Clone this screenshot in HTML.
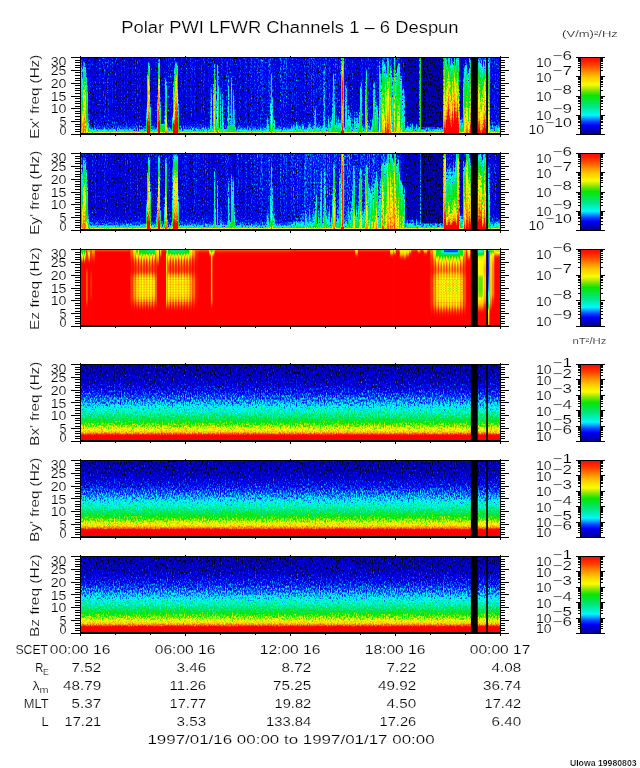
<!DOCTYPE html>
<html><head><meta charset="utf-8"><title>Polar PWI LFWR Channels 1 - 6 Despun</title>
<style>html,body{margin:0;padding:0;background:#fff;overflow:hidden}svg{display:block}
.l{mix-blend-mode:lighten}.d{mix-blend-mode:darken}
text{font-family:"Liberation Sans",sans-serif;fill:#000;stroke:#fff;stroke-width:0.18px}</style>
</head><body>
<svg width="640" height="768" viewBox="0 0 640 768">
<defs>

<filter id="f0" filterUnits="userSpaceOnUse" x="80" y="57" width="421" height="78" color-interpolation-filters="sRGB">
<feTurbulence type="fractalNoise" baseFrequency="0.91 0.5" numOctaves="2" seed="3" result="t"/>
<feColorMatrix in="t" type="matrix" values="1 0 0 0 0  1 0 0 0 0  1 0 0 0 0  0 0 0 0 1" result="n0"/>
<feComponentTransfer in="n0" result="n"><feFuncR type="table" tableValues="0.340 0.340 0.340 0.340 0.360 0.390 0.440 0.460 0.474 0.487 0.500 0.511 0.522 0.533 0.545 0.558 0.572 0.585 0.595 0.600 0.600"/><feFuncG type="table" tableValues="0.340 0.340 0.340 0.340 0.360 0.390 0.440 0.460 0.474 0.487 0.500 0.511 0.522 0.533 0.545 0.558 0.572 0.585 0.595 0.600 0.600"/><feFuncB type="table" tableValues="0.340 0.340 0.340 0.340 0.360 0.390 0.440 0.460 0.474 0.487 0.500 0.511 0.522 0.533 0.545 0.558 0.572 0.585 0.595 0.600 0.600"/></feComponentTransfer>
<feComposite in="SourceGraphic" in2="n" operator="arithmetic" k1="0" k2="1" k3="1" k4="-0.5" result="s"/>
<feComponentTransfer in="s"><feFuncR type="table" tableValues="0 0 0 0 0 0 0 0 0 0 0 0 0 0 0 0 0 0 0 0 0 0 0 0 0 0 0 0 0 0 0 0 0 0 0 0 0 0 0 0 0 0 0 0 0 0 0 0 0 0 0 0 0 0 0 0 0 0 0 0 0 0 0 0 0 0 0 0 0 0 0 0 0 0 0 0 0 0 0 0 0 0 0 0 0 0 0 0 0 0 0 0 0 0.002 0.052 0.101 0.151 0.201 0.25 0.3 0.35 0.399 0.449 0.499 0.548 0.596 0.636 0.677 0.717 0.757 0.797 0.838 0.878 0.918 0.958 0.998 1 1 1 1 1 1 1 1 1 1 1 1 1 1 1 1 1 1 1 1 1 1 1 1 1 1 1 1 1 1 1 1 1 1 1 1 1 1 1 1 1 1 1 1 1 1 1 1 1 1 1 1 1 1 1 1 1 1 1 1 1 1 1 1 1 1 1 1 1 1 1 1 1 1 1 1 1 1 1 1 1 1 1 1 1"/><feFuncG type="table" tableValues="0 0 0 0 0 0 0 0 0 0 0 0 0 0 0 0 0 0 0 0 0 0 0 0 0 0 0 0 0 0 0 0 0.013 0.053 0.093 0.133 0.174 0.214 0.254 0.294 0.334 0.374 0.423 0.478 0.533 0.588 0.643 0.698 0.753 0.808 0.863 0.919 0.974 0.997 0.992 0.987 0.982 0.976 0.971 0.966 0.961 0.955 0.95 0.945 0.94 0.934 0.929 0.924 0.919 0.913 0.908 0.903 0.902 0.902 0.902 0.902 0.902 0.902 0.902 0.902 0.902 0.902 0.902 0.902 0.902 0.902 0.902 0.902 0.902 0.902 0.902 0.902 0.902 0.902 0.902 0.902 0.902 0.902 0.902 0.902 0.902 0.902 0.902 0.902 0.902 0.904 0.913 0.923 0.933 0.942 0.952 0.961 0.971 0.98 0.99 1 0.987 0.972 0.958 0.944 0.93 0.916 0.902 0.888 0.874 0.86 0.846 0.832 0.818 0.804 0.79 0.772 0.751 0.73 0.709 0.688 0.667 0.646 0.625 0.604 0.583 0.562 0.541 0.52 0.499 0.479 0.458 0.438 0.417 0.396 0.376 0.355 0.334 0.314 0.293 0.272 0.252 0.232 0.217 0.201 0.186 0.17 0.155 0.139 0.124 0.108 0.093 0.077 0.062 0.046 0.031 0.015 0 0 0 0 0 0 0 0 0 0 0 0 0 0 0 0 0 0 0 0 0 0 0 0 0 0 0 0 0"/><feFuncB type="table" tableValues="0 0 0 0 0 0 0 0 0 0 0.085 0.297 0.51 0.535 0.56 0.585 0.609 0.634 0.659 0.684 0.709 0.734 0.759 0.784 0.809 0.834 0.859 0.883 0.908 0.933 0.958 0.983 1 1 1 1 1 1 1 1 1 1 1 1 1 1 1 1 1 1 1 1 1 0.986 0.96 0.934 0.908 0.882 0.855 0.829 0.803 0.777 0.751 0.725 0.698 0.672 0.646 0.62 0.594 0.567 0.541 0.515 0.491 0.468 0.444 0.421 0.397 0.374 0.35 0.327 0.304 0.28 0.257 0.233 0.21 0.186 0.163 0.14 0.116 0.093 0.069 0.046 0.022 0 0 0 0 0 0 0 0 0 0 0 0 0 0 0 0 0 0 0 0 0 0 0 0 0 0 0 0 0 0 0 0 0 0 0 0 0 0 0 0 0 0 0 0 0 0 0 0 0 0 0 0 0 0 0 0 0 0 0 0 0 0 0 0 0 0 0 0 0 0 0 0 0 0 0 0 0 0 0 0 0 0 0 0 0 0 0 0 0 0 0 0 0 0 0 0 0 0 0 0 0 0 0 0 0 0 0 0"/></feComponentTransfer>
</filter>

<filter id="f1" filterUnits="userSpaceOnUse" x="80" y="153" width="421" height="78" color-interpolation-filters="sRGB">
<feTurbulence type="fractalNoise" baseFrequency="0.91 0.5" numOctaves="2" seed="10" result="t"/>
<feColorMatrix in="t" type="matrix" values="1 0 0 0 0  1 0 0 0 0  1 0 0 0 0  0 0 0 0 1" result="n0"/>
<feComponentTransfer in="n0" result="n"><feFuncR type="table" tableValues="0.340 0.340 0.340 0.340 0.360 0.390 0.440 0.460 0.474 0.487 0.500 0.511 0.522 0.533 0.545 0.558 0.572 0.585 0.595 0.600 0.600"/><feFuncG type="table" tableValues="0.340 0.340 0.340 0.340 0.360 0.390 0.440 0.460 0.474 0.487 0.500 0.511 0.522 0.533 0.545 0.558 0.572 0.585 0.595 0.600 0.600"/><feFuncB type="table" tableValues="0.340 0.340 0.340 0.340 0.360 0.390 0.440 0.460 0.474 0.487 0.500 0.511 0.522 0.533 0.545 0.558 0.572 0.585 0.595 0.600 0.600"/></feComponentTransfer>
<feComposite in="SourceGraphic" in2="n" operator="arithmetic" k1="0" k2="1" k3="1" k4="-0.5" result="s"/>
<feComponentTransfer in="s"><feFuncR type="table" tableValues="0 0 0 0 0 0 0 0 0 0 0 0 0 0 0 0 0 0 0 0 0 0 0 0 0 0 0 0 0 0 0 0 0 0 0 0 0 0 0 0 0 0 0 0 0 0 0 0 0 0 0 0 0 0 0 0 0 0 0 0 0 0 0 0 0 0 0 0 0 0 0 0 0 0 0 0 0 0 0 0 0 0 0 0 0 0 0 0 0 0 0 0 0 0.002 0.052 0.101 0.151 0.201 0.25 0.3 0.35 0.399 0.449 0.499 0.548 0.596 0.636 0.677 0.717 0.757 0.797 0.838 0.878 0.918 0.958 0.998 1 1 1 1 1 1 1 1 1 1 1 1 1 1 1 1 1 1 1 1 1 1 1 1 1 1 1 1 1 1 1 1 1 1 1 1 1 1 1 1 1 1 1 1 1 1 1 1 1 1 1 1 1 1 1 1 1 1 1 1 1 1 1 1 1 1 1 1 1 1 1 1 1 1 1 1 1 1 1 1 1 1 1 1 1"/><feFuncG type="table" tableValues="0 0 0 0 0 0 0 0 0 0 0 0 0 0 0 0 0 0 0 0 0 0 0 0 0 0 0 0 0 0 0 0 0.013 0.053 0.093 0.133 0.174 0.214 0.254 0.294 0.334 0.374 0.423 0.478 0.533 0.588 0.643 0.698 0.753 0.808 0.863 0.919 0.974 0.997 0.992 0.987 0.982 0.976 0.971 0.966 0.961 0.955 0.95 0.945 0.94 0.934 0.929 0.924 0.919 0.913 0.908 0.903 0.902 0.902 0.902 0.902 0.902 0.902 0.902 0.902 0.902 0.902 0.902 0.902 0.902 0.902 0.902 0.902 0.902 0.902 0.902 0.902 0.902 0.902 0.902 0.902 0.902 0.902 0.902 0.902 0.902 0.902 0.902 0.902 0.902 0.904 0.913 0.923 0.933 0.942 0.952 0.961 0.971 0.98 0.99 1 0.987 0.972 0.958 0.944 0.93 0.916 0.902 0.888 0.874 0.86 0.846 0.832 0.818 0.804 0.79 0.772 0.751 0.73 0.709 0.688 0.667 0.646 0.625 0.604 0.583 0.562 0.541 0.52 0.499 0.479 0.458 0.438 0.417 0.396 0.376 0.355 0.334 0.314 0.293 0.272 0.252 0.232 0.217 0.201 0.186 0.17 0.155 0.139 0.124 0.108 0.093 0.077 0.062 0.046 0.031 0.015 0 0 0 0 0 0 0 0 0 0 0 0 0 0 0 0 0 0 0 0 0 0 0 0 0 0 0 0 0"/><feFuncB type="table" tableValues="0 0 0 0 0 0 0 0 0 0 0.085 0.297 0.51 0.535 0.56 0.585 0.609 0.634 0.659 0.684 0.709 0.734 0.759 0.784 0.809 0.834 0.859 0.883 0.908 0.933 0.958 0.983 1 1 1 1 1 1 1 1 1 1 1 1 1 1 1 1 1 1 1 1 1 0.986 0.96 0.934 0.908 0.882 0.855 0.829 0.803 0.777 0.751 0.725 0.698 0.672 0.646 0.62 0.594 0.567 0.541 0.515 0.491 0.468 0.444 0.421 0.397 0.374 0.35 0.327 0.304 0.28 0.257 0.233 0.21 0.186 0.163 0.14 0.116 0.093 0.069 0.046 0.022 0 0 0 0 0 0 0 0 0 0 0 0 0 0 0 0 0 0 0 0 0 0 0 0 0 0 0 0 0 0 0 0 0 0 0 0 0 0 0 0 0 0 0 0 0 0 0 0 0 0 0 0 0 0 0 0 0 0 0 0 0 0 0 0 0 0 0 0 0 0 0 0 0 0 0 0 0 0 0 0 0 0 0 0 0 0 0 0 0 0 0 0 0 0 0 0 0 0 0 0 0 0 0 0 0 0 0 0"/></feComponentTransfer>
</filter>
<filter id="f2" filterUnits="userSpaceOnUse" x="80" y="249" width="421" height="78" color-interpolation-filters="sRGB"><feComponentTransfer><feFuncR type="table" tableValues="0 0 0 0 0 0 0 0 0 0 0 0 0 0 0 0 0 0 0 0 0 0 0 0 0 0 0 0 0 0 0 0 0 0 0 0 0 0 0 0 0 0 0 0 0 0 0 0 0 0 0 0 0 0 0 0 0 0 0 0 0 0 0 0 0 0 0 0 0 0 0 0 0 0 0 0 0 0 0 0 0 0 0 0 0 0 0 0 0 0 0 0 0 0.002 0.052 0.101 0.151 0.201 0.25 0.3 0.35 0.399 0.449 0.499 0.548 0.596 0.636 0.677 0.717 0.757 0.797 0.838 0.878 0.918 0.958 0.998 1 1 1 1 1 1 1 1 1 1 1 1 1 1 1 1 1 1 1 1 1 1 1 1 1 1 1 1 1 1 1 1 1 1 1 1 1 1 1 1 1 1 1 1 1 1 1 1 1 1 1 1 1 1 1 1 1 1 1 1 1 1 1 1 1 1 1 1 1 1 1 1 1 1 1 1 1 1 1 1 1 1 1 1 1"/><feFuncG type="table" tableValues="0 0 0 0 0 0 0 0 0 0 0 0 0 0 0 0 0 0 0 0 0 0 0 0 0 0 0 0 0 0 0 0 0.013 0.053 0.093 0.133 0.174 0.214 0.254 0.294 0.334 0.374 0.423 0.478 0.533 0.588 0.643 0.698 0.753 0.808 0.863 0.919 0.974 0.997 0.992 0.987 0.982 0.976 0.971 0.966 0.961 0.955 0.95 0.945 0.94 0.934 0.929 0.924 0.919 0.913 0.908 0.903 0.902 0.902 0.902 0.902 0.902 0.902 0.902 0.902 0.902 0.902 0.902 0.902 0.902 0.902 0.902 0.902 0.902 0.902 0.902 0.902 0.902 0.902 0.902 0.902 0.902 0.902 0.902 0.902 0.902 0.902 0.902 0.902 0.902 0.904 0.913 0.923 0.933 0.942 0.952 0.961 0.971 0.98 0.99 1 0.987 0.972 0.958 0.944 0.93 0.916 0.902 0.888 0.874 0.86 0.846 0.832 0.818 0.804 0.79 0.772 0.751 0.73 0.709 0.688 0.667 0.646 0.625 0.604 0.583 0.562 0.541 0.52 0.499 0.479 0.458 0.438 0.417 0.396 0.376 0.355 0.334 0.314 0.293 0.272 0.252 0.232 0.217 0.201 0.186 0.17 0.155 0.139 0.124 0.108 0.093 0.077 0.062 0.046 0.031 0.015 0 0 0 0 0 0 0 0 0 0 0 0 0 0 0 0 0 0 0 0 0 0 0 0 0 0 0 0 0"/><feFuncB type="table" tableValues="0 0 0 0 0 0 0 0 0 0 0.085 0.297 0.51 0.535 0.56 0.585 0.609 0.634 0.659 0.684 0.709 0.734 0.759 0.784 0.809 0.834 0.859 0.883 0.908 0.933 0.958 0.983 1 1 1 1 1 1 1 1 1 1 1 1 1 1 1 1 1 1 1 1 1 0.986 0.96 0.934 0.908 0.882 0.855 0.829 0.803 0.777 0.751 0.725 0.698 0.672 0.646 0.62 0.594 0.567 0.541 0.515 0.491 0.468 0.444 0.421 0.397 0.374 0.35 0.327 0.304 0.28 0.257 0.233 0.21 0.186 0.163 0.14 0.116 0.093 0.069 0.046 0.022 0 0 0 0 0 0 0 0 0 0 0 0 0 0 0 0 0 0 0 0 0 0 0 0 0 0 0 0 0 0 0 0 0 0 0 0 0 0 0 0 0 0 0 0 0 0 0 0 0 0 0 0 0 0 0 0 0 0 0 0 0 0 0 0 0 0 0 0 0 0 0 0 0 0 0 0 0 0 0 0 0 0 0 0 0 0 0 0 0 0 0 0 0 0 0 0 0 0 0 0 0 0 0 0 0 0 0 0"/></feComponentTransfer></filter>

<filter id="f3" filterUnits="userSpaceOnUse" x="80" y="364" width="421" height="78" color-interpolation-filters="sRGB">
<feTurbulence type="fractalNoise" baseFrequency="0.83 0.43" numOctaves="2" seed="24" result="t"/>
<feColorMatrix in="t" type="matrix" values="1 0 0 0 0  1 0 0 0 0  1 0 0 0 0  0 0 0 0 1" result="n0"/>
<feComponentTransfer in="n0" result="n"><feFuncR type="table" tableValues="0.360 0.374 0.388 0.402 0.416 0.430 0.444 0.458 0.472 0.486 0.500 0.514 0.528 0.542 0.556 0.570 0.584 0.598 0.612 0.626 0.640"/><feFuncG type="table" tableValues="0.360 0.374 0.388 0.402 0.416 0.430 0.444 0.458 0.472 0.486 0.500 0.514 0.528 0.542 0.556 0.570 0.584 0.598 0.612 0.626 0.640"/><feFuncB type="table" tableValues="0.360 0.374 0.388 0.402 0.416 0.430 0.444 0.458 0.472 0.486 0.500 0.514 0.528 0.542 0.556 0.570 0.584 0.598 0.612 0.626 0.640"/></feComponentTransfer>
<feComposite in="SourceGraphic" in2="n" operator="arithmetic" k1="0" k2="1" k3="1" k4="-0.5" result="s"/>
<feComponentTransfer in="s"><feFuncR type="table" tableValues="0 0 0 0 0 0 0 0 0 0 0 0 0 0 0 0 0 0 0 0 0 0 0 0 0 0 0 0 0 0 0 0 0 0 0 0 0 0 0 0 0 0 0 0 0 0 0 0 0 0 0 0 0 0 0 0 0 0 0 0 0 0 0 0 0 0 0 0 0 0 0 0 0 0 0 0 0 0 0 0 0 0 0 0 0 0 0 0 0 0 0 0 0 0.002 0.052 0.101 0.151 0.201 0.25 0.3 0.35 0.399 0.449 0.499 0.548 0.596 0.636 0.677 0.717 0.757 0.797 0.838 0.878 0.918 0.958 0.998 1 1 1 1 1 1 1 1 1 1 1 1 1 1 1 1 1 1 1 1 1 1 1 1 1 1 1 1 1 1 1 1 1 1 1 1 1 1 1 1 1 1 1 1 1 1 1 1 1 1 1 1 1 1 1 1 1 1 1 1 1 1 1 1 1 1 1 1 1 1 1 1 1 1 1 1 1 1 1 1 1 1 1 1 1"/><feFuncG type="table" tableValues="0 0 0 0 0 0 0 0 0 0 0 0 0 0 0 0 0 0 0 0 0 0 0 0 0 0 0 0 0 0 0 0 0.013 0.053 0.093 0.133 0.174 0.214 0.254 0.294 0.334 0.374 0.423 0.478 0.533 0.588 0.643 0.698 0.753 0.808 0.863 0.919 0.974 0.997 0.992 0.987 0.982 0.976 0.971 0.966 0.961 0.955 0.95 0.945 0.94 0.934 0.929 0.924 0.919 0.913 0.908 0.903 0.902 0.902 0.902 0.902 0.902 0.902 0.902 0.902 0.902 0.902 0.902 0.902 0.902 0.902 0.902 0.902 0.902 0.902 0.902 0.902 0.902 0.902 0.902 0.902 0.902 0.902 0.902 0.902 0.902 0.902 0.902 0.902 0.902 0.904 0.913 0.923 0.933 0.942 0.952 0.961 0.971 0.98 0.99 1 0.987 0.972 0.958 0.944 0.93 0.916 0.902 0.888 0.874 0.86 0.846 0.832 0.818 0.804 0.79 0.772 0.751 0.73 0.709 0.688 0.667 0.646 0.625 0.604 0.583 0.562 0.541 0.52 0.499 0.479 0.458 0.438 0.417 0.396 0.376 0.355 0.334 0.314 0.293 0.272 0.252 0.232 0.217 0.201 0.186 0.17 0.155 0.139 0.124 0.108 0.093 0.077 0.062 0.046 0.031 0.015 0 0 0 0 0 0 0 0 0 0 0 0 0 0 0 0 0 0 0 0 0 0 0 0 0 0 0 0 0"/><feFuncB type="table" tableValues="0 0 0 0 0 0 0 0 0 0 0.085 0.297 0.51 0.535 0.56 0.585 0.609 0.634 0.659 0.684 0.709 0.734 0.759 0.784 0.809 0.834 0.859 0.883 0.908 0.933 0.958 0.983 1 1 1 1 1 1 1 1 1 1 1 1 1 1 1 1 1 1 1 1 1 0.986 0.96 0.934 0.908 0.882 0.855 0.829 0.803 0.777 0.751 0.725 0.698 0.672 0.646 0.62 0.594 0.567 0.541 0.515 0.491 0.468 0.444 0.421 0.397 0.374 0.35 0.327 0.304 0.28 0.257 0.233 0.21 0.186 0.163 0.14 0.116 0.093 0.069 0.046 0.022 0 0 0 0 0 0 0 0 0 0 0 0 0 0 0 0 0 0 0 0 0 0 0 0 0 0 0 0 0 0 0 0 0 0 0 0 0 0 0 0 0 0 0 0 0 0 0 0 0 0 0 0 0 0 0 0 0 0 0 0 0 0 0 0 0 0 0 0 0 0 0 0 0 0 0 0 0 0 0 0 0 0 0 0 0 0 0 0 0 0 0 0 0 0 0 0 0 0 0 0 0 0 0 0 0 0 0 0"/></feComponentTransfer>
</filter>

<filter id="f4" filterUnits="userSpaceOnUse" x="80" y="460" width="421" height="78" color-interpolation-filters="sRGB">
<feTurbulence type="fractalNoise" baseFrequency="0.83 0.43" numOctaves="2" seed="31" result="t"/>
<feColorMatrix in="t" type="matrix" values="1 0 0 0 0  1 0 0 0 0  1 0 0 0 0  0 0 0 0 1" result="n0"/>
<feComponentTransfer in="n0" result="n"><feFuncR type="table" tableValues="0.360 0.374 0.388 0.402 0.416 0.430 0.444 0.458 0.472 0.486 0.500 0.514 0.528 0.542 0.556 0.570 0.584 0.598 0.612 0.626 0.640"/><feFuncG type="table" tableValues="0.360 0.374 0.388 0.402 0.416 0.430 0.444 0.458 0.472 0.486 0.500 0.514 0.528 0.542 0.556 0.570 0.584 0.598 0.612 0.626 0.640"/><feFuncB type="table" tableValues="0.360 0.374 0.388 0.402 0.416 0.430 0.444 0.458 0.472 0.486 0.500 0.514 0.528 0.542 0.556 0.570 0.584 0.598 0.612 0.626 0.640"/></feComponentTransfer>
<feComposite in="SourceGraphic" in2="n" operator="arithmetic" k1="0" k2="1" k3="1" k4="-0.5" result="s"/>
<feComponentTransfer in="s"><feFuncR type="table" tableValues="0 0 0 0 0 0 0 0 0 0 0 0 0 0 0 0 0 0 0 0 0 0 0 0 0 0 0 0 0 0 0 0 0 0 0 0 0 0 0 0 0 0 0 0 0 0 0 0 0 0 0 0 0 0 0 0 0 0 0 0 0 0 0 0 0 0 0 0 0 0 0 0 0 0 0 0 0 0 0 0 0 0 0 0 0 0 0 0 0 0 0 0 0 0.002 0.052 0.101 0.151 0.201 0.25 0.3 0.35 0.399 0.449 0.499 0.548 0.596 0.636 0.677 0.717 0.757 0.797 0.838 0.878 0.918 0.958 0.998 1 1 1 1 1 1 1 1 1 1 1 1 1 1 1 1 1 1 1 1 1 1 1 1 1 1 1 1 1 1 1 1 1 1 1 1 1 1 1 1 1 1 1 1 1 1 1 1 1 1 1 1 1 1 1 1 1 1 1 1 1 1 1 1 1 1 1 1 1 1 1 1 1 1 1 1 1 1 1 1 1 1 1 1 1"/><feFuncG type="table" tableValues="0 0 0 0 0 0 0 0 0 0 0 0 0 0 0 0 0 0 0 0 0 0 0 0 0 0 0 0 0 0 0 0 0.013 0.053 0.093 0.133 0.174 0.214 0.254 0.294 0.334 0.374 0.423 0.478 0.533 0.588 0.643 0.698 0.753 0.808 0.863 0.919 0.974 0.997 0.992 0.987 0.982 0.976 0.971 0.966 0.961 0.955 0.95 0.945 0.94 0.934 0.929 0.924 0.919 0.913 0.908 0.903 0.902 0.902 0.902 0.902 0.902 0.902 0.902 0.902 0.902 0.902 0.902 0.902 0.902 0.902 0.902 0.902 0.902 0.902 0.902 0.902 0.902 0.902 0.902 0.902 0.902 0.902 0.902 0.902 0.902 0.902 0.902 0.902 0.902 0.904 0.913 0.923 0.933 0.942 0.952 0.961 0.971 0.98 0.99 1 0.987 0.972 0.958 0.944 0.93 0.916 0.902 0.888 0.874 0.86 0.846 0.832 0.818 0.804 0.79 0.772 0.751 0.73 0.709 0.688 0.667 0.646 0.625 0.604 0.583 0.562 0.541 0.52 0.499 0.479 0.458 0.438 0.417 0.396 0.376 0.355 0.334 0.314 0.293 0.272 0.252 0.232 0.217 0.201 0.186 0.17 0.155 0.139 0.124 0.108 0.093 0.077 0.062 0.046 0.031 0.015 0 0 0 0 0 0 0 0 0 0 0 0 0 0 0 0 0 0 0 0 0 0 0 0 0 0 0 0 0"/><feFuncB type="table" tableValues="0 0 0 0 0 0 0 0 0 0 0.085 0.297 0.51 0.535 0.56 0.585 0.609 0.634 0.659 0.684 0.709 0.734 0.759 0.784 0.809 0.834 0.859 0.883 0.908 0.933 0.958 0.983 1 1 1 1 1 1 1 1 1 1 1 1 1 1 1 1 1 1 1 1 1 0.986 0.96 0.934 0.908 0.882 0.855 0.829 0.803 0.777 0.751 0.725 0.698 0.672 0.646 0.62 0.594 0.567 0.541 0.515 0.491 0.468 0.444 0.421 0.397 0.374 0.35 0.327 0.304 0.28 0.257 0.233 0.21 0.186 0.163 0.14 0.116 0.093 0.069 0.046 0.022 0 0 0 0 0 0 0 0 0 0 0 0 0 0 0 0 0 0 0 0 0 0 0 0 0 0 0 0 0 0 0 0 0 0 0 0 0 0 0 0 0 0 0 0 0 0 0 0 0 0 0 0 0 0 0 0 0 0 0 0 0 0 0 0 0 0 0 0 0 0 0 0 0 0 0 0 0 0 0 0 0 0 0 0 0 0 0 0 0 0 0 0 0 0 0 0 0 0 0 0 0 0 0 0 0 0 0 0"/></feComponentTransfer>
</filter>

<filter id="f5" filterUnits="userSpaceOnUse" x="80" y="556" width="421" height="78" color-interpolation-filters="sRGB">
<feTurbulence type="fractalNoise" baseFrequency="0.83 0.43" numOctaves="2" seed="38" result="t"/>
<feColorMatrix in="t" type="matrix" values="1 0 0 0 0  1 0 0 0 0  1 0 0 0 0  0 0 0 0 1" result="n0"/>
<feComponentTransfer in="n0" result="n"><feFuncR type="table" tableValues="0.360 0.374 0.388 0.402 0.416 0.430 0.444 0.458 0.472 0.486 0.500 0.514 0.528 0.542 0.556 0.570 0.584 0.598 0.612 0.626 0.640"/><feFuncG type="table" tableValues="0.360 0.374 0.388 0.402 0.416 0.430 0.444 0.458 0.472 0.486 0.500 0.514 0.528 0.542 0.556 0.570 0.584 0.598 0.612 0.626 0.640"/><feFuncB type="table" tableValues="0.360 0.374 0.388 0.402 0.416 0.430 0.444 0.458 0.472 0.486 0.500 0.514 0.528 0.542 0.556 0.570 0.584 0.598 0.612 0.626 0.640"/></feComponentTransfer>
<feComposite in="SourceGraphic" in2="n" operator="arithmetic" k1="0" k2="1" k3="1" k4="-0.5" result="s"/>
<feComponentTransfer in="s"><feFuncR type="table" tableValues="0 0 0 0 0 0 0 0 0 0 0 0 0 0 0 0 0 0 0 0 0 0 0 0 0 0 0 0 0 0 0 0 0 0 0 0 0 0 0 0 0 0 0 0 0 0 0 0 0 0 0 0 0 0 0 0 0 0 0 0 0 0 0 0 0 0 0 0 0 0 0 0 0 0 0 0 0 0 0 0 0 0 0 0 0 0 0 0 0 0 0 0 0 0.002 0.052 0.101 0.151 0.201 0.25 0.3 0.35 0.399 0.449 0.499 0.548 0.596 0.636 0.677 0.717 0.757 0.797 0.838 0.878 0.918 0.958 0.998 1 1 1 1 1 1 1 1 1 1 1 1 1 1 1 1 1 1 1 1 1 1 1 1 1 1 1 1 1 1 1 1 1 1 1 1 1 1 1 1 1 1 1 1 1 1 1 1 1 1 1 1 1 1 1 1 1 1 1 1 1 1 1 1 1 1 1 1 1 1 1 1 1 1 1 1 1 1 1 1 1 1 1 1 1"/><feFuncG type="table" tableValues="0 0 0 0 0 0 0 0 0 0 0 0 0 0 0 0 0 0 0 0 0 0 0 0 0 0 0 0 0 0 0 0 0.013 0.053 0.093 0.133 0.174 0.214 0.254 0.294 0.334 0.374 0.423 0.478 0.533 0.588 0.643 0.698 0.753 0.808 0.863 0.919 0.974 0.997 0.992 0.987 0.982 0.976 0.971 0.966 0.961 0.955 0.95 0.945 0.94 0.934 0.929 0.924 0.919 0.913 0.908 0.903 0.902 0.902 0.902 0.902 0.902 0.902 0.902 0.902 0.902 0.902 0.902 0.902 0.902 0.902 0.902 0.902 0.902 0.902 0.902 0.902 0.902 0.902 0.902 0.902 0.902 0.902 0.902 0.902 0.902 0.902 0.902 0.902 0.902 0.904 0.913 0.923 0.933 0.942 0.952 0.961 0.971 0.98 0.99 1 0.987 0.972 0.958 0.944 0.93 0.916 0.902 0.888 0.874 0.86 0.846 0.832 0.818 0.804 0.79 0.772 0.751 0.73 0.709 0.688 0.667 0.646 0.625 0.604 0.583 0.562 0.541 0.52 0.499 0.479 0.458 0.438 0.417 0.396 0.376 0.355 0.334 0.314 0.293 0.272 0.252 0.232 0.217 0.201 0.186 0.17 0.155 0.139 0.124 0.108 0.093 0.077 0.062 0.046 0.031 0.015 0 0 0 0 0 0 0 0 0 0 0 0 0 0 0 0 0 0 0 0 0 0 0 0 0 0 0 0 0"/><feFuncB type="table" tableValues="0 0 0 0 0 0 0 0 0 0 0.085 0.297 0.51 0.535 0.56 0.585 0.609 0.634 0.659 0.684 0.709 0.734 0.759 0.784 0.809 0.834 0.859 0.883 0.908 0.933 0.958 0.983 1 1 1 1 1 1 1 1 1 1 1 1 1 1 1 1 1 1 1 1 1 0.986 0.96 0.934 0.908 0.882 0.855 0.829 0.803 0.777 0.751 0.725 0.698 0.672 0.646 0.62 0.594 0.567 0.541 0.515 0.491 0.468 0.444 0.421 0.397 0.374 0.35 0.327 0.304 0.28 0.257 0.233 0.21 0.186 0.163 0.14 0.116 0.093 0.069 0.046 0.022 0 0 0 0 0 0 0 0 0 0 0 0 0 0 0 0 0 0 0 0 0 0 0 0 0 0 0 0 0 0 0 0 0 0 0 0 0 0 0 0 0 0 0 0 0 0 0 0 0 0 0 0 0 0 0 0 0 0 0 0 0 0 0 0 0 0 0 0 0 0 0 0 0 0 0 0 0 0 0 0 0 0 0 0 0 0 0 0 0 0 0 0 0 0 0 0 0 0 0 0 0 0 0 0 0 0 0 0"/></feComponentTransfer>
</filter>
<filter id="bl2" x="-20%" y="-20%" width="140%" height="140%" color-interpolation-filters="sRGB"><feGaussianBlur stdDeviation="1.6 2.5"/></filter>
<filter id="bl" x="-5%" y="-5%" width="110%" height="110%" color-interpolation-filters="sRGB"><feGaussianBlur stdDeviation="0.6 0.9"/></filter>
<linearGradient id="g0" x1="0" y1="0" x2="0" y2="1"><stop offset="0.000" stop-color="#202020"/><stop offset="0.325" stop-color="#1e1e1e"/><stop offset="0.714" stop-color="#1e1e1e"/><stop offset="0.805" stop-color="#222222"/><stop offset="0.870" stop-color="#282828"/><stop offset="0.916" stop-color="#343434"/><stop offset="0.948" stop-color="#464646"/><stop offset="0.966" stop-color="#616161"/><stop offset="0.977" stop-color="#9e9e9e"/><stop offset="1.000" stop-color="#9e9e9e"/></linearGradient>
<linearGradient id="g1" x1="0" y1="0" x2="0" y2="1"><stop offset="0.000" stop-color="#222222"/><stop offset="0.519" stop-color="#222222"/><stop offset="1.000" stop-color="#202020"/></linearGradient>
<linearGradient id="g2" x1="0" y1="0" x2="0" y2="1"><stop offset="0.000" stop-color="#2a2a2a"/><stop offset="0.519" stop-color="#282828"/><stop offset="1.000" stop-color="#262626"/></linearGradient>
<linearGradient id="g3" x1="0" y1="0" x2="0" y2="1"><stop offset="0.000" stop-color="#242424"/><stop offset="0.519" stop-color="#222222"/><stop offset="1.000" stop-color="#222222"/></linearGradient>
<linearGradient id="g4" x1="0" y1="0" x2="0" y2="1"><stop offset="0.000" stop-color="#1e1e1e"/><stop offset="0.519" stop-color="#1e1e1e"/><stop offset="1.000" stop-color="#1e1e1e"/></linearGradient>
<linearGradient id="g5" x1="0" y1="0" x2="0" y2="1"><stop offset="0.000" stop-color="#262626"/><stop offset="0.519" stop-color="#242424"/><stop offset="1.000" stop-color="#222222"/></linearGradient>
<linearGradient id="g6" x1="0" y1="0" x2="0" y2="1"><stop offset="0.000" stop-color="#1c1c1c"/><stop offset="0.519" stop-color="#1c1c1c"/><stop offset="1.000" stop-color="#1c1c1c"/></linearGradient>
<linearGradient id="g7" x1="0" y1="0" x2="0" y2="1"><stop offset="0.000" stop-color="#262626"/><stop offset="0.519" stop-color="#242424"/><stop offset="1.000" stop-color="#242424"/></linearGradient>
<linearGradient id="g8" x1="0" y1="0" x2="0" y2="1"><stop offset="0.000" stop-color="#2a2a2a"/><stop offset="0.519" stop-color="#282828"/><stop offset="1.000" stop-color="#282828"/></linearGradient>
<linearGradient id="g9" x1="0" y1="0" x2="0" y2="1"><stop offset="0.000" stop-color="#1e1e1e"/><stop offset="0.519" stop-color="#1e1e1e"/><stop offset="1.000" stop-color="#1c1c1c"/></linearGradient>
<linearGradient id="g10" x1="0" y1="0" x2="0" y2="1"><stop offset="0.000" stop-color="#2c2c2c"/><stop offset="0.519" stop-color="#2a2a2a"/><stop offset="1.000" stop-color="#282828"/></linearGradient>
<linearGradient id="g11" x1="0" y1="0" x2="0" y2="1"><stop offset="0.000" stop-color="#282828"/><stop offset="0.519" stop-color="#262626"/><stop offset="1.000" stop-color="#262626"/></linearGradient>
<linearGradient id="g12" x1="0" y1="0" x2="0" y2="1"><stop offset="0.000" stop-color="#202020"/><stop offset="0.519" stop-color="#202020"/><stop offset="1.000" stop-color="#1e1e1e"/></linearGradient>
<linearGradient id="g13" x1="0" y1="0" x2="0" y2="1"><stop offset="0.000" stop-color="#202020"/><stop offset="0.519" stop-color="#1e1e1e"/><stop offset="1.000" stop-color="#1e1e1e"/></linearGradient>
<linearGradient id="g14" x1="0" y1="0" x2="0" y2="1"><stop offset="0.000" stop-color="#282828"/><stop offset="0.519" stop-color="#262626"/><stop offset="1.000" stop-color="#242424"/></linearGradient>
<linearGradient id="g15" x1="0" y1="0" x2="0" y2="1"><stop offset="0.000" stop-color="#1a1a1a"/><stop offset="0.519" stop-color="#1a1a1a"/><stop offset="1.000" stop-color="#1a1a1a"/></linearGradient>
<linearGradient id="g16" x1="0" y1="0" x2="0" y2="1"><stop offset="0.000" stop-color="#1e1e1e"/><stop offset="0.519" stop-color="#1c1c1c"/><stop offset="1.000" stop-color="#1c1c1c"/></linearGradient>
<linearGradient id="g17" x1="0" y1="0" x2="0" y2="1"><stop offset="0.000" stop-color="#282828"/><stop offset="0.519" stop-color="#282828"/><stop offset="1.000" stop-color="#262626"/></linearGradient>
<linearGradient id="g18" x1="0" y1="0" x2="0" y2="1"><stop offset="0.000" stop-color="#202020"/><stop offset="0.519" stop-color="#202020"/><stop offset="1.000" stop-color="#202020"/></linearGradient>
<linearGradient id="g19" x1="0" y1="0" x2="0" y2="1"><stop offset="0.000" stop-color="#242424"/><stop offset="0.519" stop-color="#242424"/><stop offset="1.000" stop-color="#222222"/></linearGradient>
<linearGradient id="g20" x1="0" y1="0" x2="0" y2="1"><stop offset="0.000" stop-color="#262626"/><stop offset="0.519" stop-color="#262626"/><stop offset="1.000" stop-color="#242424"/></linearGradient>
<linearGradient id="g21" x1="0" y1="0" x2="0" y2="1"><stop offset="0.000" stop-color="#222222"/><stop offset="0.519" stop-color="#202020"/><stop offset="1.000" stop-color="#202020"/></linearGradient>
<linearGradient id="g22" x1="0" y1="0" x2="0" y2="1"><stop offset="0.000" stop-color="#1c1c1c"/><stop offset="0.519" stop-color="#1c1c1c"/><stop offset="1.000" stop-color="#1a1a1a"/></linearGradient>
<linearGradient id="g23" x1="0" y1="0" x2="0" y2="1"><stop offset="0.000" stop-color="#2a2a2a"/><stop offset="0.519" stop-color="#2a2a2a"/><stop offset="1.000" stop-color="#282828"/></linearGradient>
<linearGradient id="g24" x1="0" y1="0" x2="0" y2="1"><stop offset="0.000" stop-color="#1c1c1c"/><stop offset="0.519" stop-color="#1a1a1a"/><stop offset="1.000" stop-color="#1a1a1a"/></linearGradient>
<linearGradient id="g25" x1="0" y1="0" x2="0" y2="1"><stop offset="0.000" stop-color="#242424"/><stop offset="0.584" stop-color="#222222"/><stop offset="1.000" stop-color="#202020"/></linearGradient>
<linearGradient id="g26" x1="0" y1="0" x2="0" y2="1"><stop offset="0.000" stop-color="#2c2c2c"/><stop offset="0.584" stop-color="#282828"/><stop offset="1.000" stop-color="#242424"/></linearGradient>
<linearGradient id="g27" x1="0" y1="0" x2="0" y2="1"><stop offset="0.000" stop-color="#242424"/><stop offset="0.584" stop-color="#222222"/><stop offset="1.000" stop-color="#1e1e1e"/></linearGradient>
<linearGradient id="g28" x1="0" y1="0" x2="0" y2="1"><stop offset="0.000" stop-color="#222222"/><stop offset="0.584" stop-color="#202020"/><stop offset="1.000" stop-color="#1e1e1e"/></linearGradient>
<linearGradient id="g29" x1="0" y1="0" x2="0" y2="1"><stop offset="0.000" stop-color="#2e2e2e"/><stop offset="0.584" stop-color="#2a2a2a"/><stop offset="1.000" stop-color="#242424"/></linearGradient>
<linearGradient id="g30" x1="0" y1="0" x2="0" y2="1"><stop offset="0.000" stop-color="#2a2a2a"/><stop offset="0.584" stop-color="#262626"/><stop offset="1.000" stop-color="#222222"/></linearGradient>
<linearGradient id="g31" x1="0" y1="0" x2="0" y2="1"><stop offset="0.000" stop-color="#262626"/><stop offset="0.584" stop-color="#242424"/><stop offset="1.000" stop-color="#202020"/></linearGradient>
<linearGradient id="g32" x1="0" y1="0" x2="0" y2="1"><stop offset="0.000" stop-color="#303030"/><stop offset="0.584" stop-color="#2a2a2a"/><stop offset="1.000" stop-color="#262626"/></linearGradient>
<linearGradient id="g33" x1="0" y1="0" x2="0" y2="1"><stop offset="0.000" stop-color="#202020"/><stop offset="0.584" stop-color="#202020"/><stop offset="1.000" stop-color="#1e1e1e"/></linearGradient>
<linearGradient id="g34" x1="0" y1="0" x2="0" y2="1"><stop offset="0.000" stop-color="#2e2e2e"/><stop offset="0.584" stop-color="#2a2a2a"/><stop offset="1.000" stop-color="#262626"/></linearGradient>
<linearGradient id="g35" x1="0" y1="0" x2="0" y2="1"><stop offset="0.000" stop-color="#323232"/><stop offset="0.584" stop-color="#2c2c2c"/><stop offset="1.000" stop-color="#262626"/></linearGradient>
<linearGradient id="g36" x1="0" y1="0" x2="0" y2="1"><stop offset="0.000" stop-color="#282828"/><stop offset="0.584" stop-color="#262626"/><stop offset="1.000" stop-color="#222222"/></linearGradient>
<linearGradient id="g37" x1="0" y1="0" x2="0" y2="1"><stop offset="0.000" stop-color="#2a2a2a"/><stop offset="0.584" stop-color="#282828"/><stop offset="1.000" stop-color="#242424"/></linearGradient>
<linearGradient id="g38" x1="0" y1="0" x2="0" y2="1"><stop offset="0.000" stop-color="#2c2c2c"/><stop offset="0.584" stop-color="#2a2a2a"/><stop offset="1.000" stop-color="#242424"/></linearGradient>
<linearGradient id="g39" x1="0" y1="0" x2="0" y2="1"><stop offset="0.000" stop-color="#282828"/><stop offset="0.584" stop-color="#242424"/><stop offset="1.000" stop-color="#222222"/></linearGradient>
<linearGradient id="g40" x1="0" y1="0" x2="0" y2="1"><stop offset="0.000" stop-color="#303030"/><stop offset="0.584" stop-color="#2c2c2c"/><stop offset="1.000" stop-color="#262626"/></linearGradient>
<linearGradient id="g41" x1="0" y1="0" x2="0" y2="1"><stop offset="0.000" stop-color="#2a2a2a"/><stop offset="0.584" stop-color="#282828"/><stop offset="1.000" stop-color="#222222"/></linearGradient>
<linearGradient id="g42" x1="0" y1="0" x2="0" y2="1"><stop offset="0.000" stop-color="#222222"/><stop offset="0.584" stop-color="#222222"/><stop offset="1.000" stop-color="#1e1e1e"/></linearGradient>
<linearGradient id="g43" x1="0" y1="0" x2="0" y2="1"><stop offset="0.000" stop-color="#202020"/><stop offset="0.584" stop-color="#1e1e1e"/><stop offset="1.000" stop-color="#1e1e1e"/></linearGradient>
<linearGradient id="g44" x1="0" y1="0" x2="0" y2="1"><stop offset="0.026" stop-color="#242424"/><stop offset="0.156" stop-color="#424242"/><stop offset="0.519" stop-color="#616161"/><stop offset="0.909" stop-color="#757575"/><stop offset="0.987" stop-color="#8a8a8a"/></linearGradient>
<linearGradient id="g45" x1="0" y1="0" x2="0" y2="1"><stop offset="0.039" stop-color="#242424"/><stop offset="0.117" stop-color="#404040"/><stop offset="0.208" stop-color="#616161"/><stop offset="0.338" stop-color="#797979"/><stop offset="0.494" stop-color="#8e8e8e"/><stop offset="0.649" stop-color="#9e9e9e"/><stop offset="0.805" stop-color="#aeaeae"/><stop offset="0.987" stop-color="#bfbfbf"/></linearGradient>
<linearGradient id="g46" x1="0" y1="0" x2="0" y2="1"><stop offset="0.182" stop-color="#202020"/><stop offset="0.286" stop-color="#4c4c4c"/><stop offset="0.584" stop-color="#6b6b6b"/><stop offset="0.779" stop-color="#757575"/><stop offset="0.909" stop-color="#8a8a8a"/><stop offset="0.987" stop-color="#9e9e9e"/></linearGradient>
<linearGradient id="g47" x1="0" y1="0" x2="0" y2="1"><stop offset="0.649" stop-color="#1c1c1c"/><stop offset="0.883" stop-color="#383838"/><stop offset="0.987" stop-color="#616161"/></linearGradient>
<linearGradient id="g48" x1="0" y1="0" x2="0" y2="1"><stop offset="0.039" stop-color="#202020"/><stop offset="0.078" stop-color="#3c3c3c"/><stop offset="0.156" stop-color="#616161"/><stop offset="0.260" stop-color="#828282"/><stop offset="0.390" stop-color="#969696"/><stop offset="0.584" stop-color="#a6a6a6"/><stop offset="0.714" stop-color="#b3b3b3"/><stop offset="0.805" stop-color="#c1c1c1"/><stop offset="0.857" stop-color="#d1d1d1"/><stop offset="0.890" stop-color="#fefefe"/><stop offset="1.000" stop-color="#fefefe"/></linearGradient>
<linearGradient id="g49" x1="0" y1="0" x2="0" y2="1"><stop offset="0.078" stop-color="#202020"/><stop offset="0.260" stop-color="#4c4c4c"/><stop offset="0.649" stop-color="#717171"/><stop offset="0.987" stop-color="#808080"/></linearGradient>
<linearGradient id="g50" x1="0" y1="0" x2="0" y2="1"><stop offset="0.013" stop-color="#242424"/><stop offset="0.052" stop-color="#404040"/><stop offset="0.130" stop-color="#656565"/><stop offset="0.260" stop-color="#868686"/><stop offset="0.390" stop-color="#9e9e9e"/><stop offset="0.494" stop-color="#aeaeae"/><stop offset="0.649" stop-color="#bbbbbb"/><stop offset="0.753" stop-color="#c5c5c5"/><stop offset="0.844" stop-color="#d1d1d1"/><stop offset="0.883" stop-color="#fefefe"/><stop offset="1.000" stop-color="#fefefe"/></linearGradient>
<linearGradient id="g51" x1="0" y1="0" x2="0" y2="1"><stop offset="0.078" stop-color="#202020"/><stop offset="0.325" stop-color="#4c4c4c"/><stop offset="0.649" stop-color="#6b6b6b"/><stop offset="0.987" stop-color="#808080"/></linearGradient>
<linearGradient id="g52" x1="0" y1="0" x2="0" y2="1"><stop offset="0.234" stop-color="#202020"/><stop offset="0.312" stop-color="#424242"/><stop offset="0.442" stop-color="#656565"/><stop offset="0.714" stop-color="#808080"/><stop offset="0.857" stop-color="#929292"/><stop offset="0.935" stop-color="#aaaaaa"/><stop offset="0.987" stop-color="#bbbbbb"/></linearGradient>
<linearGradient id="g53" x1="0" y1="0" x2="0" y2="1"><stop offset="0.104" stop-color="#242424"/><stop offset="0.182" stop-color="#4c4c4c"/><stop offset="0.312" stop-color="#717171"/><stop offset="0.519" stop-color="#868686"/><stop offset="0.714" stop-color="#969696"/><stop offset="0.818" stop-color="#b3b3b3"/><stop offset="0.870" stop-color="#dbdbdb"/><stop offset="0.896" stop-color="#fefefe"/><stop offset="1.000" stop-color="#fefefe"/></linearGradient>
<linearGradient id="g54" x1="0" y1="0" x2="0" y2="1"><stop offset="0.052" stop-color="#242424"/><stop offset="0.104" stop-color="#4c4c4c"/><stop offset="0.182" stop-color="#717171"/><stop offset="0.286" stop-color="#8e8e8e"/><stop offset="0.390" stop-color="#9e9e9e"/><stop offset="0.545" stop-color="#aeaeae"/><stop offset="0.662" stop-color="#c3c3c3"/><stop offset="0.753" stop-color="#cdcdcd"/><stop offset="0.831" stop-color="#d7d7d7"/><stop offset="0.870" stop-color="#fefefe"/><stop offset="1.000" stop-color="#fefefe"/></linearGradient>
<linearGradient id="g55" x1="0" y1="0" x2="0" y2="1"><stop offset="0.104" stop-color="#242424"/><stop offset="0.260" stop-color="#595959"/><stop offset="0.649" stop-color="#757575"/><stop offset="0.987" stop-color="#808080"/></linearGradient>
<linearGradient id="g56" x1="0" y1="0" x2="0" y2="1"><stop offset="0.312" stop-color="#1e1e1e"/><stop offset="0.416" stop-color="#383838"/><stop offset="0.779" stop-color="#4c4c4c"/><stop offset="0.987" stop-color="#656565"/></linearGradient>
<linearGradient id="g57" x1="0" y1="0" x2="0" y2="1"><stop offset="0.065" stop-color="#202020"/><stop offset="0.117" stop-color="#424242"/><stop offset="0.208" stop-color="#656565"/><stop offset="0.338" stop-color="#7d7d7d"/><stop offset="0.584" stop-color="#8a8a8a"/><stop offset="0.987" stop-color="#929292"/></linearGradient>
<linearGradient id="g58" x1="0" y1="0" x2="0" y2="1"><stop offset="0.065" stop-color="#202020"/><stop offset="0.130" stop-color="#424242"/><stop offset="0.286" stop-color="#6d6d6d"/><stop offset="0.519" stop-color="#868686"/><stop offset="0.753" stop-color="#9a9a9a"/><stop offset="0.909" stop-color="#b3b3b3"/><stop offset="0.987" stop-color="#bfbfbf"/></linearGradient>
<linearGradient id="g59" x1="0" y1="0" x2="0" y2="1"><stop offset="0.364" stop-color="#1e1e1e"/><stop offset="0.468" stop-color="#383838"/><stop offset="0.987" stop-color="#575757"/></linearGradient>
<linearGradient id="g60" x1="0" y1="0" x2="0" y2="1"><stop offset="0.390" stop-color="#1e1e1e"/><stop offset="0.494" stop-color="#3c3c3c"/><stop offset="0.987" stop-color="#5d5d5d"/></linearGradient>
<linearGradient id="g61" x1="0" y1="0" x2="0" y2="1"><stop offset="0.234" stop-color="#1e1e1e"/><stop offset="0.312" stop-color="#404040"/><stop offset="0.779" stop-color="#555555"/><stop offset="0.987" stop-color="#717171"/></linearGradient>
<linearGradient id="g62" x1="0" y1="0" x2="0" y2="1"><stop offset="0.390" stop-color="#1e1e1e"/><stop offset="0.519" stop-color="#343434"/><stop offset="0.987" stop-color="#616161"/></linearGradient>
<linearGradient id="g63" x1="0" y1="0" x2="0" y2="1"><stop offset="0.208" stop-color="#1e1e1e"/><stop offset="0.286" stop-color="#444444"/><stop offset="0.714" stop-color="#5d5d5d"/><stop offset="0.987" stop-color="#757575"/></linearGradient>
<linearGradient id="g64" x1="0" y1="0" x2="0" y2="1"><stop offset="0.338" stop-color="#1e1e1e"/><stop offset="0.468" stop-color="#3c3c3c"/><stop offset="0.779" stop-color="#595959"/><stop offset="0.987" stop-color="#717171"/></linearGradient>
<linearGradient id="g65" x1="0" y1="0" x2="0" y2="1"><stop offset="0.675" stop-color="#1e1e1e"/><stop offset="0.805" stop-color="#3c3c3c"/><stop offset="0.987" stop-color="#595959"/></linearGradient>
<linearGradient id="g66" x1="0" y1="0" x2="0" y2="1"><stop offset="0.182" stop-color="#202020"/><stop offset="0.234" stop-color="#484848"/><stop offset="0.364" stop-color="#6d6d6d"/><stop offset="0.649" stop-color="#868686"/><stop offset="0.857" stop-color="#9e9e9e"/><stop offset="0.961" stop-color="#bdbdbd"/><stop offset="0.987" stop-color="#c7c7c7"/></linearGradient>
<linearGradient id="g67" x1="0" y1="0" x2="0" y2="1"><stop offset="0.714" stop-color="#1e1e1e"/><stop offset="0.831" stop-color="#3c3c3c"/><stop offset="0.987" stop-color="#595959"/></linearGradient>
<linearGradient id="g68" x1="0" y1="0" x2="0" y2="1"><stop offset="0.845" stop-color="#1c1c1c"/><stop offset="0.906" stop-color="#323232"/><stop offset="0.953" stop-color="#484848"/><stop offset="0.987" stop-color="#6b6b6b"/></linearGradient>
<linearGradient id="g69" x1="0" y1="0" x2="0" y2="1"><stop offset="0.830" stop-color="#1c1c1c"/><stop offset="0.895" stop-color="#3a3a3a"/><stop offset="0.948" stop-color="#595959"/><stop offset="0.987" stop-color="#888888"/></linearGradient>
<linearGradient id="g70" x1="0" y1="0" x2="0" y2="1"><stop offset="0.855" stop-color="#1c1c1c"/><stop offset="0.912" stop-color="#343434"/><stop offset="0.956" stop-color="#4a4a4a"/><stop offset="0.987" stop-color="#6f6f6f"/></linearGradient>
<linearGradient id="g71" x1="0" y1="0" x2="0" y2="1"><stop offset="0.832" stop-color="#1c1c1c"/><stop offset="0.896" stop-color="#3e3e3e"/><stop offset="0.948" stop-color="#5f5f5f"/><stop offset="0.987" stop-color="#929292"/></linearGradient>
<linearGradient id="g72" x1="0" y1="0" x2="0" y2="1"><stop offset="0.810" stop-color="#1c1c1c"/><stop offset="0.882" stop-color="#383838"/><stop offset="0.942" stop-color="#555555"/><stop offset="0.987" stop-color="#808080"/></linearGradient>
<linearGradient id="g73" x1="0" y1="0" x2="0" y2="1"><stop offset="0.821" stop-color="#1c1c1c"/><stop offset="0.890" stop-color="#303030"/><stop offset="0.944" stop-color="#444444"/><stop offset="0.987" stop-color="#616161"/></linearGradient>
<linearGradient id="g74" x1="0" y1="0" x2="0" y2="1"><stop offset="0.797" stop-color="#1c1c1c"/><stop offset="0.874" stop-color="#3a3a3a"/><stop offset="0.936" stop-color="#575757"/><stop offset="0.987" stop-color="#868686"/></linearGradient>
<linearGradient id="g75" x1="0" y1="0" x2="0" y2="1"><stop offset="0.810" stop-color="#1c1c1c"/><stop offset="0.882" stop-color="#3c3c3c"/><stop offset="0.942" stop-color="#5f5f5f"/><stop offset="0.987" stop-color="#929292"/></linearGradient>
<linearGradient id="g76" x1="0" y1="0" x2="0" y2="1"><stop offset="0.796" stop-color="#1c1c1c"/><stop offset="0.873" stop-color="#343434"/><stop offset="0.936" stop-color="#4c4c4c"/><stop offset="0.987" stop-color="#6f6f6f"/></linearGradient>
<linearGradient id="g77" x1="0" y1="0" x2="0" y2="1"><stop offset="0.849" stop-color="#1c1c1c"/><stop offset="0.909" stop-color="#404040"/><stop offset="0.955" stop-color="#656565"/><stop offset="0.987" stop-color="#9e9e9e"/></linearGradient>
<linearGradient id="g78" x1="0" y1="0" x2="0" y2="1"><stop offset="0.840" stop-color="#1c1c1c"/><stop offset="0.903" stop-color="#3e3e3e"/><stop offset="0.951" stop-color="#616161"/><stop offset="0.987" stop-color="#969696"/></linearGradient>
<linearGradient id="g79" x1="0" y1="0" x2="0" y2="1"><stop offset="0.818" stop-color="#1c1c1c"/><stop offset="0.887" stop-color="#303030"/><stop offset="0.944" stop-color="#444444"/><stop offset="0.987" stop-color="#636363"/></linearGradient>
<linearGradient id="g80" x1="0" y1="0" x2="0" y2="1"><stop offset="0.801" stop-color="#1c1c1c"/><stop offset="0.877" stop-color="#383838"/><stop offset="0.938" stop-color="#555555"/><stop offset="0.987" stop-color="#808080"/></linearGradient>
<linearGradient id="g81" x1="0" y1="0" x2="0" y2="1"><stop offset="0.821" stop-color="#1c1c1c"/><stop offset="0.890" stop-color="#404040"/><stop offset="0.944" stop-color="#656565"/><stop offset="0.987" stop-color="#9a9a9a"/></linearGradient>
<linearGradient id="g82" x1="0" y1="0" x2="0" y2="1"><stop offset="0.856" stop-color="#1c1c1c"/><stop offset="0.913" stop-color="#323232"/><stop offset="0.956" stop-color="#484848"/><stop offset="0.987" stop-color="#6b6b6b"/></linearGradient>
<linearGradient id="g83" x1="0" y1="0" x2="0" y2="1"><stop offset="0.865" stop-color="#1c1c1c"/><stop offset="0.918" stop-color="#323232"/><stop offset="0.960" stop-color="#484848"/><stop offset="0.987" stop-color="#696969"/></linearGradient>
<linearGradient id="g84" x1="0" y1="0" x2="0" y2="1"><stop offset="0.835" stop-color="#1c1c1c"/><stop offset="0.899" stop-color="#383838"/><stop offset="0.949" stop-color="#535353"/><stop offset="0.987" stop-color="#7d7d7d"/></linearGradient>
<linearGradient id="g85" x1="0" y1="0" x2="0" y2="1"><stop offset="0.830" stop-color="#1c1c1c"/><stop offset="0.895" stop-color="#363636"/><stop offset="0.948" stop-color="#4f4f4f"/><stop offset="0.987" stop-color="#757575"/></linearGradient>
<linearGradient id="g86" x1="0" y1="0" x2="0" y2="1"><stop offset="0.795" stop-color="#1c1c1c"/><stop offset="0.871" stop-color="#323232"/><stop offset="0.936" stop-color="#4a4a4a"/><stop offset="0.987" stop-color="#6d6d6d"/></linearGradient>
<linearGradient id="g87" x1="0" y1="0" x2="0" y2="1"><stop offset="0.810" stop-color="#1c1c1c"/><stop offset="0.882" stop-color="#3e3e3e"/><stop offset="0.942" stop-color="#616161"/><stop offset="0.987" stop-color="#969696"/></linearGradient>
<linearGradient id="g88" x1="0" y1="0" x2="0" y2="1"><stop offset="0.809" stop-color="#1c1c1c"/><stop offset="0.881" stop-color="#3c3c3c"/><stop offset="0.940" stop-color="#5f5f5f"/><stop offset="0.987" stop-color="#909090"/></linearGradient>
<linearGradient id="g89" x1="0" y1="0" x2="0" y2="1"><stop offset="0.862" stop-color="#1c1c1c"/><stop offset="0.917" stop-color="#404040"/><stop offset="0.958" stop-color="#656565"/><stop offset="0.987" stop-color="#9c9c9c"/></linearGradient>
<linearGradient id="g90" x1="0" y1="0" x2="0" y2="1"><stop offset="0.852" stop-color="#1c1c1c"/><stop offset="0.910" stop-color="#3c3c3c"/><stop offset="0.955" stop-color="#5d5d5d"/><stop offset="0.987" stop-color="#8e8e8e"/></linearGradient>
<linearGradient id="g91" x1="0" y1="0" x2="0" y2="1"><stop offset="0.849" stop-color="#1c1c1c"/><stop offset="0.908" stop-color="#3a3a3a"/><stop offset="0.955" stop-color="#575757"/><stop offset="0.987" stop-color="#848484"/></linearGradient>
<linearGradient id="g92" x1="0" y1="0" x2="0" y2="1"><stop offset="0.830" stop-color="#1c1c1c"/><stop offset="0.895" stop-color="#323232"/><stop offset="0.948" stop-color="#484848"/><stop offset="0.987" stop-color="#696969"/></linearGradient>
<linearGradient id="g93" x1="0" y1="0" x2="0" y2="1"><stop offset="0.808" stop-color="#1c1c1c"/><stop offset="0.881" stop-color="#3e3e3e"/><stop offset="0.940" stop-color="#5f5f5f"/><stop offset="0.987" stop-color="#949494"/></linearGradient>
<linearGradient id="g94" x1="0" y1="0" x2="0" y2="1"><stop offset="0.861" stop-color="#1c1c1c"/><stop offset="0.917" stop-color="#404040"/><stop offset="0.958" stop-color="#636363"/><stop offset="0.987" stop-color="#989898"/></linearGradient>
<linearGradient id="g95" x1="0" y1="0" x2="0" y2="1"><stop offset="0.821" stop-color="#1c1c1c"/><stop offset="0.890" stop-color="#363636"/><stop offset="0.944" stop-color="#515151"/><stop offset="0.987" stop-color="#797979"/></linearGradient>
<linearGradient id="g96" x1="0" y1="0" x2="0" y2="1"><stop offset="0.822" stop-color="#1c1c1c"/><stop offset="0.890" stop-color="#383838"/><stop offset="0.945" stop-color="#535353"/><stop offset="0.987" stop-color="#7d7d7d"/></linearGradient>
<linearGradient id="g97" x1="0" y1="0" x2="0" y2="1"><stop offset="0.822" stop-color="#1c1c1c"/><stop offset="0.890" stop-color="#404040"/><stop offset="0.945" stop-color="#656565"/><stop offset="0.987" stop-color="#9e9e9e"/></linearGradient>
<linearGradient id="g98" x1="0" y1="0" x2="0" y2="1"><stop offset="0.800" stop-color="#1c1c1c"/><stop offset="0.875" stop-color="#303030"/><stop offset="0.938" stop-color="#444444"/><stop offset="0.987" stop-color="#636363"/></linearGradient>
<linearGradient id="g99" x1="0" y1="0" x2="0" y2="1"><stop offset="0.870" stop-color="#1c1c1c"/><stop offset="0.922" stop-color="#3c3c3c"/><stop offset="0.961" stop-color="#5d5d5d"/><stop offset="0.987" stop-color="#8c8c8c"/></linearGradient>
<linearGradient id="g100" x1="0" y1="0" x2="0" y2="1"><stop offset="0.830" stop-color="#1c1c1c"/><stop offset="0.896" stop-color="#383838"/><stop offset="0.948" stop-color="#555555"/><stop offset="0.987" stop-color="#808080"/></linearGradient>
<linearGradient id="g101" x1="0" y1="0" x2="0" y2="1"><stop offset="0.851" stop-color="#1c1c1c"/><stop offset="0.909" stop-color="#383838"/><stop offset="0.955" stop-color="#575757"/><stop offset="0.987" stop-color="#828282"/></linearGradient>
<linearGradient id="g102" x1="0" y1="0" x2="0" y2="1"><stop offset="0.840" stop-color="#1c1c1c"/><stop offset="0.901" stop-color="#343434"/><stop offset="0.951" stop-color="#4a4a4a"/><stop offset="0.987" stop-color="#6f6f6f"/></linearGradient>
<linearGradient id="g103" x1="0" y1="0" x2="0" y2="1"><stop offset="0.840" stop-color="#1c1c1c"/><stop offset="0.903" stop-color="#383838"/><stop offset="0.951" stop-color="#575757"/><stop offset="0.987" stop-color="#848484"/></linearGradient>
<linearGradient id="g104" x1="0" y1="0" x2="0" y2="1"><stop offset="0.805" stop-color="#1c1c1c"/><stop offset="0.879" stop-color="#323232"/><stop offset="0.939" stop-color="#4a4a4a"/><stop offset="0.987" stop-color="#6d6d6d"/></linearGradient>
<linearGradient id="g105" x1="0" y1="0" x2="0" y2="1"><stop offset="0.865" stop-color="#1c1c1c"/><stop offset="0.918" stop-color="#363636"/><stop offset="0.960" stop-color="#4f4f4f"/><stop offset="0.987" stop-color="#777777"/></linearGradient>
<linearGradient id="g106" x1="0" y1="0" x2="0" y2="1"><stop offset="0.839" stop-color="#1c1c1c"/><stop offset="0.901" stop-color="#363636"/><stop offset="0.951" stop-color="#4f4f4f"/><stop offset="0.987" stop-color="#757575"/></linearGradient>
<linearGradient id="g107" x1="0" y1="0" x2="0" y2="1"><stop offset="0.800" stop-color="#1c1c1c"/><stop offset="0.875" stop-color="#343434"/><stop offset="0.938" stop-color="#4f4f4f"/><stop offset="0.987" stop-color="#737373"/></linearGradient>
<linearGradient id="g108" x1="0" y1="0" x2="0" y2="1"><stop offset="0.856" stop-color="#1c1c1c"/><stop offset="0.913" stop-color="#303030"/><stop offset="0.956" stop-color="#464646"/><stop offset="0.987" stop-color="#656565"/></linearGradient>
<linearGradient id="g109" x1="0" y1="0" x2="0" y2="1"><stop offset="0.821" stop-color="#1c1c1c"/><stop offset="0.890" stop-color="#3c3c3c"/><stop offset="0.944" stop-color="#5f5f5f"/><stop offset="0.987" stop-color="#909090"/></linearGradient>
<linearGradient id="g110" x1="0" y1="0" x2="0" y2="1"><stop offset="0.845" stop-color="#1c1c1c"/><stop offset="0.905" stop-color="#3c3c3c"/><stop offset="0.953" stop-color="#5b5b5b"/><stop offset="0.987" stop-color="#8a8a8a"/></linearGradient>
<linearGradient id="g111" x1="0" y1="0" x2="0" y2="1"><stop offset="0.866" stop-color="#1c1c1c"/><stop offset="0.919" stop-color="#3e3e3e"/><stop offset="0.960" stop-color="#636363"/><stop offset="0.987" stop-color="#989898"/></linearGradient>
<linearGradient id="g112" x1="0" y1="0" x2="0" y2="1"><stop offset="0.869" stop-color="#1c1c1c"/><stop offset="0.922" stop-color="#363636"/><stop offset="0.961" stop-color="#515151"/><stop offset="0.987" stop-color="#797979"/></linearGradient>
<linearGradient id="g113" x1="0" y1="0" x2="0" y2="1"><stop offset="0.838" stop-color="#1c1c1c"/><stop offset="0.901" stop-color="#404040"/><stop offset="0.951" stop-color="#656565"/><stop offset="0.987" stop-color="#9c9c9c"/></linearGradient>
<linearGradient id="g114" x1="0" y1="0" x2="0" y2="1"><stop offset="0.830" stop-color="#1c1c1c"/><stop offset="0.896" stop-color="#3e3e3e"/><stop offset="0.948" stop-color="#616161"/><stop offset="0.987" stop-color="#969696"/></linearGradient>
<linearGradient id="g115" x1="0" y1="0" x2="0" y2="1"><stop offset="0.812" stop-color="#1c1c1c"/><stop offset="0.883" stop-color="#363636"/><stop offset="0.942" stop-color="#515151"/><stop offset="0.987" stop-color="#777777"/></linearGradient>
<linearGradient id="g116" x1="0" y1="0" x2="0" y2="1"><stop offset="0.805" stop-color="#1c1c1c"/><stop offset="0.878" stop-color="#3e3e3e"/><stop offset="0.939" stop-color="#616161"/><stop offset="0.987" stop-color="#969696"/></linearGradient>
<linearGradient id="g117" x1="0" y1="0" x2="0" y2="1"><stop offset="0.855" stop-color="#1c1c1c"/><stop offset="0.912" stop-color="#303030"/><stop offset="0.956" stop-color="#464646"/><stop offset="0.987" stop-color="#656565"/></linearGradient>
<linearGradient id="g118" x1="0" y1="0" x2="0" y2="1"><stop offset="0.830" stop-color="#1c1c1c"/><stop offset="0.895" stop-color="#3c3c3c"/><stop offset="0.948" stop-color="#5f5f5f"/><stop offset="0.987" stop-color="#909090"/></linearGradient>
<linearGradient id="g119" x1="0" y1="0" x2="0" y2="1"><stop offset="0.796" stop-color="#1c1c1c"/><stop offset="0.873" stop-color="#3e3e3e"/><stop offset="0.936" stop-color="#616161"/><stop offset="0.987" stop-color="#949494"/></linearGradient>
<linearGradient id="g120" x1="0" y1="0" x2="0" y2="1"><stop offset="0.814" stop-color="#1c1c1c"/><stop offset="0.886" stop-color="#343434"/><stop offset="0.943" stop-color="#4c4c4c"/><stop offset="0.987" stop-color="#717171"/></linearGradient>
<linearGradient id="g121" x1="0" y1="0" x2="0" y2="1"><stop offset="0.805" stop-color="#1c1c1c"/><stop offset="0.879" stop-color="#363636"/><stop offset="0.939" stop-color="#535353"/><stop offset="0.987" stop-color="#7b7b7b"/></linearGradient>
<linearGradient id="g122" x1="0" y1="0" x2="0" y2="1"><stop offset="0.818" stop-color="#1c1c1c"/><stop offset="0.888" stop-color="#303030"/><stop offset="0.944" stop-color="#464646"/><stop offset="0.987" stop-color="#656565"/></linearGradient>
<linearGradient id="g123" x1="0" y1="0" x2="0" y2="1"><stop offset="0.597" stop-color="#1e1e1e"/><stop offset="0.675" stop-color="#424242"/><stop offset="0.987" stop-color="#6b6b6b"/></linearGradient>
<linearGradient id="g124" x1="0" y1="0" x2="0" y2="1"><stop offset="0.078" stop-color="#1e1e1e"/><stop offset="0.156" stop-color="#383838"/><stop offset="0.987" stop-color="#555555"/></linearGradient>
<linearGradient id="g125" x1="0" y1="0" x2="0" y2="1"><stop offset="0.182" stop-color="#202020"/><stop offset="0.260" stop-color="#4c4c4c"/><stop offset="0.649" stop-color="#656565"/><stop offset="0.987" stop-color="#797979"/></linearGradient>
<linearGradient id="g126" x1="0" y1="0" x2="0" y2="1"><stop offset="0.697" stop-color="#1c1c1c"/><stop offset="0.829" stop-color="#484848"/><stop offset="0.987" stop-color="#808080"/></linearGradient>
<linearGradient id="g127" x1="0" y1="0" x2="0" y2="1"><stop offset="0.831" stop-color="#1c1c1c"/><stop offset="0.896" stop-color="#303030"/><stop offset="0.987" stop-color="#484848"/></linearGradient>
<linearGradient id="g128" x1="0" y1="0" x2="0" y2="1"><stop offset="0.694" stop-color="#1c1c1c"/><stop offset="0.827" stop-color="#343434"/><stop offset="0.987" stop-color="#535353"/></linearGradient>
<linearGradient id="g129" x1="0" y1="0" x2="0" y2="1"><stop offset="0.729" stop-color="#1c1c1c"/><stop offset="0.845" stop-color="#404040"/><stop offset="0.987" stop-color="#6d6d6d"/></linearGradient>
<linearGradient id="g130" x1="0" y1="0" x2="0" y2="1"><stop offset="0.712" stop-color="#1c1c1c"/><stop offset="0.836" stop-color="#464646"/><stop offset="0.987" stop-color="#7b7b7b"/></linearGradient>
<linearGradient id="g131" x1="0" y1="0" x2="0" y2="1"><stop offset="0.725" stop-color="#1c1c1c"/><stop offset="0.843" stop-color="#484848"/><stop offset="0.987" stop-color="#808080"/></linearGradient>
<linearGradient id="g132" x1="0" y1="0" x2="0" y2="1"><stop offset="0.821" stop-color="#1c1c1c"/><stop offset="0.891" stop-color="#3e3e3e"/><stop offset="0.987" stop-color="#6b6b6b"/></linearGradient>
<linearGradient id="g133" x1="0" y1="0" x2="0" y2="1"><stop offset="0.819" stop-color="#1c1c1c"/><stop offset="0.890" stop-color="#404040"/><stop offset="0.987" stop-color="#6f6f6f"/></linearGradient>
<linearGradient id="g134" x1="0" y1="0" x2="0" y2="1"><stop offset="0.683" stop-color="#1c1c1c"/><stop offset="0.822" stop-color="#424242"/><stop offset="0.987" stop-color="#717171"/></linearGradient>
<linearGradient id="g135" x1="0" y1="0" x2="0" y2="1"><stop offset="0.768" stop-color="#1c1c1c"/><stop offset="0.864" stop-color="#464646"/><stop offset="0.987" stop-color="#7b7b7b"/></linearGradient>
<linearGradient id="g136" x1="0" y1="0" x2="0" y2="1"><stop offset="0.705" stop-color="#1c1c1c"/><stop offset="0.832" stop-color="#383838"/><stop offset="0.987" stop-color="#5b5b5b"/></linearGradient>
<linearGradient id="g137" x1="0" y1="0" x2="0" y2="1"><stop offset="0.766" stop-color="#1c1c1c"/><stop offset="0.864" stop-color="#444444"/><stop offset="0.987" stop-color="#797979"/></linearGradient>
<linearGradient id="g138" x1="0" y1="0" x2="0" y2="1"><stop offset="0.796" stop-color="#1c1c1c"/><stop offset="0.878" stop-color="#484848"/><stop offset="0.987" stop-color="#808080"/></linearGradient>
<linearGradient id="g139" x1="0" y1="0" x2="0" y2="1"><stop offset="0.026" stop-color="#282828"/><stop offset="0.519" stop-color="#424242"/><stop offset="0.987" stop-color="#6b6b6b"/></linearGradient>
<linearGradient id="g140" x1="0" y1="0" x2="0" y2="1"><stop offset="0.000" stop-color="#6b6b6b"/><stop offset="0.104" stop-color="#868686"/><stop offset="0.208" stop-color="#a2a2a2"/><stop offset="0.312" stop-color="#c7c7c7"/><stop offset="0.390" stop-color="#d7d7d7"/><stop offset="0.519" stop-color="#d7d7d7"/><stop offset="0.623" stop-color="#b3b3b3"/><stop offset="0.779" stop-color="#a2a2a2"/><stop offset="0.883" stop-color="#c7c7c7"/><stop offset="0.935" stop-color="#fefefe"/><stop offset="1.000" stop-color="#fefefe"/></linearGradient>
<linearGradient id="g141" x1="0" y1="0" x2="0" y2="1"><stop offset="0.026" stop-color="#242424"/><stop offset="0.519" stop-color="#3c3c3c"/><stop offset="0.987" stop-color="#616161"/></linearGradient>
<linearGradient id="g142" x1="0" y1="0" x2="0" y2="1"><stop offset="0.896" stop-color="#757575"/><stop offset="0.935" stop-color="#c7c7c7"/><stop offset="0.955" stop-color="#fefefe"/><stop offset="1.000" stop-color="#fefefe"/></linearGradient>
<linearGradient id="g143" x1="0" y1="0" x2="0" y2="1"><stop offset="0.260" stop-color="#1e1e1e"/><stop offset="0.390" stop-color="#383838"/><stop offset="0.987" stop-color="#555555"/></linearGradient>
<linearGradient id="g144" x1="0" y1="0" x2="0" y2="1"><stop offset="0.743" stop-color="#1c1c1c"/><stop offset="0.852" stop-color="#464646"/><stop offset="0.987" stop-color="#777777"/></linearGradient>
<linearGradient id="g145" x1="0" y1="0" x2="0" y2="1"><stop offset="0.562" stop-color="#1c1c1c"/><stop offset="0.762" stop-color="#464646"/><stop offset="0.987" stop-color="#757575"/></linearGradient>
<linearGradient id="g146" x1="0" y1="0" x2="0" y2="1"><stop offset="0.634" stop-color="#1c1c1c"/><stop offset="0.797" stop-color="#3c3c3c"/><stop offset="0.987" stop-color="#5f5f5f"/></linearGradient>
<linearGradient id="g147" x1="0" y1="0" x2="0" y2="1"><stop offset="0.573" stop-color="#1c1c1c"/><stop offset="0.766" stop-color="#3a3a3a"/><stop offset="0.987" stop-color="#5b5b5b"/></linearGradient>
<linearGradient id="g148" x1="0" y1="0" x2="0" y2="1"><stop offset="0.638" stop-color="#1c1c1c"/><stop offset="0.800" stop-color="#2e2e2e"/><stop offset="0.987" stop-color="#424242"/></linearGradient>
<linearGradient id="g149" x1="0" y1="0" x2="0" y2="1"><stop offset="0.640" stop-color="#1c1c1c"/><stop offset="0.800" stop-color="#2e2e2e"/><stop offset="0.987" stop-color="#444444"/></linearGradient>
<linearGradient id="g150" x1="0" y1="0" x2="0" y2="1"><stop offset="0.564" stop-color="#1c1c1c"/><stop offset="0.762" stop-color="#282828"/><stop offset="0.987" stop-color="#363636"/></linearGradient>
<linearGradient id="g151" x1="0" y1="0" x2="0" y2="1"><stop offset="0.632" stop-color="#1c1c1c"/><stop offset="0.797" stop-color="#404040"/><stop offset="0.987" stop-color="#696969"/></linearGradient>
<linearGradient id="g152" x1="0" y1="0" x2="0" y2="1"><stop offset="0.697" stop-color="#1c1c1c"/><stop offset="0.830" stop-color="#383838"/><stop offset="0.987" stop-color="#595959"/></linearGradient>
<linearGradient id="g153" x1="0" y1="0" x2="0" y2="1"><stop offset="0.557" stop-color="#1c1c1c"/><stop offset="0.760" stop-color="#343434"/><stop offset="0.987" stop-color="#4f4f4f"/></linearGradient>
<linearGradient id="g154" x1="0" y1="0" x2="0" y2="1"><stop offset="0.668" stop-color="#1c1c1c"/><stop offset="0.814" stop-color="#424242"/><stop offset="0.987" stop-color="#6d6d6d"/></linearGradient>
<linearGradient id="g155" x1="0" y1="0" x2="0" y2="1"><stop offset="0.674" stop-color="#1c1c1c"/><stop offset="0.818" stop-color="#3e3e3e"/><stop offset="0.987" stop-color="#656565"/></linearGradient>
<linearGradient id="g156" x1="0" y1="0" x2="0" y2="1"><stop offset="0.621" stop-color="#1c1c1c"/><stop offset="0.791" stop-color="#484848"/><stop offset="0.987" stop-color="#7b7b7b"/></linearGradient>
<linearGradient id="g157" x1="0" y1="0" x2="0" y2="1"><stop offset="0.286" stop-color="#202020"/><stop offset="0.364" stop-color="#464646"/><stop offset="0.714" stop-color="#616161"/><stop offset="0.987" stop-color="#757575"/></linearGradient>
<linearGradient id="g158" x1="0" y1="0" x2="0" y2="1"><stop offset="0.130" stop-color="#202020"/><stop offset="0.208" stop-color="#4c4c4c"/><stop offset="0.519" stop-color="#757575"/><stop offset="0.844" stop-color="#868686"/><stop offset="0.987" stop-color="#8e8e8e"/></linearGradient>
<linearGradient id="g159" x1="0" y1="0" x2="0" y2="1"><stop offset="0.719" stop-color="#1c1c1c"/><stop offset="0.840" stop-color="#404040"/><stop offset="0.987" stop-color="#696969"/></linearGradient>
<linearGradient id="g160" x1="0" y1="0" x2="0" y2="1"><stop offset="0.753" stop-color="#1c1c1c"/><stop offset="0.857" stop-color="#2e2e2e"/><stop offset="0.987" stop-color="#424242"/></linearGradient>
<linearGradient id="g161" x1="0" y1="0" x2="0" y2="1"><stop offset="0.684" stop-color="#1c1c1c"/><stop offset="0.823" stop-color="#2e2e2e"/><stop offset="0.987" stop-color="#424242"/></linearGradient>
<linearGradient id="g162" x1="0" y1="0" x2="0" y2="1"><stop offset="0.703" stop-color="#1c1c1c"/><stop offset="0.832" stop-color="#2a2a2a"/><stop offset="0.987" stop-color="#3a3a3a"/></linearGradient>
<linearGradient id="g163" x1="0" y1="0" x2="0" y2="1"><stop offset="0.692" stop-color="#1c1c1c"/><stop offset="0.827" stop-color="#2c2c2c"/><stop offset="0.987" stop-color="#3e3e3e"/></linearGradient>
<linearGradient id="g164" x1="0" y1="0" x2="0" y2="1"><stop offset="0.705" stop-color="#1c1c1c"/><stop offset="0.832" stop-color="#404040"/><stop offset="0.987" stop-color="#696969"/></linearGradient>
<linearGradient id="g165" x1="0" y1="0" x2="0" y2="1"><stop offset="0.286" stop-color="#202020"/><stop offset="0.364" stop-color="#484848"/><stop offset="0.714" stop-color="#616161"/><stop offset="0.987" stop-color="#757575"/></linearGradient>
<linearGradient id="g166" x1="0" y1="0" x2="0" y2="1"><stop offset="0.608" stop-color="#1c1c1c"/><stop offset="0.745" stop-color="#383838"/><stop offset="0.987" stop-color="#595959"/></linearGradient>
<linearGradient id="g167" x1="0" y1="0" x2="0" y2="1"><stop offset="0.460" stop-color="#1c1c1c"/><stop offset="0.671" stop-color="#464646"/><stop offset="0.987" stop-color="#797979"/></linearGradient>
<linearGradient id="g168" x1="0" y1="0" x2="0" y2="1"><stop offset="0.548" stop-color="#1c1c1c"/><stop offset="0.716" stop-color="#484848"/><stop offset="0.987" stop-color="#7b7b7b"/></linearGradient>
<linearGradient id="g169" x1="0" y1="0" x2="0" y2="1"><stop offset="0.613" stop-color="#1c1c1c"/><stop offset="0.748" stop-color="#2e2e2e"/><stop offset="0.987" stop-color="#404040"/></linearGradient>
<linearGradient id="g170" x1="0" y1="0" x2="0" y2="1"><stop offset="0.034" stop-color="#242424"/><stop offset="0.152" stop-color="#515151"/><stop offset="0.374" stop-color="#696969"/><stop offset="0.648" stop-color="#7b7b7b"/><stop offset="0.843" stop-color="#8c8c8c"/><stop offset="0.987" stop-color="#a2a2a2"/></linearGradient>
<linearGradient id="g171" x1="0" y1="0" x2="0" y2="1"><stop offset="0.127" stop-color="#222222"/><stop offset="0.227" stop-color="#3c3c3c"/><stop offset="0.430" stop-color="#4c4c4c"/><stop offset="0.684" stop-color="#575757"/><stop offset="0.862" stop-color="#636363"/><stop offset="0.987" stop-color="#6f6f6f"/></linearGradient>
<linearGradient id="g172" x1="0" y1="0" x2="0" y2="1"><stop offset="0.169" stop-color="#202020"/><stop offset="0.260" stop-color="#383838"/><stop offset="0.455" stop-color="#444444"/><stop offset="0.701" stop-color="#4f4f4f"/><stop offset="0.870" stop-color="#575757"/><stop offset="0.987" stop-color="#636363"/></linearGradient>
<linearGradient id="g173" x1="0" y1="0" x2="0" y2="1"><stop offset="0.000" stop-color="#262626"/><stop offset="0.122" stop-color="#575757"/><stop offset="0.352" stop-color="#737373"/><stop offset="0.632" stop-color="#888888"/><stop offset="0.836" stop-color="#9c9c9c"/><stop offset="0.987" stop-color="#b5b5b5"/></linearGradient>
<linearGradient id="g174" x1="0" y1="0" x2="0" y2="1"><stop offset="0.104" stop-color="#262626"/><stop offset="0.208" stop-color="#555555"/><stop offset="0.416" stop-color="#717171"/><stop offset="0.675" stop-color="#848484"/><stop offset="0.857" stop-color="#989898"/><stop offset="0.987" stop-color="#aeaeae"/></linearGradient>
<linearGradient id="g175" x1="0" y1="0" x2="0" y2="1"><stop offset="0.210" stop-color="#262626"/><stop offset="0.292" stop-color="#555555"/><stop offset="0.479" stop-color="#6f6f6f"/><stop offset="0.718" stop-color="#848484"/><stop offset="0.878" stop-color="#969696"/><stop offset="0.987" stop-color="#acacac"/></linearGradient>
<linearGradient id="g176" x1="0" y1="0" x2="0" y2="1"><stop offset="0.083" stop-color="#282828"/><stop offset="0.191" stop-color="#656565"/><stop offset="0.403" stop-color="#8a8a8a"/><stop offset="0.666" stop-color="#a2a2a2"/><stop offset="0.853" stop-color="#bbbbbb"/><stop offset="0.987" stop-color="#d9d9d9"/></linearGradient>
<linearGradient id="g177" x1="0" y1="0" x2="0" y2="1"><stop offset="0.171" stop-color="#262626"/><stop offset="0.261" stop-color="#5f5f5f"/><stop offset="0.456" stop-color="#808080"/><stop offset="0.703" stop-color="#969696"/><stop offset="0.870" stop-color="#acacac"/><stop offset="0.987" stop-color="#c9c9c9"/></linearGradient>
<linearGradient id="g178" x1="0" y1="0" x2="0" y2="1"><stop offset="0.000" stop-color="#282828"/><stop offset="0.119" stop-color="#656565"/><stop offset="0.349" stop-color="#8a8a8a"/><stop offset="0.631" stop-color="#a2a2a2"/><stop offset="0.835" stop-color="#bbbbbb"/><stop offset="0.987" stop-color="#d9d9d9"/></linearGradient>
<linearGradient id="g179" x1="0" y1="0" x2="0" y2="1"><stop offset="0.039" stop-color="#282828"/><stop offset="0.156" stop-color="#636363"/><stop offset="0.377" stop-color="#868686"/><stop offset="0.649" stop-color="#9e9e9e"/><stop offset="0.844" stop-color="#b7b7b7"/><stop offset="0.987" stop-color="#d3d3d3"/></linearGradient>
<linearGradient id="g180" x1="0" y1="0" x2="0" y2="1"><stop offset="0.127" stop-color="#222222"/><stop offset="0.226" stop-color="#3c3c3c"/><stop offset="0.430" stop-color="#4f4f4f"/><stop offset="0.684" stop-color="#595959"/><stop offset="0.862" stop-color="#656565"/><stop offset="0.987" stop-color="#717171"/></linearGradient>
<linearGradient id="g181" x1="0" y1="0" x2="0" y2="1"><stop offset="0.210" stop-color="#262626"/><stop offset="0.294" stop-color="#5d5d5d"/><stop offset="0.479" stop-color="#7b7b7b"/><stop offset="0.718" stop-color="#929292"/><stop offset="0.878" stop-color="#a6a6a6"/><stop offset="0.987" stop-color="#c1c1c1"/></linearGradient>
<linearGradient id="g182" x1="0" y1="0" x2="0" y2="1"><stop offset="0.181" stop-color="#222222"/><stop offset="0.269" stop-color="#464646"/><stop offset="0.461" stop-color="#5b5b5b"/><stop offset="0.706" stop-color="#696969"/><stop offset="0.873" stop-color="#777777"/><stop offset="0.987" stop-color="#888888"/></linearGradient>
<linearGradient id="g183" x1="0" y1="0" x2="0" y2="1"><stop offset="0.213" stop-color="#202020"/><stop offset="0.295" stop-color="#363636"/><stop offset="0.482" stop-color="#444444"/><stop offset="0.719" stop-color="#4c4c4c"/><stop offset="0.879" stop-color="#555555"/><stop offset="0.987" stop-color="#616161"/></linearGradient>
<linearGradient id="g184" x1="0" y1="0" x2="0" y2="1"><stop offset="0.114" stop-color="#222222"/><stop offset="0.216" stop-color="#404040"/><stop offset="0.422" stop-color="#535353"/><stop offset="0.679" stop-color="#5f5f5f"/><stop offset="0.860" stop-color="#6b6b6b"/><stop offset="0.987" stop-color="#797979"/></linearGradient>
<linearGradient id="g185" x1="0" y1="0" x2="0" y2="1"><stop offset="0.000" stop-color="#202020"/><stop offset="0.122" stop-color="#383838"/><stop offset="0.352" stop-color="#464646"/><stop offset="0.632" stop-color="#4f4f4f"/><stop offset="0.836" stop-color="#595959"/><stop offset="0.987" stop-color="#656565"/></linearGradient>
<linearGradient id="g186" x1="0" y1="0" x2="0" y2="1"><stop offset="0.127" stop-color="#202020"/><stop offset="0.226" stop-color="#323232"/><stop offset="0.430" stop-color="#3e3e3e"/><stop offset="0.684" stop-color="#464646"/><stop offset="0.862" stop-color="#4f4f4f"/><stop offset="0.987" stop-color="#575757"/></linearGradient>
<linearGradient id="g187" x1="0" y1="0" x2="0" y2="1"><stop offset="0.178" stop-color="#242424"/><stop offset="0.266" stop-color="#484848"/><stop offset="0.460" stop-color="#5d5d5d"/><stop offset="0.705" stop-color="#6b6b6b"/><stop offset="0.871" stop-color="#7b7b7b"/><stop offset="0.987" stop-color="#8e8e8e"/></linearGradient>
<linearGradient id="g188" x1="0" y1="0" x2="0" y2="1"><stop offset="0.086" stop-color="#242424"/><stop offset="0.194" stop-color="#535353"/><stop offset="0.405" stop-color="#6d6d6d"/><stop offset="0.668" stop-color="#808080"/><stop offset="0.853" stop-color="#929292"/><stop offset="0.987" stop-color="#a8a8a8"/></linearGradient>
<linearGradient id="g189" x1="0" y1="0" x2="0" y2="1"><stop offset="0.034" stop-color="#242424"/><stop offset="0.152" stop-color="#535353"/><stop offset="0.374" stop-color="#6d6d6d"/><stop offset="0.647" stop-color="#808080"/><stop offset="0.843" stop-color="#929292"/><stop offset="0.987" stop-color="#a8a8a8"/></linearGradient>
<linearGradient id="g190" x1="0" y1="0" x2="0" y2="1"><stop offset="0.045" stop-color="#262626"/><stop offset="0.161" stop-color="#535353"/><stop offset="0.381" stop-color="#6f6f6f"/><stop offset="0.652" stop-color="#828282"/><stop offset="0.845" stop-color="#949494"/><stop offset="0.987" stop-color="#acacac"/></linearGradient>
<linearGradient id="g191" x1="0" y1="0" x2="0" y2="1"><stop offset="0.052" stop-color="#383838"/><stop offset="0.182" stop-color="#656565"/><stop offset="0.519" stop-color="#7d7d7d"/><stop offset="0.779" stop-color="#8e8e8e"/><stop offset="0.987" stop-color="#a2a2a2"/></linearGradient>
<linearGradient id="g192" x1="0" y1="0" x2="0" y2="1"><stop offset="0.000" stop-color="#575757"/><stop offset="0.156" stop-color="#757575"/><stop offset="0.519" stop-color="#868686"/><stop offset="0.779" stop-color="#969696"/><stop offset="0.987" stop-color="#aaaaaa"/></linearGradient>
<linearGradient id="g193" x1="0" y1="0" x2="0" y2="1"><stop offset="0.078" stop-color="#383838"/><stop offset="0.208" stop-color="#6b6b6b"/><stop offset="0.519" stop-color="#828282"/><stop offset="0.779" stop-color="#969696"/><stop offset="0.987" stop-color="#aeaeae"/></linearGradient>
<linearGradient id="g194" x1="0" y1="0" x2="0" y2="1"><stop offset="0.026" stop-color="#4c4c4c"/><stop offset="0.182" stop-color="#757575"/><stop offset="0.519" stop-color="#868686"/><stop offset="0.779" stop-color="#929292"/><stop offset="0.987" stop-color="#aeaeae"/></linearGradient>
<linearGradient id="g195" x1="0" y1="0" x2="0" y2="1"><stop offset="0.197" stop-color="#202020"/><stop offset="0.310" stop-color="#484848"/><stop offset="0.618" stop-color="#5f5f5f"/><stop offset="0.848" stop-color="#717171"/><stop offset="0.987" stop-color="#888888"/></linearGradient>
<linearGradient id="g196" x1="0" y1="0" x2="0" y2="1"><stop offset="0.191" stop-color="#222222"/><stop offset="0.305" stop-color="#4f4f4f"/><stop offset="0.614" stop-color="#696969"/><stop offset="0.847" stop-color="#828282"/><stop offset="0.987" stop-color="#9a9a9a"/></linearGradient>
<linearGradient id="g197" x1="0" y1="0" x2="0" y2="1"><stop offset="0.361" stop-color="#1e1e1e"/><stop offset="0.432" stop-color="#3a3a3a"/><stop offset="0.700" stop-color="#484848"/><stop offset="0.888" stop-color="#575757"/><stop offset="0.987" stop-color="#656565"/></linearGradient>
<linearGradient id="g198" x1="0" y1="0" x2="0" y2="1"><stop offset="0.362" stop-color="#202020"/><stop offset="0.434" stop-color="#404040"/><stop offset="0.701" stop-color="#535353"/><stop offset="0.890" stop-color="#636363"/><stop offset="0.987" stop-color="#757575"/></linearGradient>
<linearGradient id="g199" x1="0" y1="0" x2="0" y2="1"><stop offset="0.387" stop-color="#202020"/><stop offset="0.453" stop-color="#4c4c4c"/><stop offset="0.713" stop-color="#656565"/><stop offset="0.896" stop-color="#797979"/><stop offset="0.987" stop-color="#929292"/></linearGradient>
<linearGradient id="g200" x1="0" y1="0" x2="0" y2="1"><stop offset="0.810" stop-color="#1a1a1a"/><stop offset="0.882" stop-color="#363636"/><stop offset="0.942" stop-color="#484848"/><stop offset="0.987" stop-color="#6f6f6f"/></linearGradient>
<linearGradient id="g201" x1="0" y1="0" x2="0" y2="1"><stop offset="0.864" stop-color="#1a1a1a"/><stop offset="0.918" stop-color="#323232"/><stop offset="0.958" stop-color="#424242"/><stop offset="0.987" stop-color="#636363"/></linearGradient>
<linearGradient id="g202" x1="0" y1="0" x2="0" y2="1"><stop offset="0.845" stop-color="#1a1a1a"/><stop offset="0.906" stop-color="#3a3a3a"/><stop offset="0.953" stop-color="#4f4f4f"/><stop offset="0.987" stop-color="#797979"/></linearGradient>
<linearGradient id="g203" x1="0" y1="0" x2="0" y2="1"><stop offset="0.822" stop-color="#1a1a1a"/><stop offset="0.890" stop-color="#383838"/><stop offset="0.945" stop-color="#4f4f4f"/><stop offset="0.987" stop-color="#777777"/></linearGradient>
<linearGradient id="g204" x1="0" y1="0" x2="0" y2="1"><stop offset="0.838" stop-color="#1a1a1a"/><stop offset="0.900" stop-color="#3c3c3c"/><stop offset="0.951" stop-color="#535353"/><stop offset="0.987" stop-color="#828282"/></linearGradient>
<linearGradient id="g205" x1="0" y1="0" x2="0" y2="1"><stop offset="0.844" stop-color="#1a1a1a"/><stop offset="0.904" stop-color="#3c3c3c"/><stop offset="0.952" stop-color="#555555"/><stop offset="0.987" stop-color="#848484"/></linearGradient>
<linearGradient id="g206" x1="0" y1="0" x2="0" y2="1"><stop offset="0.826" stop-color="#1a1a1a"/><stop offset="0.894" stop-color="#3e3e3e"/><stop offset="0.947" stop-color="#575757"/><stop offset="0.987" stop-color="#888888"/></linearGradient>
<linearGradient id="g207" x1="0" y1="0" x2="0" y2="1"><stop offset="0.804" stop-color="#1a1a1a"/><stop offset="0.878" stop-color="#323232"/><stop offset="0.939" stop-color="#424242"/><stop offset="0.987" stop-color="#636363"/></linearGradient>
<linearGradient id="g208" x1="0" y1="0" x2="0" y2="1"><stop offset="0.805" stop-color="#1a1a1a"/><stop offset="0.879" stop-color="#3c3c3c"/><stop offset="0.939" stop-color="#535353"/><stop offset="0.987" stop-color="#828282"/></linearGradient>
<linearGradient id="g209" x1="0" y1="0" x2="0" y2="1"><stop offset="0.840" stop-color="#1a1a1a"/><stop offset="0.903" stop-color="#3a3a3a"/><stop offset="0.951" stop-color="#515151"/><stop offset="0.987" stop-color="#7d7d7d"/></linearGradient>
<linearGradient id="g210" x1="0" y1="0" x2="0" y2="1"><stop offset="0.853" stop-color="#1a1a1a"/><stop offset="0.910" stop-color="#303030"/><stop offset="0.956" stop-color="#404040"/><stop offset="0.987" stop-color="#5d5d5d"/></linearGradient>
<linearGradient id="g211" x1="0" y1="0" x2="0" y2="1"><stop offset="0.860" stop-color="#1a1a1a"/><stop offset="0.916" stop-color="#303030"/><stop offset="0.957" stop-color="#3e3e3e"/><stop offset="0.987" stop-color="#5d5d5d"/></linearGradient>
<linearGradient id="g212" x1="0" y1="0" x2="0" y2="1"><stop offset="0.809" stop-color="#1a1a1a"/><stop offset="0.882" stop-color="#3e3e3e"/><stop offset="0.940" stop-color="#575757"/><stop offset="0.987" stop-color="#888888"/></linearGradient>
<linearGradient id="g213" x1="0" y1="0" x2="0" y2="1"><stop offset="0.849" stop-color="#1a1a1a"/><stop offset="0.908" stop-color="#3c3c3c"/><stop offset="0.955" stop-color="#535353"/><stop offset="0.987" stop-color="#828282"/></linearGradient>
<linearGradient id="g214" x1="0" y1="0" x2="0" y2="1"><stop offset="0.844" stop-color="#1a1a1a"/><stop offset="0.905" stop-color="#323232"/><stop offset="0.952" stop-color="#424242"/><stop offset="0.987" stop-color="#616161"/></linearGradient>
<linearGradient id="g215" x1="0" y1="0" x2="0" y2="1"><stop offset="0.000" stop-color="#6b6b6b"/><stop offset="0.987" stop-color="#757575"/></linearGradient>
<linearGradient id="g216" x1="0" y1="0" x2="0" y2="1"><stop offset="0.000" stop-color="#616161"/><stop offset="0.130" stop-color="#808080"/><stop offset="0.519" stop-color="#8e8e8e"/><stop offset="0.779" stop-color="#a2a2a2"/><stop offset="0.909" stop-color="#d1d1d1"/><stop offset="1.000" stop-color="#fefefe"/></linearGradient>
<linearGradient id="g217" x1="0" y1="0" x2="0" y2="1"><stop offset="0.000" stop-color="#282828"/><stop offset="0.005" stop-color="#4a4a4a"/><stop offset="0.122" stop-color="#6d6d6d"/><stop offset="0.290" stop-color="#8c8c8c"/><stop offset="0.484" stop-color="#a0a0a0"/><stop offset="0.626" stop-color="#b7b7b7"/><stop offset="0.743" stop-color="#d5d5d5"/><stop offset="0.819" stop-color="#f2f2f2"/><stop offset="0.884" stop-color="#fafafa"/><stop offset="1.000" stop-color="#fafafa"/></linearGradient>
<linearGradient id="g218" x1="0" y1="0" x2="0" y2="1"><stop offset="0.000" stop-color="#262626"/><stop offset="0.047" stop-color="#444444"/><stop offset="0.157" stop-color="#636363"/><stop offset="0.321" stop-color="#7b7b7b"/><stop offset="0.509" stop-color="#8e8e8e"/><stop offset="0.647" stop-color="#a2a2a2"/><stop offset="0.757" stop-color="#bbbbbb"/><stop offset="0.830" stop-color="#d3d3d3"/><stop offset="0.888" stop-color="#eaeaea"/><stop offset="1.000" stop-color="#eaeaea"/></linearGradient>
<linearGradient id="g219" x1="0" y1="0" x2="0" y2="1"><stop offset="0.068" stop-color="#2a2a2a"/><stop offset="0.140" stop-color="#4c4c4c"/><stop offset="0.240" stop-color="#717171"/><stop offset="0.391" stop-color="#909090"/><stop offset="0.569" stop-color="#a6a6a6"/><stop offset="0.694" stop-color="#bdbdbd"/><stop offset="0.794" stop-color="#dbdbdb"/><stop offset="0.853" stop-color="#f8f8f8"/><stop offset="0.901" stop-color="#fafafa"/><stop offset="1.000" stop-color="#fafafa"/></linearGradient>
<linearGradient id="g220" x1="0" y1="0" x2="0" y2="1"><stop offset="0.000" stop-color="#2a2a2a"/><stop offset="0.018" stop-color="#4f4f4f"/><stop offset="0.132" stop-color="#757575"/><stop offset="0.299" stop-color="#969696"/><stop offset="0.492" stop-color="#aeaeae"/><stop offset="0.632" stop-color="#c5c5c5"/><stop offset="0.747" stop-color="#e6e6e6"/><stop offset="0.822" stop-color="#fafafa"/><stop offset="0.886" stop-color="#fafafa"/><stop offset="1.000" stop-color="#fafafa"/></linearGradient>
<linearGradient id="g221" x1="0" y1="0" x2="0" y2="1"><stop offset="0.000" stop-color="#282828"/><stop offset="0.006" stop-color="#464646"/><stop offset="0.122" stop-color="#676767"/><stop offset="0.291" stop-color="#828282"/><stop offset="0.484" stop-color="#969696"/><stop offset="0.626" stop-color="#aaaaaa"/><stop offset="0.743" stop-color="#c5c5c5"/><stop offset="0.819" stop-color="#dfdfdf"/><stop offset="0.884" stop-color="#f8f8f8"/><stop offset="1.000" stop-color="#f8f8f8"/></linearGradient>
<linearGradient id="g222" x1="0" y1="0" x2="0" y2="1"><stop offset="0.027" stop-color="#262626"/><stop offset="0.105" stop-color="#444444"/><stop offset="0.209" stop-color="#616161"/><stop offset="0.365" stop-color="#797979"/><stop offset="0.547" stop-color="#8c8c8c"/><stop offset="0.675" stop-color="#9e9e9e"/><stop offset="0.779" stop-color="#b7b7b7"/><stop offset="0.844" stop-color="#cfcfcf"/><stop offset="0.896" stop-color="#e6e6e6"/><stop offset="1.000" stop-color="#e6e6e6"/></linearGradient>
<linearGradient id="g223" x1="0" y1="0" x2="0" y2="1"><stop offset="0.000" stop-color="#262626"/><stop offset="0.042" stop-color="#404040"/><stop offset="0.153" stop-color="#5b5b5b"/><stop offset="0.317" stop-color="#717171"/><stop offset="0.506" stop-color="#828282"/><stop offset="0.644" stop-color="#929292"/><stop offset="0.756" stop-color="#aaaaaa"/><stop offset="0.829" stop-color="#bfbfbf"/><stop offset="0.888" stop-color="#d3d3d3"/><stop offset="1.000" stop-color="#d3d3d3"/></linearGradient>
<linearGradient id="g224" x1="0" y1="0" x2="0" y2="1"><stop offset="0.036" stop-color="#282828"/><stop offset="0.113" stop-color="#4a4a4a"/><stop offset="0.216" stop-color="#6d6d6d"/><stop offset="0.370" stop-color="#8c8c8c"/><stop offset="0.551" stop-color="#a2a2a2"/><stop offset="0.681" stop-color="#b7b7b7"/><stop offset="0.783" stop-color="#d5d5d5"/><stop offset="0.847" stop-color="#f2f2f2"/><stop offset="0.897" stop-color="#fafafa"/><stop offset="1.000" stop-color="#fafafa"/></linearGradient>
<linearGradient id="g225" x1="0" y1="0" x2="0" y2="1"><stop offset="0.047" stop-color="#262626"/><stop offset="0.122" stop-color="#444444"/><stop offset="0.223" stop-color="#616161"/><stop offset="0.378" stop-color="#797979"/><stop offset="0.557" stop-color="#8c8c8c"/><stop offset="0.684" stop-color="#9e9e9e"/><stop offset="0.786" stop-color="#b7b7b7"/><stop offset="0.849" stop-color="#cfcfcf"/><stop offset="0.899" stop-color="#e6e6e6"/><stop offset="1.000" stop-color="#e6e6e6"/></linearGradient>
<linearGradient id="g226" x1="0" y1="0" x2="0" y2="1"><stop offset="0.000" stop-color="#2a2a2a"/><stop offset="0.001" stop-color="#4f4f4f"/><stop offset="0.118" stop-color="#737373"/><stop offset="0.287" stop-color="#929292"/><stop offset="0.482" stop-color="#aaaaaa"/><stop offset="0.625" stop-color="#c1c1c1"/><stop offset="0.740" stop-color="#e1e1e1"/><stop offset="0.818" stop-color="#fafafa"/><stop offset="0.883" stop-color="#fafafa"/><stop offset="1.000" stop-color="#fafafa"/></linearGradient>
<linearGradient id="g227" x1="0" y1="0" x2="0" y2="1"><stop offset="0.073" stop-color="#2a2a2a"/><stop offset="0.145" stop-color="#4f4f4f"/><stop offset="0.244" stop-color="#737373"/><stop offset="0.395" stop-color="#929292"/><stop offset="0.571" stop-color="#aaaaaa"/><stop offset="0.696" stop-color="#c1c1c1"/><stop offset="0.795" stop-color="#e1e1e1"/><stop offset="0.855" stop-color="#fafafa"/><stop offset="0.901" stop-color="#fafafa"/><stop offset="1.000" stop-color="#fafafa"/></linearGradient>
<linearGradient id="g228" x1="0" y1="0" x2="0" y2="1"><stop offset="0.000" stop-color="#282828"/><stop offset="0.032" stop-color="#464646"/><stop offset="0.145" stop-color="#656565"/><stop offset="0.310" stop-color="#808080"/><stop offset="0.501" stop-color="#929292"/><stop offset="0.639" stop-color="#a4a4a4"/><stop offset="0.752" stop-color="#c1c1c1"/><stop offset="0.826" stop-color="#d9d9d9"/><stop offset="0.887" stop-color="#f0f0f0"/><stop offset="1.000" stop-color="#f0f0f0"/></linearGradient>
<linearGradient id="g229" x1="0" y1="0" x2="0" y2="1"><stop offset="0.000" stop-color="#2a2a2a"/><stop offset="0.070" stop-color="#515151"/><stop offset="0.178" stop-color="#777777"/><stop offset="0.338" stop-color="#9a9a9a"/><stop offset="0.525" stop-color="#b0b0b0"/><stop offset="0.658" stop-color="#c9c9c9"/><stop offset="0.766" stop-color="#ececec"/><stop offset="0.835" stop-color="#fafafa"/><stop offset="0.892" stop-color="#fafafa"/><stop offset="1.000" stop-color="#fafafa"/></linearGradient>
<linearGradient id="g230" x1="0" y1="0" x2="0" y2="1"><stop offset="0.000" stop-color="#262626"/><stop offset="0.019" stop-color="#404040"/><stop offset="0.135" stop-color="#5d5d5d"/><stop offset="0.301" stop-color="#757575"/><stop offset="0.494" stop-color="#868686"/><stop offset="0.634" stop-color="#969696"/><stop offset="0.748" stop-color="#aeaeae"/><stop offset="0.823" stop-color="#c5c5c5"/><stop offset="0.886" stop-color="#d9d9d9"/><stop offset="1.000" stop-color="#d9d9d9"/></linearGradient>
<linearGradient id="g231" x1="0" y1="0" x2="0" y2="1"><stop offset="0.051" stop-color="#2a2a2a"/><stop offset="0.126" stop-color="#4f4f4f"/><stop offset="0.227" stop-color="#737373"/><stop offset="0.379" stop-color="#949494"/><stop offset="0.558" stop-color="#acacac"/><stop offset="0.686" stop-color="#c3c3c3"/><stop offset="0.787" stop-color="#e3e3e3"/><stop offset="0.849" stop-color="#fafafa"/><stop offset="0.899" stop-color="#fafafa"/><stop offset="1.000" stop-color="#fafafa"/></linearGradient>
<linearGradient id="g232" x1="0" y1="0" x2="0" y2="1"><stop offset="0.000" stop-color="#4c4c4c"/><stop offset="0.156" stop-color="#6b6b6b"/><stop offset="0.494" stop-color="#8a8a8a"/><stop offset="0.675" stop-color="#b3b3b3"/><stop offset="0.779" stop-color="#e6e6e6"/><stop offset="1.000" stop-color="#fefefe"/></linearGradient>
<linearGradient id="g233" x1="0" y1="0" x2="0" y2="1"><stop offset="0.783" stop-color="#1c1c1c"/><stop offset="0.884" stop-color="#4a4a4a"/><stop offset="0.987" stop-color="#7b7b7b"/></linearGradient>
<linearGradient id="g234" x1="0" y1="0" x2="0" y2="1"><stop offset="0.755" stop-color="#1c1c1c"/><stop offset="0.870" stop-color="#535353"/><stop offset="0.987" stop-color="#8e8e8e"/></linearGradient>
<linearGradient id="g235" x1="0" y1="0" x2="0" y2="1"><stop offset="0.743" stop-color="#1c1c1c"/><stop offset="0.865" stop-color="#464646"/><stop offset="0.987" stop-color="#757575"/></linearGradient>
<linearGradient id="g236" x1="0" y1="0" x2="0" y2="1"><stop offset="0.742" stop-color="#1c1c1c"/><stop offset="0.864" stop-color="#444444"/><stop offset="0.987" stop-color="#6f6f6f"/></linearGradient>
<linearGradient id="g237" x1="0" y1="0" x2="0" y2="1"><stop offset="0.781" stop-color="#1c1c1c"/><stop offset="0.883" stop-color="#464646"/><stop offset="0.987" stop-color="#717171"/></linearGradient>
<linearGradient id="g238" x1="0" y1="0" x2="0" y2="1"><stop offset="0.101" stop-color="#202020"/><stop offset="0.205" stop-color="#484848"/><stop offset="0.388" stop-color="#6d6d6d"/><stop offset="0.622" stop-color="#828282"/><stop offset="0.804" stop-color="#9a9a9a"/><stop offset="0.935" stop-color="#b3b3b3"/><stop offset="0.987" stop-color="#c1c1c1"/></linearGradient>
<linearGradient id="g239" x1="0" y1="0" x2="0" y2="1"><stop offset="0.070" stop-color="#1e1e1e"/><stop offset="0.179" stop-color="#424242"/><stop offset="0.368" stop-color="#616161"/><stop offset="0.606" stop-color="#737373"/><stop offset="0.794" stop-color="#8a8a8a"/><stop offset="0.930" stop-color="#9e9e9e"/><stop offset="0.987" stop-color="#aaaaaa"/></linearGradient>
<linearGradient id="g240" x1="0" y1="0" x2="0" y2="1"><stop offset="0.003" stop-color="#1e1e1e"/><stop offset="0.123" stop-color="#424242"/><stop offset="0.322" stop-color="#616161"/><stop offset="0.573" stop-color="#737373"/><stop offset="0.771" stop-color="#8a8a8a"/><stop offset="0.918" stop-color="#9e9e9e"/><stop offset="0.987" stop-color="#aaaaaa"/></linearGradient>
<linearGradient id="g241" x1="0" y1="0" x2="0" y2="1"><stop offset="0.025" stop-color="#202020"/><stop offset="0.142" stop-color="#4a4a4a"/><stop offset="0.336" stop-color="#6d6d6d"/><stop offset="0.583" stop-color="#828282"/><stop offset="0.779" stop-color="#9c9c9c"/><stop offset="0.922" stop-color="#b5b5b5"/><stop offset="0.987" stop-color="#c3c3c3"/></linearGradient>
<linearGradient id="g242" x1="0" y1="0" x2="0" y2="1"><stop offset="0.155" stop-color="#202020"/><stop offset="0.249" stop-color="#4a4a4a"/><stop offset="0.423" stop-color="#6f6f6f"/><stop offset="0.648" stop-color="#848484"/><stop offset="0.822" stop-color="#9e9e9e"/><stop offset="0.943" stop-color="#b7b7b7"/><stop offset="0.987" stop-color="#c5c5c5"/></linearGradient>
<linearGradient id="g243" x1="0" y1="0" x2="0" y2="1"><stop offset="0.130" stop-color="#1e1e1e"/><stop offset="0.230" stop-color="#424242"/><stop offset="0.406" stop-color="#5f5f5f"/><stop offset="0.636" stop-color="#717171"/><stop offset="0.814" stop-color="#868686"/><stop offset="0.939" stop-color="#9a9a9a"/><stop offset="0.987" stop-color="#a6a6a6"/></linearGradient>
<linearGradient id="g244" x1="0" y1="0" x2="0" y2="1"><stop offset="0.165" stop-color="#202020"/><stop offset="0.258" stop-color="#444444"/><stop offset="0.430" stop-color="#656565"/><stop offset="0.655" stop-color="#777777"/><stop offset="0.826" stop-color="#8e8e8e"/><stop offset="0.945" stop-color="#a4a4a4"/><stop offset="0.987" stop-color="#b0b0b0"/></linearGradient>
<linearGradient id="g245" x1="0" y1="0" x2="0" y2="1"><stop offset="0.044" stop-color="#202020"/><stop offset="0.157" stop-color="#595959"/><stop offset="0.349" stop-color="#888888"/><stop offset="0.594" stop-color="#a2a2a2"/><stop offset="0.786" stop-color="#c3c3c3"/><stop offset="0.925" stop-color="#e3e3e3"/><stop offset="0.987" stop-color="#f6f6f6"/></linearGradient>
<linearGradient id="g246" x1="0" y1="0" x2="0" y2="1"><stop offset="0.052" stop-color="#4c4c4c"/><stop offset="0.260" stop-color="#757575"/><stop offset="0.649" stop-color="#969696"/><stop offset="0.883" stop-color="#b3b3b3"/><stop offset="0.987" stop-color="#c7c7c7"/></linearGradient>
<linearGradient id="g247" x1="0" y1="0" x2="0" y2="1"><stop offset="0.016" stop-color="#2c2c2c"/><stop offset="0.121" stop-color="#4c4c4c"/><stop offset="0.252" stop-color="#6f6f6f"/><stop offset="0.435" stop-color="#848484"/><stop offset="0.618" stop-color="#929292"/><stop offset="0.775" stop-color="#a6a6a6"/><stop offset="0.881" stop-color="#bdbdbd"/><stop offset="0.947" stop-color="#d9d9d9"/><stop offset="1.000" stop-color="#f0f0f0"/></linearGradient>
<linearGradient id="g248" x1="0" y1="0" x2="0" y2="1"><stop offset="0.001" stop-color="#2e2e2e"/><stop offset="0.109" stop-color="#515151"/><stop offset="0.242" stop-color="#737373"/><stop offset="0.426" stop-color="#888888"/><stop offset="0.612" stop-color="#989898"/><stop offset="0.770" stop-color="#acacac"/><stop offset="0.877" stop-color="#c3c3c3"/><stop offset="0.945" stop-color="#e1e1e1"/><stop offset="1.000" stop-color="#fafafa"/></linearGradient>
<linearGradient id="g249" x1="0" y1="0" x2="0" y2="1"><stop offset="0.009" stop-color="#2e2e2e"/><stop offset="0.116" stop-color="#515151"/><stop offset="0.247" stop-color="#757575"/><stop offset="0.431" stop-color="#8a8a8a"/><stop offset="0.616" stop-color="#9a9a9a"/><stop offset="0.773" stop-color="#aeaeae"/><stop offset="0.879" stop-color="#c7c7c7"/><stop offset="0.945" stop-color="#e6e6e6"/><stop offset="1.000" stop-color="#fafafa"/></linearGradient>
<linearGradient id="g250" x1="0" y1="0" x2="0" y2="1"><stop offset="0.013" stop-color="#2a2a2a"/><stop offset="0.118" stop-color="#464646"/><stop offset="0.251" stop-color="#656565"/><stop offset="0.434" stop-color="#757575"/><stop offset="0.617" stop-color="#848484"/><stop offset="0.774" stop-color="#949494"/><stop offset="0.881" stop-color="#a8a8a8"/><stop offset="0.947" stop-color="#c1c1c1"/><stop offset="1.000" stop-color="#d5d5d5"/></linearGradient>
<linearGradient id="g251" x1="0" y1="0" x2="0" y2="1"><stop offset="0.000" stop-color="#2a2a2a"/><stop offset="0.075" stop-color="#464646"/><stop offset="0.213" stop-color="#656565"/><stop offset="0.403" stop-color="#757575"/><stop offset="0.592" stop-color="#828282"/><stop offset="0.756" stop-color="#929292"/><stop offset="0.868" stop-color="#a6a6a6"/><stop offset="0.940" stop-color="#bfbfbf"/><stop offset="1.000" stop-color="#d3d3d3"/></linearGradient>
<linearGradient id="g252" x1="0" y1="0" x2="0" y2="1"><stop offset="0.099" stop-color="#2c2c2c"/><stop offset="0.194" stop-color="#4c4c4c"/><stop offset="0.314" stop-color="#6d6d6d"/><stop offset="0.487" stop-color="#808080"/><stop offset="0.660" stop-color="#8e8e8e"/><stop offset="0.806" stop-color="#a0a0a0"/><stop offset="0.901" stop-color="#b7b7b7"/><stop offset="0.957" stop-color="#d3d3d3"/><stop offset="1.000" stop-color="#eaeaea"/></linearGradient>
<linearGradient id="g253" x1="0" y1="0" x2="0" y2="1"><stop offset="0.034" stop-color="#2e2e2e"/><stop offset="0.136" stop-color="#515151"/><stop offset="0.265" stop-color="#757575"/><stop offset="0.447" stop-color="#8a8a8a"/><stop offset="0.627" stop-color="#9a9a9a"/><stop offset="0.782" stop-color="#acacac"/><stop offset="0.884" stop-color="#c5c5c5"/><stop offset="0.949" stop-color="#e3e3e3"/><stop offset="1.000" stop-color="#fafafa"/></linearGradient>
<linearGradient id="g254" x1="0" y1="0" x2="0" y2="1"><stop offset="0.088" stop-color="#323232"/><stop offset="0.184" stop-color="#595959"/><stop offset="0.306" stop-color="#848484"/><stop offset="0.481" stop-color="#9c9c9c"/><stop offset="0.655" stop-color="#aeaeae"/><stop offset="0.803" stop-color="#c7c7c7"/><stop offset="0.899" stop-color="#e3e3e3"/><stop offset="0.956" stop-color="#fafafa"/><stop offset="1.000" stop-color="#fafafa"/></linearGradient>
<linearGradient id="g255" x1="0" y1="0" x2="0" y2="1"><stop offset="0.000" stop-color="#2e2e2e"/><stop offset="0.094" stop-color="#535353"/><stop offset="0.229" stop-color="#777777"/><stop offset="0.416" stop-color="#8c8c8c"/><stop offset="0.603" stop-color="#9e9e9e"/><stop offset="0.764" stop-color="#b3b3b3"/><stop offset="0.873" stop-color="#cbcbcb"/><stop offset="0.943" stop-color="#ececec"/><stop offset="1.000" stop-color="#fafafa"/></linearGradient>
<linearGradient id="g256" x1="0" y1="0" x2="0" y2="1"><stop offset="0.004" stop-color="#2e2e2e"/><stop offset="0.110" stop-color="#515151"/><stop offset="0.243" stop-color="#757575"/><stop offset="0.427" stop-color="#8c8c8c"/><stop offset="0.613" stop-color="#9c9c9c"/><stop offset="0.771" stop-color="#b0b0b0"/><stop offset="0.878" stop-color="#c9c9c9"/><stop offset="0.945" stop-color="#e8e8e8"/><stop offset="1.000" stop-color="#fafafa"/></linearGradient>
<linearGradient id="g257" x1="0" y1="0" x2="0" y2="1"><stop offset="0.026" stop-color="#383838"/><stop offset="0.130" stop-color="#4c4c4c"/><stop offset="0.286" stop-color="#757575"/><stop offset="0.649" stop-color="#8a8a8a"/><stop offset="0.857" stop-color="#969696"/><stop offset="0.987" stop-color="#9e9e9e"/></linearGradient>
<linearGradient id="g258" x1="0" y1="0" x2="0" y2="1"><stop offset="0.796" stop-color="#1c1c1c"/><stop offset="0.892" stop-color="#303030"/><stop offset="0.987" stop-color="#535353"/></linearGradient>
<linearGradient id="g259" x1="0" y1="0" x2="0" y2="1"><stop offset="0.831" stop-color="#1c1c1c"/><stop offset="0.909" stop-color="#323232"/><stop offset="0.987" stop-color="#555555"/></linearGradient>
<linearGradient id="g260" x1="0" y1="0" x2="0" y2="1"><stop offset="0.758" stop-color="#1c1c1c"/><stop offset="0.873" stop-color="#383838"/><stop offset="0.987" stop-color="#656565"/></linearGradient>
<linearGradient id="g261" x1="0" y1="0" x2="0" y2="1"><stop offset="0.830" stop-color="#1c1c1c"/><stop offset="0.908" stop-color="#303030"/><stop offset="0.987" stop-color="#515151"/></linearGradient>
<linearGradient id="g262" x1="0" y1="0" x2="0" y2="1"><stop offset="0.830" stop-color="#1c1c1c"/><stop offset="0.908" stop-color="#323232"/><stop offset="0.987" stop-color="#575757"/></linearGradient>
<linearGradient id="g263" x1="0" y1="0" x2="0" y2="1"><stop offset="0.805" stop-color="#1c1c1c"/><stop offset="0.896" stop-color="#3a3a3a"/><stop offset="0.987" stop-color="#6b6b6b"/></linearGradient>
<linearGradient id="g264" x1="0" y1="0" x2="0" y2="1"><stop offset="0.816" stop-color="#1c1c1c"/><stop offset="0.901" stop-color="#3e3e3e"/><stop offset="0.987" stop-color="#757575"/></linearGradient>
<linearGradient id="g265" x1="0" y1="0" x2="0" y2="1"><stop offset="0.795" stop-color="#1c1c1c"/><stop offset="0.891" stop-color="#3a3a3a"/><stop offset="0.987" stop-color="#696969"/></linearGradient>
<linearGradient id="g266" x1="0" y1="0" x2="0" y2="1"><stop offset="0.768" stop-color="#1c1c1c"/><stop offset="0.878" stop-color="#343434"/><stop offset="0.987" stop-color="#5b5b5b"/></linearGradient>
<linearGradient id="g267" x1="0" y1="0" x2="0" y2="1"><stop offset="0.792" stop-color="#1c1c1c"/><stop offset="0.890" stop-color="#363636"/><stop offset="0.987" stop-color="#616161"/></linearGradient>
<linearGradient id="g268" x1="0" y1="0" x2="0" y2="1"><stop offset="0.000" stop-color="#242424"/><stop offset="0.584" stop-color="#242424"/><stop offset="1.000" stop-color="#222222"/></linearGradient>
<linearGradient id="g269" x1="0" y1="0" x2="0" y2="1"><stop offset="0.000" stop-color="#2e2e2e"/><stop offset="0.584" stop-color="#2c2c2c"/><stop offset="1.000" stop-color="#282828"/></linearGradient>
<linearGradient id="g270" x1="0" y1="0" x2="0" y2="1"><stop offset="0.000" stop-color="#282828"/><stop offset="0.584" stop-color="#262626"/><stop offset="1.000" stop-color="#242424"/></linearGradient>
<linearGradient id="g271" x1="0" y1="0" x2="0" y2="1"><stop offset="0.000" stop-color="#303030"/><stop offset="0.584" stop-color="#2e2e2e"/><stop offset="1.000" stop-color="#282828"/></linearGradient>
<linearGradient id="g272" x1="0" y1="0" x2="0" y2="1"><stop offset="0.000" stop-color="#262626"/><stop offset="0.584" stop-color="#242424"/><stop offset="1.000" stop-color="#222222"/></linearGradient>
<linearGradient id="g273" x1="0" y1="0" x2="0" y2="1"><stop offset="0.000" stop-color="#343434"/><stop offset="0.584" stop-color="#303030"/><stop offset="1.000" stop-color="#2a2a2a"/></linearGradient>
<linearGradient id="g274" x1="0" y1="0" x2="0" y2="1"><stop offset="0.000" stop-color="#2c2c2c"/><stop offset="0.584" stop-color="#2a2a2a"/><stop offset="1.000" stop-color="#262626"/></linearGradient>
<linearGradient id="g275" x1="0" y1="0" x2="0" y2="1"><stop offset="0.000" stop-color="#242424"/><stop offset="0.584" stop-color="#242424"/><stop offset="1.000" stop-color="#202020"/></linearGradient>
<linearGradient id="g276" x1="0" y1="0" x2="0" y2="1"><stop offset="0.000" stop-color="#343434"/><stop offset="0.584" stop-color="#323232"/><stop offset="1.000" stop-color="#2c2c2c"/></linearGradient>
<linearGradient id="g277" x1="0" y1="0" x2="0" y2="1"><stop offset="0.000" stop-color="#303030"/><stop offset="0.584" stop-color="#2c2c2c"/><stop offset="1.000" stop-color="#282828"/></linearGradient>
<linearGradient id="g278" x1="0" y1="0" x2="0" y2="1"><stop offset="0.000" stop-color="#323232"/><stop offset="0.584" stop-color="#303030"/><stop offset="1.000" stop-color="#2a2a2a"/></linearGradient>
<linearGradient id="g279" x1="0" y1="0" x2="0" y2="1"><stop offset="0.000" stop-color="#262626"/><stop offset="0.584" stop-color="#262626"/><stop offset="1.000" stop-color="#222222"/></linearGradient>
<linearGradient id="g280" x1="0" y1="0" x2="0" y2="1"><stop offset="0.000" stop-color="#343434"/><stop offset="0.584" stop-color="#303030"/><stop offset="1.000" stop-color="#2c2c2c"/></linearGradient>
<linearGradient id="g281" x1="0" y1="0" x2="0" y2="1"><stop offset="0.000" stop-color="#303030"/><stop offset="0.584" stop-color="#2e2e2e"/><stop offset="1.000" stop-color="#2a2a2a"/></linearGradient>
<linearGradient id="g282" x1="0" y1="0" x2="0" y2="1"><stop offset="0.000" stop-color="#2a2a2a"/><stop offset="0.584" stop-color="#282828"/><stop offset="1.000" stop-color="#262626"/></linearGradient>
<linearGradient id="g283" x1="0" y1="0" x2="0" y2="1"><stop offset="0.000" stop-color="#323232"/><stop offset="0.584" stop-color="#2e2e2e"/><stop offset="1.000" stop-color="#2a2a2a"/></linearGradient>
<linearGradient id="g284" x1="0" y1="0" x2="0" y2="1"><stop offset="0.000" stop-color="#2a2a2a"/><stop offset="0.584" stop-color="#2a2a2a"/><stop offset="1.000" stop-color="#262626"/></linearGradient>
<linearGradient id="g285" x1="0" y1="0" x2="0" y2="1"><stop offset="0.000" stop-color="#2e2e2e"/><stop offset="0.584" stop-color="#2c2c2c"/><stop offset="1.000" stop-color="#262626"/></linearGradient>
<linearGradient id="g286" x1="0" y1="0" x2="0" y2="1"><stop offset="0.026" stop-color="#242424"/><stop offset="0.065" stop-color="#404040"/><stop offset="0.156" stop-color="#616161"/><stop offset="0.286" stop-color="#7d7d7d"/><stop offset="0.442" stop-color="#8e8e8e"/><stop offset="0.597" stop-color="#9e9e9e"/><stop offset="0.753" stop-color="#b3b3b3"/><stop offset="0.857" stop-color="#cbcbcb"/><stop offset="0.896" stop-color="#e6e6e6"/><stop offset="0.922" stop-color="#fefefe"/><stop offset="1.000" stop-color="#fefefe"/></linearGradient>
<linearGradient id="g287" x1="0" y1="0" x2="0" y2="1"><stop offset="0.013" stop-color="#242424"/><stop offset="0.052" stop-color="#404040"/><stop offset="0.130" stop-color="#616161"/><stop offset="0.286" stop-color="#828282"/><stop offset="0.468" stop-color="#969696"/><stop offset="0.675" stop-color="#aaaaaa"/><stop offset="0.831" stop-color="#bfbfbf"/><stop offset="0.909" stop-color="#d7d7d7"/><stop offset="0.935" stop-color="#fefefe"/><stop offset="1.000" stop-color="#fefefe"/></linearGradient>
<linearGradient id="g288" x1="0" y1="0" x2="0" y2="1"><stop offset="0.519" stop-color="#1c1c1c"/><stop offset="0.779" stop-color="#4c4c4c"/><stop offset="0.909" stop-color="#757575"/><stop offset="0.987" stop-color="#9e9e9e"/></linearGradient>
<linearGradient id="g289" x1="0" y1="0" x2="0" y2="1"><stop offset="0.026" stop-color="#242424"/><stop offset="0.078" stop-color="#404040"/><stop offset="0.182" stop-color="#616161"/><stop offset="0.338" stop-color="#797979"/><stop offset="0.545" stop-color="#8a8a8a"/><stop offset="0.753" stop-color="#9a9a9a"/><stop offset="0.909" stop-color="#b3b3b3"/><stop offset="0.987" stop-color="#cbcbcb"/></linearGradient>
<linearGradient id="g290" x1="0" y1="0" x2="0" y2="1"><stop offset="0.013" stop-color="#282828"/><stop offset="0.052" stop-color="#484848"/><stop offset="0.130" stop-color="#656565"/><stop offset="0.234" stop-color="#7d7d7d"/><stop offset="0.364" stop-color="#8e8e8e"/><stop offset="0.571" stop-color="#9c9c9c"/><stop offset="0.753" stop-color="#acacac"/><stop offset="0.857" stop-color="#c3c3c3"/><stop offset="0.896" stop-color="#dbdbdb"/><stop offset="0.922" stop-color="#fefefe"/><stop offset="1.000" stop-color="#fefefe"/></linearGradient>
<linearGradient id="g291" x1="0" y1="0" x2="0" y2="1"><stop offset="0.156" stop-color="#1e1e1e"/><stop offset="0.221" stop-color="#3c3c3c"/><stop offset="0.584" stop-color="#535353"/><stop offset="0.987" stop-color="#6b6b6b"/></linearGradient>
<linearGradient id="g292" x1="0" y1="0" x2="0" y2="1"><stop offset="0.286" stop-color="#1e1e1e"/><stop offset="0.364" stop-color="#383838"/><stop offset="0.714" stop-color="#4c4c4c"/><stop offset="0.987" stop-color="#656565"/></linearGradient>
<linearGradient id="g293" x1="0" y1="0" x2="0" y2="1"><stop offset="0.584" stop-color="#1e1e1e"/><stop offset="0.714" stop-color="#343434"/><stop offset="0.987" stop-color="#4c4c4c"/></linearGradient>
<linearGradient id="g294" x1="0" y1="0" x2="0" y2="1"><stop offset="0.286" stop-color="#1e1e1e"/><stop offset="0.364" stop-color="#383838"/><stop offset="0.987" stop-color="#595959"/></linearGradient>
<linearGradient id="g295" x1="0" y1="0" x2="0" y2="1"><stop offset="0.234" stop-color="#1e1e1e"/><stop offset="0.312" stop-color="#3c3c3c"/><stop offset="0.649" stop-color="#515151"/><stop offset="0.987" stop-color="#717171"/></linearGradient>
<linearGradient id="g296" x1="0" y1="0" x2="0" y2="1"><stop offset="0.260" stop-color="#1e1e1e"/><stop offset="0.364" stop-color="#404040"/><stop offset="0.649" stop-color="#595959"/><stop offset="0.831" stop-color="#6d6d6d"/><stop offset="0.987" stop-color="#808080"/></linearGradient>
<linearGradient id="g297" x1="0" y1="0" x2="0" y2="1"><stop offset="0.143" stop-color="#202020"/><stop offset="0.195" stop-color="#444444"/><stop offset="0.364" stop-color="#656565"/><stop offset="0.623" stop-color="#808080"/><stop offset="0.805" stop-color="#9a9a9a"/><stop offset="0.935" stop-color="#c3c3c3"/><stop offset="0.987" stop-color="#d1d1d1"/></linearGradient>
<linearGradient id="g298" x1="0" y1="0" x2="0" y2="1"><stop offset="0.483" stop-color="#1c1c1c"/><stop offset="0.755" stop-color="#2a2a2a"/><stop offset="0.987" stop-color="#3a3a3a"/></linearGradient>
<linearGradient id="g299" x1="0" y1="0" x2="0" y2="1"><stop offset="0.632" stop-color="#1c1c1c"/><stop offset="0.829" stop-color="#343434"/><stop offset="0.987" stop-color="#535353"/></linearGradient>
<linearGradient id="g300" x1="0" y1="0" x2="0" y2="1"><stop offset="0.483" stop-color="#1c1c1c"/><stop offset="0.755" stop-color="#2e2e2e"/><stop offset="0.987" stop-color="#424242"/></linearGradient>
<linearGradient id="g301" x1="0" y1="0" x2="0" y2="1"><stop offset="0.652" stop-color="#1c1c1c"/><stop offset="0.839" stop-color="#303030"/><stop offset="0.987" stop-color="#484848"/></linearGradient>
<linearGradient id="g302" x1="0" y1="0" x2="0" y2="1"><stop offset="0.647" stop-color="#1c1c1c"/><stop offset="0.836" stop-color="#2e2e2e"/><stop offset="0.987" stop-color="#424242"/></linearGradient>
<linearGradient id="g303" x1="0" y1="0" x2="0" y2="1"><stop offset="0.490" stop-color="#1c1c1c"/><stop offset="0.758" stop-color="#3c3c3c"/><stop offset="0.987" stop-color="#636363"/></linearGradient>
<linearGradient id="g304" x1="0" y1="0" x2="0" y2="1"><stop offset="0.571" stop-color="#1c1c1c"/><stop offset="0.799" stop-color="#383838"/><stop offset="0.987" stop-color="#5b5b5b"/></linearGradient>
<linearGradient id="g305" x1="0" y1="0" x2="0" y2="1"><stop offset="0.713" stop-color="#1c1c1c"/><stop offset="0.870" stop-color="#363636"/><stop offset="0.987" stop-color="#535353"/></linearGradient>
<linearGradient id="g306" x1="0" y1="0" x2="0" y2="1"><stop offset="0.460" stop-color="#1c1c1c"/><stop offset="0.743" stop-color="#2c2c2c"/><stop offset="0.987" stop-color="#404040"/></linearGradient>
<linearGradient id="g307" x1="0" y1="0" x2="0" y2="1"><stop offset="0.560" stop-color="#1c1c1c"/><stop offset="0.792" stop-color="#444444"/><stop offset="0.987" stop-color="#737373"/></linearGradient>
<linearGradient id="g308" x1="0" y1="0" x2="0" y2="1"><stop offset="0.540" stop-color="#1c1c1c"/><stop offset="0.783" stop-color="#303030"/><stop offset="0.987" stop-color="#464646"/></linearGradient>
<linearGradient id="g309" x1="0" y1="0" x2="0" y2="1"><stop offset="0.703" stop-color="#1c1c1c"/><stop offset="0.865" stop-color="#343434"/><stop offset="0.987" stop-color="#515151"/></linearGradient>
<linearGradient id="g310" x1="0" y1="0" x2="0" y2="1"><stop offset="0.510" stop-color="#1c1c1c"/><stop offset="0.769" stop-color="#303030"/><stop offset="0.987" stop-color="#464646"/></linearGradient>
<linearGradient id="g311" x1="0" y1="0" x2="0" y2="1"><stop offset="0.596" stop-color="#1c1c1c"/><stop offset="0.812" stop-color="#3a3a3a"/><stop offset="0.987" stop-color="#5f5f5f"/></linearGradient>
<linearGradient id="g312" x1="0" y1="0" x2="0" y2="1"><stop offset="0.673" stop-color="#1c1c1c"/><stop offset="0.849" stop-color="#444444"/><stop offset="0.987" stop-color="#757575"/></linearGradient>
<linearGradient id="g313" x1="0" y1="0" x2="0" y2="1"><stop offset="0.508" stop-color="#1c1c1c"/><stop offset="0.766" stop-color="#343434"/><stop offset="0.987" stop-color="#515151"/></linearGradient>
<linearGradient id="g314" x1="0" y1="0" x2="0" y2="1"><stop offset="0.712" stop-color="#1c1c1c"/><stop offset="0.869" stop-color="#424242"/><stop offset="0.987" stop-color="#6d6d6d"/></linearGradient>
<linearGradient id="g315" x1="0" y1="0" x2="0" y2="1"><stop offset="0.645" stop-color="#1c1c1c"/><stop offset="0.836" stop-color="#2a2a2a"/><stop offset="0.987" stop-color="#3c3c3c"/></linearGradient>
<linearGradient id="g316" x1="0" y1="0" x2="0" y2="1"><stop offset="0.623" stop-color="#1c1c1c"/><stop offset="0.825" stop-color="#424242"/><stop offset="0.987" stop-color="#6f6f6f"/></linearGradient>
<linearGradient id="g317" x1="0" y1="0" x2="0" y2="1"><stop offset="0.661" stop-color="#1c1c1c"/><stop offset="0.844" stop-color="#303030"/><stop offset="0.987" stop-color="#484848"/></linearGradient>
<linearGradient id="g318" x1="0" y1="0" x2="0" y2="1"><stop offset="0.505" stop-color="#1c1c1c"/><stop offset="0.765" stop-color="#3e3e3e"/><stop offset="0.987" stop-color="#676767"/></linearGradient>
<linearGradient id="g319" x1="0" y1="0" x2="0" y2="1"><stop offset="0.512" stop-color="#1c1c1c"/><stop offset="0.769" stop-color="#3c3c3c"/><stop offset="0.987" stop-color="#616161"/></linearGradient>
<linearGradient id="g320" x1="0" y1="0" x2="0" y2="1"><stop offset="0.542" stop-color="#1c1c1c"/><stop offset="0.784" stop-color="#2c2c2c"/><stop offset="0.987" stop-color="#3c3c3c"/></linearGradient>
<linearGradient id="g321" x1="0" y1="0" x2="0" y2="1"><stop offset="0.557" stop-color="#1c1c1c"/><stop offset="0.792" stop-color="#343434"/><stop offset="0.987" stop-color="#4f4f4f"/></linearGradient>
<linearGradient id="g322" x1="0" y1="0" x2="0" y2="1"><stop offset="0.671" stop-color="#1c1c1c"/><stop offset="0.849" stop-color="#3c3c3c"/><stop offset="0.987" stop-color="#616161"/></linearGradient>
<linearGradient id="g323" x1="0" y1="0" x2="0" y2="1"><stop offset="0.708" stop-color="#1c1c1c"/><stop offset="0.868" stop-color="#444444"/><stop offset="0.987" stop-color="#757575"/></linearGradient>
<linearGradient id="g324" x1="0" y1="0" x2="0" y2="1"><stop offset="0.660" stop-color="#1c1c1c"/><stop offset="0.843" stop-color="#464646"/><stop offset="0.987" stop-color="#777777"/></linearGradient>
<linearGradient id="g325" x1="0" y1="0" x2="0" y2="1"><stop offset="0.500" stop-color="#1c1c1c"/><stop offset="0.764" stop-color="#323232"/><stop offset="0.987" stop-color="#4c4c4c"/></linearGradient>
<linearGradient id="g326" x1="0" y1="0" x2="0" y2="1"><stop offset="0.596" stop-color="#1c1c1c"/><stop offset="0.812" stop-color="#3c3c3c"/><stop offset="0.987" stop-color="#616161"/></linearGradient>
<linearGradient id="g327" x1="0" y1="0" x2="0" y2="1"><stop offset="0.479" stop-color="#1c1c1c"/><stop offset="0.752" stop-color="#3c3c3c"/><stop offset="0.987" stop-color="#636363"/></linearGradient>
<linearGradient id="g328" x1="0" y1="0" x2="0" y2="1"><stop offset="0.694" stop-color="#1c1c1c"/><stop offset="0.860" stop-color="#303030"/><stop offset="0.987" stop-color="#464646"/></linearGradient>
<linearGradient id="g329" x1="0" y1="0" x2="0" y2="1"><stop offset="0.635" stop-color="#1c1c1c"/><stop offset="0.831" stop-color="#3a3a3a"/><stop offset="0.987" stop-color="#5f5f5f"/></linearGradient>
<linearGradient id="g330" x1="0" y1="0" x2="0" y2="1"><stop offset="0.558" stop-color="#1c1c1c"/><stop offset="0.792" stop-color="#2c2c2c"/><stop offset="0.987" stop-color="#404040"/></linearGradient>
<linearGradient id="g331" x1="0" y1="0" x2="0" y2="1"><stop offset="0.623" stop-color="#1c1c1c"/><stop offset="0.825" stop-color="#444444"/><stop offset="0.987" stop-color="#717171"/></linearGradient>
<linearGradient id="g332" x1="0" y1="0" x2="0" y2="1"><stop offset="0.505" stop-color="#1c1c1c"/><stop offset="0.766" stop-color="#464646"/><stop offset="0.987" stop-color="#777777"/></linearGradient>
<linearGradient id="g333" x1="0" y1="0" x2="0" y2="1"><stop offset="0.662" stop-color="#1c1c1c"/><stop offset="0.844" stop-color="#363636"/><stop offset="0.987" stop-color="#575757"/></linearGradient>
<linearGradient id="g334" x1="0" y1="0" x2="0" y2="1"><stop offset="0.660" stop-color="#1c1c1c"/><stop offset="0.843" stop-color="#363636"/><stop offset="0.987" stop-color="#555555"/></linearGradient>
<linearGradient id="g335" x1="0" y1="0" x2="0" y2="1"><stop offset="0.486" stop-color="#1c1c1c"/><stop offset="0.756" stop-color="#3a3a3a"/><stop offset="0.987" stop-color="#5d5d5d"/></linearGradient>
<linearGradient id="g336" x1="0" y1="0" x2="0" y2="1"><stop offset="0.710" stop-color="#1c1c1c"/><stop offset="0.868" stop-color="#2c2c2c"/><stop offset="0.987" stop-color="#404040"/></linearGradient>
<linearGradient id="g337" x1="0" y1="0" x2="0" y2="1"><stop offset="0.505" stop-color="#1c1c1c"/><stop offset="0.765" stop-color="#2e2e2e"/><stop offset="0.987" stop-color="#424242"/></linearGradient>
<linearGradient id="g338" x1="0" y1="0" x2="0" y2="1"><stop offset="0.640" stop-color="#1c1c1c"/><stop offset="0.832" stop-color="#343434"/><stop offset="0.987" stop-color="#4f4f4f"/></linearGradient>
<linearGradient id="g339" x1="0" y1="0" x2="0" y2="1"><stop offset="0.468" stop-color="#1e1e1e"/><stop offset="0.545" stop-color="#464646"/><stop offset="0.779" stop-color="#656565"/><stop offset="0.987" stop-color="#808080"/></linearGradient>
<linearGradient id="g340" x1="0" y1="0" x2="0" y2="1"><stop offset="0.156" stop-color="#1e1e1e"/><stop offset="0.234" stop-color="#404040"/><stop offset="0.987" stop-color="#616161"/></linearGradient>
<linearGradient id="g341" x1="0" y1="0" x2="0" y2="1"><stop offset="0.156" stop-color="#1e1e1e"/><stop offset="0.234" stop-color="#464646"/><stop offset="0.649" stop-color="#5d5d5d"/><stop offset="0.987" stop-color="#757575"/></linearGradient>
<linearGradient id="g342" x1="0" y1="0" x2="0" y2="1"><stop offset="0.104" stop-color="#202020"/><stop offset="0.182" stop-color="#4c4c4c"/><stop offset="0.364" stop-color="#717171"/><stop offset="0.649" stop-color="#8a8a8a"/><stop offset="0.857" stop-color="#a2a2a2"/><stop offset="0.987" stop-color="#bdbdbd"/></linearGradient>
<linearGradient id="g343" x1="0" y1="0" x2="0" y2="1"><stop offset="0.234" stop-color="#202020"/><stop offset="0.325" stop-color="#484848"/><stop offset="0.649" stop-color="#616161"/><stop offset="0.987" stop-color="#757575"/></linearGradient>
<linearGradient id="g344" x1="0" y1="0" x2="0" y2="1"><stop offset="0.026" stop-color="#383838"/><stop offset="0.519" stop-color="#616161"/><stop offset="0.987" stop-color="#8a8a8a"/></linearGradient>
<linearGradient id="g345" x1="0" y1="0" x2="0" y2="1"><stop offset="0.000" stop-color="#8e8e8e"/><stop offset="0.104" stop-color="#b3b3b3"/><stop offset="0.260" stop-color="#d1d1d1"/><stop offset="0.649" stop-color="#d1d1d1"/><stop offset="0.805" stop-color="#c3c3c3"/><stop offset="0.909" stop-color="#d7d7d7"/><stop offset="1.000" stop-color="#fefefe"/></linearGradient>
<linearGradient id="g346" x1="0" y1="0" x2="0" y2="1"><stop offset="0.026" stop-color="#2e2e2e"/><stop offset="0.519" stop-color="#575757"/><stop offset="0.987" stop-color="#808080"/></linearGradient>
<linearGradient id="g347" x1="0" y1="0" x2="0" y2="1"><stop offset="0.903" stop-color="#757575"/><stop offset="0.942" stop-color="#c7c7c7"/><stop offset="0.961" stop-color="#fefefe"/><stop offset="1.000" stop-color="#fefefe"/></linearGradient>
<linearGradient id="g348" x1="0" y1="0" x2="0" y2="1"><stop offset="0.510" stop-color="#1c1c1c"/><stop offset="0.742" stop-color="#2a2a2a"/><stop offset="0.987" stop-color="#3e3e3e"/></linearGradient>
<linearGradient id="g349" x1="0" y1="0" x2="0" y2="1"><stop offset="0.688" stop-color="#1c1c1c"/><stop offset="0.831" stop-color="#323232"/><stop offset="0.987" stop-color="#515151"/></linearGradient>
<linearGradient id="g350" x1="0" y1="0" x2="0" y2="1"><stop offset="0.642" stop-color="#1c1c1c"/><stop offset="0.808" stop-color="#383838"/><stop offset="0.987" stop-color="#616161"/></linearGradient>
<linearGradient id="g351" x1="0" y1="0" x2="0" y2="1"><stop offset="0.587" stop-color="#1c1c1c"/><stop offset="0.781" stop-color="#2a2a2a"/><stop offset="0.987" stop-color="#404040"/></linearGradient>
<linearGradient id="g352" x1="0" y1="0" x2="0" y2="1"><stop offset="0.591" stop-color="#1c1c1c"/><stop offset="0.782" stop-color="#444444"/><stop offset="0.987" stop-color="#7d7d7d"/></linearGradient>
<linearGradient id="g353" x1="0" y1="0" x2="0" y2="1"><stop offset="0.683" stop-color="#1c1c1c"/><stop offset="0.829" stop-color="#464646"/><stop offset="0.987" stop-color="#868686"/></linearGradient>
<linearGradient id="g354" x1="0" y1="0" x2="0" y2="1"><stop offset="0.455" stop-color="#1c1c1c"/><stop offset="0.714" stop-color="#343434"/><stop offset="0.987" stop-color="#575757"/></linearGradient>
<linearGradient id="g355" x1="0" y1="0" x2="0" y2="1"><stop offset="0.487" stop-color="#1c1c1c"/><stop offset="0.731" stop-color="#404040"/><stop offset="0.987" stop-color="#757575"/></linearGradient>
<linearGradient id="g356" x1="0" y1="0" x2="0" y2="1"><stop offset="0.130" stop-color="#202020"/><stop offset="0.208" stop-color="#4c4c4c"/><stop offset="0.455" stop-color="#6b6b6b"/><stop offset="0.779" stop-color="#868686"/><stop offset="0.987" stop-color="#9e9e9e"/></linearGradient>
<linearGradient id="g357" x1="0" y1="0" x2="0" y2="1"><stop offset="0.618" stop-color="#1c1c1c"/><stop offset="0.796" stop-color="#3a3a3a"/><stop offset="0.987" stop-color="#676767"/></linearGradient>
<linearGradient id="g358" x1="0" y1="0" x2="0" y2="1"><stop offset="0.526" stop-color="#1c1c1c"/><stop offset="0.751" stop-color="#424242"/><stop offset="0.987" stop-color="#7b7b7b"/></linearGradient>
<linearGradient id="g359" x1="0" y1="0" x2="0" y2="1"><stop offset="0.686" stop-color="#1c1c1c"/><stop offset="0.830" stop-color="#3e3e3e"/><stop offset="0.987" stop-color="#6d6d6d"/></linearGradient>
<linearGradient id="g360" x1="0" y1="0" x2="0" y2="1"><stop offset="0.503" stop-color="#1c1c1c"/><stop offset="0.739" stop-color="#464646"/><stop offset="0.987" stop-color="#848484"/></linearGradient>
<linearGradient id="g361" x1="0" y1="0" x2="0" y2="1"><stop offset="0.156" stop-color="#202020"/><stop offset="0.234" stop-color="#4c4c4c"/><stop offset="0.455" stop-color="#717171"/><stop offset="0.779" stop-color="#8a8a8a"/><stop offset="0.987" stop-color="#9e9e9e"/></linearGradient>
<linearGradient id="g362" x1="0" y1="0" x2="0" y2="1"><stop offset="0.606" stop-color="#1c1c1c"/><stop offset="0.791" stop-color="#383838"/><stop offset="0.987" stop-color="#636363"/></linearGradient>
<linearGradient id="g363" x1="0" y1="0" x2="0" y2="1"><stop offset="0.688" stop-color="#1c1c1c"/><stop offset="0.831" stop-color="#444444"/><stop offset="0.987" stop-color="#7d7d7d"/></linearGradient>
<linearGradient id="g364" x1="0" y1="0" x2="0" y2="1"><stop offset="0.549" stop-color="#1c1c1c"/><stop offset="0.761" stop-color="#444444"/><stop offset="0.987" stop-color="#828282"/></linearGradient>
<linearGradient id="g365" x1="0" y1="0" x2="0" y2="1"><stop offset="0.104" stop-color="#202020"/><stop offset="0.182" stop-color="#515151"/><stop offset="0.390" stop-color="#757575"/><stop offset="0.714" stop-color="#8e8e8e"/><stop offset="0.909" stop-color="#aaaaaa"/><stop offset="0.987" stop-color="#bdbdbd"/></linearGradient>
<linearGradient id="g366" x1="0" y1="0" x2="0" y2="1"><stop offset="0.318" stop-color="#1e1e1e"/><stop offset="0.460" stop-color="#424242"/><stop offset="0.679" stop-color="#5b5b5b"/><stop offset="0.871" stop-color="#757575"/><stop offset="0.987" stop-color="#949494"/></linearGradient>
<linearGradient id="g367" x1="0" y1="0" x2="0" y2="1"><stop offset="0.345" stop-color="#1e1e1e"/><stop offset="0.479" stop-color="#484848"/><stop offset="0.692" stop-color="#676767"/><stop offset="0.878" stop-color="#868686"/><stop offset="0.987" stop-color="#aaaaaa"/></linearGradient>
<linearGradient id="g368" x1="0" y1="0" x2="0" y2="1"><stop offset="0.369" stop-color="#1e1e1e"/><stop offset="0.497" stop-color="#383838"/><stop offset="0.704" stop-color="#4c4c4c"/><stop offset="0.884" stop-color="#5f5f5f"/><stop offset="0.987" stop-color="#757575"/></linearGradient>
<linearGradient id="g369" x1="0" y1="0" x2="0" y2="1"><stop offset="0.318" stop-color="#1e1e1e"/><stop offset="0.458" stop-color="#424242"/><stop offset="0.678" stop-color="#5d5d5d"/><stop offset="0.871" stop-color="#777777"/><stop offset="0.987" stop-color="#969696"/></linearGradient>
<linearGradient id="g370" x1="0" y1="0" x2="0" y2="1"><stop offset="0.360" stop-color="#1e1e1e"/><stop offset="0.491" stop-color="#4a4a4a"/><stop offset="0.700" stop-color="#696969"/><stop offset="0.882" stop-color="#888888"/><stop offset="0.987" stop-color="#aaaaaa"/></linearGradient>
<linearGradient id="g371" x1="0" y1="0" x2="0" y2="1"><stop offset="0.229" stop-color="#1e1e1e"/><stop offset="0.392" stop-color="#383838"/><stop offset="0.634" stop-color="#4a4a4a"/><stop offset="0.849" stop-color="#5f5f5f"/><stop offset="0.987" stop-color="#737373"/></linearGradient>
<linearGradient id="g372" x1="0" y1="0" x2="0" y2="1"><stop offset="0.279" stop-color="#1e1e1e"/><stop offset="0.431" stop-color="#484848"/><stop offset="0.660" stop-color="#676767"/><stop offset="0.862" stop-color="#848484"/><stop offset="0.987" stop-color="#a6a6a6"/></linearGradient>
<linearGradient id="g373" x1="0" y1="0" x2="0" y2="1"><stop offset="0.229" stop-color="#1e1e1e"/><stop offset="0.392" stop-color="#4a4a4a"/><stop offset="0.634" stop-color="#696969"/><stop offset="0.849" stop-color="#888888"/><stop offset="0.987" stop-color="#aaaaaa"/></linearGradient>
<linearGradient id="g374" x1="0" y1="0" x2="0" y2="1"><stop offset="0.145" stop-color="#1e1e1e"/><stop offset="0.330" stop-color="#515151"/><stop offset="0.592" stop-color="#757575"/><stop offset="0.829" stop-color="#989898"/><stop offset="0.987" stop-color="#c1c1c1"/></linearGradient>
<linearGradient id="g375" x1="0" y1="0" x2="0" y2="1"><stop offset="0.230" stop-color="#1e1e1e"/><stop offset="0.394" stop-color="#484848"/><stop offset="0.635" stop-color="#676767"/><stop offset="0.849" stop-color="#848484"/><stop offset="0.987" stop-color="#a6a6a6"/></linearGradient>
<linearGradient id="g376" x1="0" y1="0" x2="0" y2="1"><stop offset="0.301" stop-color="#1e1e1e"/><stop offset="0.447" stop-color="#2e2e2e"/><stop offset="0.670" stop-color="#3c3c3c"/><stop offset="0.868" stop-color="#484848"/><stop offset="0.987" stop-color="#575757"/></linearGradient>
<linearGradient id="g377" x1="0" y1="0" x2="0" y2="1"><stop offset="0.197" stop-color="#1e1e1e"/><stop offset="0.369" stop-color="#303030"/><stop offset="0.618" stop-color="#3e3e3e"/><stop offset="0.842" stop-color="#4a4a4a"/><stop offset="0.987" stop-color="#5b5b5b"/></linearGradient>
<linearGradient id="g378" x1="0" y1="0" x2="0" y2="1"><stop offset="0.179" stop-color="#1e1e1e"/><stop offset="0.356" stop-color="#3a3a3a"/><stop offset="0.609" stop-color="#4f4f4f"/><stop offset="0.838" stop-color="#636363"/><stop offset="0.987" stop-color="#797979"/></linearGradient>
<linearGradient id="g379" x1="0" y1="0" x2="0" y2="1"><stop offset="0.114" stop-color="#242424"/><stop offset="0.182" stop-color="#484848"/><stop offset="0.353" stop-color="#656565"/><stop offset="0.577" stop-color="#777777"/><stop offset="0.774" stop-color="#868686"/><stop offset="0.919" stop-color="#949494"/><stop offset="0.987" stop-color="#a2a2a2"/></linearGradient>
<linearGradient id="g380" x1="0" y1="0" x2="0" y2="1"><stop offset="0.106" stop-color="#262626"/><stop offset="0.175" stop-color="#595959"/><stop offset="0.348" stop-color="#7d7d7d"/><stop offset="0.573" stop-color="#969696"/><stop offset="0.771" stop-color="#aaaaaa"/><stop offset="0.918" stop-color="#bdbdbd"/><stop offset="0.987" stop-color="#d1d1d1"/></linearGradient>
<linearGradient id="g381" x1="0" y1="0" x2="0" y2="1"><stop offset="0.101" stop-color="#262626"/><stop offset="0.170" stop-color="#535353"/><stop offset="0.344" stop-color="#777777"/><stop offset="0.570" stop-color="#8e8e8e"/><stop offset="0.770" stop-color="#a0a0a0"/><stop offset="0.917" stop-color="#b0b0b0"/><stop offset="0.987" stop-color="#c3c3c3"/></linearGradient>
<linearGradient id="g382" x1="0" y1="0" x2="0" y2="1"><stop offset="0.069" stop-color="#222222"/><stop offset="0.144" stop-color="#404040"/><stop offset="0.322" stop-color="#575757"/><stop offset="0.553" stop-color="#676767"/><stop offset="0.758" stop-color="#737373"/><stop offset="0.912" stop-color="#7d7d7d"/><stop offset="0.987" stop-color="#8a8a8a"/></linearGradient>
<linearGradient id="g383" x1="0" y1="0" x2="0" y2="1"><stop offset="0.082" stop-color="#222222"/><stop offset="0.155" stop-color="#464646"/><stop offset="0.331" stop-color="#616161"/><stop offset="0.561" stop-color="#737373"/><stop offset="0.764" stop-color="#828282"/><stop offset="0.914" stop-color="#8e8e8e"/><stop offset="0.987" stop-color="#9c9c9c"/></linearGradient>
<linearGradient id="g384" x1="0" y1="0" x2="0" y2="1"><stop offset="0.060" stop-color="#242424"/><stop offset="0.136" stop-color="#4a4a4a"/><stop offset="0.317" stop-color="#696969"/><stop offset="0.549" stop-color="#7b7b7b"/><stop offset="0.756" stop-color="#8c8c8c"/><stop offset="0.910" stop-color="#9a9a9a"/><stop offset="0.987" stop-color="#aaaaaa"/></linearGradient>
<linearGradient id="g385" x1="0" y1="0" x2="0" y2="1"><stop offset="0.062" stop-color="#242424"/><stop offset="0.138" stop-color="#4f4f4f"/><stop offset="0.318" stop-color="#6d6d6d"/><stop offset="0.551" stop-color="#828282"/><stop offset="0.757" stop-color="#929292"/><stop offset="0.910" stop-color="#a0a0a0"/><stop offset="0.987" stop-color="#b3b3b3"/></linearGradient>
<linearGradient id="g386" x1="0" y1="0" x2="0" y2="1"><stop offset="0.114" stop-color="#262626"/><stop offset="0.182" stop-color="#555555"/><stop offset="0.353" stop-color="#777777"/><stop offset="0.577" stop-color="#909090"/><stop offset="0.774" stop-color="#a2a2a2"/><stop offset="0.919" stop-color="#b3b3b3"/><stop offset="0.987" stop-color="#c7c7c7"/></linearGradient>
<linearGradient id="g387" x1="0" y1="0" x2="0" y2="1"><stop offset="0.092" stop-color="#242424"/><stop offset="0.164" stop-color="#484848"/><stop offset="0.338" stop-color="#656565"/><stop offset="0.565" stop-color="#777777"/><stop offset="0.766" stop-color="#888888"/><stop offset="0.916" stop-color="#949494"/><stop offset="0.987" stop-color="#a2a2a2"/></linearGradient>
<linearGradient id="g388" x1="0" y1="0" x2="0" y2="1"><stop offset="0.038" stop-color="#262626"/><stop offset="0.118" stop-color="#575757"/><stop offset="0.303" stop-color="#7b7b7b"/><stop offset="0.539" stop-color="#949494"/><stop offset="0.748" stop-color="#a6a6a6"/><stop offset="0.906" stop-color="#b7b7b7"/><stop offset="0.987" stop-color="#cbcbcb"/></linearGradient>
<linearGradient id="g389" x1="0" y1="0" x2="0" y2="1"><stop offset="0.052" stop-color="#222222"/><stop offset="0.130" stop-color="#424242"/><stop offset="0.312" stop-color="#5d5d5d"/><stop offset="0.545" stop-color="#6d6d6d"/><stop offset="0.753" stop-color="#797979"/><stop offset="0.909" stop-color="#868686"/><stop offset="0.987" stop-color="#929292"/></linearGradient>
<linearGradient id="g390" x1="0" y1="0" x2="0" y2="1"><stop offset="0.055" stop-color="#262626"/><stop offset="0.132" stop-color="#535353"/><stop offset="0.314" stop-color="#757575"/><stop offset="0.547" stop-color="#8c8c8c"/><stop offset="0.755" stop-color="#a0a0a0"/><stop offset="0.909" stop-color="#aeaeae"/><stop offset="0.987" stop-color="#c3c3c3"/></linearGradient>
<linearGradient id="g391" x1="0" y1="0" x2="0" y2="1"><stop offset="0.079" stop-color="#222222"/><stop offset="0.152" stop-color="#444444"/><stop offset="0.330" stop-color="#5f5f5f"/><stop offset="0.558" stop-color="#6f6f6f"/><stop offset="0.762" stop-color="#7d7d7d"/><stop offset="0.913" stop-color="#8a8a8a"/><stop offset="0.987" stop-color="#989898"/></linearGradient>
<linearGradient id="g392" x1="0" y1="0" x2="0" y2="1"><stop offset="0.103" stop-color="#242424"/><stop offset="0.171" stop-color="#484848"/><stop offset="0.345" stop-color="#656565"/><stop offset="0.570" stop-color="#777777"/><stop offset="0.770" stop-color="#868686"/><stop offset="0.917" stop-color="#929292"/><stop offset="0.987" stop-color="#a2a2a2"/></linearGradient>
<linearGradient id="g393" x1="0" y1="0" x2="0" y2="1"><stop offset="0.064" stop-color="#222222"/><stop offset="0.140" stop-color="#444444"/><stop offset="0.319" stop-color="#5f5f5f"/><stop offset="0.552" stop-color="#6f6f6f"/><stop offset="0.757" stop-color="#7d7d7d"/><stop offset="0.912" stop-color="#888888"/><stop offset="0.987" stop-color="#969696"/></linearGradient>
<linearGradient id="g394" x1="0" y1="0" x2="0" y2="1"><stop offset="0.114" stop-color="#242424"/><stop offset="0.182" stop-color="#4a4a4a"/><stop offset="0.353" stop-color="#676767"/><stop offset="0.577" stop-color="#797979"/><stop offset="0.774" stop-color="#8a8a8a"/><stop offset="0.919" stop-color="#969696"/><stop offset="0.987" stop-color="#a6a6a6"/></linearGradient>
<linearGradient id="g395" x1="0" y1="0" x2="0" y2="1"><stop offset="0.101" stop-color="#222222"/><stop offset="0.171" stop-color="#444444"/><stop offset="0.344" stop-color="#5d5d5d"/><stop offset="0.570" stop-color="#6d6d6d"/><stop offset="0.770" stop-color="#7b7b7b"/><stop offset="0.917" stop-color="#868686"/><stop offset="0.987" stop-color="#949494"/></linearGradient>
<linearGradient id="g396" x1="0" y1="0" x2="0" y2="1"><stop offset="0.035" stop-color="#242424"/><stop offset="0.116" stop-color="#4a4a4a"/><stop offset="0.300" stop-color="#676767"/><stop offset="0.538" stop-color="#7b7b7b"/><stop offset="0.748" stop-color="#8c8c8c"/><stop offset="0.906" stop-color="#989898"/><stop offset="0.987" stop-color="#a8a8a8"/></linearGradient>
<linearGradient id="g397" x1="0" y1="0" x2="0" y2="1"><stop offset="0.000" stop-color="#757575"/><stop offset="0.156" stop-color="#929292"/><stop offset="0.519" stop-color="#a2a2a2"/><stop offset="0.779" stop-color="#aaaaaa"/><stop offset="0.987" stop-color="#bfbfbf"/></linearGradient>
<linearGradient id="g398" x1="0" y1="0" x2="0" y2="1"><stop offset="0.000" stop-color="#6b6b6b"/><stop offset="0.156" stop-color="#8a8a8a"/><stop offset="0.519" stop-color="#9e9e9e"/><stop offset="0.779" stop-color="#aaaaaa"/><stop offset="0.987" stop-color="#bfbfbf"/></linearGradient>
<linearGradient id="g399" x1="0" y1="0" x2="0" y2="1"><stop offset="0.000" stop-color="#4c4c4c"/><stop offset="0.130" stop-color="#808080"/><stop offset="0.390" stop-color="#9e9e9e"/><stop offset="0.714" stop-color="#b3b3b3"/><stop offset="0.987" stop-color="#c7c7c7"/></linearGradient>
<linearGradient id="g400" x1="0" y1="0" x2="0" y2="1"><stop offset="0.003" stop-color="#202020"/><stop offset="0.145" stop-color="#4a4a4a"/><stop offset="0.443" stop-color="#636363"/><stop offset="0.742" stop-color="#7b7b7b"/><stop offset="0.987" stop-color="#8a8a8a"/></linearGradient>
<linearGradient id="g401" x1="0" y1="0" x2="0" y2="1"><stop offset="0.158" stop-color="#202020"/><stop offset="0.262" stop-color="#484848"/><stop offset="0.521" stop-color="#616161"/><stop offset="0.781" stop-color="#777777"/><stop offset="0.987" stop-color="#868686"/></linearGradient>
<linearGradient id="g402" x1="0" y1="0" x2="0" y2="1"><stop offset="0.156" stop-color="#202020"/><stop offset="0.260" stop-color="#4f4f4f"/><stop offset="0.519" stop-color="#696969"/><stop offset="0.779" stop-color="#828282"/><stop offset="0.987" stop-color="#949494"/></linearGradient>
<linearGradient id="g403" x1="0" y1="0" x2="0" y2="1"><stop offset="0.182" stop-color="#202020"/><stop offset="0.279" stop-color="#4a4a4a"/><stop offset="0.532" stop-color="#636363"/><stop offset="0.786" stop-color="#777777"/><stop offset="0.987" stop-color="#888888"/></linearGradient>
<linearGradient id="g404" x1="0" y1="0" x2="0" y2="1"><stop offset="0.190" stop-color="#202020"/><stop offset="0.286" stop-color="#464646"/><stop offset="0.536" stop-color="#5f5f5f"/><stop offset="0.788" stop-color="#737373"/><stop offset="0.987" stop-color="#828282"/></linearGradient>
<linearGradient id="g405" x1="0" y1="0" x2="0" y2="1"><stop offset="0.316" stop-color="#202020"/><stop offset="0.379" stop-color="#4a4a4a"/><stop offset="0.599" stop-color="#656565"/><stop offset="0.819" stop-color="#7b7b7b"/><stop offset="0.987" stop-color="#8a8a8a"/></linearGradient>
<linearGradient id="g406" x1="0" y1="0" x2="0" y2="1"><stop offset="0.329" stop-color="#202020"/><stop offset="0.390" stop-color="#404040"/><stop offset="0.606" stop-color="#555555"/><stop offset="0.822" stop-color="#676767"/><stop offset="0.987" stop-color="#737373"/></linearGradient>
<linearGradient id="g407" x1="0" y1="0" x2="0" y2="1"><stop offset="0.388" stop-color="#202020"/><stop offset="0.434" stop-color="#4c4c4c"/><stop offset="0.635" stop-color="#676767"/><stop offset="0.838" stop-color="#7d7d7d"/><stop offset="0.987" stop-color="#8e8e8e"/></linearGradient>
<linearGradient id="g408" x1="0" y1="0" x2="0" y2="1"><stop offset="0.518" stop-color="#222222"/><stop offset="0.531" stop-color="#535353"/><stop offset="0.701" stop-color="#6f6f6f"/><stop offset="0.870" stop-color="#8a8a8a"/><stop offset="0.987" stop-color="#9c9c9c"/></linearGradient>
<linearGradient id="g409" x1="0" y1="0" x2="0" y2="1"><stop offset="0.418" stop-color="#202020"/><stop offset="0.456" stop-color="#4f4f4f"/><stop offset="0.651" stop-color="#696969"/><stop offset="0.844" stop-color="#848484"/><stop offset="0.987" stop-color="#949494"/></linearGradient>
<linearGradient id="g410" x1="0" y1="0" x2="0" y2="1"><stop offset="0.000" stop-color="#383838"/><stop offset="0.987" stop-color="#444444"/></linearGradient>
<linearGradient id="g411" x1="0" y1="0" x2="0" y2="1"><stop offset="0.000" stop-color="#757575"/><stop offset="0.130" stop-color="#969696"/><stop offset="0.519" stop-color="#a6a6a6"/><stop offset="0.727" stop-color="#b7b7b7"/><stop offset="0.857" stop-color="#d7d7d7"/><stop offset="1.000" stop-color="#fefefe"/></linearGradient>
<linearGradient id="g412" x1="0" y1="0" x2="0" y2="1"><stop offset="0.139" stop-color="#222222"/><stop offset="0.291" stop-color="#3e3e3e"/><stop offset="0.469" stop-color="#575757"/><stop offset="0.645" stop-color="#6b6b6b"/><stop offset="0.797" stop-color="#808080"/><stop offset="0.870" stop-color="#969696"/><stop offset="0.918" stop-color="#b9b9b9"/><stop offset="0.952" stop-color="#d5d5d5"/><stop offset="1.000" stop-color="#d5d5d5"/></linearGradient>
<linearGradient id="g413" x1="0" y1="0" x2="0" y2="1"><stop offset="0.097" stop-color="#222222"/><stop offset="0.253" stop-color="#404040"/><stop offset="0.436" stop-color="#5b5b5b"/><stop offset="0.619" stop-color="#6f6f6f"/><stop offset="0.775" stop-color="#848484"/><stop offset="0.855" stop-color="#9c9c9c"/><stop offset="0.908" stop-color="#c1c1c1"/><stop offset="0.947" stop-color="#dddddd"/><stop offset="1.000" stop-color="#dddddd"/></linearGradient>
<linearGradient id="g414" x1="0" y1="0" x2="0" y2="1"><stop offset="0.157" stop-color="#242424"/><stop offset="0.306" stop-color="#484848"/><stop offset="0.482" stop-color="#696969"/><stop offset="0.657" stop-color="#848484"/><stop offset="0.806" stop-color="#9e9e9e"/><stop offset="0.877" stop-color="#bdbdbd"/><stop offset="0.922" stop-color="#e8e8e8"/><stop offset="0.955" stop-color="#fafafa"/><stop offset="1.000" stop-color="#fafafa"/></linearGradient>
<linearGradient id="g415" x1="0" y1="0" x2="0" y2="1"><stop offset="0.104" stop-color="#242424"/><stop offset="0.260" stop-color="#464646"/><stop offset="0.442" stop-color="#636363"/><stop offset="0.623" stop-color="#7b7b7b"/><stop offset="0.779" stop-color="#949494"/><stop offset="0.857" stop-color="#b0b0b0"/><stop offset="0.909" stop-color="#d7d7d7"/><stop offset="0.948" stop-color="#fafafa"/><stop offset="1.000" stop-color="#fafafa"/></linearGradient>
<linearGradient id="g416" x1="0" y1="0" x2="0" y2="1"><stop offset="0.092" stop-color="#222222"/><stop offset="0.249" stop-color="#3e3e3e"/><stop offset="0.432" stop-color="#575757"/><stop offset="0.616" stop-color="#6b6b6b"/><stop offset="0.773" stop-color="#7d7d7d"/><stop offset="0.852" stop-color="#969696"/><stop offset="0.906" stop-color="#b7b7b7"/><stop offset="0.947" stop-color="#d3d3d3"/><stop offset="1.000" stop-color="#d3d3d3"/></linearGradient>
<linearGradient id="g417" x1="0" y1="0" x2="0" y2="1"><stop offset="0.168" stop-color="#242424"/><stop offset="0.316" stop-color="#444444"/><stop offset="0.490" stop-color="#616161"/><stop offset="0.664" stop-color="#797979"/><stop offset="0.812" stop-color="#909090"/><stop offset="0.881" stop-color="#aaaaaa"/><stop offset="0.925" stop-color="#d1d1d1"/><stop offset="0.956" stop-color="#f2f2f2"/><stop offset="1.000" stop-color="#f2f2f2"/></linearGradient>
<linearGradient id="g418" x1="0" y1="0" x2="0" y2="1"><stop offset="0.151" stop-color="#242424"/><stop offset="0.300" stop-color="#464646"/><stop offset="0.477" stop-color="#676767"/><stop offset="0.652" stop-color="#808080"/><stop offset="0.803" stop-color="#989898"/><stop offset="0.874" stop-color="#b5b5b5"/><stop offset="0.921" stop-color="#dfdfdf"/><stop offset="0.953" stop-color="#fafafa"/><stop offset="1.000" stop-color="#fafafa"/></linearGradient>
<linearGradient id="g419" x1="0" y1="0" x2="0" y2="1"><stop offset="0.045" stop-color="#242424"/><stop offset="0.208" stop-color="#444444"/><stop offset="0.397" stop-color="#636363"/><stop offset="0.587" stop-color="#7b7b7b"/><stop offset="0.749" stop-color="#929292"/><stop offset="0.835" stop-color="#aeaeae"/><stop offset="0.895" stop-color="#d7d7d7"/><stop offset="0.940" stop-color="#f8f8f8"/><stop offset="1.000" stop-color="#f8f8f8"/></linearGradient>
<linearGradient id="g420" x1="0" y1="0" x2="0" y2="1"><stop offset="0.162" stop-color="#262626"/><stop offset="0.310" stop-color="#4c4c4c"/><stop offset="0.486" stop-color="#6f6f6f"/><stop offset="0.660" stop-color="#8c8c8c"/><stop offset="0.808" stop-color="#a6a6a6"/><stop offset="0.879" stop-color="#c7c7c7"/><stop offset="0.923" stop-color="#f6f6f6"/><stop offset="0.956" stop-color="#fafafa"/><stop offset="1.000" stop-color="#fafafa"/></linearGradient>
<linearGradient id="g421" x1="0" y1="0" x2="0" y2="1"><stop offset="0.030" stop-color="#242424"/><stop offset="0.195" stop-color="#444444"/><stop offset="0.387" stop-color="#616161"/><stop offset="0.578" stop-color="#797979"/><stop offset="0.743" stop-color="#909090"/><stop offset="0.830" stop-color="#aaaaaa"/><stop offset="0.891" stop-color="#d1d1d1"/><stop offset="0.939" stop-color="#f2f2f2"/><stop offset="1.000" stop-color="#f2f2f2"/></linearGradient>
<linearGradient id="g422" x1="0" y1="0" x2="0" y2="1"><stop offset="0.103" stop-color="#242424"/><stop offset="0.260" stop-color="#464646"/><stop offset="0.442" stop-color="#656565"/><stop offset="0.623" stop-color="#7d7d7d"/><stop offset="0.779" stop-color="#969696"/><stop offset="0.857" stop-color="#b3b3b3"/><stop offset="0.909" stop-color="#dbdbdb"/><stop offset="0.948" stop-color="#fafafa"/><stop offset="1.000" stop-color="#fafafa"/></linearGradient>
<linearGradient id="g423" x1="0" y1="0" x2="0" y2="1"><stop offset="0.000" stop-color="#616161"/><stop offset="0.078" stop-color="#868686"/><stop offset="0.260" stop-color="#9a9a9a"/><stop offset="0.584" stop-color="#aaaaaa"/><stop offset="0.779" stop-color="#bfbfbf"/><stop offset="0.870" stop-color="#dbdbdb"/><stop offset="0.922" stop-color="#fefefe"/><stop offset="1.000" stop-color="#fefefe"/></linearGradient>
<linearGradient id="g424" x1="0" y1="0" x2="0" y2="1"><stop offset="0.062" stop-color="#262626"/><stop offset="0.169" stop-color="#5b5b5b"/><stop offset="0.379" stop-color="#888888"/><stop offset="0.642" stop-color="#a4a4a4"/><stop offset="0.826" stop-color="#c1c1c1"/><stop offset="0.932" stop-color="#eeeeee"/><stop offset="1.000" stop-color="#fafafa"/></linearGradient>
<linearGradient id="g425" x1="0" y1="0" x2="0" y2="1"><stop offset="0.134" stop-color="#242424"/><stop offset="0.229" stop-color="#535353"/><stop offset="0.427" stop-color="#797979"/><stop offset="0.678" stop-color="#929292"/><stop offset="0.849" stop-color="#acacac"/><stop offset="0.944" stop-color="#d3d3d3"/><stop offset="1.000" stop-color="#fafafa"/></linearGradient>
<linearGradient id="g426" x1="0" y1="0" x2="0" y2="1"><stop offset="0.081" stop-color="#222222"/><stop offset="0.184" stop-color="#484848"/><stop offset="0.391" stop-color="#696969"/><stop offset="0.651" stop-color="#7d7d7d"/><stop offset="0.832" stop-color="#949494"/><stop offset="0.935" stop-color="#b3b3b3"/><stop offset="1.000" stop-color="#d3d3d3"/></linearGradient>
<linearGradient id="g427" x1="0" y1="0" x2="0" y2="1"><stop offset="0.148" stop-color="#242424"/><stop offset="0.240" stop-color="#535353"/><stop offset="0.436" stop-color="#797979"/><stop offset="0.684" stop-color="#929292"/><stop offset="0.855" stop-color="#acacac"/><stop offset="0.947" stop-color="#d3d3d3"/><stop offset="1.000" stop-color="#f8f8f8"/></linearGradient>
<linearGradient id="g428" x1="0" y1="0" x2="0" y2="1"><stop offset="0.010" stop-color="#222222"/><stop offset="0.126" stop-color="#444444"/><stop offset="0.345" stop-color="#616161"/><stop offset="0.616" stop-color="#737373"/><stop offset="0.809" stop-color="#868686"/><stop offset="0.923" stop-color="#a2a2a2"/><stop offset="1.000" stop-color="#bfbfbf"/></linearGradient>
<linearGradient id="g429" x1="0" y1="0" x2="0" y2="1"><stop offset="0.129" stop-color="#242424"/><stop offset="0.225" stop-color="#4c4c4c"/><stop offset="0.423" stop-color="#6d6d6d"/><stop offset="0.675" stop-color="#848484"/><stop offset="0.848" stop-color="#9a9a9a"/><stop offset="0.944" stop-color="#bbbbbb"/><stop offset="1.000" stop-color="#dddddd"/></linearGradient>
<linearGradient id="g430" x1="0" y1="0" x2="0" y2="1"><stop offset="0.021" stop-color="#262626"/><stop offset="0.135" stop-color="#595959"/><stop offset="0.352" stop-color="#868686"/><stop offset="0.621" stop-color="#a2a2a2"/><stop offset="0.812" stop-color="#bfbfbf"/><stop offset="0.926" stop-color="#eaeaea"/><stop offset="1.000" stop-color="#fafafa"/></linearGradient>
<linearGradient id="g431" x1="0" y1="0" x2="0" y2="1"><stop offset="0.082" stop-color="#262626"/><stop offset="0.186" stop-color="#5b5b5b"/><stop offset="0.392" stop-color="#888888"/><stop offset="0.652" stop-color="#a6a6a6"/><stop offset="0.832" stop-color="#c3c3c3"/><stop offset="0.936" stop-color="#f0f0f0"/><stop offset="1.000" stop-color="#fafafa"/></linearGradient>
<linearGradient id="g432" x1="0" y1="0" x2="0" y2="1"><stop offset="0.000" stop-color="#616161"/><stop offset="0.130" stop-color="#868686"/><stop offset="0.390" stop-color="#9a9a9a"/><stop offset="0.649" stop-color="#aaaaaa"/><stop offset="0.831" stop-color="#bfbfbf"/><stop offset="0.935" stop-color="#dbdbdb"/><stop offset="1.000" stop-color="#fefefe"/></linearGradient>
<linearGradient id="g433" x1="0" y1="0" x2="0" y2="1"><stop offset="0.000" stop-color="#343434"/><stop offset="0.114" stop-color="#5b5b5b"/><stop offset="0.275" stop-color="#7b7b7b"/><stop offset="0.490" stop-color="#909090"/><stop offset="0.678" stop-color="#a0a0a0"/><stop offset="0.813" stop-color="#b5b5b5"/><stop offset="0.897" stop-color="#d5d5d5"/><stop offset="0.955" stop-color="#fafafa"/><stop offset="1.000" stop-color="#fafafa"/></linearGradient>
<linearGradient id="g434" x1="0" y1="0" x2="0" y2="1"><stop offset="0.000" stop-color="#363636"/><stop offset="0.134" stop-color="#5f5f5f"/><stop offset="0.292" stop-color="#828282"/><stop offset="0.504" stop-color="#989898"/><stop offset="0.688" stop-color="#a8a8a8"/><stop offset="0.822" stop-color="#bfbfbf"/><stop offset="0.903" stop-color="#e1e1e1"/><stop offset="0.958" stop-color="#fafafa"/><stop offset="1.000" stop-color="#fafafa"/></linearGradient>
<linearGradient id="g435" x1="0" y1="0" x2="0" y2="1"><stop offset="0.000" stop-color="#383838"/><stop offset="0.121" stop-color="#636363"/><stop offset="0.282" stop-color="#8a8a8a"/><stop offset="0.495" stop-color="#a2a2a2"/><stop offset="0.682" stop-color="#b5b5b5"/><stop offset="0.816" stop-color="#cdcdcd"/><stop offset="0.899" stop-color="#f2f2f2"/><stop offset="0.956" stop-color="#fafafa"/><stop offset="1.000" stop-color="#fafafa"/></linearGradient>
<linearGradient id="g436" x1="0" y1="0" x2="0" y2="1"><stop offset="0.000" stop-color="#363636"/><stop offset="0.118" stop-color="#5f5f5f"/><stop offset="0.279" stop-color="#848484"/><stop offset="0.492" stop-color="#9a9a9a"/><stop offset="0.679" stop-color="#acacac"/><stop offset="0.814" stop-color="#c3c3c3"/><stop offset="0.899" stop-color="#e3e3e3"/><stop offset="0.956" stop-color="#fafafa"/><stop offset="1.000" stop-color="#fafafa"/></linearGradient>
<linearGradient id="g437" x1="0" y1="0" x2="0" y2="1"><stop offset="0.074" stop-color="#383838"/><stop offset="0.199" stop-color="#656565"/><stop offset="0.348" stop-color="#8c8c8c"/><stop offset="0.549" stop-color="#a2a2a2"/><stop offset="0.726" stop-color="#b7b7b7"/><stop offset="0.849" stop-color="#cfcfcf"/><stop offset="0.921" stop-color="#f4f4f4"/><stop offset="0.968" stop-color="#fafafa"/><stop offset="1.000" stop-color="#fafafa"/></linearGradient>
<linearGradient id="g438" x1="0" y1="0" x2="0" y2="1"><stop offset="0.045" stop-color="#303030"/><stop offset="0.173" stop-color="#4f4f4f"/><stop offset="0.326" stop-color="#6b6b6b"/><stop offset="0.531" stop-color="#7b7b7b"/><stop offset="0.710" stop-color="#8a8a8a"/><stop offset="0.839" stop-color="#9a9a9a"/><stop offset="0.914" stop-color="#b5b5b5"/><stop offset="0.964" stop-color="#dbdbdb"/><stop offset="1.000" stop-color="#dbdbdb"/></linearGradient>
<linearGradient id="g439" x1="0" y1="0" x2="0" y2="1"><stop offset="0.027" stop-color="#323232"/><stop offset="0.157" stop-color="#535353"/><stop offset="0.313" stop-color="#6f6f6f"/><stop offset="0.521" stop-color="#828282"/><stop offset="0.703" stop-color="#909090"/><stop offset="0.831" stop-color="#a2a2a2"/><stop offset="0.909" stop-color="#bdbdbd"/><stop offset="0.961" stop-color="#e3e3e3"/><stop offset="1.000" stop-color="#e3e3e3"/></linearGradient>
<linearGradient id="g440" x1="0" y1="0" x2="0" y2="1"><stop offset="0.000" stop-color="#383838"/><stop offset="0.117" stop-color="#616161"/><stop offset="0.278" stop-color="#868686"/><stop offset="0.491" stop-color="#9e9e9e"/><stop offset="0.679" stop-color="#b0b0b0"/><stop offset="0.814" stop-color="#c7c7c7"/><stop offset="0.897" stop-color="#eaeaea"/><stop offset="0.956" stop-color="#fafafa"/><stop offset="1.000" stop-color="#fafafa"/></linearGradient>
<linearGradient id="g441" x1="0" y1="0" x2="0" y2="1"><stop offset="0.000" stop-color="#323232"/><stop offset="0.108" stop-color="#535353"/><stop offset="0.270" stop-color="#6f6f6f"/><stop offset="0.484" stop-color="#828282"/><stop offset="0.674" stop-color="#909090"/><stop offset="0.810" stop-color="#a2a2a2"/><stop offset="0.895" stop-color="#bdbdbd"/><stop offset="0.955" stop-color="#e3e3e3"/><stop offset="1.000" stop-color="#e3e3e3"/></linearGradient>
<linearGradient id="g442" x1="0" y1="0" x2="0" y2="1"><stop offset="0.026" stop-color="#303030"/><stop offset="0.156" stop-color="#4f4f4f"/><stop offset="0.312" stop-color="#696969"/><stop offset="0.519" stop-color="#797979"/><stop offset="0.701" stop-color="#888888"/><stop offset="0.831" stop-color="#989898"/><stop offset="0.909" stop-color="#b0b0b0"/><stop offset="0.961" stop-color="#d7d7d7"/><stop offset="1.000" stop-color="#d7d7d7"/></linearGradient>
<linearGradient id="g443" x1="0" y1="0" x2="0" y2="1"><stop offset="0.052" stop-color="#242424"/><stop offset="0.260" stop-color="#3c3c3c"/><stop offset="0.519" stop-color="#4c4c4c"/><stop offset="0.779" stop-color="#656565"/><stop offset="0.987" stop-color="#808080"/></linearGradient>
<linearGradient id="g444" x1="0" y1="0" x2="0" y2="1"><stop offset="0.000" stop-color="#bbbbbb"/><stop offset="0.026" stop-color="#cdcdcd"/><stop offset="0.042" stop-color="#dbdbdb"/><stop offset="1.000" stop-color="#dbdbdb"/></linearGradient>
<linearGradient id="g445" x1="0" y1="0" x2="0" y2="1"><stop offset="0.000" stop-color="#bbbbbb"/><stop offset="0.039" stop-color="#bfbfbf"/><stop offset="0.078" stop-color="#c7c7c7"/><stop offset="0.117" stop-color="#d1d1d1"/><stop offset="0.156" stop-color="#dbdbdb"/><stop offset="0.299" stop-color="#dbdbdb"/><stop offset="0.351" stop-color="#d1d1d1"/><stop offset="0.390" stop-color="#cbcbcb"/><stop offset="0.584" stop-color="#cbcbcb"/><stop offset="0.649" stop-color="#d1d1d1"/><stop offset="0.714" stop-color="#dbdbdb"/></linearGradient>
<linearGradient id="g446" x1="0" y1="0" x2="0" y2="1"><stop offset="0.000" stop-color="#9a9a9a"/><stop offset="0.039" stop-color="#a0a0a0"/><stop offset="0.078" stop-color="#b3b3b3"/><stop offset="0.117" stop-color="#c7c7c7"/><stop offset="0.156" stop-color="#dbdbdb"/><stop offset="0.299" stop-color="#dbdbdb"/><stop offset="0.351" stop-color="#c7c7c7"/><stop offset="0.390" stop-color="#bbbbbb"/><stop offset="0.584" stop-color="#bbbbbb"/><stop offset="0.649" stop-color="#c7c7c7"/><stop offset="0.714" stop-color="#dbdbdb"/></linearGradient>
<linearGradient id="g447" x1="0" y1="0" x2="0" y2="1"><stop offset="0.000" stop-color="#777777"/><stop offset="0.039" stop-color="#848484"/><stop offset="0.078" stop-color="#9c9c9c"/><stop offset="0.117" stop-color="#bfbfbf"/><stop offset="0.156" stop-color="#dbdbdb"/><stop offset="0.299" stop-color="#dbdbdb"/><stop offset="0.351" stop-color="#bfbfbf"/><stop offset="0.390" stop-color="#acacac"/><stop offset="0.584" stop-color="#acacac"/><stop offset="0.649" stop-color="#bfbfbf"/><stop offset="0.714" stop-color="#dbdbdb"/></linearGradient>
<linearGradient id="g448" x1="0" y1="0" x2="0" y2="1"><stop offset="0.000" stop-color="#6d6d6d"/><stop offset="0.039" stop-color="#797979"/><stop offset="0.078" stop-color="#969696"/><stop offset="0.117" stop-color="#bbbbbb"/><stop offset="0.156" stop-color="#dbdbdb"/><stop offset="0.299" stop-color="#dbdbdb"/><stop offset="0.351" stop-color="#bbbbbb"/><stop offset="0.390" stop-color="#a6a6a6"/><stop offset="0.584" stop-color="#a6a6a6"/><stop offset="0.649" stop-color="#bbbbbb"/><stop offset="0.714" stop-color="#dbdbdb"/></linearGradient>
<linearGradient id="g449" x1="0" y1="0" x2="0" y2="1"><stop offset="0.000" stop-color="#737373"/><stop offset="0.039" stop-color="#7d7d7d"/><stop offset="0.078" stop-color="#9a9a9a"/><stop offset="0.117" stop-color="#bdbdbd"/><stop offset="0.156" stop-color="#dbdbdb"/><stop offset="0.299" stop-color="#dbdbdb"/><stop offset="0.351" stop-color="#bdbdbd"/><stop offset="0.390" stop-color="#a8a8a8"/><stop offset="0.584" stop-color="#a8a8a8"/><stop offset="0.649" stop-color="#bdbdbd"/><stop offset="0.714" stop-color="#dbdbdb"/></linearGradient>
<linearGradient id="g450" x1="0" y1="0" x2="0" y2="1"><stop offset="0.000" stop-color="#a4a4a4"/><stop offset="0.039" stop-color="#aaaaaa"/><stop offset="0.078" stop-color="#b9b9b9"/><stop offset="0.117" stop-color="#cbcbcb"/><stop offset="0.156" stop-color="#dbdbdb"/><stop offset="0.299" stop-color="#dbdbdb"/><stop offset="0.351" stop-color="#cbcbcb"/><stop offset="0.390" stop-color="#c1c1c1"/><stop offset="0.584" stop-color="#c1c1c1"/><stop offset="0.649" stop-color="#cbcbcb"/><stop offset="0.714" stop-color="#dbdbdb"/></linearGradient>
<linearGradient id="g451" x1="0" y1="0" x2="0" y2="1"><stop offset="0.000" stop-color="#b9b9b9"/><stop offset="0.039" stop-color="#bbbbbb"/><stop offset="0.078" stop-color="#c1c1c1"/><stop offset="0.117" stop-color="#c5c5c5"/><stop offset="0.169" stop-color="#cdcdcd"/><stop offset="0.234" stop-color="#d3d3d3"/><stop offset="0.286" stop-color="#d3d3d3"/><stop offset="0.338" stop-color="#c9c9c9"/><stop offset="0.377" stop-color="#c5c5c5"/><stop offset="0.597" stop-color="#c5c5c5"/><stop offset="0.649" stop-color="#c7c7c7"/><stop offset="0.701" stop-color="#cdcdcd"/><stop offset="0.753" stop-color="#d7d7d7"/><stop offset="0.792" stop-color="#dbdbdb"/></linearGradient>
<linearGradient id="g452" x1="0" y1="0" x2="0" y2="1"><stop offset="0.000" stop-color="#969696"/><stop offset="0.039" stop-color="#9c9c9c"/><stop offset="0.078" stop-color="#a6a6a6"/><stop offset="0.117" stop-color="#aeaeae"/><stop offset="0.169" stop-color="#bfbfbf"/><stop offset="0.234" stop-color="#cbcbcb"/><stop offset="0.286" stop-color="#cbcbcb"/><stop offset="0.338" stop-color="#b7b7b7"/><stop offset="0.377" stop-color="#aeaeae"/><stop offset="0.597" stop-color="#aeaeae"/><stop offset="0.649" stop-color="#b5b5b5"/><stop offset="0.701" stop-color="#c1c1c1"/><stop offset="0.753" stop-color="#d1d1d1"/><stop offset="0.792" stop-color="#dbdbdb"/></linearGradient>
<linearGradient id="g453" x1="0" y1="0" x2="0" y2="1"><stop offset="0.000" stop-color="#757575"/><stop offset="0.039" stop-color="#7b7b7b"/><stop offset="0.078" stop-color="#8a8a8a"/><stop offset="0.117" stop-color="#9a9a9a"/><stop offset="0.169" stop-color="#aeaeae"/><stop offset="0.234" stop-color="#c1c1c1"/><stop offset="0.286" stop-color="#c1c1c1"/><stop offset="0.338" stop-color="#a4a4a4"/><stop offset="0.377" stop-color="#989898"/><stop offset="0.597" stop-color="#989898"/><stop offset="0.649" stop-color="#a0a0a0"/><stop offset="0.701" stop-color="#b3b3b3"/><stop offset="0.753" stop-color="#cdcdcd"/><stop offset="0.792" stop-color="#dbdbdb"/></linearGradient>
<linearGradient id="g454" x1="0" y1="0" x2="0" y2="1"><stop offset="0.000" stop-color="#696969"/><stop offset="0.039" stop-color="#717171"/><stop offset="0.078" stop-color="#828282"/><stop offset="0.117" stop-color="#929292"/><stop offset="0.169" stop-color="#aaaaaa"/><stop offset="0.234" stop-color="#bfbfbf"/><stop offset="0.286" stop-color="#bfbfbf"/><stop offset="0.338" stop-color="#9e9e9e"/><stop offset="0.377" stop-color="#909090"/><stop offset="0.597" stop-color="#909090"/><stop offset="0.649" stop-color="#9a9a9a"/><stop offset="0.701" stop-color="#aeaeae"/><stop offset="0.753" stop-color="#cbcbcb"/><stop offset="0.792" stop-color="#dbdbdb"/></linearGradient>
<linearGradient id="g455" x1="0" y1="0" x2="0" y2="1"><stop offset="0.000" stop-color="#6f6f6f"/><stop offset="0.039" stop-color="#777777"/><stop offset="0.078" stop-color="#868686"/><stop offset="0.117" stop-color="#969696"/><stop offset="0.169" stop-color="#acacac"/><stop offset="0.234" stop-color="#c1c1c1"/><stop offset="0.286" stop-color="#c1c1c1"/><stop offset="0.338" stop-color="#a0a0a0"/><stop offset="0.377" stop-color="#949494"/><stop offset="0.597" stop-color="#949494"/><stop offset="0.649" stop-color="#9e9e9e"/><stop offset="0.701" stop-color="#b0b0b0"/><stop offset="0.753" stop-color="#cbcbcb"/><stop offset="0.792" stop-color="#dbdbdb"/></linearGradient>
<linearGradient id="g456" x1="0" y1="0" x2="0" y2="1"><stop offset="0.000" stop-color="#a2a2a2"/><stop offset="0.039" stop-color="#a6a6a6"/><stop offset="0.078" stop-color="#aeaeae"/><stop offset="0.117" stop-color="#b7b7b7"/><stop offset="0.169" stop-color="#c3c3c3"/><stop offset="0.234" stop-color="#cdcdcd"/><stop offset="0.286" stop-color="#cdcdcd"/><stop offset="0.338" stop-color="#bdbdbd"/><stop offset="0.377" stop-color="#b5b5b5"/><stop offset="0.597" stop-color="#b5b5b5"/><stop offset="0.649" stop-color="#bbbbbb"/><stop offset="0.701" stop-color="#c5c5c5"/><stop offset="0.753" stop-color="#d3d3d3"/><stop offset="0.792" stop-color="#dbdbdb"/></linearGradient>
<linearGradient id="g457" x1="0" y1="0" x2="0" y2="1"><stop offset="0.000" stop-color="#949494"/><stop offset="0.039" stop-color="#9c9c9c"/><stop offset="0.078" stop-color="#aeaeae"/><stop offset="0.117" stop-color="#c7c7c7"/><stop offset="0.156" stop-color="#dbdbdb"/><stop offset="0.299" stop-color="#dbdbdb"/><stop offset="0.351" stop-color="#c7c7c7"/><stop offset="0.390" stop-color="#b9b9b9"/><stop offset="0.584" stop-color="#b9b9b9"/><stop offset="0.649" stop-color="#c7c7c7"/><stop offset="0.714" stop-color="#dbdbdb"/></linearGradient>
<linearGradient id="g458" x1="0" y1="0" x2="0" y2="1"><stop offset="0.000" stop-color="#aaaaaa"/><stop offset="0.039" stop-color="#aeaeae"/><stop offset="0.078" stop-color="#bdbdbd"/><stop offset="0.117" stop-color="#cdcdcd"/><stop offset="0.156" stop-color="#dbdbdb"/><stop offset="0.299" stop-color="#dbdbdb"/><stop offset="0.351" stop-color="#cdcdcd"/><stop offset="0.390" stop-color="#c3c3c3"/><stop offset="0.584" stop-color="#c3c3c3"/><stop offset="0.649" stop-color="#cdcdcd"/><stop offset="0.714" stop-color="#dbdbdb"/></linearGradient>
<linearGradient id="g459" x1="0" y1="0" x2="0" y2="1"><stop offset="0.000" stop-color="#bfbfbf"/><stop offset="0.039" stop-color="#c3c3c3"/><stop offset="0.078" stop-color="#cbcbcb"/><stop offset="0.117" stop-color="#d3d3d3"/><stop offset="0.156" stop-color="#dbdbdb"/><stop offset="0.299" stop-color="#dbdbdb"/><stop offset="0.351" stop-color="#d3d3d3"/><stop offset="0.390" stop-color="#cfcfcf"/><stop offset="0.584" stop-color="#cfcfcf"/><stop offset="0.649" stop-color="#d3d3d3"/><stop offset="0.714" stop-color="#dbdbdb"/></linearGradient>
<linearGradient id="g460" x1="0" y1="0" x2="0" y2="1"><stop offset="0.000" stop-color="#929292"/><stop offset="0.039" stop-color="#969696"/><stop offset="0.078" stop-color="#a0a0a0"/><stop offset="0.117" stop-color="#acacac"/><stop offset="0.169" stop-color="#bbbbbb"/><stop offset="0.234" stop-color="#c9c9c9"/><stop offset="0.286" stop-color="#c9c9c9"/><stop offset="0.338" stop-color="#b3b3b3"/><stop offset="0.377" stop-color="#aaaaaa"/><stop offset="0.597" stop-color="#aaaaaa"/><stop offset="0.649" stop-color="#b0b0b0"/><stop offset="0.701" stop-color="#bfbfbf"/><stop offset="0.753" stop-color="#d1d1d1"/><stop offset="0.792" stop-color="#dbdbdb"/></linearGradient>
<linearGradient id="g461" x1="0" y1="0" x2="0" y2="1"><stop offset="0.000" stop-color="#a8a8a8"/><stop offset="0.039" stop-color="#acacac"/><stop offset="0.078" stop-color="#b3b3b3"/><stop offset="0.117" stop-color="#bbbbbb"/><stop offset="0.169" stop-color="#c5c5c5"/><stop offset="0.234" stop-color="#cfcfcf"/><stop offset="0.286" stop-color="#cfcfcf"/><stop offset="0.338" stop-color="#bfbfbf"/><stop offset="0.377" stop-color="#b9b9b9"/><stop offset="0.597" stop-color="#b9b9b9"/><stop offset="0.649" stop-color="#bfbfbf"/><stop offset="0.701" stop-color="#c7c7c7"/><stop offset="0.753" stop-color="#d3d3d3"/><stop offset="0.792" stop-color="#dbdbdb"/></linearGradient>
<linearGradient id="g462" x1="0" y1="0" x2="0" y2="1"><stop offset="0.000" stop-color="#bfbfbf"/><stop offset="0.039" stop-color="#c1c1c1"/><stop offset="0.078" stop-color="#c5c5c5"/><stop offset="0.117" stop-color="#c9c9c9"/><stop offset="0.169" stop-color="#cfcfcf"/><stop offset="0.234" stop-color="#d3d3d3"/><stop offset="0.286" stop-color="#d3d3d3"/><stop offset="0.338" stop-color="#cdcdcd"/><stop offset="0.377" stop-color="#c9c9c9"/><stop offset="0.597" stop-color="#c9c9c9"/><stop offset="0.649" stop-color="#cbcbcb"/><stop offset="0.701" stop-color="#d1d1d1"/><stop offset="0.753" stop-color="#d7d7d7"/><stop offset="0.792" stop-color="#dbdbdb"/></linearGradient>
<linearGradient id="g463" x1="0" y1="0" x2="0" y2="1"><stop offset="0.000" stop-color="#9e9e9e"/><stop offset="0.026" stop-color="#c7c7c7"/><stop offset="0.052" stop-color="#dbdbdb"/></linearGradient>
<linearGradient id="g464" x1="0" y1="0" x2="0" y2="1"><stop offset="0.000" stop-color="#757575"/><stop offset="0.039" stop-color="#8a8a8a"/><stop offset="0.065" stop-color="#b3b3b3"/><stop offset="0.097" stop-color="#dbdbdb"/></linearGradient>
<linearGradient id="g465" x1="0" y1="0" x2="0" y2="1"><stop offset="0.000" stop-color="#616161"/><stop offset="0.039" stop-color="#757575"/><stop offset="0.078" stop-color="#8a8a8a"/><stop offset="0.156" stop-color="#969696"/><stop offset="0.649" stop-color="#9a9a9a"/><stop offset="0.727" stop-color="#b3b3b3"/><stop offset="0.779" stop-color="#dbdbdb"/></linearGradient>
<linearGradient id="g466" x1="0" y1="0" x2="0" y2="1"><stop offset="0.000" stop-color="#8a8a8a"/><stop offset="0.065" stop-color="#9a9a9a"/><stop offset="0.156" stop-color="#bdbdbd"/><stop offset="0.221" stop-color="#dbdbdb"/></linearGradient>
<linearGradient id="g467" x1="0" y1="0" x2="0" y2="1"><stop offset="0.000" stop-color="#969696"/><stop offset="0.052" stop-color="#aaaaaa"/><stop offset="0.117" stop-color="#dbdbdb"/></linearGradient>
<linearGradient id="g468" x1="0" y1="0" x2="0" y2="1"><stop offset="0.000" stop-color="#6b6b6b"/><stop offset="0.039" stop-color="#808080"/><stop offset="0.078" stop-color="#929292"/><stop offset="0.182" stop-color="#a2a2a2"/><stop offset="0.649" stop-color="#a6a6a6"/><stop offset="0.727" stop-color="#c7c7c7"/><stop offset="0.766" stop-color="#dbdbdb"/></linearGradient>
<linearGradient id="g469" x1="0" y1="0" x2="0" y2="1"><stop offset="0.000" stop-color="#616161"/><stop offset="0.039" stop-color="#757575"/><stop offset="0.065" stop-color="#929292"/><stop offset="0.104" stop-color="#bbbbbb"/><stop offset="0.143" stop-color="#dbdbdb"/></linearGradient>
<linearGradient id="g470" x1="0" y1="0" x2="0" y2="1"><stop offset="0.000" stop-color="#5d5d5d"/><stop offset="0.039" stop-color="#6d6d6d"/><stop offset="0.078" stop-color="#8a8a8a"/><stop offset="0.130" stop-color="#a6a6a6"/><stop offset="0.182" stop-color="#dbdbdb"/></linearGradient>
<linearGradient id="g471" x1="0" y1="0" x2="0" y2="1"><stop offset="0.000" stop-color="#676767"/><stop offset="0.039" stop-color="#7b7b7b"/><stop offset="0.065" stop-color="#969696"/><stop offset="0.104" stop-color="#bdbdbd"/><stop offset="0.143" stop-color="#dbdbdb"/></linearGradient>
<linearGradient id="g472" x1="0" y1="0" x2="0" y2="1"><stop offset="0.000" stop-color="#636363"/><stop offset="0.039" stop-color="#737373"/><stop offset="0.078" stop-color="#8e8e8e"/><stop offset="0.130" stop-color="#a8a8a8"/><stop offset="0.182" stop-color="#dbdbdb"/></linearGradient>
<linearGradient id="g473" x1="0" y1="0" x2="0" y2="1"><stop offset="0.000" stop-color="#797979"/><stop offset="0.039" stop-color="#8a8a8a"/><stop offset="0.065" stop-color="#a0a0a0"/><stop offset="0.104" stop-color="#c1c1c1"/><stop offset="0.143" stop-color="#dbdbdb"/></linearGradient>
<linearGradient id="g474" x1="0" y1="0" x2="0" y2="1"><stop offset="0.000" stop-color="#757575"/><stop offset="0.039" stop-color="#848484"/><stop offset="0.078" stop-color="#9a9a9a"/><stop offset="0.130" stop-color="#b0b0b0"/><stop offset="0.182" stop-color="#dbdbdb"/></linearGradient>
<linearGradient id="g475" x1="0" y1="0" x2="0" y2="1"><stop offset="0.000" stop-color="#989898"/><stop offset="0.039" stop-color="#a2a2a2"/><stop offset="0.065" stop-color="#b3b3b3"/><stop offset="0.104" stop-color="#c9c9c9"/><stop offset="0.143" stop-color="#dbdbdb"/></linearGradient>
<linearGradient id="g476" x1="0" y1="0" x2="0" y2="1"><stop offset="0.000" stop-color="#969696"/><stop offset="0.039" stop-color="#9e9e9e"/><stop offset="0.078" stop-color="#aeaeae"/><stop offset="0.130" stop-color="#bfbfbf"/><stop offset="0.182" stop-color="#dbdbdb"/></linearGradient>
<linearGradient id="g477" x1="0" y1="0" x2="0" y2="1"><stop offset="0.000" stop-color="#b0b0b0"/><stop offset="0.039" stop-color="#b7b7b7"/><stop offset="0.065" stop-color="#c1c1c1"/><stop offset="0.104" stop-color="#cfcfcf"/><stop offset="0.143" stop-color="#dbdbdb"/></linearGradient>
<linearGradient id="g478" x1="0" y1="0" x2="0" y2="1"><stop offset="0.000" stop-color="#aeaeae"/><stop offset="0.039" stop-color="#b5b5b5"/><stop offset="0.078" stop-color="#bfbfbf"/><stop offset="0.130" stop-color="#c9c9c9"/><stop offset="0.182" stop-color="#dbdbdb"/></linearGradient>
<linearGradient id="g479" x1="0" y1="0" x2="0" y2="1"><stop offset="0.234" stop-color="#dbdbdb"/><stop offset="0.312" stop-color="#bbbbbb"/><stop offset="0.649" stop-color="#b7b7b7"/><stop offset="0.753" stop-color="#dbdbdb"/></linearGradient>
<linearGradient id="g480" x1="0" y1="0" x2="0" y2="1"><stop offset="0.260" stop-color="#dbdbdb"/><stop offset="0.338" stop-color="#c7c7c7"/><stop offset="0.584" stop-color="#c7c7c7"/><stop offset="0.675" stop-color="#dbdbdb"/></linearGradient>
<linearGradient id="g481" x1="0" y1="0" x2="0" y2="1"><stop offset="0.000" stop-color="#8a8a8a"/><stop offset="0.039" stop-color="#9e9e9e"/><stop offset="0.078" stop-color="#c7c7c7"/><stop offset="0.104" stop-color="#dbdbdb"/></linearGradient>
<linearGradient id="g482" x1="0" y1="0" x2="0" y2="1"><stop offset="0.000" stop-color="#8a8a8a"/><stop offset="0.032" stop-color="#9e9e9e"/><stop offset="0.065" stop-color="#c7c7c7"/><stop offset="0.091" stop-color="#dbdbdb"/></linearGradient>
<linearGradient id="g483" x1="0" y1="0" x2="0" y2="1"><stop offset="0.000" stop-color="#8a8a8a"/><stop offset="0.052" stop-color="#9e9e9e"/><stop offset="0.104" stop-color="#c7c7c7"/><stop offset="0.130" stop-color="#dbdbdb"/></linearGradient>
<linearGradient id="g484" x1="0" y1="0" x2="0" y2="1"><stop offset="0.000" stop-color="#8a8a8a"/><stop offset="0.058" stop-color="#9e9e9e"/><stop offset="0.117" stop-color="#c7c7c7"/><stop offset="0.143" stop-color="#dbdbdb"/></linearGradient>
<linearGradient id="g485" x1="0" y1="0" x2="0" y2="1"><stop offset="0.000" stop-color="#8a8a8a"/><stop offset="0.045" stop-color="#9e9e9e"/><stop offset="0.091" stop-color="#c7c7c7"/><stop offset="0.117" stop-color="#dbdbdb"/></linearGradient>
<linearGradient id="g486" x1="0" y1="0" x2="0" y2="1"><stop offset="0.000" stop-color="#8a8a8a"/><stop offset="0.026" stop-color="#9e9e9e"/><stop offset="0.052" stop-color="#c7c7c7"/><stop offset="0.078" stop-color="#dbdbdb"/></linearGradient>
<linearGradient id="g487" x1="0" y1="0" x2="0" y2="1"><stop offset="0.000" stop-color="#8a8a8a"/><stop offset="0.019" stop-color="#9e9e9e"/><stop offset="0.039" stop-color="#c7c7c7"/><stop offset="0.065" stop-color="#dbdbdb"/></linearGradient>
<linearGradient id="g488" x1="0" y1="0" x2="0" y2="1"><stop offset="0.000" stop-color="#b7b7b7"/><stop offset="0.039" stop-color="#bdbdbd"/><stop offset="0.091" stop-color="#c5c5c5"/><stop offset="0.143" stop-color="#cfcfcf"/><stop offset="0.208" stop-color="#d7d7d7"/><stop offset="0.273" stop-color="#d9d9d9"/><stop offset="0.338" stop-color="#d1d1d1"/><stop offset="0.403" stop-color="#cdcdcd"/><stop offset="0.649" stop-color="#cdcdcd"/><stop offset="0.727" stop-color="#d3d3d3"/><stop offset="0.792" stop-color="#dbdbdb"/></linearGradient>
<linearGradient id="g489" x1="0" y1="0" x2="0" y2="1"><stop offset="0.000" stop-color="#8a8a8a"/><stop offset="0.039" stop-color="#989898"/><stop offset="0.091" stop-color="#aaaaaa"/><stop offset="0.143" stop-color="#bfbfbf"/><stop offset="0.208" stop-color="#d3d3d3"/><stop offset="0.273" stop-color="#d5d5d5"/><stop offset="0.338" stop-color="#c5c5c5"/><stop offset="0.403" stop-color="#bdbdbd"/><stop offset="0.649" stop-color="#bdbdbd"/><stop offset="0.727" stop-color="#c9c9c9"/><stop offset="0.792" stop-color="#dbdbdb"/></linearGradient>
<linearGradient id="g490" x1="0" y1="0" x2="0" y2="1"><stop offset="0.000" stop-color="#575757"/><stop offset="0.039" stop-color="#6d6d6d"/><stop offset="0.091" stop-color="#8a8a8a"/><stop offset="0.143" stop-color="#acacac"/><stop offset="0.208" stop-color="#cdcdcd"/><stop offset="0.273" stop-color="#d1d1d1"/><stop offset="0.338" stop-color="#b7b7b7"/><stop offset="0.403" stop-color="#a8a8a8"/><stop offset="0.649" stop-color="#a8a8a8"/><stop offset="0.727" stop-color="#bfbfbf"/><stop offset="0.792" stop-color="#dbdbdb"/></linearGradient>
<linearGradient id="g491" x1="0" y1="0" x2="0" y2="1"><stop offset="0.000" stop-color="#484848"/><stop offset="0.039" stop-color="#616161"/><stop offset="0.091" stop-color="#828282"/><stop offset="0.143" stop-color="#a6a6a6"/><stop offset="0.208" stop-color="#cbcbcb"/><stop offset="0.273" stop-color="#d1d1d1"/><stop offset="0.338" stop-color="#b3b3b3"/><stop offset="0.403" stop-color="#a2a2a2"/><stop offset="0.649" stop-color="#a2a2a2"/><stop offset="0.727" stop-color="#bbbbbb"/><stop offset="0.792" stop-color="#dbdbdb"/></linearGradient>
<linearGradient id="g492" x1="0" y1="0" x2="0" y2="1"><stop offset="0.000" stop-color="#6d6d6d"/><stop offset="0.039" stop-color="#808080"/><stop offset="0.091" stop-color="#989898"/><stop offset="0.143" stop-color="#b3b3b3"/><stop offset="0.208" stop-color="#cfcfcf"/><stop offset="0.273" stop-color="#d3d3d3"/><stop offset="0.338" stop-color="#bdbdbd"/><stop offset="0.403" stop-color="#b0b0b0"/><stop offset="0.649" stop-color="#b0b0b0"/><stop offset="0.727" stop-color="#c3c3c3"/><stop offset="0.792" stop-color="#dbdbdb"/></linearGradient>
<linearGradient id="g493" x1="0" y1="0" x2="0" y2="1"><stop offset="0.000" stop-color="#a8a8a8"/><stop offset="0.039" stop-color="#b0b0b0"/><stop offset="0.091" stop-color="#bdbdbd"/><stop offset="0.143" stop-color="#c9c9c9"/><stop offset="0.208" stop-color="#d5d5d5"/><stop offset="0.273" stop-color="#d7d7d7"/><stop offset="0.338" stop-color="#cdcdcd"/><stop offset="0.403" stop-color="#c7c7c7"/><stop offset="0.649" stop-color="#c7c7c7"/><stop offset="0.727" stop-color="#cfcfcf"/><stop offset="0.792" stop-color="#dbdbdb"/></linearGradient>
<linearGradient id="g494" x1="0" y1="0" x2="0" y2="1"><stop offset="0.000" stop-color="#b3b3b3"/><stop offset="0.032" stop-color="#b7b7b7"/><stop offset="0.065" stop-color="#bdbdbd"/><stop offset="0.117" stop-color="#c5c5c5"/><stop offset="0.169" stop-color="#c9c9c9"/><stop offset="0.234" stop-color="#cfcfcf"/><stop offset="0.286" stop-color="#d1d1d1"/><stop offset="0.338" stop-color="#cbcbcb"/><stop offset="0.390" stop-color="#c9c9c9"/><stop offset="0.649" stop-color="#c9c9c9"/><stop offset="0.727" stop-color="#cbcbcb"/><stop offset="0.779" stop-color="#d1d1d1"/><stop offset="0.831" stop-color="#d7d7d7"/><stop offset="0.870" stop-color="#dbdbdb"/></linearGradient>
<linearGradient id="g495" x1="0" y1="0" x2="0" y2="1"><stop offset="0.000" stop-color="#828282"/><stop offset="0.032" stop-color="#8c8c8c"/><stop offset="0.065" stop-color="#9a9a9a"/><stop offset="0.117" stop-color="#a8a8a8"/><stop offset="0.169" stop-color="#b3b3b3"/><stop offset="0.234" stop-color="#bfbfbf"/><stop offset="0.286" stop-color="#c3c3c3"/><stop offset="0.338" stop-color="#b7b7b7"/><stop offset="0.390" stop-color="#b0b0b0"/><stop offset="0.649" stop-color="#b0b0b0"/><stop offset="0.727" stop-color="#b7b7b7"/><stop offset="0.779" stop-color="#c5c5c5"/><stop offset="0.831" stop-color="#d5d5d5"/><stop offset="0.870" stop-color="#dbdbdb"/></linearGradient>
<linearGradient id="g496" x1="0" y1="0" x2="0" y2="1"><stop offset="0.000" stop-color="#484848"/><stop offset="0.032" stop-color="#5b5b5b"/><stop offset="0.065" stop-color="#717171"/><stop offset="0.117" stop-color="#888888"/><stop offset="0.169" stop-color="#989898"/><stop offset="0.234" stop-color="#acacac"/><stop offset="0.286" stop-color="#b3b3b3"/><stop offset="0.338" stop-color="#a0a0a0"/><stop offset="0.390" stop-color="#969696"/><stop offset="0.649" stop-color="#969696"/><stop offset="0.727" stop-color="#a0a0a0"/><stop offset="0.779" stop-color="#b7b7b7"/><stop offset="0.831" stop-color="#d1d1d1"/><stop offset="0.870" stop-color="#dbdbdb"/></linearGradient>
<linearGradient id="g497" x1="0" y1="0" x2="0" y2="1"><stop offset="0.000" stop-color="#383838"/><stop offset="0.032" stop-color="#4c4c4c"/><stop offset="0.065" stop-color="#656565"/><stop offset="0.117" stop-color="#7d7d7d"/><stop offset="0.169" stop-color="#909090"/><stop offset="0.234" stop-color="#a6a6a6"/><stop offset="0.286" stop-color="#aeaeae"/><stop offset="0.338" stop-color="#9a9a9a"/><stop offset="0.390" stop-color="#8e8e8e"/><stop offset="0.649" stop-color="#8e8e8e"/><stop offset="0.727" stop-color="#9a9a9a"/><stop offset="0.779" stop-color="#b3b3b3"/><stop offset="0.831" stop-color="#cfcfcf"/><stop offset="0.870" stop-color="#dbdbdb"/></linearGradient>
<linearGradient id="g498" x1="0" y1="0" x2="0" y2="1"><stop offset="0.000" stop-color="#616161"/><stop offset="0.032" stop-color="#717171"/><stop offset="0.065" stop-color="#828282"/><stop offset="0.117" stop-color="#969696"/><stop offset="0.169" stop-color="#a2a2a2"/><stop offset="0.234" stop-color="#b3b3b3"/><stop offset="0.286" stop-color="#b9b9b9"/><stop offset="0.338" stop-color="#aaaaaa"/><stop offset="0.390" stop-color="#a0a0a0"/><stop offset="0.649" stop-color="#a0a0a0"/><stop offset="0.727" stop-color="#aaaaaa"/><stop offset="0.779" stop-color="#bdbdbd"/><stop offset="0.831" stop-color="#d1d1d1"/><stop offset="0.870" stop-color="#dbdbdb"/></linearGradient>
<linearGradient id="g499" x1="0" y1="0" x2="0" y2="1"><stop offset="0.000" stop-color="#a2a2a2"/><stop offset="0.032" stop-color="#aaaaaa"/><stop offset="0.065" stop-color="#b3b3b3"/><stop offset="0.117" stop-color="#bbbbbb"/><stop offset="0.169" stop-color="#c1c1c1"/><stop offset="0.234" stop-color="#c9c9c9"/><stop offset="0.286" stop-color="#cbcbcb"/><stop offset="0.338" stop-color="#c5c5c5"/><stop offset="0.390" stop-color="#c1c1c1"/><stop offset="0.649" stop-color="#c1c1c1"/><stop offset="0.727" stop-color="#c5c5c5"/><stop offset="0.779" stop-color="#cdcdcd"/><stop offset="0.831" stop-color="#d7d7d7"/><stop offset="0.870" stop-color="#dbdbdb"/></linearGradient>
<linearGradient id="g500" x1="0" y1="0" x2="0" y2="1"><stop offset="0.000" stop-color="#808080"/><stop offset="0.052" stop-color="#969696"/><stop offset="0.104" stop-color="#bbbbbb"/><stop offset="0.156" stop-color="#dbdbdb"/></linearGradient>
<linearGradient id="g501" x1="0" y1="0" x2="0" y2="1"><stop offset="0.000" stop-color="#383838"/><stop offset="0.032" stop-color="#484848"/><stop offset="0.065" stop-color="#6b6b6b"/><stop offset="0.091" stop-color="#8e8e8e"/><stop offset="0.208" stop-color="#969696"/><stop offset="0.299" stop-color="#969696"/><stop offset="0.351" stop-color="#8e8e8e"/><stop offset="0.519" stop-color="#8a8a8a"/><stop offset="0.623" stop-color="#969696"/><stop offset="0.701" stop-color="#a6a6a6"/><stop offset="0.766" stop-color="#c3c3c3"/><stop offset="0.818" stop-color="#dbdbdb"/></linearGradient>
<linearGradient id="g502" x1="0" y1="0" x2="0" y2="1"><stop offset="0.104" stop-color="#9e9e9e"/><stop offset="0.260" stop-color="#b3b3b3"/><stop offset="0.390" stop-color="#aaaaaa"/><stop offset="0.649" stop-color="#b3b3b3"/><stop offset="0.753" stop-color="#dbdbdb"/></linearGradient>
<linearGradient id="g503" x1="0" y1="0" x2="0" y2="1"><stop offset="0.000" stop-color="#343434"/><stop offset="0.260" stop-color="#2c2c2c"/><stop offset="0.519" stop-color="#3c3c3c"/><stop offset="0.675" stop-color="#535353"/><stop offset="0.753" stop-color="#808080"/><stop offset="0.831" stop-color="#9e9e9e"/><stop offset="1.000" stop-color="#aaaaaa"/></linearGradient>
<linearGradient id="g504" x1="0" y1="0" x2="0" y2="1"><stop offset="0.000" stop-color="#6b6b6b"/><stop offset="0.052" stop-color="#868686"/><stop offset="0.130" stop-color="#9a9a9a"/><stop offset="0.260" stop-color="#a2a2a2"/><stop offset="0.584" stop-color="#a6a6a6"/><stop offset="0.714" stop-color="#bfbfbf"/><stop offset="0.805" stop-color="#dbdbdb"/></linearGradient>
<linearGradient id="g505" x1="0" y1="0" x2="0" y2="1"><stop offset="0.000" stop-color="#6b6b6b"/><stop offset="0.052" stop-color="#8a8a8a"/><stop offset="0.104" stop-color="#a2a2a2"/><stop offset="0.208" stop-color="#b3b3b3"/><stop offset="0.584" stop-color="#b7b7b7"/><stop offset="0.675" stop-color="#cfcfcf"/><stop offset="0.753" stop-color="#dbdbdb"/></linearGradient>
<linearGradient id="g506" x1="0" y1="0" x2="0" y2="1"><stop offset="0.000" stop-color="#757575"/><stop offset="0.039" stop-color="#8e8e8e"/><stop offset="0.078" stop-color="#bdbdbd"/><stop offset="0.117" stop-color="#dbdbdb"/></linearGradient>
<linearGradient id="g507" x1="0" y1="0" x2="0" y2="1"><stop offset="0.000" stop-color="#171717"/><stop offset="0.156" stop-color="#1a1a1a"/><stop offset="0.260" stop-color="#202020"/><stop offset="0.351" stop-color="#282828"/><stop offset="0.429" stop-color="#323232"/><stop offset="0.494" stop-color="#3a3a3a"/><stop offset="0.539" stop-color="#424242"/><stop offset="0.610" stop-color="#4f4f4f"/><stop offset="0.688" stop-color="#616161"/><stop offset="0.747" stop-color="#757575"/><stop offset="0.799" stop-color="#868686"/><stop offset="0.844" stop-color="#969696"/><stop offset="0.877" stop-color="#aaaaaa"/><stop offset="0.900" stop-color="#c7c7c7"/><stop offset="0.916" stop-color="#e6e6e6"/><stop offset="0.935" stop-color="#fafafa"/><stop offset="1.000" stop-color="#fafafa"/></linearGradient>
<linearGradient id="g508" x1="0" y1="0" x2="0" y2="1"><stop offset="0.000" stop-color="#171717"/><stop offset="0.156" stop-color="#1a1a1a"/><stop offset="0.240" stop-color="#202020"/><stop offset="0.331" stop-color="#282828"/><stop offset="0.409" stop-color="#323232"/><stop offset="0.474" stop-color="#3a3a3a"/><stop offset="0.519" stop-color="#424242"/><stop offset="0.591" stop-color="#4f4f4f"/><stop offset="0.669" stop-color="#616161"/><stop offset="0.727" stop-color="#757575"/><stop offset="0.779" stop-color="#868686"/><stop offset="0.825" stop-color="#969696"/><stop offset="0.857" stop-color="#aaaaaa"/><stop offset="0.881" stop-color="#c7c7c7"/><stop offset="0.896" stop-color="#e6e6e6"/><stop offset="0.916" stop-color="#fafafa"/><stop offset="1.000" stop-color="#fafafa"/></linearGradient>
<linearGradient id="g509" x1="0" y1="0" x2="0" y2="1"><stop offset="0.000" stop-color="#171717"/><stop offset="0.156" stop-color="#1a1a1a"/><stop offset="0.253" stop-color="#202020"/><stop offset="0.344" stop-color="#282828"/><stop offset="0.422" stop-color="#323232"/><stop offset="0.487" stop-color="#3a3a3a"/><stop offset="0.532" stop-color="#424242"/><stop offset="0.604" stop-color="#4f4f4f"/><stop offset="0.682" stop-color="#616161"/><stop offset="0.740" stop-color="#757575"/><stop offset="0.792" stop-color="#868686"/><stop offset="0.838" stop-color="#969696"/><stop offset="0.870" stop-color="#aaaaaa"/><stop offset="0.894" stop-color="#c7c7c7"/><stop offset="0.909" stop-color="#e6e6e6"/><stop offset="0.929" stop-color="#fafafa"/><stop offset="1.000" stop-color="#fafafa"/></linearGradient>
<linearGradient id="g510" x1="0" y1="0" x2="0" y2="1"><stop offset="0.000" stop-color="#ff0000"/><stop offset="0.095" stop-color="#ff3900"/><stop offset="0.190" stop-color="#ff8c00"/><stop offset="0.260" stop-color="#ffc800"/><stop offset="0.356" stop-color="#f8fd00"/><stop offset="0.419" stop-color="#96e600"/><stop offset="0.494" stop-color="#08e600"/><stop offset="0.630" stop-color="#00e682"/><stop offset="0.747" stop-color="#00f8ff"/><stop offset="0.816" stop-color="#005dff"/><stop offset="0.877" stop-color="#0000fc"/><stop offset="1.000" stop-color="#000082"/></linearGradient>
</defs>
<rect width="640" height="768" fill="#fff"/>
<g filter="url(#f0)"><rect x="80" y="57" width="421" height="78" fill="url(#g0)"/>
<rect x="81" y="57" width="1" height="78" fill="url(#g1)" class="l"/>
<rect x="82" y="57" width="1" height="78" fill="url(#g2)" class="l"/>
<rect x="83" y="57" width="1" height="78" fill="url(#g3)" class="l"/>
<rect x="84" y="57" width="1" height="78" fill="url(#g4)" class="l"/>
<rect x="85" y="57" width="1" height="78" fill="url(#g5)" class="l"/>
<rect x="86" y="57" width="1" height="78" fill="url(#g6)" class="l"/>
<rect x="87" y="57" width="1" height="78" fill="url(#g6)" class="l"/>
<rect x="88" y="57" width="1" height="78" fill="url(#g7)" class="l"/>
<rect x="89" y="57" width="1" height="78" fill="url(#g8)" class="l"/>
<rect x="90" y="57" width="1" height="78" fill="url(#g5)" class="l"/>
<rect x="91" y="57" width="1" height="78" fill="url(#g9)" class="l"/>
<rect x="92" y="57" width="1" height="78" fill="url(#g3)" class="l"/>
<rect x="93" y="57" width="1" height="78" fill="url(#g4)" class="l"/>
<rect x="94" y="57" width="1" height="78" fill="url(#g6)" class="l"/>
<rect x="95" y="57" width="1" height="78" fill="url(#g1)" class="l"/>
<rect x="96" y="57" width="1" height="78" fill="url(#g3)" class="l"/>
<rect x="97" y="57" width="1" height="78" fill="url(#g1)" class="l"/>
<rect x="98" y="57" width="1" height="78" fill="url(#g1)" class="l"/>
<rect x="99" y="57" width="1" height="78" fill="url(#g10)" class="l"/>
<rect x="100" y="57" width="1" height="78" fill="url(#g11)" class="l"/>
<rect x="101" y="57" width="1" height="78" fill="url(#g12)" class="l"/>
<rect x="102" y="57" width="1" height="78" fill="url(#g13)" class="l"/>
<rect x="103" y="57" width="1" height="78" fill="url(#g14)" class="l"/>
<rect x="104" y="57" width="1" height="78" fill="url(#g11)" class="l"/>
<rect x="105" y="57" width="1" height="78" fill="url(#g2)" class="l"/>
<rect x="106" y="57" width="1" height="78" fill="url(#g15)" class="l"/>
<rect x="107" y="57" width="1" height="78" fill="url(#g2)" class="l"/>
<rect x="108" y="57" width="1" height="78" fill="url(#g8)" class="l"/>
<rect x="109" y="57" width="1" height="78" fill="url(#g6)" class="l"/>
<rect x="110" y="57" width="1" height="78" fill="url(#g14)" class="l"/>
<rect x="111" y="57" width="1" height="78" fill="url(#g6)" class="l"/>
<rect x="112" y="57" width="1" height="78" fill="url(#g2)" class="l"/>
<rect x="113" y="57" width="1" height="78" fill="url(#g6)" class="l"/>
<rect x="114" y="57" width="1" height="78" fill="url(#g6)" class="l"/>
<rect x="115" y="57" width="1" height="78" fill="url(#g14)" class="l"/>
<rect x="116" y="57" width="1" height="78" fill="url(#g3)" class="l"/>
<rect x="117" y="57" width="1" height="78" fill="url(#g4)" class="l"/>
<rect x="118" y="57" width="1" height="78" fill="url(#g16)" class="l"/>
<rect x="119" y="57" width="1" height="78" fill="url(#g6)" class="l"/>
<rect x="120" y="57" width="1" height="78" fill="url(#g4)" class="l"/>
<rect x="121" y="57" width="1" height="78" fill="url(#g2)" class="l"/>
<rect x="122" y="57" width="1" height="78" fill="url(#g12)" class="l"/>
<rect x="123" y="57" width="1" height="78" fill="url(#g4)" class="l"/>
<rect x="124" y="57" width="1" height="78" fill="url(#g17)" class="l"/>
<rect x="125" y="57" width="1" height="78" fill="url(#g6)" class="l"/>
<rect x="126" y="57" width="1" height="78" fill="url(#g4)" class="l"/>
<rect x="127" y="57" width="1" height="78" fill="url(#g14)" class="l"/>
<rect x="128" y="57" width="1" height="78" fill="url(#g12)" class="l"/>
<rect x="129" y="57" width="1" height="78" fill="url(#g6)" class="l"/>
<rect x="130" y="57" width="1" height="78" fill="url(#g4)" class="l"/>
<rect x="131" y="57" width="1" height="78" fill="url(#g18)" class="l"/>
<rect x="132" y="57" width="1" height="78" fill="url(#g2)" class="l"/>
<rect x="133" y="57" width="1" height="78" fill="url(#g19)" class="l"/>
<rect x="134" y="57" width="1" height="78" fill="url(#g4)" class="l"/>
<rect x="135" y="57" width="1" height="78" fill="url(#g2)" class="l"/>
<rect x="136" y="57" width="1" height="78" fill="url(#g4)" class="l"/>
<rect x="137" y="57" width="1" height="78" fill="url(#g20)" class="l"/>
<rect x="138" y="57" width="1" height="78" fill="url(#g4)" class="l"/>
<rect x="139" y="57" width="1" height="78" fill="url(#g2)" class="l"/>
<rect x="140" y="57" width="1" height="78" fill="url(#g21)" class="l"/>
<rect x="141" y="57" width="1" height="78" fill="url(#g6)" class="l"/>
<rect x="142" y="57" width="1" height="78" fill="url(#g4)" class="l"/>
<rect x="143" y="57" width="1" height="78" fill="url(#g13)" class="l"/>
<rect x="144" y="57" width="1" height="78" fill="url(#g19)" class="l"/>
<rect x="145" y="57" width="1" height="78" fill="url(#g9)" class="l"/>
<rect x="146" y="57" width="1" height="78" fill="url(#g6)" class="l"/>
<rect x="147" y="57" width="1" height="78" fill="url(#g3)" class="l"/>
<rect x="148" y="57" width="1" height="78" fill="url(#g19)" class="l"/>
<rect x="149" y="57" width="1" height="78" fill="url(#g2)" class="l"/>
<rect x="150" y="57" width="1" height="78" fill="url(#g22)" class="l"/>
<rect x="151" y="57" width="1" height="78" fill="url(#g1)" class="l"/>
<rect x="152" y="57" width="1" height="78" fill="url(#g9)" class="l"/>
<rect x="153" y="57" width="1" height="78" fill="url(#g19)" class="l"/>
<rect x="154" y="57" width="1" height="78" fill="url(#g18)" class="l"/>
<rect x="155" y="57" width="1" height="78" fill="url(#g8)" class="l"/>
<rect x="156" y="57" width="1" height="78" fill="url(#g7)" class="l"/>
<rect x="157" y="57" width="1" height="78" fill="url(#g16)" class="l"/>
<rect x="158" y="57" width="1" height="78" fill="url(#g22)" class="l"/>
<rect x="159" y="57" width="1" height="78" fill="url(#g7)" class="l"/>
<rect x="160" y="57" width="1" height="78" fill="url(#g22)" class="l"/>
<rect x="161" y="57" width="1" height="78" fill="url(#g1)" class="l"/>
<rect x="162" y="57" width="1" height="78" fill="url(#g12)" class="l"/>
<rect x="163" y="57" width="1" height="78" fill="url(#g6)" class="l"/>
<rect x="164" y="57" width="1" height="78" fill="url(#g20)" class="l"/>
<rect x="165" y="57" width="1" height="78" fill="url(#g20)" class="l"/>
<rect x="166" y="57" width="1" height="78" fill="url(#g14)" class="l"/>
<rect x="167" y="57" width="1" height="78" fill="url(#g18)" class="l"/>
<rect x="168" y="57" width="1" height="78" fill="url(#g2)" class="l"/>
<rect x="169" y="57" width="1" height="78" fill="url(#g21)" class="l"/>
<rect x="170" y="57" width="1" height="78" fill="url(#g17)" class="l"/>
<rect x="171" y="57" width="1" height="78" fill="url(#g5)" class="l"/>
<rect x="172" y="57" width="1" height="78" fill="url(#g19)" class="l"/>
<rect x="173" y="57" width="1" height="78" fill="url(#g6)" class="l"/>
<rect x="174" y="57" width="1" height="78" fill="url(#g23)" class="l"/>
<rect x="175" y="57" width="1" height="78" fill="url(#g20)" class="l"/>
<rect x="176" y="57" width="1" height="78" fill="url(#g20)" class="l"/>
<rect x="177" y="57" width="1" height="78" fill="url(#g1)" class="l"/>
<rect x="178" y="57" width="1" height="78" fill="url(#g6)" class="l"/>
<rect x="179" y="57" width="1" height="78" fill="url(#g6)" class="l"/>
<rect x="180" y="57" width="1" height="78" fill="url(#g1)" class="l"/>
<rect x="181" y="57" width="1" height="78" fill="url(#g7)" class="l"/>
<rect x="182" y="57" width="1" height="78" fill="url(#g19)" class="l"/>
<rect x="183" y="57" width="1" height="78" fill="url(#g13)" class="l"/>
<rect x="184" y="57" width="1" height="78" fill="url(#g12)" class="l"/>
<rect x="185" y="57" width="1" height="78" fill="url(#g4)" class="l"/>
<rect x="186" y="57" width="1" height="78" fill="url(#g2)" class="l"/>
<rect x="187" y="57" width="1" height="78" fill="url(#g1)" class="l"/>
<rect x="188" y="57" width="1" height="78" fill="url(#g12)" class="l"/>
<rect x="189" y="57" width="1" height="78" fill="url(#g4)" class="l"/>
<rect x="190" y="57" width="1" height="78" fill="url(#g14)" class="l"/>
<rect x="191" y="57" width="1" height="78" fill="url(#g2)" class="l"/>
<rect x="192" y="57" width="1" height="78" fill="url(#g19)" class="l"/>
<rect x="193" y="57" width="1" height="78" fill="url(#g16)" class="l"/>
<rect x="194" y="57" width="1" height="78" fill="url(#g11)" class="l"/>
<rect x="195" y="57" width="1" height="78" fill="url(#g20)" class="l"/>
<rect x="196" y="57" width="1" height="78" fill="url(#g13)" class="l"/>
<rect x="197" y="57" width="1" height="78" fill="url(#g1)" class="l"/>
<rect x="198" y="57" width="1" height="78" fill="url(#g4)" class="l"/>
<rect x="199" y="57" width="1" height="78" fill="url(#g5)" class="l"/>
<rect x="200" y="57" width="1" height="78" fill="url(#g12)" class="l"/>
<rect x="201" y="57" width="1" height="78" fill="url(#g8)" class="l"/>
<rect x="202" y="57" width="1" height="78" fill="url(#g6)" class="l"/>
<rect x="203" y="57" width="1" height="78" fill="url(#g2)" class="l"/>
<rect x="204" y="57" width="1" height="78" fill="url(#g20)" class="l"/>
<rect x="205" y="57" width="1" height="78" fill="url(#g12)" class="l"/>
<rect x="206" y="57" width="1" height="78" fill="url(#g22)" class="l"/>
<rect x="207" y="57" width="1" height="78" fill="url(#g1)" class="l"/>
<rect x="208" y="57" width="1" height="78" fill="url(#g11)" class="l"/>
<rect x="209" y="57" width="1" height="78" fill="url(#g16)" class="l"/>
<rect x="210" y="57" width="1" height="78" fill="url(#g5)" class="l"/>
<rect x="211" y="57" width="1" height="78" fill="url(#g5)" class="l"/>
<rect x="212" y="57" width="1" height="78" fill="url(#g14)" class="l"/>
<rect x="213" y="57" width="1" height="78" fill="url(#g7)" class="l"/>
<rect x="214" y="57" width="1" height="78" fill="url(#g1)" class="l"/>
<rect x="215" y="57" width="1" height="78" fill="url(#g24)" class="l"/>
<rect x="216" y="57" width="1" height="78" fill="url(#g20)" class="l"/>
<rect x="217" y="57" width="1" height="78" fill="url(#g13)" class="l"/>
<rect x="218" y="57" width="1" height="78" fill="url(#g7)" class="l"/>
<rect x="219" y="57" width="1" height="78" fill="url(#g19)" class="l"/>
<rect x="220" y="57" width="1" height="78" fill="url(#g21)" class="l"/>
<rect x="221" y="57" width="1" height="78" fill="url(#g2)" class="l"/>
<rect x="222" y="57" width="1" height="78" fill="url(#g2)" class="l"/>
<rect x="223" y="57" width="1" height="78" fill="url(#g16)" class="l"/>
<rect x="224" y="57" width="1" height="78" fill="url(#g5)" class="l"/>
<rect x="225" y="57" width="1" height="78" fill="url(#g21)" class="l"/>
<rect x="226" y="57" width="1" height="78" fill="url(#g2)" class="l"/>
<rect x="227" y="57" width="1" height="78" fill="url(#g2)" class="l"/>
<rect x="228" y="57" width="1" height="78" fill="url(#g5)" class="l"/>
<rect x="229" y="57" width="1" height="78" fill="url(#g20)" class="l"/>
<rect x="230" y="57" width="1" height="78" fill="url(#g5)" class="l"/>
<rect x="231" y="57" width="1" height="78" fill="url(#g4)" class="l"/>
<rect x="232" y="57" width="1" height="78" fill="url(#g8)" class="l"/>
<rect x="233" y="57" width="1" height="78" fill="url(#g3)" class="l"/>
<rect x="234" y="57" width="1" height="78" fill="url(#g12)" class="l"/>
<rect x="235" y="57" width="1" height="78" fill="url(#g17)" class="l"/>
<rect x="236" y="57" width="1" height="78" fill="url(#g6)" class="l"/>
<rect x="237" y="57" width="1" height="78" fill="url(#g3)" class="l"/>
<rect x="238" y="57" width="1" height="78" fill="url(#g1)" class="l"/>
<rect x="239" y="57" width="1" height="78" fill="url(#g14)" class="l"/>
<rect x="240" y="57" width="1" height="78" fill="url(#g14)" class="l"/>
<rect x="241" y="57" width="1" height="78" fill="url(#g12)" class="l"/>
<rect x="242" y="57" width="1" height="78" fill="url(#g16)" class="l"/>
<rect x="243" y="57" width="1" height="78" fill="url(#g3)" class="l"/>
<rect x="244" y="57" width="1" height="78" fill="url(#g11)" class="l"/>
<rect x="245" y="57" width="1" height="78" fill="url(#g2)" class="l"/>
<rect x="246" y="57" width="1" height="78" fill="url(#g2)" class="l"/>
<rect x="247" y="57" width="1" height="78" fill="url(#g4)" class="l"/>
<rect x="248" y="57" width="1" height="78" fill="url(#g13)" class="l"/>
<rect x="249" y="57" width="1" height="78" fill="url(#g5)" class="l"/>
<rect x="250" y="57" width="1" height="78" fill="url(#g11)" class="l"/>
<rect x="251" y="57" width="1" height="78" fill="url(#g12)" class="l"/>
<rect x="252" y="57" width="1" height="78" fill="url(#g11)" class="l"/>
<rect x="253" y="57" width="1" height="78" fill="url(#g4)" class="l"/>
<rect x="254" y="57" width="1" height="78" fill="url(#g2)" class="l"/>
<rect x="255" y="57" width="1" height="78" fill="url(#g19)" class="l"/>
<rect x="256" y="57" width="1" height="78" fill="url(#g3)" class="l"/>
<rect x="257" y="57" width="1" height="78" fill="url(#g19)" class="l"/>
<rect x="258" y="57" width="1" height="78" fill="url(#g2)" class="l"/>
<rect x="259" y="57" width="1" height="78" fill="url(#g21)" class="l"/>
<rect x="260" y="57" width="1" height="78" fill="url(#g3)" class="l"/>
<rect x="261" y="57" width="1" height="78" fill="url(#g7)" class="l"/>
<rect x="262" y="57" width="1" height="78" fill="url(#g3)" class="l"/>
<rect x="263" y="57" width="1" height="78" fill="url(#g2)" class="l"/>
<rect x="264" y="57" width="1" height="78" fill="url(#g13)" class="l"/>
<rect x="265" y="57" width="1" height="78" fill="url(#g6)" class="l"/>
<rect x="266" y="57" width="1" height="78" fill="url(#g14)" class="l"/>
<rect x="267" y="57" width="1" height="78" fill="url(#g1)" class="l"/>
<rect x="268" y="57" width="1" height="78" fill="url(#g4)" class="l"/>
<rect x="269" y="57" width="1" height="78" fill="url(#g2)" class="l"/>
<rect x="270" y="57" width="1" height="78" fill="url(#g14)" class="l"/>
<rect x="271" y="57" width="1" height="78" fill="url(#g4)" class="l"/>
<rect x="272" y="57" width="1" height="78" fill="url(#g7)" class="l"/>
<rect x="273" y="57" width="1" height="78" fill="url(#g18)" class="l"/>
<rect x="274" y="57" width="1" height="78" fill="url(#g6)" class="l"/>
<rect x="275" y="57" width="1" height="78" fill="url(#g6)" class="l"/>
<rect x="276" y="57" width="1" height="78" fill="url(#g4)" class="l"/>
<rect x="277" y="57" width="1" height="78" fill="url(#g3)" class="l"/>
<rect x="278" y="57" width="1" height="78" fill="url(#g18)" class="l"/>
<rect x="279" y="57" width="1" height="78" fill="url(#g3)" class="l"/>
<rect x="280" y="57" width="1" height="78" fill="url(#g4)" class="l"/>
<rect x="281" y="57" width="1" height="78" fill="url(#g5)" class="l"/>
<rect x="282" y="57" width="1" height="78" fill="url(#g17)" class="l"/>
<rect x="283" y="57" width="1" height="78" fill="url(#g17)" class="l"/>
<rect x="284" y="57" width="1" height="78" fill="url(#g20)" class="l"/>
<rect x="285" y="57" width="1" height="78" fill="url(#g2)" class="l"/>
<rect x="286" y="57" width="1" height="78" fill="url(#g12)" class="l"/>
<rect x="287" y="57" width="1" height="78" fill="url(#g4)" class="l"/>
<rect x="288" y="57" width="1" height="78" fill="url(#g2)" class="l"/>
<rect x="289" y="57" width="1" height="78" fill="url(#g4)" class="l"/>
<rect x="290" y="57" width="1" height="78" fill="url(#g13)" class="l"/>
<rect x="291" y="57" width="1" height="78" fill="url(#g11)" class="l"/>
<rect x="292" y="57" width="1" height="78" fill="url(#g14)" class="l"/>
<rect x="293" y="57" width="1" height="78" fill="url(#g21)" class="l"/>
<rect x="294" y="57" width="1" height="78" fill="url(#g22)" class="l"/>
<rect x="295" y="57" width="1" height="78" fill="url(#g7)" class="l"/>
<rect x="296" y="57" width="1" height="78" fill="url(#g2)" class="l"/>
<rect x="297" y="57" width="1" height="78" fill="url(#g3)" class="l"/>
<rect x="298" y="57" width="1" height="78" fill="url(#g3)" class="l"/>
<rect x="299" y="57" width="1" height="78" fill="url(#g4)" class="l"/>
<rect x="300" y="57" width="1" height="78" fill="url(#g6)" class="l"/>
<rect x="301" y="57" width="1" height="78" fill="url(#g3)" class="l"/>
<rect x="302" y="57" width="1" height="78" fill="url(#g3)" class="l"/>
<rect x="303" y="57" width="1" height="78" fill="url(#g4)" class="l"/>
<rect x="304" y="57" width="1" height="78" fill="url(#g11)" class="l"/>
<rect x="305" y="57" width="1" height="78" fill="url(#g2)" class="l"/>
<rect x="306" y="57" width="1" height="78" fill="url(#g6)" class="l"/>
<rect x="307" y="57" width="1" height="78" fill="url(#g1)" class="l"/>
<rect x="308" y="57" width="1" height="78" fill="url(#g12)" class="l"/>
<rect x="309" y="57" width="1" height="78" fill="url(#g3)" class="l"/>
<rect x="310" y="57" width="1" height="78" fill="url(#g19)" class="l"/>
<rect x="311" y="57" width="1" height="78" fill="url(#g7)" class="l"/>
<rect x="312" y="57" width="1" height="78" fill="url(#g9)" class="l"/>
<rect x="313" y="57" width="1" height="78" fill="url(#g20)" class="l"/>
<rect x="314" y="57" width="1" height="78" fill="url(#g4)" class="l"/>
<rect x="315" y="57" width="1" height="78" fill="url(#g3)" class="l"/>
<rect x="316" y="57" width="1" height="78" fill="url(#g2)" class="l"/>
<rect x="317" y="57" width="1" height="78" fill="url(#g7)" class="l"/>
<rect x="318" y="57" width="1" height="78" fill="url(#g5)" class="l"/>
<rect x="319" y="57" width="1" height="78" fill="url(#g19)" class="l"/>
<rect x="320" y="57" width="1" height="78" fill="url(#g8)" class="l"/>
<rect x="321" y="57" width="1" height="78" fill="url(#g13)" class="l"/>
<rect x="322" y="57" width="1" height="78" fill="url(#g20)" class="l"/>
<rect x="323" y="57" width="1" height="78" fill="url(#g14)" class="l"/>
<rect x="324" y="57" width="1" height="78" fill="url(#g2)" class="l"/>
<rect x="325" y="57" width="1" height="78" fill="url(#g7)" class="l"/>
<rect x="326" y="57" width="1" height="78" fill="url(#g14)" class="l"/>
<rect x="327" y="57" width="1" height="78" fill="url(#g20)" class="l"/>
<rect x="328" y="57" width="1" height="78" fill="url(#g18)" class="l"/>
<rect x="329" y="57" width="1" height="78" fill="url(#g24)" class="l"/>
<rect x="330" y="57" width="1" height="78" fill="url(#g5)" class="l"/>
<rect x="331" y="57" width="1" height="78" fill="url(#g4)" class="l"/>
<rect x="332" y="57" width="1" height="78" fill="url(#g7)" class="l"/>
<rect x="333" y="57" width="1" height="78" fill="url(#g7)" class="l"/>
<rect x="334" y="57" width="1" height="78" fill="url(#g3)" class="l"/>
<rect x="335" y="57" width="1" height="78" fill="url(#g10)" class="l"/>
<rect x="336" y="57" width="1" height="78" fill="url(#g7)" class="l"/>
<rect x="337" y="57" width="1" height="78" fill="url(#g8)" class="l"/>
<rect x="338" y="57" width="1" height="78" fill="url(#g19)" class="l"/>
<rect x="339" y="57" width="1" height="78" fill="url(#g13)" class="l"/>
<rect x="340" y="57" width="1" height="78" fill="url(#g6)" class="l"/>
<rect x="341" y="57" width="1" height="78" fill="url(#g18)" class="l"/>
<rect x="342" y="57" width="1" height="78" fill="url(#g4)" class="l"/>
<rect x="343" y="57" width="1" height="78" fill="url(#g3)" class="l"/>
<rect x="344" y="57" width="1" height="78" fill="url(#g2)" class="l"/>
<rect x="345" y="57" width="1" height="78" fill="url(#g10)" class="l"/>
<rect x="346" y="57" width="1" height="78" fill="url(#g14)" class="l"/>
<rect x="347" y="57" width="1" height="78" fill="url(#g19)" class="l"/>
<rect x="348" y="57" width="1" height="78" fill="url(#g6)" class="l"/>
<rect x="349" y="57" width="1" height="78" fill="url(#g9)" class="l"/>
<rect x="350" y="57" width="1" height="78" fill="url(#g9)" class="l"/>
<rect x="351" y="57" width="1" height="78" fill="url(#g19)" class="l"/>
<rect x="352" y="57" width="1" height="78" fill="url(#g2)" class="l"/>
<rect x="353" y="57" width="1" height="78" fill="url(#g3)" class="l"/>
<rect x="354" y="57" width="1" height="78" fill="url(#g18)" class="l"/>
<rect x="355" y="57" width="1" height="78" fill="url(#g5)" class="l"/>
<rect x="356" y="57" width="1" height="78" fill="url(#g13)" class="l"/>
<rect x="357" y="57" width="1" height="78" fill="url(#g12)" class="l"/>
<rect x="358" y="57" width="1" height="78" fill="url(#g4)" class="l"/>
<rect x="359" y="57" width="1" height="78" fill="url(#g9)" class="l"/>
<rect x="360" y="57" width="1" height="78" fill="url(#g21)" class="l"/>
<rect x="361" y="57" width="1" height="78" fill="url(#g14)" class="l"/>
<rect x="362" y="57" width="1" height="78" fill="url(#g23)" class="l"/>
<rect x="363" y="57" width="1" height="78" fill="url(#g6)" class="l"/>
<rect x="364" y="57" width="1" height="78" fill="url(#g21)" class="l"/>
<rect x="365" y="57" width="1" height="78" fill="url(#g2)" class="l"/>
<rect x="366" y="57" width="1" height="78" fill="url(#g3)" class="l"/>
<rect x="367" y="57" width="1" height="78" fill="url(#g20)" class="l"/>
<rect x="368" y="57" width="1" height="78" fill="url(#g8)" class="l"/>
<rect x="369" y="57" width="1" height="78" fill="url(#g19)" class="l"/>
<rect x="370" y="57" width="1" height="78" fill="url(#g5)" class="l"/>
<rect x="371" y="57" width="1" height="78" fill="url(#g4)" class="l"/>
<rect x="372" y="57" width="1" height="78" fill="url(#g3)" class="l"/>
<rect x="373" y="57" width="1" height="78" fill="url(#g1)" class="l"/>
<rect x="374" y="57" width="1" height="78" fill="url(#g1)" class="l"/>
<rect x="375" y="57" width="1" height="78" fill="url(#g19)" class="l"/>
<rect x="376" y="57" width="1" height="78" fill="url(#g14)" class="l"/>
<rect x="377" y="57" width="1" height="78" fill="url(#g10)" class="l"/>
<rect x="378" y="57" width="1" height="78" fill="url(#g20)" class="l"/>
<rect x="379" y="57" width="1" height="78" fill="url(#g6)" class="l"/>
<rect x="380" y="57" width="1" height="78" fill="url(#g14)" class="l"/>
<rect x="381" y="57" width="1" height="78" fill="url(#g18)" class="l"/>
<rect x="382" y="57" width="1" height="78" fill="url(#g7)" class="l"/>
<rect x="383" y="57" width="1" height="78" fill="url(#g19)" class="l"/>
<rect x="384" y="57" width="1" height="78" fill="url(#g14)" class="l"/>
<rect x="385" y="57" width="1" height="78" fill="url(#g4)" class="l"/>
<rect x="386" y="57" width="1" height="78" fill="url(#g2)" class="l"/>
<rect x="387" y="57" width="1" height="78" fill="url(#g6)" class="l"/>
<rect x="388" y="57" width="1" height="78" fill="url(#g13)" class="l"/>
<rect x="389" y="57" width="1" height="78" fill="url(#g19)" class="l"/>
<rect x="390" y="57" width="1" height="78" fill="url(#g3)" class="l"/>
<rect x="391" y="57" width="1" height="78" fill="url(#g6)" class="l"/>
<rect x="392" y="57" width="1" height="78" fill="url(#g3)" class="l"/>
<rect x="393" y="57" width="1" height="78" fill="url(#g18)" class="l"/>
<rect x="394" y="57" width="1" height="78" fill="url(#g4)" class="l"/>
<rect x="395" y="57" width="1" height="78" fill="url(#g20)" class="l"/>
<rect x="396" y="57" width="1" height="78" fill="url(#g6)" class="l"/>
<rect x="397" y="57" width="1" height="78" fill="url(#g14)" class="l"/>
<rect x="398" y="57" width="1" height="78" fill="url(#g14)" class="l"/>
<rect x="399" y="57" width="1" height="78" fill="url(#g21)" class="l"/>
<rect x="400" y="57" width="1" height="78" fill="url(#g14)" class="l"/>
<rect x="401" y="57" width="1" height="78" fill="url(#g5)" class="l"/>
<rect x="402" y="57" width="1" height="78" fill="url(#g12)" class="l"/>
<rect x="403" y="57" width="1" height="78" fill="url(#g20)" class="l"/>
<rect x="404" y="57" width="1" height="78" fill="url(#g21)" class="l"/>
<rect x="405" y="57" width="1" height="78" fill="url(#g6)" class="l"/>
<rect x="406" y="57" width="1" height="78" fill="url(#g6)" class="l"/>
<rect x="407" y="57" width="1" height="78" fill="url(#g3)" class="l"/>
<rect x="408" y="57" width="1" height="78" fill="url(#g7)" class="l"/>
<rect x="409" y="57" width="1" height="78" fill="url(#g14)" class="l"/>
<rect x="410" y="57" width="1" height="78" fill="url(#g4)" class="l"/>
<rect x="411" y="57" width="1" height="78" fill="url(#g6)" class="l"/>
<rect x="412" y="57" width="1" height="78" fill="url(#g20)" class="l"/>
<rect x="413" y="57" width="1" height="78" fill="url(#g13)" class="l"/>
<rect x="414" y="57" width="1" height="78" fill="url(#g18)" class="l"/>
<rect x="415" y="57" width="1" height="78" fill="url(#g18)" class="l"/>
<rect x="416" y="57" width="1" height="78" fill="url(#g20)" class="l"/>
<rect x="417" y="57" width="1" height="78" fill="url(#g2)" class="l"/>
<rect x="418" y="57" width="1" height="78" fill="url(#g2)" class="l"/>
<rect x="419" y="57" width="1" height="78" fill="url(#g14)" class="l"/>
<rect x="420" y="57" width="1" height="78" fill="url(#g12)" class="l"/>
<rect x="421" y="57" width="1" height="78" fill="url(#g2)" class="l"/>
<rect x="422" y="57" width="1" height="78" fill="url(#g4)" class="l"/>
<rect x="423" y="57" width="1" height="78" fill="url(#g18)" class="l"/>
<rect x="424" y="57" width="1" height="78" fill="url(#g21)" class="l"/>
<rect x="425" y="57" width="1" height="78" fill="url(#g4)" class="l"/>
<rect x="426" y="57" width="1" height="78" fill="url(#g14)" class="l"/>
<rect x="427" y="57" width="1" height="78" fill="url(#g11)" class="l"/>
<rect x="428" y="57" width="1" height="78" fill="url(#g9)" class="l"/>
<rect x="429" y="57" width="1" height="78" fill="url(#g2)" class="l"/>
<rect x="430" y="57" width="1" height="78" fill="url(#g22)" class="l"/>
<rect x="431" y="57" width="1" height="78" fill="url(#g3)" class="l"/>
<rect x="432" y="57" width="1" height="78" fill="url(#g2)" class="l"/>
<rect x="433" y="57" width="1" height="78" fill="url(#g14)" class="l"/>
<rect x="434" y="57" width="1" height="78" fill="url(#g3)" class="l"/>
<rect x="435" y="57" width="1" height="78" fill="url(#g6)" class="l"/>
<rect x="436" y="57" width="1" height="78" fill="url(#g20)" class="l"/>
<rect x="437" y="57" width="1" height="78" fill="url(#g6)" class="l"/>
<rect x="438" y="57" width="1" height="78" fill="url(#g16)" class="l"/>
<rect x="439" y="57" width="1" height="78" fill="url(#g5)" class="l"/>
<rect x="440" y="57" width="1" height="78" fill="url(#g4)" class="l"/>
<rect x="441" y="57" width="1" height="78" fill="url(#g3)" class="l"/>
<rect x="442" y="57" width="1" height="78" fill="url(#g21)" class="l"/>
<rect x="443" y="57" width="1" height="78" fill="url(#g2)" class="l"/>
<rect x="444" y="57" width="1" height="78" fill="url(#g1)" class="l"/>
<rect x="445" y="57" width="1" height="78" fill="url(#g20)" class="l"/>
<rect x="446" y="57" width="1" height="78" fill="url(#g2)" class="l"/>
<rect x="447" y="57" width="1" height="78" fill="url(#g11)" class="l"/>
<rect x="448" y="57" width="1" height="78" fill="url(#g17)" class="l"/>
<rect x="449" y="57" width="1" height="78" fill="url(#g11)" class="l"/>
<rect x="450" y="57" width="1" height="78" fill="url(#g2)" class="l"/>
<rect x="451" y="57" width="1" height="78" fill="url(#g3)" class="l"/>
<rect x="452" y="57" width="1" height="78" fill="url(#g14)" class="l"/>
<rect x="453" y="57" width="1" height="78" fill="url(#g21)" class="l"/>
<rect x="454" y="57" width="1" height="78" fill="url(#g20)" class="l"/>
<rect x="455" y="57" width="1" height="78" fill="url(#g18)" class="l"/>
<rect x="456" y="57" width="1" height="78" fill="url(#g4)" class="l"/>
<rect x="457" y="57" width="1" height="78" fill="url(#g12)" class="l"/>
<rect x="458" y="57" width="1" height="78" fill="url(#g6)" class="l"/>
<rect x="459" y="57" width="1" height="78" fill="url(#g6)" class="l"/>
<rect x="460" y="57" width="1" height="78" fill="url(#g14)" class="l"/>
<rect x="461" y="57" width="1" height="78" fill="url(#g6)" class="l"/>
<rect x="462" y="57" width="1" height="78" fill="url(#g19)" class="l"/>
<rect x="463" y="57" width="1" height="78" fill="url(#g6)" class="l"/>
<rect x="464" y="57" width="1" height="78" fill="url(#g4)" class="l"/>
<rect x="465" y="57" width="1" height="78" fill="url(#g4)" class="l"/>
<rect x="466" y="57" width="1" height="78" fill="url(#g19)" class="l"/>
<rect x="467" y="57" width="1" height="78" fill="url(#g4)" class="l"/>
<rect x="468" y="57" width="1" height="78" fill="url(#g9)" class="l"/>
<rect x="469" y="57" width="1" height="78" fill="url(#g12)" class="l"/>
<rect x="470" y="57" width="1" height="78" fill="url(#g14)" class="l"/>
<rect x="471" y="57" width="1" height="78" fill="url(#g13)" class="l"/>
<rect x="472" y="57" width="1" height="78" fill="url(#g2)" class="l"/>
<rect x="473" y="57" width="1" height="78" fill="url(#g3)" class="l"/>
<rect x="474" y="57" width="1" height="78" fill="url(#g1)" class="l"/>
<rect x="475" y="57" width="1" height="78" fill="url(#g6)" class="l"/>
<rect x="476" y="57" width="1" height="78" fill="url(#g14)" class="l"/>
<rect x="477" y="57" width="1" height="78" fill="url(#g3)" class="l"/>
<rect x="478" y="57" width="1" height="78" fill="url(#g13)" class="l"/>
<rect x="479" y="57" width="1" height="78" fill="url(#g5)" class="l"/>
<rect x="480" y="57" width="1" height="78" fill="url(#g24)" class="l"/>
<rect x="481" y="57" width="1" height="78" fill="url(#g18)" class="l"/>
<rect x="482" y="57" width="1" height="78" fill="url(#g20)" class="l"/>
<rect x="483" y="57" width="1" height="78" fill="url(#g9)" class="l"/>
<rect x="484" y="57" width="1" height="78" fill="url(#g12)" class="l"/>
<rect x="485" y="57" width="1" height="78" fill="url(#g17)" class="l"/>
<rect x="486" y="57" width="1" height="78" fill="url(#g5)" class="l"/>
<rect x="487" y="57" width="1" height="78" fill="url(#g13)" class="l"/>
<rect x="488" y="57" width="1" height="78" fill="url(#g16)" class="l"/>
<rect x="489" y="57" width="1" height="78" fill="url(#g15)" class="l"/>
<rect x="490" y="57" width="1" height="78" fill="url(#g11)" class="l"/>
<rect x="491" y="57" width="1" height="78" fill="url(#g6)" class="l"/>
<rect x="492" y="57" width="1" height="78" fill="url(#g20)" class="l"/>
<rect x="493" y="57" width="1" height="78" fill="url(#g1)" class="l"/>
<rect x="494" y="57" width="1" height="78" fill="url(#g2)" class="l"/>
<rect x="495" y="57" width="1" height="78" fill="url(#g17)" class="l"/>
<rect x="496" y="57" width="1" height="78" fill="url(#g14)" class="l"/>
<rect x="497" y="57" width="1" height="78" fill="url(#g2)" class="l"/>
<rect x="498" y="57" width="1" height="78" fill="url(#g11)" class="l"/>
<rect x="499" y="57" width="1" height="78" fill="url(#g3)" class="l"/>
<rect x="250" y="57" width="1" height="78" fill="url(#g25)" class="l"/>
<rect x="251" y="57" width="1" height="78" fill="url(#g26)" class="l"/>
<rect x="252" y="57" width="1" height="78" fill="url(#g27)" class="l"/>
<rect x="253" y="57" width="1" height="78" fill="url(#g28)" class="l"/>
<rect x="254" y="57" width="1" height="78" fill="url(#g29)" class="l"/>
<rect x="255" y="57" width="1" height="78" fill="url(#g30)" class="l"/>
<rect x="256" y="57" width="1" height="78" fill="url(#g31)" class="l"/>
<rect x="257" y="57" width="1" height="78" fill="url(#g32)" class="l"/>
<rect x="258" y="57" width="1" height="78" fill="url(#g33)" class="l"/>
<rect x="259" y="57" width="1" height="78" fill="url(#g28)" class="l"/>
<rect x="260" y="57" width="1" height="78" fill="url(#g29)" class="l"/>
<rect x="261" y="57" width="1" height="78" fill="url(#g34)" class="l"/>
<rect x="262" y="57" width="1" height="78" fill="url(#g35)" class="l"/>
<rect x="263" y="57" width="1" height="78" fill="url(#g25)" class="l"/>
<rect x="264" y="57" width="1" height="78" fill="url(#g36)" class="l"/>
<rect x="265" y="57" width="1" height="78" fill="url(#g30)" class="l"/>
<rect x="266" y="57" width="1" height="78" fill="url(#g31)" class="l"/>
<rect x="267" y="57" width="1" height="78" fill="url(#g31)" class="l"/>
<rect x="268" y="57" width="1" height="78" fill="url(#g34)" class="l"/>
<rect x="269" y="57" width="1" height="78" fill="url(#g35)" class="l"/>
<rect x="270" y="57" width="1" height="78" fill="url(#g30)" class="l"/>
<rect x="271" y="57" width="1" height="78" fill="url(#g28)" class="l"/>
<rect x="272" y="57" width="1" height="78" fill="url(#g36)" class="l"/>
<rect x="273" y="57" width="1" height="78" fill="url(#g25)" class="l"/>
<rect x="274" y="57" width="1" height="78" fill="url(#g25)" class="l"/>
<rect x="275" y="57" width="1" height="78" fill="url(#g37)" class="l"/>
<rect x="276" y="57" width="1" height="78" fill="url(#g28)" class="l"/>
<rect x="277" y="57" width="1" height="78" fill="url(#g25)" class="l"/>
<rect x="278" y="57" width="1" height="78" fill="url(#g25)" class="l"/>
<rect x="279" y="57" width="1" height="78" fill="url(#g28)" class="l"/>
<rect x="280" y="57" width="1" height="78" fill="url(#g35)" class="l"/>
<rect x="281" y="57" width="1" height="78" fill="url(#g38)" class="l"/>
<rect x="282" y="57" width="1" height="78" fill="url(#g33)" class="l"/>
<rect x="283" y="57" width="1" height="78" fill="url(#g29)" class="l"/>
<rect x="284" y="57" width="1" height="78" fill="url(#g26)" class="l"/>
<rect x="285" y="57" width="1" height="78" fill="url(#g39)" class="l"/>
<rect x="286" y="57" width="1" height="78" fill="url(#g40)" class="l"/>
<rect x="287" y="57" width="1" height="78" fill="url(#g25)" class="l"/>
<rect x="288" y="57" width="1" height="78" fill="url(#g31)" class="l"/>
<rect x="289" y="57" width="1" height="78" fill="url(#g28)" class="l"/>
<rect x="290" y="57" width="1" height="78" fill="url(#g41)" class="l"/>
<rect x="291" y="57" width="1" height="78" fill="url(#g25)" class="l"/>
<rect x="292" y="57" width="1" height="78" fill="url(#g41)" class="l"/>
<rect x="293" y="57" width="1" height="78" fill="url(#g31)" class="l"/>
<rect x="294" y="57" width="1" height="78" fill="url(#g31)" class="l"/>
<rect x="295" y="57" width="1" height="78" fill="url(#g42)" class="l"/>
<rect x="296" y="57" width="1" height="78" fill="url(#g28)" class="l"/>
<rect x="297" y="57" width="1" height="78" fill="url(#g28)" class="l"/>
<rect x="298" y="57" width="1" height="78" fill="url(#g30)" class="l"/>
<rect x="299" y="57" width="1" height="78" fill="url(#g33)" class="l"/>
<rect x="300" y="57" width="1" height="78" fill="url(#g31)" class="l"/>
<rect x="301" y="57" width="1" height="78" fill="url(#g43)" class="l"/>
<rect x="302" y="57" width="1" height="78" fill="url(#g28)" class="l"/>
<rect x="303" y="57" width="1" height="78" fill="url(#g25)" class="l"/>
<rect x="304" y="57" width="1" height="78" fill="url(#g28)" class="l"/>
<rect x="305" y="57" width="1" height="78" fill="url(#g31)" class="l"/>
<rect x="306" y="57" width="1" height="78" fill="url(#g43)" class="l"/>
<rect x="307" y="57" width="1" height="78" fill="url(#g36)" class="l"/>
<rect x="308" y="57" width="1" height="78" fill="url(#g30)" class="l"/>
<rect x="309" y="57" width="1" height="78" fill="url(#g26)" class="l"/>
<rect x="310" y="57" width="1" height="78" fill="url(#g33)" class="l"/>
<rect x="311" y="57" width="1" height="78" fill="url(#g40)" class="l"/>
<rect x="312" y="57" width="1" height="78" fill="url(#g25)" class="l"/>
<rect x="313" y="57" width="1" height="78" fill="url(#g40)" class="l"/>
<rect x="314" y="57" width="1" height="78" fill="url(#g41)" class="l"/>
<rect x="315" y="57" width="1" height="78" fill="url(#g25)" class="l"/>
<rect x="316" y="57" width="1" height="78" fill="url(#g25)" class="l"/>
<rect x="317" y="57" width="1" height="78" fill="url(#g33)" class="l"/>
<rect x="318" y="57" width="1" height="78" fill="url(#g28)" class="l"/>
<rect x="319" y="57" width="1" height="78" fill="url(#g41)" class="l"/>
<rect x="320" y="57" width="1" height="78" fill="url(#g29)" class="l"/>
<rect x="321" y="57" width="1" height="78" fill="url(#g36)" class="l"/>
<rect x="322" y="57" width="1" height="78" fill="url(#g31)" class="l"/>
<rect x="323" y="57" width="1" height="78" fill="url(#g36)" class="l"/>
<rect x="324" y="57" width="1" height="78" fill="url(#g40)" class="l"/>
<rect x="325" y="57" width="1" height="78" fill="url(#g34)" class="l"/>
<rect x="326" y="57" width="1" height="78" fill="url(#g31)" class="l"/>
<rect x="327" y="57" width="1" height="78" fill="url(#g33)" class="l"/>
<rect x="328" y="57" width="1" height="78" fill="url(#g31)" class="l"/>
<rect x="329" y="57" width="1" height="78" fill="url(#g40)" class="l"/>
<rect x="330" y="57" width="1" height="78" fill="url(#g33)" class="l"/>
<rect x="331" y="57" width="1" height="78" fill="url(#g28)" class="l"/>
<rect x="332" y="57" width="1" height="78" fill="url(#g31)" class="l"/>
<rect x="333" y="57" width="1" height="78" fill="url(#g30)" class="l"/>
<rect x="334" y="57" width="1" height="78" fill="url(#g43)" class="l"/>
<rect x="335" y="57" width="1" height="78" fill="url(#g40)" class="l"/>
<rect x="336" y="57" width="1" height="78" fill="url(#g36)" class="l"/>
<rect x="337" y="57" width="1" height="78" fill="url(#g31)" class="l"/>
<rect x="338" y="57" width="1" height="78" fill="url(#g25)" class="l"/>
<rect x="339" y="57" width="1" height="78" fill="url(#g26)" class="l"/>
<rect x="340" y="57" width="1" height="78" fill="url(#g30)" class="l"/>
<rect x="341" y="57" width="1" height="78" fill="url(#g36)" class="l"/>
<rect x="342" y="57" width="1" height="78" fill="url(#g26)" class="l"/>
<rect x="343" y="57" width="1" height="78" fill="url(#g40)" class="l"/>
<rect x="344" y="57" width="1" height="78" fill="url(#g28)" class="l"/>
<rect x="404.5" y="57" width="39" height="70" fill="#151515" class="d"/>
<rect x="416.8" y="57" width="2.6" height="70" fill="#0f0f0f" class="d"/>
<rect x="421.2" y="57" width="3.2" height="70" fill="#0f0f0f" class="d"/>
<rect x="459.5" y="57" width="3.5" height="66" fill="#1a1a1a" class="d"/>
<rect x="81" y="57" width="1.2" height="78" fill="url(#g44)" class="l"/>
<path d="M84.4 57L83 61L82 135L86.4 135L85.8 61Z" fill="url(#g45)" class="l"/>
<path d="M86.3 57L85.6 71L86 135L88.6 135L87 71Z" fill="url(#g46)" class="l"/>
<rect x="88.4" y="57" width="1" height="78" fill="url(#g47)" class="l"/>
<path d="M148.8 57L148 60L146.7 135L150.3 135L149.6 60Z" fill="url(#g48)" class="l"/>
<path d="M148.8 57L148.2 63L146 135L150.9 135L149.4 63Z" fill="url(#g49)" class="l"/>
<path d="M159 57L158.2 58L157.7 135L160.2 135L159.8 58Z" fill="url(#g50)" class="l"/>
<path d="M159 57L158.4 63L157 135L160.9 135L159.6 63Z" fill="url(#g51)" class="l"/>
<path d="M165.8 57L165.2 74L164.7 135L167.2 135L166.4 74Z" fill="url(#g52)" class="l"/>
<rect x="160.6" y="124.5" width="4.4" height="7.5" fill="#6b6b6b" class="l"/>
<path d="M174.8 57L174.4 63L172.7 135L175.2 135L175.2 63Z" fill="url(#g53)" class="l"/>
<path d="M176.2 57L175 61L175 135L178.3 135L177.4 61Z" fill="url(#g54)" class="l"/>
<path d="M176 57L174.5 64L172.1 135L178.9 135L177.5 64Z" fill="url(#g55)" class="l"/>
<rect x="210.4" y="57" width="1.6" height="78" fill="url(#g56)" class="l"/>
<path d="M214.6 57L214 62L213.4 135L215.8 135L215.2 62Z" fill="url(#g57)" class="l"/>
<path d="M217.7 57L217.2 62L216.6 135L218.7 135L218.2 62Z" fill="url(#g58)" class="l"/>
<rect x="220" y="57" width="1.2" height="78" fill="url(#g59)" class="l"/>
<rect x="222.2" y="57" width="1.2" height="78" fill="url(#g60)" class="l"/>
<path d="M228.4 57L228 75L227.6 135L229 135L228.8 75Z" fill="url(#g61)" class="l"/>
<rect x="229.6" y="57" width="0.8" height="78" fill="url(#g62)" class="l"/>
<path d="M231.6 57L231.2 73L230.8 135L232.3 135L232 73Z" fill="url(#g63)" class="l"/>
<path d="M233.6 57L233.2 83L232.8 135L234.8 135L234 83Z" fill="url(#g64)" class="l"/>
<rect x="227" y="126" width="8" height="6" fill="#616161" class="l"/>
<rect x="212" y="129" width="15" height="3" fill="#4c4c4c" class="l"/>
<rect x="266.6" y="57" width="2" height="78" fill="url(#g65)" class="l"/>
<path d="M271.5 57L271 71L270.5 135L272.5 135L272 71Z" fill="url(#g66)" class="l"/>
<rect x="272.8" y="57" width="2.2" height="78" fill="url(#g67)" class="l"/>
<rect x="290" y="57" width="1" height="78" fill="url(#g68)" class="l"/>
<rect x="291" y="57" width="1" height="78" fill="url(#g69)" class="l"/>
<rect x="292" y="57" width="1" height="78" fill="url(#g70)" class="l"/>
<rect x="293" y="57" width="1" height="78" fill="url(#g71)" class="l"/>
<rect x="294" y="57" width="1" height="78" fill="url(#g72)" class="l"/>
<rect x="295" y="57" width="1" height="78" fill="url(#g73)" class="l"/>
<rect x="296" y="57" width="1" height="78" fill="url(#g74)" class="l"/>
<rect x="297" y="57" width="1" height="78" fill="url(#g75)" class="l"/>
<rect x="298" y="57" width="1" height="78" fill="url(#g76)" class="l"/>
<rect x="299" y="57" width="1" height="78" fill="url(#g77)" class="l"/>
<rect x="300" y="57" width="1" height="78" fill="url(#g78)" class="l"/>
<rect x="301" y="57" width="1" height="78" fill="url(#g79)" class="l"/>
<rect x="302" y="57" width="1" height="78" fill="url(#g80)" class="l"/>
<rect x="303" y="57" width="1" height="78" fill="url(#g81)" class="l"/>
<rect x="304" y="57" width="1" height="78" fill="url(#g82)" class="l"/>
<rect x="305" y="57" width="1" height="78" fill="url(#g83)" class="l"/>
<rect x="306" y="57" width="1" height="78" fill="url(#g84)" class="l"/>
<rect x="307" y="57" width="1" height="78" fill="url(#g85)" class="l"/>
<rect x="308" y="57" width="1" height="78" fill="url(#g86)" class="l"/>
<rect x="309" y="57" width="1" height="78" fill="url(#g87)" class="l"/>
<rect x="310" y="57" width="1" height="78" fill="url(#g88)" class="l"/>
<rect x="311" y="57" width="1" height="78" fill="url(#g89)" class="l"/>
<rect x="312" y="57" width="1" height="78" fill="url(#g90)" class="l"/>
<rect x="313" y="57" width="1" height="78" fill="url(#g91)" class="l"/>
<rect x="314" y="57" width="1" height="78" fill="url(#g92)" class="l"/>
<rect x="315" y="57" width="1" height="78" fill="url(#g93)" class="l"/>
<rect x="316" y="57" width="1" height="78" fill="url(#g94)" class="l"/>
<rect x="317" y="57" width="1" height="78" fill="url(#g95)" class="l"/>
<rect x="318" y="57" width="1" height="78" fill="url(#g96)" class="l"/>
<rect x="319" y="57" width="1" height="78" fill="url(#g97)" class="l"/>
<rect x="320" y="57" width="1" height="78" fill="url(#g98)" class="l"/>
<rect x="321" y="57" width="1" height="78" fill="url(#g99)" class="l"/>
<rect x="322" y="57" width="1" height="78" fill="url(#g100)" class="l"/>
<rect x="323" y="57" width="1" height="78" fill="url(#g101)" class="l"/>
<rect x="324" y="57" width="1" height="78" fill="url(#g102)" class="l"/>
<rect x="325" y="57" width="1" height="78" fill="url(#g103)" class="l"/>
<rect x="326" y="57" width="1" height="78" fill="url(#g104)" class="l"/>
<rect x="327" y="57" width="1" height="78" fill="url(#g105)" class="l"/>
<rect x="328" y="57" width="1" height="78" fill="url(#g106)" class="l"/>
<rect x="329" y="57" width="1" height="78" fill="url(#g107)" class="l"/>
<rect x="330" y="57" width="1" height="78" fill="url(#g108)" class="l"/>
<rect x="331" y="57" width="1" height="78" fill="url(#g109)" class="l"/>
<rect x="332" y="57" width="1" height="78" fill="url(#g110)" class="l"/>
<rect x="333" y="57" width="1" height="78" fill="url(#g111)" class="l"/>
<rect x="334" y="57" width="1" height="78" fill="url(#g112)" class="l"/>
<rect x="335" y="57" width="1" height="78" fill="url(#g113)" class="l"/>
<rect x="336" y="57" width="1" height="78" fill="url(#g114)" class="l"/>
<rect x="337" y="57" width="1" height="78" fill="url(#g115)" class="l"/>
<rect x="338" y="57" width="1" height="78" fill="url(#g116)" class="l"/>
<rect x="339" y="57" width="1" height="78" fill="url(#g117)" class="l"/>
<rect x="340" y="57" width="1" height="78" fill="url(#g118)" class="l"/>
<rect x="341" y="57" width="1" height="78" fill="url(#g119)" class="l"/>
<rect x="342" y="57" width="1" height="78" fill="url(#g120)" class="l"/>
<rect x="343" y="57" width="1" height="78" fill="url(#g121)" class="l"/>
<rect x="344" y="57" width="1" height="78" fill="url(#g122)" class="l"/>
<rect x="305" y="131" width="21" height="1.5" fill="#b3b3b3" class="l"/>
<path d="M315.3 57L314.8 103L314.3 135L316.4 135L315.8 103Z" fill="url(#g123)" class="l"/>
<rect x="323.4" y="57" width="1.2" height="78" fill="url(#g124)" class="l"/>
<path d="M333.6 57L333 71L332.4 135L334.8 135L334.2 71Z" fill="url(#g125)" class="l"/>
<rect x="328" y="57" width="1" height="78" fill="url(#g126)" class="l"/>
<rect x="329" y="57" width="1" height="78" fill="url(#g127)" class="l"/>
<rect x="330" y="57" width="1" height="78" fill="url(#g128)" class="l"/>
<rect x="331" y="57" width="1" height="78" fill="url(#g129)" class="l"/>
<rect x="332" y="57" width="1" height="78" fill="url(#g130)" class="l"/>
<rect x="333" y="57" width="1" height="78" fill="url(#g131)" class="l"/>
<rect x="334" y="57" width="1" height="78" fill="url(#g132)" class="l"/>
<rect x="335" y="57" width="1" height="78" fill="url(#g133)" class="l"/>
<rect x="336" y="57" width="1" height="78" fill="url(#g134)" class="l"/>
<rect x="337" y="57" width="1" height="78" fill="url(#g135)" class="l"/>
<rect x="338" y="57" width="1" height="78" fill="url(#g136)" class="l"/>
<rect x="339" y="57" width="1" height="78" fill="url(#g137)" class="l"/>
<rect x="340" y="57" width="1" height="78" fill="url(#g138)" class="l"/>
<rect x="341.3" y="57" width="0.6" height="78" fill="url(#g139)" class="l"/>
<rect x="341.7" y="57" width="1.6" height="78" fill="url(#g140)" class="l"/>
<rect x="343.2" y="57" width="0.5" height="78" fill="url(#g141)" class="l"/>
<path d="M342.5 57L341.8 126L340.8 135L344.4 135L343.2 126Z" fill="url(#g142)" class="l"/>
<rect x="345" y="57" width="2" height="78" fill="url(#g143)" class="l"/>
<rect x="347" y="57" width="1" height="78" fill="url(#g144)" class="l"/>
<rect x="348" y="57" width="1" height="78" fill="url(#g145)" class="l"/>
<rect x="349" y="57" width="1" height="78" fill="url(#g146)" class="l"/>
<rect x="350" y="57" width="1" height="78" fill="url(#g147)" class="l"/>
<rect x="351" y="57" width="1" height="78" fill="url(#g148)" class="l"/>
<rect x="352" y="57" width="1" height="78" fill="url(#g149)" class="l"/>
<rect x="353" y="57" width="1" height="78" fill="url(#g150)" class="l"/>
<rect x="354" y="57" width="1" height="78" fill="url(#g151)" class="l"/>
<rect x="355" y="57" width="1" height="78" fill="url(#g152)" class="l"/>
<rect x="356" y="57" width="1" height="78" fill="url(#g153)" class="l"/>
<rect x="357" y="57" width="1" height="78" fill="url(#g154)" class="l"/>
<rect x="358" y="57" width="1" height="78" fill="url(#g155)" class="l"/>
<rect x="359" y="57" width="1" height="78" fill="url(#g156)" class="l"/>
<path d="M361 57L360.4 79L359.8 135L362.4 135L361.6 79Z" fill="url(#g157)" class="l"/>
<path d="M366.4 57L365.9 67L365.4 135L367.4 135L366.9 67Z" fill="url(#g158)" class="l"/>
<rect x="367" y="57" width="1" height="78" fill="url(#g159)" class="l"/>
<rect x="368" y="57" width="1" height="78" fill="url(#g160)" class="l"/>
<rect x="369" y="57" width="1" height="78" fill="url(#g161)" class="l"/>
<rect x="370" y="57" width="1" height="78" fill="url(#g162)" class="l"/>
<rect x="371" y="57" width="1" height="78" fill="url(#g163)" class="l"/>
<rect x="372" y="57" width="1" height="78" fill="url(#g164)" class="l"/>
<path d="M374.2 57L373.4 79L372.8 135L375.8 135L375 79Z" fill="url(#g165)" class="l"/>
<rect x="375.6" y="57" width="0.4" height="78" fill="url(#g166)" class="l"/>
<rect x="376" y="57" width="1" height="78" fill="url(#g167)" class="l"/>
<rect x="377" y="57" width="1" height="78" fill="url(#g168)" class="l"/>
<rect x="378" y="57" width="1" height="78" fill="url(#g169)" class="l"/>
<rect x="379" y="57" width="1" height="78" fill="url(#g170)" class="l"/>
<rect x="380" y="57" width="1" height="78" fill="url(#g171)" class="l"/>
<rect x="381" y="57" width="1" height="78" fill="url(#g172)" class="l"/>
<rect x="382" y="57" width="1" height="78" fill="url(#g173)" class="l"/>
<rect x="383" y="57" width="1" height="78" fill="url(#g174)" class="l"/>
<rect x="384" y="57" width="1" height="78" fill="url(#g175)" class="l"/>
<rect x="385" y="57" width="1" height="78" fill="url(#g176)" class="l"/>
<rect x="386" y="57" width="1" height="78" fill="url(#g177)" class="l"/>
<rect x="387" y="57" width="1" height="78" fill="url(#g178)" class="l"/>
<rect x="388" y="57" width="1" height="78" fill="url(#g179)" class="l"/>
<rect x="389" y="57" width="1" height="78" fill="url(#g180)" class="l"/>
<rect x="390" y="57" width="1" height="78" fill="url(#g181)" class="l"/>
<rect x="391" y="57" width="1" height="78" fill="url(#g182)" class="l"/>
<rect x="392" y="57" width="1" height="78" fill="url(#g183)" class="l"/>
<rect x="393" y="57" width="1" height="78" fill="url(#g184)" class="l"/>
<rect x="394" y="57" width="1" height="78" fill="url(#g185)" class="l"/>
<rect x="395" y="57" width="1" height="78" fill="url(#g186)" class="l"/>
<rect x="396" y="57" width="1" height="78" fill="url(#g187)" class="l"/>
<rect x="397" y="57" width="1" height="78" fill="url(#g188)" class="l"/>
<rect x="398" y="57" width="1" height="78" fill="url(#g189)" class="l"/>
<rect x="399" y="57" width="1" height="78" fill="url(#g190)" class="l"/>
<rect x="383.5" y="57" width="1" height="78" fill="url(#g191)" class="l"/>
<rect x="387.2" y="57" width="1.2" height="78" fill="url(#g192)" class="l"/>
<rect x="390.5" y="57" width="0.9" height="78" fill="url(#g193)" class="l"/>
<rect x="394" y="57" width="1.2" height="78" fill="url(#g194)" class="l"/>
<rect x="400" y="57" width="1" height="78" fill="url(#g195)" class="l"/>
<rect x="401" y="57" width="1" height="78" fill="url(#g196)" class="l"/>
<rect x="402" y="57" width="1" height="78" fill="url(#g197)" class="l"/>
<rect x="403" y="57" width="1" height="78" fill="url(#g198)" class="l"/>
<rect x="404" y="57" width="0.5" height="78" fill="url(#g199)" class="l"/>
<rect x="404.5" y="57" width="0.5" height="78" fill="url(#g200)" class="l"/>
<rect x="405" y="57" width="1" height="78" fill="url(#g201)" class="l"/>
<rect x="406" y="57" width="1" height="78" fill="url(#g202)" class="l"/>
<rect x="407" y="57" width="1" height="78" fill="url(#g203)" class="l"/>
<rect x="408" y="57" width="1" height="78" fill="url(#g204)" class="l"/>
<rect x="409" y="57" width="1" height="78" fill="url(#g205)" class="l"/>
<rect x="410" y="57" width="1" height="78" fill="url(#g206)" class="l"/>
<rect x="411" y="57" width="1" height="78" fill="url(#g207)" class="l"/>
<rect x="412" y="57" width="1" height="78" fill="url(#g208)" class="l"/>
<rect x="413" y="57" width="1" height="78" fill="url(#g209)" class="l"/>
<rect x="414" y="57" width="1" height="78" fill="url(#g210)" class="l"/>
<rect x="415" y="57" width="1" height="78" fill="url(#g211)" class="l"/>
<rect x="416" y="57" width="1" height="78" fill="url(#g212)" class="l"/>
<rect x="417" y="57" width="1" height="78" fill="url(#g213)" class="l"/>
<rect x="418" y="57" width="1" height="78" fill="url(#g214)" class="l"/>
<rect x="419.6" y="57" width="1.4" height="78" fill="url(#g215)"/>
<rect x="443.7" y="57" width="1.7" height="78" fill="url(#g216)"/>
<rect x="445.4" y="57" width="0.6" height="78" fill="url(#g217)" class="l"/>
<rect x="446" y="57" width="1" height="78" fill="url(#g218)" class="l"/>
<rect x="447" y="57" width="1" height="78" fill="url(#g219)" class="l"/>
<rect x="448" y="57" width="1" height="78" fill="url(#g220)" class="l"/>
<rect x="449" y="57" width="1" height="78" fill="url(#g221)" class="l"/>
<rect x="450" y="57" width="1" height="78" fill="url(#g222)" class="l"/>
<rect x="451" y="57" width="1" height="78" fill="url(#g223)" class="l"/>
<rect x="452" y="57" width="1" height="78" fill="url(#g224)" class="l"/>
<rect x="453" y="57" width="1" height="78" fill="url(#g225)" class="l"/>
<rect x="454" y="57" width="1" height="78" fill="url(#g226)" class="l"/>
<rect x="455" y="57" width="1" height="78" fill="url(#g227)" class="l"/>
<rect x="456" y="57" width="1" height="78" fill="url(#g228)" class="l"/>
<rect x="457" y="57" width="1" height="78" fill="url(#g229)" class="l"/>
<rect x="458" y="57" width="1" height="78" fill="url(#g230)" class="l"/>
<rect x="459" y="57" width="0.2" height="78" fill="url(#g231)" class="l"/>
<rect x="456.8" y="57" width="1.2" height="78" fill="url(#g232)" class="l"/>
<rect x="444" y="128.5" width="15.2" height="4.5" fill="#fefefe" class="l"/>
<rect x="459.2" y="57" width="0.8" height="78" fill="url(#g233)" class="l"/>
<rect x="460" y="57" width="1" height="78" fill="url(#g234)" class="l"/>
<rect x="461" y="57" width="1" height="78" fill="url(#g235)" class="l"/>
<rect x="462" y="57" width="1" height="78" fill="url(#g236)" class="l"/>
<rect x="463" y="57" width="0.5" height="78" fill="url(#g237)" class="l"/>
<rect x="463.5" y="57" width="0.5" height="78" fill="url(#g238)" class="l"/>
<rect x="464" y="57" width="1" height="78" fill="url(#g239)" class="l"/>
<rect x="465" y="57" width="1" height="78" fill="url(#g240)" class="l"/>
<rect x="466" y="57" width="1" height="78" fill="url(#g241)" class="l"/>
<rect x="467" y="57" width="1" height="78" fill="url(#g242)" class="l"/>
<rect x="468" y="57" width="1" height="78" fill="url(#g243)" class="l"/>
<rect x="469" y="57" width="1" height="78" fill="url(#g244)" class="l"/>
<rect x="470" y="57" width="0.9" height="78" fill="url(#g245)" class="l"/>
<rect x="469.5" y="57" width="1.4" height="78" fill="url(#g246)" class="l"/>
<rect x="477.7" y="57" width="0.3" height="78" fill="url(#g247)" class="l"/>
<rect x="478" y="57" width="1" height="78" fill="url(#g248)" class="l"/>
<rect x="479" y="57" width="1" height="78" fill="url(#g249)" class="l"/>
<rect x="480" y="57" width="1" height="78" fill="url(#g250)" class="l"/>
<rect x="481" y="57" width="1" height="78" fill="url(#g251)" class="l"/>
<rect x="482" y="57" width="1" height="78" fill="url(#g252)" class="l"/>
<rect x="483" y="57" width="1" height="78" fill="url(#g253)" class="l"/>
<rect x="484" y="57" width="1" height="78" fill="url(#g254)" class="l"/>
<rect x="485" y="57" width="1" height="78" fill="url(#g255)" class="l"/>
<rect x="486" y="57" width="0.2" height="78" fill="url(#g256)" class="l"/>
<rect x="488" y="57" width="1.9" height="78" fill="url(#g257)"/>
<rect x="490" y="57" width="1" height="78" fill="url(#g258)" class="l"/>
<rect x="491" y="57" width="1" height="78" fill="url(#g259)" class="l"/>
<rect x="492" y="57" width="1" height="78" fill="url(#g260)" class="l"/>
<rect x="493" y="57" width="1" height="78" fill="url(#g261)" class="l"/>
<rect x="494" y="57" width="1" height="78" fill="url(#g262)" class="l"/>
<rect x="495" y="57" width="1" height="78" fill="url(#g263)" class="l"/>
<rect x="496" y="57" width="1" height="78" fill="url(#g264)" class="l"/>
<rect x="497" y="57" width="1" height="78" fill="url(#g265)" class="l"/>
<rect x="498" y="57" width="1" height="78" fill="url(#g266)" class="l"/>
<rect x="499" y="57" width="1" height="78" fill="url(#g267)" class="l"/>
<rect x="80" y="132.1" width="420" height="1.9" fill="#9e9e9e" class="l"/></g>
<rect x="470.9" y="57" width="6.8" height="77" fill="#000"/><rect x="486.2" y="57" width="1.7" height="77" fill="#000"/>
<g filter="url(#f1)"><rect x="80" y="153" width="421" height="78" fill="url(#g0)"/>
<rect x="81" y="153" width="1" height="78" fill="url(#g1)" class="l"/>
<rect x="82" y="153" width="1" height="78" fill="url(#g7)" class="l"/>
<rect x="83" y="153" width="1" height="78" fill="url(#g24)" class="l"/>
<rect x="84" y="153" width="1" height="78" fill="url(#g13)" class="l"/>
<rect x="85" y="153" width="1" height="78" fill="url(#g7)" class="l"/>
<rect x="86" y="153" width="1" height="78" fill="url(#g3)" class="l"/>
<rect x="87" y="153" width="1" height="78" fill="url(#g16)" class="l"/>
<rect x="88" y="153" width="1" height="78" fill="url(#g9)" class="l"/>
<rect x="89" y="153" width="1" height="78" fill="url(#g6)" class="l"/>
<rect x="90" y="153" width="1" height="78" fill="url(#g6)" class="l"/>
<rect x="91" y="153" width="1" height="78" fill="url(#g12)" class="l"/>
<rect x="92" y="153" width="1" height="78" fill="url(#g11)" class="l"/>
<rect x="93" y="153" width="1" height="78" fill="url(#g6)" class="l"/>
<rect x="94" y="153" width="1" height="78" fill="url(#g3)" class="l"/>
<rect x="95" y="153" width="1" height="78" fill="url(#g23)" class="l"/>
<rect x="96" y="153" width="1" height="78" fill="url(#g6)" class="l"/>
<rect x="97" y="153" width="1" height="78" fill="url(#g16)" class="l"/>
<rect x="98" y="153" width="1" height="78" fill="url(#g19)" class="l"/>
<rect x="99" y="153" width="1" height="78" fill="url(#g7)" class="l"/>
<rect x="100" y="153" width="1" height="78" fill="url(#g9)" class="l"/>
<rect x="101" y="153" width="1" height="78" fill="url(#g21)" class="l"/>
<rect x="102" y="153" width="1" height="78" fill="url(#g19)" class="l"/>
<rect x="103" y="153" width="1" height="78" fill="url(#g21)" class="l"/>
<rect x="104" y="153" width="1" height="78" fill="url(#g20)" class="l"/>
<rect x="105" y="153" width="1" height="78" fill="url(#g8)" class="l"/>
<rect x="106" y="153" width="1" height="78" fill="url(#g18)" class="l"/>
<rect x="107" y="153" width="1" height="78" fill="url(#g7)" class="l"/>
<rect x="108" y="153" width="1" height="78" fill="url(#g6)" class="l"/>
<rect x="109" y="153" width="1" height="78" fill="url(#g18)" class="l"/>
<rect x="110" y="153" width="1" height="78" fill="url(#g14)" class="l"/>
<rect x="111" y="153" width="1" height="78" fill="url(#g6)" class="l"/>
<rect x="112" y="153" width="1" height="78" fill="url(#g21)" class="l"/>
<rect x="113" y="153" width="1" height="78" fill="url(#g4)" class="l"/>
<rect x="114" y="153" width="1" height="78" fill="url(#g21)" class="l"/>
<rect x="115" y="153" width="1" height="78" fill="url(#g6)" class="l"/>
<rect x="116" y="153" width="1" height="78" fill="url(#g9)" class="l"/>
<rect x="117" y="153" width="1" height="78" fill="url(#g6)" class="l"/>
<rect x="118" y="153" width="1" height="78" fill="url(#g18)" class="l"/>
<rect x="119" y="153" width="1" height="78" fill="url(#g6)" class="l"/>
<rect x="120" y="153" width="1" height="78" fill="url(#g4)" class="l"/>
<rect x="121" y="153" width="1" height="78" fill="url(#g1)" class="l"/>
<rect x="122" y="153" width="1" height="78" fill="url(#g1)" class="l"/>
<rect x="123" y="153" width="1" height="78" fill="url(#g9)" class="l"/>
<rect x="124" y="153" width="1" height="78" fill="url(#g18)" class="l"/>
<rect x="125" y="153" width="1" height="78" fill="url(#g14)" class="l"/>
<rect x="126" y="153" width="1" height="78" fill="url(#g24)" class="l"/>
<rect x="127" y="153" width="1" height="78" fill="url(#g14)" class="l"/>
<rect x="128" y="153" width="1" height="78" fill="url(#g4)" class="l"/>
<rect x="129" y="153" width="1" height="78" fill="url(#g6)" class="l"/>
<rect x="130" y="153" width="1" height="78" fill="url(#g8)" class="l"/>
<rect x="131" y="153" width="1" height="78" fill="url(#g3)" class="l"/>
<rect x="132" y="153" width="1" height="78" fill="url(#g12)" class="l"/>
<rect x="133" y="153" width="1" height="78" fill="url(#g11)" class="l"/>
<rect x="134" y="153" width="1" height="78" fill="url(#g4)" class="l"/>
<rect x="135" y="153" width="1" height="78" fill="url(#g1)" class="l"/>
<rect x="136" y="153" width="1" height="78" fill="url(#g13)" class="l"/>
<rect x="137" y="153" width="1" height="78" fill="url(#g2)" class="l"/>
<rect x="138" y="153" width="1" height="78" fill="url(#g13)" class="l"/>
<rect x="139" y="153" width="1" height="78" fill="url(#g13)" class="l"/>
<rect x="140" y="153" width="1" height="78" fill="url(#g3)" class="l"/>
<rect x="141" y="153" width="1" height="78" fill="url(#g7)" class="l"/>
<rect x="142" y="153" width="1" height="78" fill="url(#g13)" class="l"/>
<rect x="143" y="153" width="1" height="78" fill="url(#g7)" class="l"/>
<rect x="144" y="153" width="1" height="78" fill="url(#g16)" class="l"/>
<rect x="145" y="153" width="1" height="78" fill="url(#g21)" class="l"/>
<rect x="146" y="153" width="1" height="78" fill="url(#g1)" class="l"/>
<rect x="147" y="153" width="1" height="78" fill="url(#g3)" class="l"/>
<rect x="148" y="153" width="1" height="78" fill="url(#g2)" class="l"/>
<rect x="149" y="153" width="1" height="78" fill="url(#g14)" class="l"/>
<rect x="150" y="153" width="1" height="78" fill="url(#g19)" class="l"/>
<rect x="151" y="153" width="1" height="78" fill="url(#g14)" class="l"/>
<rect x="152" y="153" width="1" height="78" fill="url(#g18)" class="l"/>
<rect x="153" y="153" width="1" height="78" fill="url(#g20)" class="l"/>
<rect x="154" y="153" width="1" height="78" fill="url(#g22)" class="l"/>
<rect x="155" y="153" width="1" height="78" fill="url(#g2)" class="l"/>
<rect x="156" y="153" width="1" height="78" fill="url(#g2)" class="l"/>
<rect x="157" y="153" width="1" height="78" fill="url(#g3)" class="l"/>
<rect x="158" y="153" width="1" height="78" fill="url(#g21)" class="l"/>
<rect x="159" y="153" width="1" height="78" fill="url(#g18)" class="l"/>
<rect x="160" y="153" width="1" height="78" fill="url(#g2)" class="l"/>
<rect x="161" y="153" width="1" height="78" fill="url(#g3)" class="l"/>
<rect x="162" y="153" width="1" height="78" fill="url(#g6)" class="l"/>
<rect x="163" y="153" width="1" height="78" fill="url(#g7)" class="l"/>
<rect x="164" y="153" width="1" height="78" fill="url(#g4)" class="l"/>
<rect x="165" y="153" width="1" height="78" fill="url(#g12)" class="l"/>
<rect x="166" y="153" width="1" height="78" fill="url(#g16)" class="l"/>
<rect x="167" y="153" width="1" height="78" fill="url(#g12)" class="l"/>
<rect x="168" y="153" width="1" height="78" fill="url(#g14)" class="l"/>
<rect x="169" y="153" width="1" height="78" fill="url(#g2)" class="l"/>
<rect x="170" y="153" width="1" height="78" fill="url(#g6)" class="l"/>
<rect x="171" y="153" width="1" height="78" fill="url(#g1)" class="l"/>
<rect x="172" y="153" width="1" height="78" fill="url(#g7)" class="l"/>
<rect x="173" y="153" width="1" height="78" fill="url(#g4)" class="l"/>
<rect x="174" y="153" width="1" height="78" fill="url(#g2)" class="l"/>
<rect x="175" y="153" width="1" height="78" fill="url(#g18)" class="l"/>
<rect x="176" y="153" width="1" height="78" fill="url(#g4)" class="l"/>
<rect x="177" y="153" width="1" height="78" fill="url(#g4)" class="l"/>
<rect x="178" y="153" width="1" height="78" fill="url(#g3)" class="l"/>
<rect x="179" y="153" width="1" height="78" fill="url(#g9)" class="l"/>
<rect x="180" y="153" width="1" height="78" fill="url(#g19)" class="l"/>
<rect x="181" y="153" width="1" height="78" fill="url(#g4)" class="l"/>
<rect x="182" y="153" width="1" height="78" fill="url(#g17)" class="l"/>
<rect x="183" y="153" width="1" height="78" fill="url(#g4)" class="l"/>
<rect x="184" y="153" width="1" height="78" fill="url(#g14)" class="l"/>
<rect x="185" y="153" width="1" height="78" fill="url(#g7)" class="l"/>
<rect x="186" y="153" width="1" height="78" fill="url(#g2)" class="l"/>
<rect x="187" y="153" width="1" height="78" fill="url(#g7)" class="l"/>
<rect x="188" y="153" width="1" height="78" fill="url(#g20)" class="l"/>
<rect x="189" y="153" width="1" height="78" fill="url(#g1)" class="l"/>
<rect x="190" y="153" width="1" height="78" fill="url(#g12)" class="l"/>
<rect x="191" y="153" width="1" height="78" fill="url(#g4)" class="l"/>
<rect x="192" y="153" width="1" height="78" fill="url(#g4)" class="l"/>
<rect x="193" y="153" width="1" height="78" fill="url(#g14)" class="l"/>
<rect x="194" y="153" width="1" height="78" fill="url(#g2)" class="l"/>
<rect x="195" y="153" width="1" height="78" fill="url(#g21)" class="l"/>
<rect x="196" y="153" width="1" height="78" fill="url(#g2)" class="l"/>
<rect x="197" y="153" width="1" height="78" fill="url(#g6)" class="l"/>
<rect x="198" y="153" width="1" height="78" fill="url(#g11)" class="l"/>
<rect x="199" y="153" width="1" height="78" fill="url(#g14)" class="l"/>
<rect x="200" y="153" width="1" height="78" fill="url(#g19)" class="l"/>
<rect x="201" y="153" width="1" height="78" fill="url(#g21)" class="l"/>
<rect x="202" y="153" width="1" height="78" fill="url(#g21)" class="l"/>
<rect x="203" y="153" width="1" height="78" fill="url(#g14)" class="l"/>
<rect x="204" y="153" width="1" height="78" fill="url(#g4)" class="l"/>
<rect x="205" y="153" width="1" height="78" fill="url(#g2)" class="l"/>
<rect x="206" y="153" width="1" height="78" fill="url(#g6)" class="l"/>
<rect x="207" y="153" width="1" height="78" fill="url(#g2)" class="l"/>
<rect x="208" y="153" width="1" height="78" fill="url(#g18)" class="l"/>
<rect x="209" y="153" width="1" height="78" fill="url(#g12)" class="l"/>
<rect x="210" y="153" width="1" height="78" fill="url(#g17)" class="l"/>
<rect x="211" y="153" width="1" height="78" fill="url(#g4)" class="l"/>
<rect x="212" y="153" width="1" height="78" fill="url(#g6)" class="l"/>
<rect x="213" y="153" width="1" height="78" fill="url(#g24)" class="l"/>
<rect x="214" y="153" width="1" height="78" fill="url(#g9)" class="l"/>
<rect x="215" y="153" width="1" height="78" fill="url(#g12)" class="l"/>
<rect x="216" y="153" width="1" height="78" fill="url(#g4)" class="l"/>
<rect x="217" y="153" width="1" height="78" fill="url(#g17)" class="l"/>
<rect x="218" y="153" width="1" height="78" fill="url(#g6)" class="l"/>
<rect x="219" y="153" width="1" height="78" fill="url(#g3)" class="l"/>
<rect x="220" y="153" width="1" height="78" fill="url(#g3)" class="l"/>
<rect x="221" y="153" width="1" height="78" fill="url(#g14)" class="l"/>
<rect x="222" y="153" width="1" height="78" fill="url(#g5)" class="l"/>
<rect x="223" y="153" width="1" height="78" fill="url(#g5)" class="l"/>
<rect x="224" y="153" width="1" height="78" fill="url(#g21)" class="l"/>
<rect x="225" y="153" width="1" height="78" fill="url(#g20)" class="l"/>
<rect x="226" y="153" width="1" height="78" fill="url(#g2)" class="l"/>
<rect x="227" y="153" width="1" height="78" fill="url(#g17)" class="l"/>
<rect x="228" y="153" width="1" height="78" fill="url(#g2)" class="l"/>
<rect x="229" y="153" width="1" height="78" fill="url(#g21)" class="l"/>
<rect x="230" y="153" width="1" height="78" fill="url(#g19)" class="l"/>
<rect x="231" y="153" width="1" height="78" fill="url(#g11)" class="l"/>
<rect x="232" y="153" width="1" height="78" fill="url(#g6)" class="l"/>
<rect x="233" y="153" width="1" height="78" fill="url(#g6)" class="l"/>
<rect x="234" y="153" width="1" height="78" fill="url(#g24)" class="l"/>
<rect x="235" y="153" width="1" height="78" fill="url(#g6)" class="l"/>
<rect x="236" y="153" width="1" height="78" fill="url(#g19)" class="l"/>
<rect x="237" y="153" width="1" height="78" fill="url(#g2)" class="l"/>
<rect x="238" y="153" width="1" height="78" fill="url(#g2)" class="l"/>
<rect x="239" y="153" width="1" height="78" fill="url(#g4)" class="l"/>
<rect x="240" y="153" width="1" height="78" fill="url(#g1)" class="l"/>
<rect x="241" y="153" width="1" height="78" fill="url(#g14)" class="l"/>
<rect x="242" y="153" width="1" height="78" fill="url(#g3)" class="l"/>
<rect x="243" y="153" width="1" height="78" fill="url(#g4)" class="l"/>
<rect x="244" y="153" width="1" height="78" fill="url(#g19)" class="l"/>
<rect x="245" y="153" width="1" height="78" fill="url(#g23)" class="l"/>
<rect x="246" y="153" width="1" height="78" fill="url(#g2)" class="l"/>
<rect x="247" y="153" width="1" height="78" fill="url(#g12)" class="l"/>
<rect x="248" y="153" width="1" height="78" fill="url(#g19)" class="l"/>
<rect x="249" y="153" width="1" height="78" fill="url(#g24)" class="l"/>
<rect x="250" y="153" width="1" height="78" fill="url(#g1)" class="l"/>
<rect x="251" y="153" width="1" height="78" fill="url(#g11)" class="l"/>
<rect x="252" y="153" width="1" height="78" fill="url(#g12)" class="l"/>
<rect x="253" y="153" width="1" height="78" fill="url(#g17)" class="l"/>
<rect x="254" y="153" width="1" height="78" fill="url(#g1)" class="l"/>
<rect x="255" y="153" width="1" height="78" fill="url(#g5)" class="l"/>
<rect x="256" y="153" width="1" height="78" fill="url(#g18)" class="l"/>
<rect x="257" y="153" width="1" height="78" fill="url(#g21)" class="l"/>
<rect x="258" y="153" width="1" height="78" fill="url(#g6)" class="l"/>
<rect x="259" y="153" width="1" height="78" fill="url(#g2)" class="l"/>
<rect x="260" y="153" width="1" height="78" fill="url(#g4)" class="l"/>
<rect x="261" y="153" width="1" height="78" fill="url(#g6)" class="l"/>
<rect x="262" y="153" width="1" height="78" fill="url(#g5)" class="l"/>
<rect x="263" y="153" width="1" height="78" fill="url(#g3)" class="l"/>
<rect x="264" y="153" width="1" height="78" fill="url(#g19)" class="l"/>
<rect x="265" y="153" width="1" height="78" fill="url(#g12)" class="l"/>
<rect x="266" y="153" width="1" height="78" fill="url(#g10)" class="l"/>
<rect x="267" y="153" width="1" height="78" fill="url(#g3)" class="l"/>
<rect x="268" y="153" width="1" height="78" fill="url(#g9)" class="l"/>
<rect x="269" y="153" width="1" height="78" fill="url(#g4)" class="l"/>
<rect x="270" y="153" width="1" height="78" fill="url(#g18)" class="l"/>
<rect x="271" y="153" width="1" height="78" fill="url(#g2)" class="l"/>
<rect x="272" y="153" width="1" height="78" fill="url(#g12)" class="l"/>
<rect x="273" y="153" width="1" height="78" fill="url(#g21)" class="l"/>
<rect x="274" y="153" width="1" height="78" fill="url(#g5)" class="l"/>
<rect x="275" y="153" width="1" height="78" fill="url(#g7)" class="l"/>
<rect x="276" y="153" width="1" height="78" fill="url(#g4)" class="l"/>
<rect x="277" y="153" width="1" height="78" fill="url(#g23)" class="l"/>
<rect x="278" y="153" width="1" height="78" fill="url(#g9)" class="l"/>
<rect x="279" y="153" width="1" height="78" fill="url(#g13)" class="l"/>
<rect x="280" y="153" width="1" height="78" fill="url(#g4)" class="l"/>
<rect x="281" y="153" width="1" height="78" fill="url(#g5)" class="l"/>
<rect x="282" y="153" width="1" height="78" fill="url(#g19)" class="l"/>
<rect x="283" y="153" width="1" height="78" fill="url(#g2)" class="l"/>
<rect x="284" y="153" width="1" height="78" fill="url(#g2)" class="l"/>
<rect x="285" y="153" width="1" height="78" fill="url(#g1)" class="l"/>
<rect x="286" y="153" width="1" height="78" fill="url(#g20)" class="l"/>
<rect x="287" y="153" width="1" height="78" fill="url(#g4)" class="l"/>
<rect x="288" y="153" width="1" height="78" fill="url(#g20)" class="l"/>
<rect x="289" y="153" width="1" height="78" fill="url(#g7)" class="l"/>
<rect x="290" y="153" width="1" height="78" fill="url(#g20)" class="l"/>
<rect x="291" y="153" width="1" height="78" fill="url(#g12)" class="l"/>
<rect x="292" y="153" width="1" height="78" fill="url(#g2)" class="l"/>
<rect x="293" y="153" width="1" height="78" fill="url(#g21)" class="l"/>
<rect x="294" y="153" width="1" height="78" fill="url(#g2)" class="l"/>
<rect x="295" y="153" width="1" height="78" fill="url(#g11)" class="l"/>
<rect x="296" y="153" width="1" height="78" fill="url(#g12)" class="l"/>
<rect x="297" y="153" width="1" height="78" fill="url(#g21)" class="l"/>
<rect x="298" y="153" width="1" height="78" fill="url(#g6)" class="l"/>
<rect x="299" y="153" width="1" height="78" fill="url(#g12)" class="l"/>
<rect x="300" y="153" width="1" height="78" fill="url(#g6)" class="l"/>
<rect x="301" y="153" width="1" height="78" fill="url(#g21)" class="l"/>
<rect x="302" y="153" width="1" height="78" fill="url(#g19)" class="l"/>
<rect x="303" y="153" width="1" height="78" fill="url(#g16)" class="l"/>
<rect x="304" y="153" width="1" height="78" fill="url(#g17)" class="l"/>
<rect x="305" y="153" width="1" height="78" fill="url(#g2)" class="l"/>
<rect x="306" y="153" width="1" height="78" fill="url(#g18)" class="l"/>
<rect x="307" y="153" width="1" height="78" fill="url(#g2)" class="l"/>
<rect x="308" y="153" width="1" height="78" fill="url(#g3)" class="l"/>
<rect x="309" y="153" width="1" height="78" fill="url(#g13)" class="l"/>
<rect x="310" y="153" width="1" height="78" fill="url(#g2)" class="l"/>
<rect x="311" y="153" width="1" height="78" fill="url(#g19)" class="l"/>
<rect x="312" y="153" width="1" height="78" fill="url(#g11)" class="l"/>
<rect x="313" y="153" width="1" height="78" fill="url(#g5)" class="l"/>
<rect x="314" y="153" width="1" height="78" fill="url(#g22)" class="l"/>
<rect x="315" y="153" width="1" height="78" fill="url(#g18)" class="l"/>
<rect x="316" y="153" width="1" height="78" fill="url(#g6)" class="l"/>
<rect x="317" y="153" width="1" height="78" fill="url(#g3)" class="l"/>
<rect x="318" y="153" width="1" height="78" fill="url(#g11)" class="l"/>
<rect x="319" y="153" width="1" height="78" fill="url(#g3)" class="l"/>
<rect x="320" y="153" width="1" height="78" fill="url(#g11)" class="l"/>
<rect x="321" y="153" width="1" height="78" fill="url(#g2)" class="l"/>
<rect x="322" y="153" width="1" height="78" fill="url(#g14)" class="l"/>
<rect x="323" y="153" width="1" height="78" fill="url(#g19)" class="l"/>
<rect x="324" y="153" width="1" height="78" fill="url(#g4)" class="l"/>
<rect x="325" y="153" width="1" height="78" fill="url(#g14)" class="l"/>
<rect x="326" y="153" width="1" height="78" fill="url(#g3)" class="l"/>
<rect x="327" y="153" width="1" height="78" fill="url(#g7)" class="l"/>
<rect x="328" y="153" width="1" height="78" fill="url(#g5)" class="l"/>
<rect x="329" y="153" width="1" height="78" fill="url(#g13)" class="l"/>
<rect x="330" y="153" width="1" height="78" fill="url(#g6)" class="l"/>
<rect x="331" y="153" width="1" height="78" fill="url(#g2)" class="l"/>
<rect x="332" y="153" width="1" height="78" fill="url(#g19)" class="l"/>
<rect x="333" y="153" width="1" height="78" fill="url(#g2)" class="l"/>
<rect x="334" y="153" width="1" height="78" fill="url(#g9)" class="l"/>
<rect x="335" y="153" width="1" height="78" fill="url(#g17)" class="l"/>
<rect x="336" y="153" width="1" height="78" fill="url(#g4)" class="l"/>
<rect x="337" y="153" width="1" height="78" fill="url(#g7)" class="l"/>
<rect x="338" y="153" width="1" height="78" fill="url(#g3)" class="l"/>
<rect x="339" y="153" width="1" height="78" fill="url(#g14)" class="l"/>
<rect x="340" y="153" width="1" height="78" fill="url(#g14)" class="l"/>
<rect x="341" y="153" width="1" height="78" fill="url(#g14)" class="l"/>
<rect x="342" y="153" width="1" height="78" fill="url(#g9)" class="l"/>
<rect x="343" y="153" width="1" height="78" fill="url(#g19)" class="l"/>
<rect x="344" y="153" width="1" height="78" fill="url(#g6)" class="l"/>
<rect x="345" y="153" width="1" height="78" fill="url(#g21)" class="l"/>
<rect x="346" y="153" width="1" height="78" fill="url(#g3)" class="l"/>
<rect x="347" y="153" width="1" height="78" fill="url(#g3)" class="l"/>
<rect x="348" y="153" width="1" height="78" fill="url(#g2)" class="l"/>
<rect x="349" y="153" width="1" height="78" fill="url(#g2)" class="l"/>
<rect x="350" y="153" width="1" height="78" fill="url(#g2)" class="l"/>
<rect x="351" y="153" width="1" height="78" fill="url(#g12)" class="l"/>
<rect x="352" y="153" width="1" height="78" fill="url(#g7)" class="l"/>
<rect x="353" y="153" width="1" height="78" fill="url(#g4)" class="l"/>
<rect x="354" y="153" width="1" height="78" fill="url(#g2)" class="l"/>
<rect x="355" y="153" width="1" height="78" fill="url(#g9)" class="l"/>
<rect x="356" y="153" width="1" height="78" fill="url(#g11)" class="l"/>
<rect x="357" y="153" width="1" height="78" fill="url(#g10)" class="l"/>
<rect x="358" y="153" width="1" height="78" fill="url(#g1)" class="l"/>
<rect x="359" y="153" width="1" height="78" fill="url(#g12)" class="l"/>
<rect x="360" y="153" width="1" height="78" fill="url(#g2)" class="l"/>
<rect x="361" y="153" width="1" height="78" fill="url(#g7)" class="l"/>
<rect x="362" y="153" width="1" height="78" fill="url(#g4)" class="l"/>
<rect x="363" y="153" width="1" height="78" fill="url(#g6)" class="l"/>
<rect x="364" y="153" width="1" height="78" fill="url(#g1)" class="l"/>
<rect x="365" y="153" width="1" height="78" fill="url(#g2)" class="l"/>
<rect x="366" y="153" width="1" height="78" fill="url(#g7)" class="l"/>
<rect x="367" y="153" width="1" height="78" fill="url(#g14)" class="l"/>
<rect x="368" y="153" width="1" height="78" fill="url(#g8)" class="l"/>
<rect x="369" y="153" width="1" height="78" fill="url(#g7)" class="l"/>
<rect x="370" y="153" width="1" height="78" fill="url(#g9)" class="l"/>
<rect x="371" y="153" width="1" height="78" fill="url(#g1)" class="l"/>
<rect x="372" y="153" width="1" height="78" fill="url(#g4)" class="l"/>
<rect x="373" y="153" width="1" height="78" fill="url(#g9)" class="l"/>
<rect x="374" y="153" width="1" height="78" fill="url(#g12)" class="l"/>
<rect x="375" y="153" width="1" height="78" fill="url(#g7)" class="l"/>
<rect x="376" y="153" width="1" height="78" fill="url(#g1)" class="l"/>
<rect x="377" y="153" width="1" height="78" fill="url(#g4)" class="l"/>
<rect x="378" y="153" width="1" height="78" fill="url(#g2)" class="l"/>
<rect x="379" y="153" width="1" height="78" fill="url(#g5)" class="l"/>
<rect x="380" y="153" width="1" height="78" fill="url(#g3)" class="l"/>
<rect x="381" y="153" width="1" height="78" fill="url(#g12)" class="l"/>
<rect x="382" y="153" width="1" height="78" fill="url(#g9)" class="l"/>
<rect x="383" y="153" width="1" height="78" fill="url(#g20)" class="l"/>
<rect x="384" y="153" width="1" height="78" fill="url(#g2)" class="l"/>
<rect x="385" y="153" width="1" height="78" fill="url(#g6)" class="l"/>
<rect x="386" y="153" width="1" height="78" fill="url(#g19)" class="l"/>
<rect x="387" y="153" width="1" height="78" fill="url(#g3)" class="l"/>
<rect x="388" y="153" width="1" height="78" fill="url(#g8)" class="l"/>
<rect x="389" y="153" width="1" height="78" fill="url(#g2)" class="l"/>
<rect x="390" y="153" width="1" height="78" fill="url(#g13)" class="l"/>
<rect x="391" y="153" width="1" height="78" fill="url(#g4)" class="l"/>
<rect x="392" y="153" width="1" height="78" fill="url(#g13)" class="l"/>
<rect x="393" y="153" width="1" height="78" fill="url(#g9)" class="l"/>
<rect x="394" y="153" width="1" height="78" fill="url(#g2)" class="l"/>
<rect x="395" y="153" width="1" height="78" fill="url(#g7)" class="l"/>
<rect x="396" y="153" width="1" height="78" fill="url(#g6)" class="l"/>
<rect x="397" y="153" width="1" height="78" fill="url(#g6)" class="l"/>
<rect x="398" y="153" width="1" height="78" fill="url(#g1)" class="l"/>
<rect x="399" y="153" width="1" height="78" fill="url(#g4)" class="l"/>
<rect x="400" y="153" width="1" height="78" fill="url(#g2)" class="l"/>
<rect x="401" y="153" width="1" height="78" fill="url(#g20)" class="l"/>
<rect x="402" y="153" width="1" height="78" fill="url(#g12)" class="l"/>
<rect x="403" y="153" width="1" height="78" fill="url(#g1)" class="l"/>
<rect x="404" y="153" width="1" height="78" fill="url(#g11)" class="l"/>
<rect x="405" y="153" width="1" height="78" fill="url(#g6)" class="l"/>
<rect x="406" y="153" width="1" height="78" fill="url(#g12)" class="l"/>
<rect x="407" y="153" width="1" height="78" fill="url(#g2)" class="l"/>
<rect x="408" y="153" width="1" height="78" fill="url(#g12)" class="l"/>
<rect x="409" y="153" width="1" height="78" fill="url(#g16)" class="l"/>
<rect x="410" y="153" width="1" height="78" fill="url(#g13)" class="l"/>
<rect x="411" y="153" width="1" height="78" fill="url(#g13)" class="l"/>
<rect x="412" y="153" width="1" height="78" fill="url(#g6)" class="l"/>
<rect x="413" y="153" width="1" height="78" fill="url(#g9)" class="l"/>
<rect x="414" y="153" width="1" height="78" fill="url(#g20)" class="l"/>
<rect x="415" y="153" width="1" height="78" fill="url(#g1)" class="l"/>
<rect x="416" y="153" width="1" height="78" fill="url(#g21)" class="l"/>
<rect x="417" y="153" width="1" height="78" fill="url(#g2)" class="l"/>
<rect x="418" y="153" width="1" height="78" fill="url(#g6)" class="l"/>
<rect x="419" y="153" width="1" height="78" fill="url(#g7)" class="l"/>
<rect x="420" y="153" width="1" height="78" fill="url(#g13)" class="l"/>
<rect x="421" y="153" width="1" height="78" fill="url(#g1)" class="l"/>
<rect x="422" y="153" width="1" height="78" fill="url(#g6)" class="l"/>
<rect x="423" y="153" width="1" height="78" fill="url(#g4)" class="l"/>
<rect x="424" y="153" width="1" height="78" fill="url(#g7)" class="l"/>
<rect x="425" y="153" width="1" height="78" fill="url(#g2)" class="l"/>
<rect x="426" y="153" width="1" height="78" fill="url(#g7)" class="l"/>
<rect x="427" y="153" width="1" height="78" fill="url(#g7)" class="l"/>
<rect x="428" y="153" width="1" height="78" fill="url(#g2)" class="l"/>
<rect x="429" y="153" width="1" height="78" fill="url(#g1)" class="l"/>
<rect x="430" y="153" width="1" height="78" fill="url(#g20)" class="l"/>
<rect x="431" y="153" width="1" height="78" fill="url(#g12)" class="l"/>
<rect x="432" y="153" width="1" height="78" fill="url(#g20)" class="l"/>
<rect x="433" y="153" width="1" height="78" fill="url(#g2)" class="l"/>
<rect x="434" y="153" width="1" height="78" fill="url(#g21)" class="l"/>
<rect x="435" y="153" width="1" height="78" fill="url(#g20)" class="l"/>
<rect x="436" y="153" width="1" height="78" fill="url(#g16)" class="l"/>
<rect x="437" y="153" width="1" height="78" fill="url(#g16)" class="l"/>
<rect x="438" y="153" width="1" height="78" fill="url(#g23)" class="l"/>
<rect x="439" y="153" width="1" height="78" fill="url(#g1)" class="l"/>
<rect x="440" y="153" width="1" height="78" fill="url(#g12)" class="l"/>
<rect x="441" y="153" width="1" height="78" fill="url(#g6)" class="l"/>
<rect x="442" y="153" width="1" height="78" fill="url(#g13)" class="l"/>
<rect x="443" y="153" width="1" height="78" fill="url(#g16)" class="l"/>
<rect x="444" y="153" width="1" height="78" fill="url(#g20)" class="l"/>
<rect x="445" y="153" width="1" height="78" fill="url(#g14)" class="l"/>
<rect x="446" y="153" width="1" height="78" fill="url(#g4)" class="l"/>
<rect x="447" y="153" width="1" height="78" fill="url(#g8)" class="l"/>
<rect x="448" y="153" width="1" height="78" fill="url(#g20)" class="l"/>
<rect x="449" y="153" width="1" height="78" fill="url(#g14)" class="l"/>
<rect x="450" y="153" width="1" height="78" fill="url(#g6)" class="l"/>
<rect x="451" y="153" width="1" height="78" fill="url(#g2)" class="l"/>
<rect x="452" y="153" width="1" height="78" fill="url(#g6)" class="l"/>
<rect x="453" y="153" width="1" height="78" fill="url(#g14)" class="l"/>
<rect x="454" y="153" width="1" height="78" fill="url(#g1)" class="l"/>
<rect x="455" y="153" width="1" height="78" fill="url(#g9)" class="l"/>
<rect x="456" y="153" width="1" height="78" fill="url(#g21)" class="l"/>
<rect x="457" y="153" width="1" height="78" fill="url(#g16)" class="l"/>
<rect x="458" y="153" width="1" height="78" fill="url(#g6)" class="l"/>
<rect x="459" y="153" width="1" height="78" fill="url(#g1)" class="l"/>
<rect x="460" y="153" width="1" height="78" fill="url(#g20)" class="l"/>
<rect x="461" y="153" width="1" height="78" fill="url(#g7)" class="l"/>
<rect x="462" y="153" width="1" height="78" fill="url(#g9)" class="l"/>
<rect x="463" y="153" width="1" height="78" fill="url(#g21)" class="l"/>
<rect x="464" y="153" width="1" height="78" fill="url(#g17)" class="l"/>
<rect x="465" y="153" width="1" height="78" fill="url(#g8)" class="l"/>
<rect x="466" y="153" width="1" height="78" fill="url(#g8)" class="l"/>
<rect x="467" y="153" width="1" height="78" fill="url(#g2)" class="l"/>
<rect x="468" y="153" width="1" height="78" fill="url(#g14)" class="l"/>
<rect x="469" y="153" width="1" height="78" fill="url(#g5)" class="l"/>
<rect x="470" y="153" width="1" height="78" fill="url(#g17)" class="l"/>
<rect x="471" y="153" width="1" height="78" fill="url(#g3)" class="l"/>
<rect x="472" y="153" width="1" height="78" fill="url(#g5)" class="l"/>
<rect x="473" y="153" width="1" height="78" fill="url(#g2)" class="l"/>
<rect x="474" y="153" width="1" height="78" fill="url(#g12)" class="l"/>
<rect x="475" y="153" width="1" height="78" fill="url(#g4)" class="l"/>
<rect x="476" y="153" width="1" height="78" fill="url(#g3)" class="l"/>
<rect x="477" y="153" width="1" height="78" fill="url(#g6)" class="l"/>
<rect x="478" y="153" width="1" height="78" fill="url(#g4)" class="l"/>
<rect x="479" y="153" width="1" height="78" fill="url(#g9)" class="l"/>
<rect x="480" y="153" width="1" height="78" fill="url(#g2)" class="l"/>
<rect x="481" y="153" width="1" height="78" fill="url(#g4)" class="l"/>
<rect x="482" y="153" width="1" height="78" fill="url(#g21)" class="l"/>
<rect x="483" y="153" width="1" height="78" fill="url(#g9)" class="l"/>
<rect x="484" y="153" width="1" height="78" fill="url(#g18)" class="l"/>
<rect x="485" y="153" width="1" height="78" fill="url(#g1)" class="l"/>
<rect x="486" y="153" width="1" height="78" fill="url(#g2)" class="l"/>
<rect x="487" y="153" width="1" height="78" fill="url(#g22)" class="l"/>
<rect x="488" y="153" width="1" height="78" fill="url(#g6)" class="l"/>
<rect x="489" y="153" width="1" height="78" fill="url(#g14)" class="l"/>
<rect x="490" y="153" width="1" height="78" fill="url(#g20)" class="l"/>
<rect x="491" y="153" width="1" height="78" fill="url(#g1)" class="l"/>
<rect x="492" y="153" width="1" height="78" fill="url(#g1)" class="l"/>
<rect x="493" y="153" width="1" height="78" fill="url(#g7)" class="l"/>
<rect x="494" y="153" width="1" height="78" fill="url(#g5)" class="l"/>
<rect x="495" y="153" width="1" height="78" fill="url(#g17)" class="l"/>
<rect x="496" y="153" width="1" height="78" fill="url(#g3)" class="l"/>
<rect x="497" y="153" width="1" height="78" fill="url(#g4)" class="l"/>
<rect x="498" y="153" width="1" height="78" fill="url(#g6)" class="l"/>
<rect x="499" y="153" width="1" height="78" fill="url(#g6)" class="l"/>
<rect x="250" y="153" width="1" height="78" fill="url(#g25)" class="l"/>
<rect x="251" y="153" width="1" height="78" fill="url(#g26)" class="l"/>
<rect x="252" y="153" width="1" height="78" fill="url(#g27)" class="l"/>
<rect x="253" y="153" width="1" height="78" fill="url(#g28)" class="l"/>
<rect x="254" y="153" width="1" height="78" fill="url(#g29)" class="l"/>
<rect x="255" y="153" width="1" height="78" fill="url(#g30)" class="l"/>
<rect x="256" y="153" width="1" height="78" fill="url(#g31)" class="l"/>
<rect x="257" y="153" width="1" height="78" fill="url(#g32)" class="l"/>
<rect x="258" y="153" width="1" height="78" fill="url(#g33)" class="l"/>
<rect x="259" y="153" width="1" height="78" fill="url(#g28)" class="l"/>
<rect x="260" y="153" width="1" height="78" fill="url(#g29)" class="l"/>
<rect x="261" y="153" width="1" height="78" fill="url(#g34)" class="l"/>
<rect x="262" y="153" width="1" height="78" fill="url(#g35)" class="l"/>
<rect x="263" y="153" width="1" height="78" fill="url(#g25)" class="l"/>
<rect x="264" y="153" width="1" height="78" fill="url(#g36)" class="l"/>
<rect x="265" y="153" width="1" height="78" fill="url(#g30)" class="l"/>
<rect x="266" y="153" width="1" height="78" fill="url(#g31)" class="l"/>
<rect x="267" y="153" width="1" height="78" fill="url(#g31)" class="l"/>
<rect x="268" y="153" width="1" height="78" fill="url(#g34)" class="l"/>
<rect x="269" y="153" width="1" height="78" fill="url(#g35)" class="l"/>
<rect x="270" y="153" width="1" height="78" fill="url(#g30)" class="l"/>
<rect x="271" y="153" width="1" height="78" fill="url(#g28)" class="l"/>
<rect x="272" y="153" width="1" height="78" fill="url(#g36)" class="l"/>
<rect x="273" y="153" width="1" height="78" fill="url(#g25)" class="l"/>
<rect x="274" y="153" width="1" height="78" fill="url(#g25)" class="l"/>
<rect x="275" y="153" width="1" height="78" fill="url(#g37)" class="l"/>
<rect x="276" y="153" width="1" height="78" fill="url(#g28)" class="l"/>
<rect x="277" y="153" width="1" height="78" fill="url(#g25)" class="l"/>
<rect x="278" y="153" width="1" height="78" fill="url(#g25)" class="l"/>
<rect x="279" y="153" width="1" height="78" fill="url(#g28)" class="l"/>
<rect x="280" y="153" width="1" height="78" fill="url(#g35)" class="l"/>
<rect x="281" y="153" width="1" height="78" fill="url(#g38)" class="l"/>
<rect x="282" y="153" width="1" height="78" fill="url(#g33)" class="l"/>
<rect x="283" y="153" width="1" height="78" fill="url(#g29)" class="l"/>
<rect x="284" y="153" width="1" height="78" fill="url(#g26)" class="l"/>
<rect x="285" y="153" width="1" height="78" fill="url(#g39)" class="l"/>
<rect x="286" y="153" width="1" height="78" fill="url(#g40)" class="l"/>
<rect x="287" y="153" width="1" height="78" fill="url(#g25)" class="l"/>
<rect x="288" y="153" width="1" height="78" fill="url(#g31)" class="l"/>
<rect x="289" y="153" width="1" height="78" fill="url(#g28)" class="l"/>
<rect x="290" y="153" width="1" height="78" fill="url(#g41)" class="l"/>
<rect x="291" y="153" width="1" height="78" fill="url(#g25)" class="l"/>
<rect x="292" y="153" width="1" height="78" fill="url(#g41)" class="l"/>
<rect x="293" y="153" width="1" height="78" fill="url(#g31)" class="l"/>
<rect x="294" y="153" width="1" height="78" fill="url(#g31)" class="l"/>
<rect x="295" y="153" width="1" height="78" fill="url(#g42)" class="l"/>
<rect x="296" y="153" width="1" height="78" fill="url(#g28)" class="l"/>
<rect x="297" y="153" width="1" height="78" fill="url(#g28)" class="l"/>
<rect x="298" y="153" width="1" height="78" fill="url(#g30)" class="l"/>
<rect x="299" y="153" width="1" height="78" fill="url(#g33)" class="l"/>
<rect x="300" y="153" width="1" height="78" fill="url(#g31)" class="l"/>
<rect x="301" y="153" width="1" height="78" fill="url(#g43)" class="l"/>
<rect x="302" y="153" width="1" height="78" fill="url(#g28)" class="l"/>
<rect x="303" y="153" width="1" height="78" fill="url(#g25)" class="l"/>
<rect x="304" y="153" width="1" height="78" fill="url(#g28)" class="l"/>
<rect x="305" y="153" width="1" height="78" fill="url(#g31)" class="l"/>
<rect x="306" y="153" width="1" height="78" fill="url(#g43)" class="l"/>
<rect x="307" y="153" width="1" height="78" fill="url(#g36)" class="l"/>
<rect x="308" y="153" width="1" height="78" fill="url(#g30)" class="l"/>
<rect x="309" y="153" width="1" height="78" fill="url(#g26)" class="l"/>
<rect x="310" y="153" width="1" height="78" fill="url(#g33)" class="l"/>
<rect x="311" y="153" width="1" height="78" fill="url(#g40)" class="l"/>
<rect x="312" y="153" width="1" height="78" fill="url(#g25)" class="l"/>
<rect x="313" y="153" width="1" height="78" fill="url(#g40)" class="l"/>
<rect x="314" y="153" width="1" height="78" fill="url(#g41)" class="l"/>
<rect x="315" y="153" width="1" height="78" fill="url(#g25)" class="l"/>
<rect x="316" y="153" width="1" height="78" fill="url(#g25)" class="l"/>
<rect x="317" y="153" width="1" height="78" fill="url(#g33)" class="l"/>
<rect x="318" y="153" width="1" height="78" fill="url(#g28)" class="l"/>
<rect x="319" y="153" width="1" height="78" fill="url(#g41)" class="l"/>
<rect x="320" y="153" width="1" height="78" fill="url(#g29)" class="l"/>
<rect x="321" y="153" width="1" height="78" fill="url(#g36)" class="l"/>
<rect x="322" y="153" width="1" height="78" fill="url(#g31)" class="l"/>
<rect x="323" y="153" width="1" height="78" fill="url(#g36)" class="l"/>
<rect x="324" y="153" width="1" height="78" fill="url(#g40)" class="l"/>
<rect x="325" y="153" width="1" height="78" fill="url(#g34)" class="l"/>
<rect x="326" y="153" width="1" height="78" fill="url(#g31)" class="l"/>
<rect x="327" y="153" width="1" height="78" fill="url(#g33)" class="l"/>
<rect x="328" y="153" width="1" height="78" fill="url(#g31)" class="l"/>
<rect x="329" y="153" width="1" height="78" fill="url(#g40)" class="l"/>
<rect x="330" y="153" width="1" height="78" fill="url(#g33)" class="l"/>
<rect x="331" y="153" width="1" height="78" fill="url(#g28)" class="l"/>
<rect x="332" y="153" width="1" height="78" fill="url(#g31)" class="l"/>
<rect x="333" y="153" width="1" height="78" fill="url(#g30)" class="l"/>
<rect x="334" y="153" width="1" height="78" fill="url(#g43)" class="l"/>
<rect x="335" y="153" width="1" height="78" fill="url(#g40)" class="l"/>
<rect x="336" y="153" width="1" height="78" fill="url(#g36)" class="l"/>
<rect x="337" y="153" width="1" height="78" fill="url(#g31)" class="l"/>
<rect x="338" y="153" width="1" height="78" fill="url(#g25)" class="l"/>
<rect x="339" y="153" width="1" height="78" fill="url(#g26)" class="l"/>
<rect x="340" y="153" width="1" height="78" fill="url(#g30)" class="l"/>
<rect x="341" y="153" width="1" height="78" fill="url(#g36)" class="l"/>
<rect x="342" y="153" width="1" height="78" fill="url(#g26)" class="l"/>
<rect x="343" y="153" width="1" height="78" fill="url(#g40)" class="l"/>
<rect x="344" y="153" width="1" height="78" fill="url(#g28)" class="l"/>
<rect x="290" y="153" width="1" height="78" fill="url(#g268)" class="l"/>
<rect x="291" y="153" width="1" height="78" fill="url(#g269)" class="l"/>
<rect x="292" y="153" width="1" height="78" fill="url(#g270)" class="l"/>
<rect x="293" y="153" width="1" height="78" fill="url(#g271)" class="l"/>
<rect x="294" y="153" width="1" height="78" fill="url(#g270)" class="l"/>
<rect x="295" y="153" width="1" height="78" fill="url(#g37)" class="l"/>
<rect x="296" y="153" width="1" height="78" fill="url(#g272)" class="l"/>
<rect x="297" y="153" width="1" height="78" fill="url(#g273)" class="l"/>
<rect x="298" y="153" width="1" height="78" fill="url(#g270)" class="l"/>
<rect x="299" y="153" width="1" height="78" fill="url(#g269)" class="l"/>
<rect x="300" y="153" width="1" height="78" fill="url(#g274)" class="l"/>
<rect x="301" y="153" width="1" height="78" fill="url(#g272)" class="l"/>
<rect x="302" y="153" width="1" height="78" fill="url(#g272)" class="l"/>
<rect x="303" y="153" width="1" height="78" fill="url(#g275)" class="l"/>
<rect x="304" y="153" width="1" height="78" fill="url(#g276)" class="l"/>
<rect x="305" y="153" width="1" height="78" fill="url(#g276)" class="l"/>
<rect x="306" y="153" width="1" height="78" fill="url(#g269)" class="l"/>
<rect x="307" y="153" width="1" height="78" fill="url(#g277)" class="l"/>
<rect x="308" y="153" width="1" height="78" fill="url(#g269)" class="l"/>
<rect x="309" y="153" width="1" height="78" fill="url(#g272)" class="l"/>
<rect x="310" y="153" width="1" height="78" fill="url(#g278)" class="l"/>
<rect x="311" y="153" width="1" height="78" fill="url(#g279)" class="l"/>
<rect x="312" y="153" width="1" height="78" fill="url(#g279)" class="l"/>
<rect x="313" y="153" width="1" height="78" fill="url(#g274)" class="l"/>
<rect x="314" y="153" width="1" height="78" fill="url(#g278)" class="l"/>
<rect x="315" y="153" width="1" height="78" fill="url(#g270)" class="l"/>
<rect x="316" y="153" width="1" height="78" fill="url(#g271)" class="l"/>
<rect x="317" y="153" width="1" height="78" fill="url(#g274)" class="l"/>
<rect x="318" y="153" width="1" height="78" fill="url(#g274)" class="l"/>
<rect x="319" y="153" width="1" height="78" fill="url(#g274)" class="l"/>
<rect x="320" y="153" width="1" height="78" fill="url(#g274)" class="l"/>
<rect x="321" y="153" width="1" height="78" fill="url(#g269)" class="l"/>
<rect x="322" y="153" width="1" height="78" fill="url(#g274)" class="l"/>
<rect x="323" y="153" width="1" height="78" fill="url(#g278)" class="l"/>
<rect x="324" y="153" width="1" height="78" fill="url(#g275)" class="l"/>
<rect x="325" y="153" width="1" height="78" fill="url(#g271)" class="l"/>
<rect x="326" y="153" width="1" height="78" fill="url(#g25)" class="l"/>
<rect x="327" y="153" width="1" height="78" fill="url(#g276)" class="l"/>
<rect x="328" y="153" width="1" height="78" fill="url(#g37)" class="l"/>
<rect x="329" y="153" width="1" height="78" fill="url(#g276)" class="l"/>
<rect x="330" y="153" width="1" height="78" fill="url(#g270)" class="l"/>
<rect x="331" y="153" width="1" height="78" fill="url(#g269)" class="l"/>
<rect x="332" y="153" width="1" height="78" fill="url(#g270)" class="l"/>
<rect x="333" y="153" width="1" height="78" fill="url(#g25)" class="l"/>
<rect x="334" y="153" width="1" height="78" fill="url(#g276)" class="l"/>
<rect x="335" y="153" width="1" height="78" fill="url(#g270)" class="l"/>
<rect x="336" y="153" width="1" height="78" fill="url(#g37)" class="l"/>
<rect x="337" y="153" width="1" height="78" fill="url(#g25)" class="l"/>
<rect x="338" y="153" width="1" height="78" fill="url(#g279)" class="l"/>
<rect x="339" y="153" width="1" height="78" fill="url(#g278)" class="l"/>
<rect x="340" y="153" width="1" height="78" fill="url(#g36)" class="l"/>
<rect x="341" y="153" width="1" height="78" fill="url(#g280)" class="l"/>
<rect x="342" y="153" width="1" height="78" fill="url(#g281)" class="l"/>
<rect x="343" y="153" width="1" height="78" fill="url(#g34)" class="l"/>
<rect x="344" y="153" width="1" height="78" fill="url(#g276)" class="l"/>
<rect x="345" y="153" width="1" height="78" fill="url(#g274)" class="l"/>
<rect x="346" y="153" width="1" height="78" fill="url(#g37)" class="l"/>
<rect x="347" y="153" width="1" height="78" fill="url(#g276)" class="l"/>
<rect x="348" y="153" width="1" height="78" fill="url(#g281)" class="l"/>
<rect x="349" y="153" width="1" height="78" fill="url(#g273)" class="l"/>
<rect x="350" y="153" width="1" height="78" fill="url(#g36)" class="l"/>
<rect x="351" y="153" width="1" height="78" fill="url(#g274)" class="l"/>
<rect x="352" y="153" width="1" height="78" fill="url(#g270)" class="l"/>
<rect x="353" y="153" width="1" height="78" fill="url(#g279)" class="l"/>
<rect x="354" y="153" width="1" height="78" fill="url(#g272)" class="l"/>
<rect x="355" y="153" width="1" height="78" fill="url(#g274)" class="l"/>
<rect x="356" y="153" width="1" height="78" fill="url(#g37)" class="l"/>
<rect x="357" y="153" width="1" height="78" fill="url(#g270)" class="l"/>
<rect x="358" y="153" width="1" height="78" fill="url(#g282)" class="l"/>
<rect x="359" y="153" width="1" height="78" fill="url(#g36)" class="l"/>
<rect x="360" y="153" width="1" height="78" fill="url(#g271)" class="l"/>
<rect x="361" y="153" width="1" height="78" fill="url(#g277)" class="l"/>
<rect x="362" y="153" width="1" height="78" fill="url(#g269)" class="l"/>
<rect x="363" y="153" width="1" height="78" fill="url(#g37)" class="l"/>
<rect x="364" y="153" width="1" height="78" fill="url(#g269)" class="l"/>
<rect x="365" y="153" width="1" height="78" fill="url(#g25)" class="l"/>
<rect x="366" y="153" width="1" height="78" fill="url(#g270)" class="l"/>
<rect x="367" y="153" width="1" height="78" fill="url(#g280)" class="l"/>
<rect x="368" y="153" width="1" height="78" fill="url(#g25)" class="l"/>
<rect x="369" y="153" width="1" height="78" fill="url(#g280)" class="l"/>
<rect x="370" y="153" width="1" height="78" fill="url(#g268)" class="l"/>
<rect x="371" y="153" width="1" height="78" fill="url(#g282)" class="l"/>
<rect x="372" y="153" width="1" height="78" fill="url(#g278)" class="l"/>
<rect x="373" y="153" width="1" height="78" fill="url(#g280)" class="l"/>
<rect x="374" y="153" width="1" height="78" fill="url(#g283)" class="l"/>
<rect x="375" y="153" width="1" height="78" fill="url(#g272)" class="l"/>
<rect x="376" y="153" width="1" height="78" fill="url(#g269)" class="l"/>
<rect x="377" y="153" width="1" height="78" fill="url(#g274)" class="l"/>
<rect x="378" y="153" width="1" height="78" fill="url(#g274)" class="l"/>
<rect x="379" y="153" width="1" height="78" fill="url(#g270)" class="l"/>
<rect x="380" y="153" width="1" height="78" fill="url(#g36)" class="l"/>
<rect x="381" y="153" width="1" height="78" fill="url(#g269)" class="l"/>
<rect x="382" y="153" width="1" height="78" fill="url(#g276)" class="l"/>
<rect x="383" y="153" width="1" height="78" fill="url(#g276)" class="l"/>
<rect x="384" y="153" width="1" height="78" fill="url(#g273)" class="l"/>
<rect x="385" y="153" width="1" height="78" fill="url(#g37)" class="l"/>
<rect x="386" y="153" width="1" height="78" fill="url(#g37)" class="l"/>
<rect x="387" y="153" width="1" height="78" fill="url(#g25)" class="l"/>
<rect x="388" y="153" width="1" height="78" fill="url(#g276)" class="l"/>
<rect x="389" y="153" width="1" height="78" fill="url(#g271)" class="l"/>
<rect x="390" y="153" width="1" height="78" fill="url(#g274)" class="l"/>
<rect x="391" y="153" width="1" height="78" fill="url(#g284)" class="l"/>
<rect x="392" y="153" width="1" height="78" fill="url(#g275)" class="l"/>
<rect x="393" y="153" width="1" height="78" fill="url(#g285)" class="l"/>
<rect x="394" y="153" width="1" height="78" fill="url(#g282)" class="l"/>
<rect x="395" y="153" width="1" height="78" fill="url(#g276)" class="l"/>
<rect x="396" y="153" width="1" height="78" fill="url(#g279)" class="l"/>
<rect x="397" y="153" width="1" height="78" fill="url(#g278)" class="l"/>
<rect x="398" y="153" width="1" height="78" fill="url(#g37)" class="l"/>
<rect x="399" y="153" width="1" height="78" fill="url(#g272)" class="l"/>
<rect x="404.5" y="153" width="39" height="70" fill="#151515" class="d"/>
<rect x="416.8" y="153" width="2.6" height="70" fill="#0f0f0f" class="d"/>
<rect x="421.2" y="153" width="3.2" height="70" fill="#0f0f0f" class="d"/>
<rect x="459.5" y="153" width="3.5" height="66" fill="#1a1a1a" class="d"/>
<rect x="81" y="153" width="1.2" height="78" fill="url(#g44)" class="l"/>
<path d="M84.4 153L83 157L82 231L86.4 231L85.8 157Z" fill="url(#g45)" class="l"/>
<path d="M86.3 153L85.6 167L86 231L88.6 231L87 167Z" fill="url(#g46)" class="l"/>
<rect x="88.4" y="153" width="1" height="78" fill="url(#g47)" class="l"/>
<path d="M149 153L148.2 155L146.5 231L150.5 231L149.8 155Z" fill="url(#g286)" class="l"/>
<path d="M148.9 153L148.2 159L145.9 231L151.1 231L149.6 159Z" fill="url(#g49)" class="l"/>
<path d="M159.05 153L158.3 154L157.5 231L160.2 231L159.8 154Z" fill="url(#g287)" class="l"/>
<path d="M159 153L158.4 193L155.8 231L161.6 231L159.6 193Z" fill="url(#g288)" class="l"/>
<path d="M166 153L165.4 155L164.5 231L167.2 231L166.6 155Z" fill="url(#g289)" class="l"/>
<path d="M175.45 153L173 154L172.6 231L178.2 231L177.9 154Z" fill="url(#g290)" class="l"/>
<path d="M175.75 153L174 160L172 231L178.8 231L177.5 160Z" fill="url(#g55)" class="l"/>
<rect x="213.9" y="153" width="1.5" height="78" fill="url(#g291)" class="l"/>
<rect x="217" y="153" width="1.2" height="78" fill="url(#g292)" class="l"/>
<rect x="220.5" y="153" width="1" height="78" fill="url(#g293)" class="l"/>
<rect x="228" y="153" width="1.4" height="78" fill="url(#g294)" class="l"/>
<rect x="231" y="153" width="1.4" height="78" fill="url(#g295)" class="l"/>
<path d="M233.2 153L232.6 173L232 231L234.6 231L233.8 173Z" fill="url(#g296)" class="l"/>
<rect x="229.5" y="222" width="5.5" height="6" fill="#656565" class="l"/>
<rect x="212" y="225" width="17.5" height="3" fill="#4c4c4c" class="l"/>
<rect x="266.6" y="153" width="2" height="78" fill="url(#g65)" class="l"/>
<path d="M271.5 153L271 164L270.5 231L272.5 231L272 164Z" fill="url(#g297)" class="l"/>
<rect x="272.8" y="153" width="2.2" height="78" fill="url(#g67)" class="l"/>
<rect x="290" y="153" width="1" height="78" fill="url(#g68)" class="l"/>
<rect x="291" y="153" width="1" height="78" fill="url(#g69)" class="l"/>
<rect x="292" y="153" width="1" height="78" fill="url(#g70)" class="l"/>
<rect x="293" y="153" width="1" height="78" fill="url(#g71)" class="l"/>
<rect x="294" y="153" width="1" height="78" fill="url(#g72)" class="l"/>
<rect x="295" y="153" width="1" height="78" fill="url(#g73)" class="l"/>
<rect x="296" y="153" width="1" height="78" fill="url(#g74)" class="l"/>
<rect x="297" y="153" width="1" height="78" fill="url(#g75)" class="l"/>
<rect x="298" y="153" width="1" height="78" fill="url(#g76)" class="l"/>
<rect x="299" y="153" width="1" height="78" fill="url(#g77)" class="l"/>
<rect x="300" y="153" width="1" height="78" fill="url(#g78)" class="l"/>
<rect x="301" y="153" width="1" height="78" fill="url(#g79)" class="l"/>
<rect x="302" y="153" width="1" height="78" fill="url(#g80)" class="l"/>
<rect x="303" y="153" width="1" height="78" fill="url(#g81)" class="l"/>
<rect x="304" y="153" width="1" height="78" fill="url(#g82)" class="l"/>
<rect x="305" y="153" width="1" height="78" fill="url(#g83)" class="l"/>
<rect x="306" y="153" width="1" height="78" fill="url(#g84)" class="l"/>
<rect x="307" y="153" width="1" height="78" fill="url(#g85)" class="l"/>
<rect x="308" y="153" width="1" height="78" fill="url(#g86)" class="l"/>
<rect x="309" y="153" width="1" height="78" fill="url(#g87)" class="l"/>
<rect x="310" y="153" width="1" height="78" fill="url(#g88)" class="l"/>
<rect x="311" y="153" width="1" height="78" fill="url(#g89)" class="l"/>
<rect x="312" y="153" width="1" height="78" fill="url(#g90)" class="l"/>
<rect x="313" y="153" width="1" height="78" fill="url(#g91)" class="l"/>
<rect x="314" y="153" width="1" height="78" fill="url(#g92)" class="l"/>
<rect x="315" y="153" width="1" height="78" fill="url(#g93)" class="l"/>
<rect x="316" y="153" width="1" height="78" fill="url(#g94)" class="l"/>
<rect x="317" y="153" width="1" height="78" fill="url(#g95)" class="l"/>
<rect x="318" y="153" width="1" height="78" fill="url(#g96)" class="l"/>
<rect x="319" y="153" width="1" height="78" fill="url(#g97)" class="l"/>
<rect x="320" y="153" width="1" height="78" fill="url(#g98)" class="l"/>
<rect x="321" y="153" width="1" height="78" fill="url(#g99)" class="l"/>
<rect x="322" y="153" width="1" height="78" fill="url(#g100)" class="l"/>
<rect x="323" y="153" width="1" height="78" fill="url(#g101)" class="l"/>
<rect x="324" y="153" width="1" height="78" fill="url(#g102)" class="l"/>
<rect x="325" y="153" width="1" height="78" fill="url(#g103)" class="l"/>
<rect x="326" y="153" width="1" height="78" fill="url(#g104)" class="l"/>
<rect x="327" y="153" width="1" height="78" fill="url(#g105)" class="l"/>
<rect x="328" y="153" width="1" height="78" fill="url(#g106)" class="l"/>
<rect x="329" y="153" width="1" height="78" fill="url(#g107)" class="l"/>
<rect x="330" y="153" width="1" height="78" fill="url(#g108)" class="l"/>
<rect x="331" y="153" width="1" height="78" fill="url(#g109)" class="l"/>
<rect x="332" y="153" width="1" height="78" fill="url(#g110)" class="l"/>
<rect x="333" y="153" width="1" height="78" fill="url(#g111)" class="l"/>
<rect x="334" y="153" width="1" height="78" fill="url(#g112)" class="l"/>
<rect x="335" y="153" width="1" height="78" fill="url(#g113)" class="l"/>
<rect x="336" y="153" width="1" height="78" fill="url(#g114)" class="l"/>
<rect x="337" y="153" width="1" height="78" fill="url(#g115)" class="l"/>
<rect x="338" y="153" width="1" height="78" fill="url(#g116)" class="l"/>
<rect x="339" y="153" width="1" height="78" fill="url(#g117)" class="l"/>
<rect x="340" y="153" width="1" height="78" fill="url(#g118)" class="l"/>
<rect x="341" y="153" width="1" height="78" fill="url(#g119)" class="l"/>
<rect x="342" y="153" width="1" height="78" fill="url(#g120)" class="l"/>
<rect x="343" y="153" width="1" height="78" fill="url(#g121)" class="l"/>
<rect x="344" y="153" width="1" height="78" fill="url(#g122)" class="l"/>
<rect x="305" y="227" width="21" height="1.5" fill="#b3b3b3" class="l"/>
<rect x="300" y="153" width="1" height="78" fill="url(#g298)" class="l"/>
<rect x="301" y="153" width="1" height="78" fill="url(#g299)" class="l"/>
<rect x="302" y="153" width="1" height="78" fill="url(#g300)" class="l"/>
<rect x="303" y="153" width="1" height="78" fill="url(#g301)" class="l"/>
<rect x="304" y="153" width="1" height="78" fill="url(#g302)" class="l"/>
<rect x="305" y="153" width="1" height="78" fill="url(#g303)" class="l"/>
<rect x="306" y="153" width="1" height="78" fill="url(#g304)" class="l"/>
<rect x="307" y="153" width="1" height="78" fill="url(#g305)" class="l"/>
<rect x="308" y="153" width="1" height="78" fill="url(#g306)" class="l"/>
<rect x="309" y="153" width="1" height="78" fill="url(#g307)" class="l"/>
<rect x="310" y="153" width="1" height="78" fill="url(#g308)" class="l"/>
<rect x="311" y="153" width="1" height="78" fill="url(#g309)" class="l"/>
<rect x="312" y="153" width="1" height="78" fill="url(#g310)" class="l"/>
<rect x="313" y="153" width="1" height="78" fill="url(#g311)" class="l"/>
<rect x="314" y="153" width="1" height="78" fill="url(#g312)" class="l"/>
<rect x="315" y="153" width="1" height="78" fill="url(#g313)" class="l"/>
<rect x="316" y="153" width="1" height="78" fill="url(#g314)" class="l"/>
<rect x="317" y="153" width="1" height="78" fill="url(#g315)" class="l"/>
<rect x="318" y="153" width="1" height="78" fill="url(#g316)" class="l"/>
<rect x="319" y="153" width="1" height="78" fill="url(#g317)" class="l"/>
<rect x="320" y="153" width="1" height="78" fill="url(#g318)" class="l"/>
<rect x="321" y="153" width="1" height="78" fill="url(#g319)" class="l"/>
<rect x="322" y="153" width="1" height="78" fill="url(#g320)" class="l"/>
<rect x="323" y="153" width="1" height="78" fill="url(#g321)" class="l"/>
<rect x="324" y="153" width="1" height="78" fill="url(#g322)" class="l"/>
<rect x="325" y="153" width="1" height="78" fill="url(#g323)" class="l"/>
<rect x="326" y="153" width="1" height="78" fill="url(#g324)" class="l"/>
<rect x="327" y="153" width="1" height="78" fill="url(#g325)" class="l"/>
<rect x="328" y="153" width="1" height="78" fill="url(#g326)" class="l"/>
<rect x="329" y="153" width="1" height="78" fill="url(#g327)" class="l"/>
<rect x="330" y="153" width="1" height="78" fill="url(#g328)" class="l"/>
<rect x="331" y="153" width="1" height="78" fill="url(#g329)" class="l"/>
<rect x="332" y="153" width="1" height="78" fill="url(#g330)" class="l"/>
<rect x="333" y="153" width="1" height="78" fill="url(#g331)" class="l"/>
<rect x="334" y="153" width="1" height="78" fill="url(#g332)" class="l"/>
<rect x="335" y="153" width="1" height="78" fill="url(#g333)" class="l"/>
<rect x="336" y="153" width="1" height="78" fill="url(#g334)" class="l"/>
<rect x="337" y="153" width="1" height="78" fill="url(#g335)" class="l"/>
<rect x="338" y="153" width="1" height="78" fill="url(#g336)" class="l"/>
<rect x="339" y="153" width="1" height="78" fill="url(#g337)" class="l"/>
<rect x="340" y="153" width="1" height="78" fill="url(#g338)" class="l"/>
<path d="M316.3 153L315.8 189L315.3 231L317.2 231L316.8 189Z" fill="url(#g339)" class="l"/>
<rect x="320.6" y="153" width="1.2" height="78" fill="url(#g340)" class="l"/>
<path d="M324.7 153L324.2 165L323.7 231L325.7 231L325.2 165Z" fill="url(#g341)" class="l"/>
<path d="M334 153L333.2 161L332.4 231L335.5 231L334.8 161Z" fill="url(#g342)" class="l"/>
<path d="M339.8 153L339.2 171L338.6 231L341.2 231L340.4 171Z" fill="url(#g343)" class="l"/>
<rect x="341.1" y="153" width="0.7" height="78" fill="url(#g344)" class="l"/>
<rect x="341.6" y="153" width="1.6" height="78" fill="url(#g345)" class="l"/>
<rect x="343.1" y="153" width="0.7" height="78" fill="url(#g346)" class="l"/>
<path d="M342.5 153L341.8 222.5L340.8 231L344.4 231L343.2 222.5Z" fill="url(#g347)" class="l"/>
<rect x="344" y="153" width="1" height="78" fill="url(#g348)" class="l"/>
<rect x="345" y="153" width="1" height="78" fill="url(#g349)" class="l"/>
<rect x="346" y="153" width="1" height="78" fill="url(#g350)" class="l"/>
<rect x="347" y="153" width="1" height="78" fill="url(#g351)" class="l"/>
<rect x="348" y="153" width="1" height="78" fill="url(#g352)" class="l"/>
<rect x="349" y="153" width="1" height="78" fill="url(#g353)" class="l"/>
<rect x="350" y="153" width="1" height="78" fill="url(#g354)" class="l"/>
<rect x="351" y="153" width="1" height="78" fill="url(#g355)" class="l"/>
<path d="M353.7 153L353 163L352.3 231L355.2 231L354.4 163Z" fill="url(#g356)" class="l"/>
<rect x="355" y="153" width="1" height="78" fill="url(#g357)" class="l"/>
<rect x="356" y="153" width="1" height="78" fill="url(#g358)" class="l"/>
<rect x="357" y="153" width="1" height="78" fill="url(#g359)" class="l"/>
<rect x="358" y="153" width="1" height="78" fill="url(#g360)" class="l"/>
<path d="M360.6 153L359.8 165L359.1 231L362.2 231L361.4 165Z" fill="url(#g361)" class="l"/>
<rect x="362" y="153" width="1" height="78" fill="url(#g362)" class="l"/>
<rect x="363" y="153" width="1" height="78" fill="url(#g363)" class="l"/>
<rect x="364" y="153" width="1" height="78" fill="url(#g364)" class="l"/>
<path d="M366.6 153L365.8 161L365.1 231L368.2 231L367.4 161Z" fill="url(#g365)" class="l"/>
<rect x="368" y="153" width="1" height="78" fill="url(#g366)" class="l"/>
<rect x="369" y="153" width="1" height="78" fill="url(#g367)" class="l"/>
<rect x="370" y="153" width="1" height="78" fill="url(#g368)" class="l"/>
<rect x="371" y="153" width="1" height="78" fill="url(#g369)" class="l"/>
<rect x="372" y="153" width="1" height="78" fill="url(#g370)" class="l"/>
<rect x="373" y="153" width="1" height="78" fill="url(#g371)" class="l"/>
<rect x="374" y="153" width="1" height="78" fill="url(#g372)" class="l"/>
<rect x="375" y="153" width="1" height="78" fill="url(#g373)" class="l"/>
<rect x="376" y="153" width="1" height="78" fill="url(#g374)" class="l"/>
<rect x="377" y="153" width="1" height="78" fill="url(#g375)" class="l"/>
<rect x="378" y="153" width="1" height="78" fill="url(#g376)" class="l"/>
<rect x="379" y="153" width="1" height="78" fill="url(#g377)" class="l"/>
<rect x="380" y="153" width="1" height="78" fill="url(#g378)" class="l"/>
<rect x="381" y="153" width="1" height="78" fill="url(#g379)" class="l"/>
<rect x="382" y="153" width="1" height="78" fill="url(#g380)" class="l"/>
<rect x="383" y="153" width="1" height="78" fill="url(#g381)" class="l"/>
<rect x="384" y="153" width="1" height="78" fill="url(#g382)" class="l"/>
<rect x="385" y="153" width="1" height="78" fill="url(#g383)" class="l"/>
<rect x="386" y="153" width="1" height="78" fill="url(#g384)" class="l"/>
<rect x="387" y="153" width="1" height="78" fill="url(#g385)" class="l"/>
<rect x="388" y="153" width="1" height="78" fill="url(#g386)" class="l"/>
<rect x="389" y="153" width="1" height="78" fill="url(#g387)" class="l"/>
<rect x="390" y="153" width="1" height="78" fill="url(#g388)" class="l"/>
<rect x="391" y="153" width="1" height="78" fill="url(#g389)" class="l"/>
<rect x="392" y="153" width="1" height="78" fill="url(#g390)" class="l"/>
<rect x="393" y="153" width="1" height="78" fill="url(#g391)" class="l"/>
<rect x="394" y="153" width="1" height="78" fill="url(#g392)" class="l"/>
<rect x="395" y="153" width="1" height="78" fill="url(#g393)" class="l"/>
<rect x="396" y="153" width="1" height="78" fill="url(#g394)" class="l"/>
<rect x="397" y="153" width="1" height="78" fill="url(#g395)" class="l"/>
<rect x="398" y="153" width="1" height="78" fill="url(#g396)" class="l"/>
<rect x="387.2" y="153" width="1.2" height="78" fill="url(#g397)" class="l"/>
<rect x="390.6" y="153" width="1" height="78" fill="url(#g398)" class="l"/>
<rect x="394" y="153" width="1.4" height="78" fill="url(#g399)" class="l"/>
<rect x="395.4" y="153" width="0.6" height="78" fill="url(#g400)" class="l"/>
<rect x="396" y="153" width="1" height="78" fill="url(#g401)" class="l"/>
<rect x="397" y="153" width="1" height="78" fill="url(#g402)" class="l"/>
<rect x="398" y="153" width="1" height="78" fill="url(#g403)" class="l"/>
<rect x="399" y="153" width="1" height="78" fill="url(#g404)" class="l"/>
<rect x="400" y="153" width="1" height="78" fill="url(#g405)" class="l"/>
<rect x="401" y="153" width="1" height="78" fill="url(#g406)" class="l"/>
<rect x="402" y="153" width="1" height="78" fill="url(#g407)" class="l"/>
<rect x="403" y="153" width="1" height="78" fill="url(#g408)" class="l"/>
<rect x="404" y="153" width="0.5" height="78" fill="url(#g409)" class="l"/>
<rect x="404.5" y="153" width="0.5" height="78" fill="url(#g200)" class="l"/>
<rect x="405" y="153" width="1" height="78" fill="url(#g201)" class="l"/>
<rect x="406" y="153" width="1" height="78" fill="url(#g202)" class="l"/>
<rect x="407" y="153" width="1" height="78" fill="url(#g203)" class="l"/>
<rect x="408" y="153" width="1" height="78" fill="url(#g204)" class="l"/>
<rect x="409" y="153" width="1" height="78" fill="url(#g205)" class="l"/>
<rect x="410" y="153" width="1" height="78" fill="url(#g206)" class="l"/>
<rect x="411" y="153" width="1" height="78" fill="url(#g207)" class="l"/>
<rect x="412" y="153" width="1" height="78" fill="url(#g208)" class="l"/>
<rect x="413" y="153" width="1" height="78" fill="url(#g209)" class="l"/>
<rect x="414" y="153" width="1" height="78" fill="url(#g210)" class="l"/>
<rect x="415" y="153" width="1" height="78" fill="url(#g211)" class="l"/>
<rect x="416" y="153" width="1" height="78" fill="url(#g212)" class="l"/>
<rect x="417" y="153" width="1" height="78" fill="url(#g213)" class="l"/>
<rect x="418" y="153" width="1" height="78" fill="url(#g214)" class="l"/>
<rect x="419.8" y="153" width="1" height="78" fill="url(#g410)" class="l"/>
<rect x="443.7" y="153" width="2.3" height="78" fill="url(#g411)"/>
<rect x="446" y="153" width="1" height="78" fill="url(#g412)" class="l"/>
<rect x="447" y="153" width="1" height="78" fill="url(#g413)" class="l"/>
<rect x="448" y="153" width="1" height="78" fill="url(#g414)" class="l"/>
<rect x="449" y="153" width="1" height="78" fill="url(#g415)" class="l"/>
<rect x="450" y="153" width="1" height="78" fill="url(#g416)" class="l"/>
<rect x="451" y="153" width="1" height="78" fill="url(#g417)" class="l"/>
<rect x="452" y="153" width="1" height="78" fill="url(#g418)" class="l"/>
<rect x="453" y="153" width="1" height="78" fill="url(#g419)" class="l"/>
<rect x="454" y="153" width="1" height="78" fill="url(#g420)" class="l"/>
<rect x="455" y="153" width="1" height="78" fill="url(#g421)" class="l"/>
<rect x="456" y="153" width="0.6" height="78" fill="url(#g422)" class="l"/>
<rect x="456.6" y="153" width="2.6" height="78" fill="url(#g423)" class="l"/>
<rect x="444" y="225.5" width="15.2" height="3.5" fill="#fefefe" class="l"/>
<rect x="459.2" y="153" width="0.8" height="78" fill="url(#g233)" class="l"/>
<rect x="460" y="153" width="1" height="78" fill="url(#g234)" class="l"/>
<rect x="461" y="153" width="1" height="78" fill="url(#g235)" class="l"/>
<rect x="462" y="153" width="1" height="78" fill="url(#g236)" class="l"/>
<rect x="463" y="153" width="0.5" height="78" fill="url(#g237)" class="l"/>
<rect x="463.5" y="153" width="0.5" height="78" fill="url(#g424)" class="l"/>
<rect x="464" y="153" width="1" height="78" fill="url(#g425)" class="l"/>
<rect x="465" y="153" width="1" height="78" fill="url(#g426)" class="l"/>
<rect x="466" y="153" width="1" height="78" fill="url(#g427)" class="l"/>
<rect x="467" y="153" width="1" height="78" fill="url(#g428)" class="l"/>
<rect x="468" y="153" width="1" height="78" fill="url(#g429)" class="l"/>
<rect x="469" y="153" width="1" height="78" fill="url(#g430)" class="l"/>
<rect x="470" y="153" width="0.9" height="78" fill="url(#g431)" class="l"/>
<rect x="466" y="153" width="2.6" height="78" fill="url(#g432)" class="l"/>
<rect x="477.7" y="153" width="0.3" height="78" fill="url(#g433)" class="l"/>
<rect x="478" y="153" width="1" height="78" fill="url(#g434)" class="l"/>
<rect x="479" y="153" width="1" height="78" fill="url(#g435)" class="l"/>
<rect x="480" y="153" width="1" height="78" fill="url(#g436)" class="l"/>
<rect x="481" y="153" width="1" height="78" fill="url(#g437)" class="l"/>
<rect x="482" y="153" width="1" height="78" fill="url(#g438)" class="l"/>
<rect x="483" y="153" width="1" height="78" fill="url(#g439)" class="l"/>
<rect x="484" y="153" width="1" height="78" fill="url(#g440)" class="l"/>
<rect x="485" y="153" width="1" height="78" fill="url(#g441)" class="l"/>
<rect x="486" y="153" width="0.2" height="78" fill="url(#g442)" class="l"/>
<rect x="488" y="153" width="1.6" height="78" fill="url(#g443)" class="l"/>
<rect x="490" y="153" width="1" height="78" fill="url(#g258)" class="l"/>
<rect x="491" y="153" width="1" height="78" fill="url(#g259)" class="l"/>
<rect x="492" y="153" width="1" height="78" fill="url(#g260)" class="l"/>
<rect x="493" y="153" width="1" height="78" fill="url(#g261)" class="l"/>
<rect x="494" y="153" width="1" height="78" fill="url(#g262)" class="l"/>
<rect x="495" y="153" width="1" height="78" fill="url(#g263)" class="l"/>
<rect x="496" y="153" width="1" height="78" fill="url(#g264)" class="l"/>
<rect x="497" y="153" width="1" height="78" fill="url(#g265)" class="l"/>
<rect x="498" y="153" width="1" height="78" fill="url(#g266)" class="l"/>
<rect x="499" y="153" width="1" height="78" fill="url(#g267)" class="l"/>
<rect x="80" y="228.1" width="420" height="1.9" fill="#9e9e9e" class="l"/></g>
<rect x="470.9" y="153" width="6.8" height="77" fill="#000"/><rect x="486.2" y="153" width="1.7" height="77" fill="#000"/>
<g filter="url(#f2)"><rect x="80" y="249" width="421" height="78" fill="#dbdbdb"/>
<rect x="81" y="249" width="419" height="78" fill="url(#g444)"/>
<g filter="url(#bl2)"><rect x="134" y="255" width="20.5" height="50" fill="#bbbbbb"/><rect x="169.5" y="255" width="20.5" height="50" fill="#bbbbbb"/><rect x="436" y="255" width="26" height="54" fill="#bbbbbb"/><rect x="136" y="276" width="19" height="26" fill="#a2a2a2"/><rect x="170" y="276" width="18" height="26" fill="#a2a2a2"/><rect x="438" y="275" width="24" height="30" fill="#9e9e9e"/></g>
<g filter="url(#bl)"><rect x="130.22" y="249" width="2.82" height="78" fill="url(#g445)"/>
<rect x="132.99" y="249" width="2.82" height="78" fill="url(#g446)"/>
<rect x="135.75" y="249" width="2.82" height="78" fill="url(#g447)"/>
<rect x="138.53" y="249" width="2.82" height="78" fill="url(#g448)"/>
<rect x="141.3" y="249" width="2.82" height="78" fill="url(#g448)"/>
<rect x="144.06" y="249" width="2.82" height="78" fill="url(#g448)"/>
<rect x="146.84" y="249" width="2.82" height="78" fill="url(#g448)"/>
<rect x="149.61" y="249" width="2.82" height="78" fill="url(#g448)"/>
<rect x="152.38" y="249" width="2.82" height="78" fill="url(#g449)"/>
<rect x="155.15" y="249" width="2.82" height="78" fill="url(#g450)"/>
<rect x="130.85" y="249" width="1.5" height="78" fill="url(#g451)"/>
<rect x="133.62" y="249" width="1.5" height="78" fill="url(#g452)"/>
<rect x="136.39" y="249" width="1.5" height="78" fill="url(#g453)"/>
<rect x="139.16" y="249" width="1.5" height="78" fill="url(#g454)"/>
<rect x="141.93" y="249" width="1.5" height="78" fill="url(#g454)"/>
<rect x="144.7" y="249" width="1.5" height="78" fill="url(#g454)"/>
<rect x="147.47" y="249" width="1.5" height="78" fill="url(#g454)"/>
<rect x="150.24" y="249" width="1.5" height="78" fill="url(#g454)"/>
<rect x="153.01" y="249" width="1.5" height="78" fill="url(#g455)"/>
<rect x="155.78" y="249" width="1.5" height="78" fill="url(#g456)"/>
<rect x="167.52" y="249" width="2.82" height="78" fill="url(#g448)"/>
<rect x="170.32" y="249" width="2.82" height="78" fill="url(#g448)"/>
<rect x="173.12" y="249" width="2.82" height="78" fill="url(#g448)"/>
<rect x="175.92" y="249" width="2.82" height="78" fill="url(#g448)"/>
<rect x="178.72" y="249" width="2.82" height="78" fill="url(#g448)"/>
<rect x="181.52" y="249" width="2.82" height="78" fill="url(#g448)"/>
<rect x="184.31" y="249" width="2.82" height="78" fill="url(#g448)"/>
<rect x="187.12" y="249" width="2.82" height="78" fill="url(#g447)"/>
<rect x="189.92" y="249" width="2.82" height="78" fill="url(#g457)"/>
<rect x="192.72" y="249" width="2.82" height="78" fill="url(#g458)"/>
<rect x="195.52" y="249" width="2.82" height="78" fill="url(#g459)"/>
<rect x="168.15" y="249" width="1.5" height="78" fill="url(#g454)"/>
<rect x="170.95" y="249" width="1.5" height="78" fill="url(#g454)"/>
<rect x="173.75" y="249" width="1.5" height="78" fill="url(#g454)"/>
<rect x="176.55" y="249" width="1.5" height="78" fill="url(#g454)"/>
<rect x="179.35" y="249" width="1.5" height="78" fill="url(#g454)"/>
<rect x="182.15" y="249" width="1.5" height="78" fill="url(#g454)"/>
<rect x="184.95" y="249" width="1.5" height="78" fill="url(#g454)"/>
<rect x="187.75" y="249" width="1.5" height="78" fill="url(#g453)"/>
<rect x="190.55" y="249" width="1.5" height="78" fill="url(#g460)"/>
<rect x="193.35" y="249" width="1.5" height="78" fill="url(#g461)"/>
<rect x="196.15" y="249" width="1.5" height="78" fill="url(#g462)"/>
<rect x="139" y="249" width="16" height="4.5" fill="#6b6b6b" opacity="0.8"/>
<rect x="146" y="249" width="8.5" height="3.2" fill="#4c4c4c" opacity="0.8"/>
<rect x="168.5" y="249" width="20" height="4.5" fill="#6b6b6b" opacity="0.8"/>
<rect x="170" y="249" width="15" height="3.2" fill="#4c4c4c" opacity="0.8"/>
<rect x="196" y="249" width="94" height="78" fill="url(#g463)" opacity="0.60"/>
<rect x="209.3" y="249" width="5.1" height="78" fill="url(#g464)"/>
<rect x="166.1" y="249" width="1.3" height="78" fill="url(#g465)"/>
<rect x="156.8" y="249" width="2.2" height="78" fill="url(#g466)"/>
<rect x="160" y="249" width="1.4" height="78" fill="url(#g467)"/>
<rect x="210.9" y="249" width="1.5" height="78" fill="url(#g468)"/>
<rect x="81.1" y="249" width="2.4" height="78" fill="url(#g469)"/>
<rect x="81.55" y="249" width="1.5" height="78" fill="url(#g470)"/>
<rect x="83.4" y="249" width="2.4" height="78" fill="url(#g469)"/>
<rect x="83.85" y="249" width="1.5" height="78" fill="url(#g470)"/>
<rect x="85.7" y="249" width="2.4" height="78" fill="url(#g471)"/>
<rect x="86.15" y="249" width="1.5" height="78" fill="url(#g472)"/>
<rect x="88" y="249" width="2.4" height="78" fill="url(#g473)"/>
<rect x="88.45" y="249" width="1.5" height="78" fill="url(#g474)"/>
<rect x="90.3" y="249" width="2.4" height="78" fill="url(#g475)"/>
<rect x="90.75" y="249" width="1.5" height="78" fill="url(#g476)"/>
<rect x="92.6" y="249" width="2.4" height="78" fill="url(#g477)"/>
<rect x="93.05" y="249" width="1.5" height="78" fill="url(#g478)"/>
<rect x="86.2" y="249" width="1.4" height="78" fill="url(#g479)"/>
<rect x="90.5" y="249" width="1.1" height="78" fill="url(#g480)"/>
<rect x="355.2" y="249" width="2.6" height="78" fill="url(#g481)"/>
<rect x="390.2" y="249" width="3.1" height="78" fill="url(#g481)"/>
<rect x="393.7" y="249" width="2.1" height="78" fill="url(#g482)"/>
<rect x="399.7" y="249" width="3.6" height="78" fill="url(#g483)"/>
<rect x="403.2" y="249" width="3.1" height="78" fill="url(#g484)"/>
<rect x="406.2" y="249" width="3.1" height="78" fill="url(#g485)"/>
<rect x="409.2" y="249" width="2.1" height="78" fill="url(#g486)"/>
<rect x="417.7" y="249" width="2.6" height="78" fill="url(#g487)"/>
<rect x="423.7" y="249" width="3.6" height="78" fill="url(#g486)"/>
<rect x="430.12" y="249" width="2.82" height="78" fill="url(#g488)"/>
<rect x="432.88" y="249" width="2.82" height="78" fill="url(#g489)"/>
<rect x="435.66" y="249" width="2.82" height="78" fill="url(#g490)"/>
<rect x="438.43" y="249" width="2.82" height="78" fill="url(#g491)"/>
<rect x="441.19" y="249" width="2.82" height="78" fill="url(#g491)"/>
<rect x="443.97" y="249" width="2.82" height="78" fill="url(#g491)"/>
<rect x="446.74" y="249" width="2.82" height="78" fill="url(#g491)"/>
<rect x="449.5" y="249" width="2.82" height="78" fill="url(#g491)"/>
<rect x="452.28" y="249" width="2.82" height="78" fill="url(#g491)"/>
<rect x="455.05" y="249" width="2.82" height="78" fill="url(#g491)"/>
<rect x="457.81" y="249" width="2.82" height="78" fill="url(#g491)"/>
<rect x="460.59" y="249" width="2.82" height="78" fill="url(#g492)"/>
<rect x="463.36" y="249" width="2.82" height="78" fill="url(#g493)"/>
<rect x="430.72" y="249" width="1.56" height="78" fill="url(#g494)"/>
<rect x="433.49" y="249" width="1.56" height="78" fill="url(#g495)"/>
<rect x="436.26" y="249" width="1.56" height="78" fill="url(#g496)"/>
<rect x="439.03" y="249" width="1.56" height="78" fill="url(#g497)"/>
<rect x="441.8" y="249" width="1.56" height="78" fill="url(#g497)"/>
<rect x="444.57" y="249" width="1.56" height="78" fill="url(#g497)"/>
<rect x="447.34" y="249" width="1.56" height="78" fill="url(#g497)"/>
<rect x="450.11" y="249" width="1.56" height="78" fill="url(#g497)"/>
<rect x="452.88" y="249" width="1.56" height="78" fill="url(#g497)"/>
<rect x="455.65" y="249" width="1.56" height="78" fill="url(#g497)"/>
<rect x="458.42" y="249" width="1.56" height="78" fill="url(#g497)"/>
<rect x="461.19" y="249" width="1.56" height="78" fill="url(#g498)"/>
<rect x="463.96" y="249" width="1.56" height="78" fill="url(#g499)"/>
<rect x="436.5" y="249" width="27" height="7" fill="#6d6d6d" opacity="0.8"/>
<rect x="441" y="249" width="18.5" height="4.6" fill="#484848" opacity="0.9"/>
<rect x="444" y="249" width="14" height="3.4" fill="#242424"/>
<rect x="444.75" y="280" width="1.2" height="14" fill="#797979" opacity="0.45"/>
<rect x="447.5" y="280" width="1.2" height="14" fill="#797979" opacity="0.45"/>
<rect x="450.3" y="280" width="1.2" height="14" fill="#797979" opacity="0.45"/>
<rect x="453.05" y="280" width="1.2" height="14" fill="#797979" opacity="0.45"/>
<rect x="455.8" y="280" width="1.2" height="14" fill="#797979" opacity="0.45"/>
<rect x="467.4" y="249" width="2.8" height="78" fill="url(#g500)"/>
<rect x="477.7" y="249" width="8.5" height="78" fill="url(#g501)"/>
<rect x="478.4" y="276" width="4.2" height="22" fill="#797979" opacity="0.55"/>
<rect x="483.6" y="249" width="2.6" height="78" fill="url(#g502)" opacity="0.80"/>
<rect x="487.9" y="249" width="1.8" height="78" fill="url(#g503)"/>
<rect x="489.6" y="249" width="2.4" height="78" fill="url(#g504)"/>
<rect x="492" y="249" width="2.6" height="78" fill="url(#g505)"/>
<rect x="494.6" y="249" width="5.4" height="78" fill="url(#g506)"/></g>
<rect x="133.5" y="276.5" width="22" height="0.9" fill="#dbdbdb" opacity="0.22"/><rect x="133.5" y="279.05" width="22" height="0.9" fill="#dbdbdb" opacity="0.22"/><rect x="133.5" y="281.6" width="22" height="0.9" fill="#dbdbdb" opacity="0.22"/><rect x="133.5" y="284.15" width="22" height="0.9" fill="#dbdbdb" opacity="0.22"/><rect x="133.5" y="286.7" width="22" height="0.9" fill="#dbdbdb" opacity="0.22"/><rect x="133.5" y="289.25" width="22" height="0.9" fill="#dbdbdb" opacity="0.22"/><rect x="133.5" y="291.8" width="22" height="0.9" fill="#dbdbdb" opacity="0.22"/><rect x="133.5" y="294.35" width="22" height="0.9" fill="#dbdbdb" opacity="0.22"/><rect x="133.5" y="296.9" width="22" height="0.9" fill="#dbdbdb" opacity="0.22"/><rect x="133.5" y="299.45" width="22" height="0.9" fill="#dbdbdb" opacity="0.22"/><rect x="133.5" y="302" width="22" height="0.9" fill="#dbdbdb" opacity="0.22"/><rect x="168" y="276.5" width="23" height="0.9" fill="#dbdbdb" opacity="0.22"/><rect x="168" y="279.05" width="23" height="0.9" fill="#dbdbdb" opacity="0.22"/><rect x="168" y="281.6" width="23" height="0.9" fill="#dbdbdb" opacity="0.22"/><rect x="168" y="284.15" width="23" height="0.9" fill="#dbdbdb" opacity="0.22"/><rect x="168" y="286.7" width="23" height="0.9" fill="#dbdbdb" opacity="0.22"/><rect x="168" y="289.25" width="23" height="0.9" fill="#dbdbdb" opacity="0.22"/><rect x="168" y="291.8" width="23" height="0.9" fill="#dbdbdb" opacity="0.22"/><rect x="168" y="294.35" width="23" height="0.9" fill="#dbdbdb" opacity="0.22"/><rect x="168" y="296.9" width="23" height="0.9" fill="#dbdbdb" opacity="0.22"/><rect x="168" y="299.45" width="23" height="0.9" fill="#dbdbdb" opacity="0.22"/><rect x="168" y="302" width="23" height="0.9" fill="#dbdbdb" opacity="0.22"/><rect x="435" y="276.5" width="28" height="0.9" fill="#dbdbdb" opacity="0.22"/><rect x="435" y="279.05" width="28" height="0.9" fill="#dbdbdb" opacity="0.22"/><rect x="435" y="281.6" width="28" height="0.9" fill="#dbdbdb" opacity="0.22"/><rect x="435" y="284.15" width="28" height="0.9" fill="#dbdbdb" opacity="0.22"/><rect x="435" y="286.7" width="28" height="0.9" fill="#dbdbdb" opacity="0.22"/><rect x="435" y="289.25" width="28" height="0.9" fill="#dbdbdb" opacity="0.22"/><rect x="435" y="291.8" width="28" height="0.9" fill="#dbdbdb" opacity="0.22"/><rect x="435" y="294.35" width="28" height="0.9" fill="#dbdbdb" opacity="0.22"/><rect x="435" y="296.9" width="28" height="0.9" fill="#dbdbdb" opacity="0.22"/><rect x="435" y="299.45" width="28" height="0.9" fill="#dbdbdb" opacity="0.22"/><rect x="435" y="302" width="28" height="0.9" fill="#dbdbdb" opacity="0.22"/></g>
<rect x="470.9" y="249" width="6.8" height="77" fill="#000"/><rect x="486.2" y="249" width="1.7" height="77" fill="#000"/>
<g filter="url(#f3)"><rect x="80" y="364" width="421" height="78" fill="url(#g507)"/></g>
<rect x="470.9" y="364" width="6.8" height="77" fill="#000"/><rect x="486.2" y="364" width="1.7" height="77" fill="#000"/>
<g filter="url(#f4)"><rect x="80" y="460" width="421" height="78" fill="url(#g508)"/></g>
<rect x="470.9" y="460" width="6.8" height="77" fill="#000"/><rect x="486.2" y="460" width="1.7" height="77" fill="#000"/>
<g filter="url(#f5)"><rect x="80" y="556" width="421" height="78" fill="url(#g509)"/></g>
<rect x="470.9" y="556" width="6.8" height="77" fill="#000"/><rect x="486.2" y="556" width="1.7" height="77" fill="#000"/>
<rect x="80.5" y="57.5" width="420" height="77" fill="none" stroke="#000" stroke-width="1"/>
<rect x="80" y="133" width="421" height="2" fill="#000"/>
<rect x="80.5" y="153.5" width="420" height="77" fill="none" stroke="#000" stroke-width="1"/>
<rect x="80" y="229" width="421" height="2" fill="#000"/>
<rect x="80.5" y="249.5" width="420" height="77" fill="none" stroke="#000" stroke-width="1"/>
<rect x="80" y="325" width="421" height="2" fill="#000"/>
<rect x="80.5" y="364.5" width="420" height="77" fill="none" stroke="#000" stroke-width="1"/>
<rect x="80" y="440" width="421" height="2" fill="#000"/>
<rect x="80.5" y="460.5" width="420" height="77" fill="none" stroke="#000" stroke-width="1"/>
<rect x="80" y="536" width="421" height="2" fill="#000"/>
<rect x="80.5" y="556.5" width="420" height="77" fill="none" stroke="#000" stroke-width="1"/>
<rect x="80" y="632" width="421" height="2" fill="#000"/>
<path d="M71 134.5L80 134.5M501 134.5L509 134.5M75 131.5L80 131.5M501 131.5L505 131.5M75 129.5L80 129.5M501 129.5L505 129.5M75 126.5L80 126.5M501 126.5L505 126.5M75 124.5L80 124.5M501 124.5L505 124.5M71 121.5L80 121.5M501 121.5L509 121.5M75 119.5L80 119.5M501 119.5L505 119.5M75 116.5L80 116.5M501 116.5L505 116.5M75 113.5L80 113.5M501 113.5L505 113.5M75 111.5L80 111.5M501 111.5L505 111.5M71 108.5L80 108.5M501 108.5L509 108.5M75 106.5L80 106.5M501 106.5L505 106.5M75 103.5L80 103.5M501 103.5L505 103.5M75 101.5L80 101.5M501 101.5L505 101.5M75 98.5L80 98.5M501 98.5L505 98.5M71 96.5L80 96.5M501 96.5L509 96.5M75 93.5L80 93.5M501 93.5L505 93.5M75 90.5L80 90.5M501 90.5L505 90.5M75 88.5L80 88.5M501 88.5L505 88.5M75 85.5L80 85.5M501 85.5L505 85.5M71 83.5L80 83.5M501 83.5L509 83.5M75 80.5L80 80.5M501 80.5L505 80.5M75 78.5L80 78.5M501 78.5L505 78.5M75 75.5L80 75.5M501 75.5L505 75.5M75 72.5L80 72.5M501 72.5L505 72.5M71 70.5L80 70.5M501 70.5L509 70.5M75 67.5L80 67.5M501 67.5L505 67.5M75 65.5L80 65.5M501 65.5L505 65.5M75 62.5L80 62.5M501 62.5L505 62.5M75 60.5L80 60.5M501 60.5L505 60.5M71 57.5L80 57.5M501 57.5L509 57.5M80.5 135L80.5 137M80.5 56L80.5 57M115.5 135L115.5 136M150.5 135L150.5 136M185.5 135L185.5 137M185.5 56L185.5 57M220.5 135L220.5 136M255.5 135L255.5 136M290.5 135L290.5 137M290.5 56L290.5 57M325.5 135L325.5 136M360.5 135L360.5 136M395.5 135L395.5 137M395.5 56L395.5 57M430.5 135L430.5 136M465.5 135L465.5 136M500.5 135L500.5 137M500.5 56L500.5 57M71 230.5L80 230.5M501 230.5L509 230.5M75 227.5L80 227.5M501 227.5L505 227.5M75 225.5L80 225.5M501 225.5L505 225.5M75 222.5L80 222.5M501 222.5L505 222.5M75 220.5L80 220.5M501 220.5L505 220.5M71 217.5L80 217.5M501 217.5L509 217.5M75 215.5L80 215.5M501 215.5L505 215.5M75 212.5L80 212.5M501 212.5L505 212.5M75 209.5L80 209.5M501 209.5L505 209.5M75 207.5L80 207.5M501 207.5L505 207.5M71 204.5L80 204.5M501 204.5L509 204.5M75 202.5L80 202.5M501 202.5L505 202.5M75 199.5L80 199.5M501 199.5L505 199.5M75 197.5L80 197.5M501 197.5L505 197.5M75 194.5L80 194.5M501 194.5L505 194.5M71 192.5L80 192.5M501 192.5L509 192.5M75 189.5L80 189.5M501 189.5L505 189.5M75 186.5L80 186.5M501 186.5L505 186.5M75 184.5L80 184.5M501 184.5L505 184.5M75 181.5L80 181.5M501 181.5L505 181.5M71 179.5L80 179.5M501 179.5L509 179.5M75 176.5L80 176.5M501 176.5L505 176.5M75 174.5L80 174.5M501 174.5L505 174.5M75 171.5L80 171.5M501 171.5L505 171.5M75 168.5L80 168.5M501 168.5L505 168.5M71 166.5L80 166.5M501 166.5L509 166.5M75 163.5L80 163.5M501 163.5L505 163.5M75 161.5L80 161.5M501 161.5L505 161.5M75 158.5L80 158.5M501 158.5L505 158.5M75 156.5L80 156.5M501 156.5L505 156.5M71 153.5L80 153.5M501 153.5L509 153.5M80.5 231L80.5 233M80.5 152L80.5 153M115.5 231L115.5 232M150.5 231L150.5 232M185.5 231L185.5 233M185.5 152L185.5 153M220.5 231L220.5 232M255.5 231L255.5 232M290.5 231L290.5 233M290.5 152L290.5 153M325.5 231L325.5 232M360.5 231L360.5 232M395.5 231L395.5 233M395.5 152L395.5 153M430.5 231L430.5 232M465.5 231L465.5 232M500.5 231L500.5 233M500.5 152L500.5 153M71 326.5L80 326.5M501 326.5L509 326.5M75 323.5L80 323.5M501 323.5L505 323.5M75 321.5L80 321.5M501 321.5L505 321.5M75 318.5L80 318.5M501 318.5L505 318.5M75 316.5L80 316.5M501 316.5L505 316.5M71 313.5L80 313.5M501 313.5L509 313.5M75 311.5L80 311.5M501 311.5L505 311.5M75 308.5L80 308.5M501 308.5L505 308.5M75 305.5L80 305.5M501 305.5L505 305.5M75 303.5L80 303.5M501 303.5L505 303.5M71 300.5L80 300.5M501 300.5L509 300.5M75 298.5L80 298.5M501 298.5L505 298.5M75 295.5L80 295.5M501 295.5L505 295.5M75 293.5L80 293.5M501 293.5L505 293.5M75 290.5L80 290.5M501 290.5L505 290.5M71 288.5L80 288.5M501 288.5L509 288.5M75 285.5L80 285.5M501 285.5L505 285.5M75 282.5L80 282.5M501 282.5L505 282.5M75 280.5L80 280.5M501 280.5L505 280.5M75 277.5L80 277.5M501 277.5L505 277.5M71 275.5L80 275.5M501 275.5L509 275.5M75 272.5L80 272.5M501 272.5L505 272.5M75 270.5L80 270.5M501 270.5L505 270.5M75 267.5L80 267.5M501 267.5L505 267.5M75 264.5L80 264.5M501 264.5L505 264.5M71 262.5L80 262.5M501 262.5L509 262.5M75 259.5L80 259.5M501 259.5L505 259.5M75 257.5L80 257.5M501 257.5L505 257.5M75 254.5L80 254.5M501 254.5L505 254.5M75 252.5L80 252.5M501 252.5L505 252.5M71 249.5L80 249.5M501 249.5L509 249.5M80.5 327L80.5 329M80.5 248L80.5 249M115.5 327L115.5 328M150.5 327L150.5 328M185.5 327L185.5 329M185.5 248L185.5 249M220.5 327L220.5 328M255.5 327L255.5 328M290.5 327L290.5 329M290.5 248L290.5 249M325.5 327L325.5 328M360.5 327L360.5 328M395.5 327L395.5 329M395.5 248L395.5 249M430.5 327L430.5 328M465.5 327L465.5 328M500.5 327L500.5 329M500.5 248L500.5 249M71 441.5L80 441.5M501 441.5L509 441.5M75 438.5L80 438.5M501 438.5L505 438.5M75 436.5L80 436.5M501 436.5L505 436.5M75 433.5L80 433.5M501 433.5L505 433.5M75 431.5L80 431.5M501 431.5L505 431.5M71 428.5L80 428.5M501 428.5L509 428.5M75 426.5L80 426.5M501 426.5L505 426.5M75 423.5L80 423.5M501 423.5L505 423.5M75 420.5L80 420.5M501 420.5L505 420.5M75 418.5L80 418.5M501 418.5L505 418.5M71 415.5L80 415.5M501 415.5L509 415.5M75 413.5L80 413.5M501 413.5L505 413.5M75 410.5L80 410.5M501 410.5L505 410.5M75 408.5L80 408.5M501 408.5L505 408.5M75 405.5L80 405.5M501 405.5L505 405.5M71 402.5L80 402.5M501 402.5L509 402.5M75 400.5L80 400.5M501 400.5L505 400.5M75 397.5L80 397.5M501 397.5L505 397.5M75 395.5L80 395.5M501 395.5L505 395.5M75 392.5L80 392.5M501 392.5L505 392.5M71 390.5L80 390.5M501 390.5L509 390.5M75 387.5L80 387.5M501 387.5L505 387.5M75 385.5L80 385.5M501 385.5L505 385.5M75 382.5L80 382.5M501 382.5L505 382.5M75 379.5L80 379.5M501 379.5L505 379.5M71 377.5L80 377.5M501 377.5L509 377.5M75 374.5L80 374.5M501 374.5L505 374.5M75 372.5L80 372.5M501 372.5L505 372.5M75 369.5L80 369.5M501 369.5L505 369.5M75 367.5L80 367.5M501 367.5L505 367.5M71 364.5L80 364.5M501 364.5L509 364.5M80.5 442L80.5 444M80.5 363L80.5 364M115.5 442L115.5 443M150.5 442L150.5 443M185.5 442L185.5 444M185.5 363L185.5 364M220.5 442L220.5 443M255.5 442L255.5 443M290.5 442L290.5 444M290.5 363L290.5 364M325.5 442L325.5 443M360.5 442L360.5 443M395.5 442L395.5 444M395.5 363L395.5 364M430.5 442L430.5 443M465.5 442L465.5 443M500.5 442L500.5 444M500.5 363L500.5 364M71 537.5L80 537.5M501 537.5L509 537.5M75 534.5L80 534.5M501 534.5L505 534.5M75 532.5L80 532.5M501 532.5L505 532.5M75 529.5L80 529.5M501 529.5L505 529.5M75 527.5L80 527.5M501 527.5L505 527.5M71 524.5L80 524.5M501 524.5L509 524.5M75 522.5L80 522.5M501 522.5L505 522.5M75 519.5L80 519.5M501 519.5L505 519.5M75 516.5L80 516.5M501 516.5L505 516.5M75 514.5L80 514.5M501 514.5L505 514.5M71 511.5L80 511.5M501 511.5L509 511.5M75 509.5L80 509.5M501 509.5L505 509.5M75 506.5L80 506.5M501 506.5L505 506.5M75 504.5L80 504.5M501 504.5L505 504.5M75 501.5L80 501.5M501 501.5L505 501.5M71 498.5L80 498.5M501 498.5L509 498.5M75 496.5L80 496.5M501 496.5L505 496.5M75 493.5L80 493.5M501 493.5L505 493.5M75 491.5L80 491.5M501 491.5L505 491.5M75 488.5L80 488.5M501 488.5L505 488.5M71 486.5L80 486.5M501 486.5L509 486.5M75 483.5L80 483.5M501 483.5L505 483.5M75 481.5L80 481.5M501 481.5L505 481.5M75 478.5L80 478.5M501 478.5L505 478.5M75 475.5L80 475.5M501 475.5L505 475.5M71 473.5L80 473.5M501 473.5L509 473.5M75 470.5L80 470.5M501 470.5L505 470.5M75 468.5L80 468.5M501 468.5L505 468.5M75 465.5L80 465.5M501 465.5L505 465.5M75 463.5L80 463.5M501 463.5L505 463.5M71 460.5L80 460.5M501 460.5L509 460.5M80.5 538L80.5 540M80.5 459L80.5 460M115.5 538L115.5 539M150.5 538L150.5 539M185.5 538L185.5 540M185.5 459L185.5 460M220.5 538L220.5 539M255.5 538L255.5 539M290.5 538L290.5 540M290.5 459L290.5 460M325.5 538L325.5 539M360.5 538L360.5 539M395.5 538L395.5 540M395.5 459L395.5 460M430.5 538L430.5 539M465.5 538L465.5 539M500.5 538L500.5 540M500.5 459L500.5 460M71 633.5L80 633.5M501 633.5L509 633.5M75 630.5L80 630.5M501 630.5L505 630.5M75 628.5L80 628.5M501 628.5L505 628.5M75 625.5L80 625.5M501 625.5L505 625.5M75 623.5L80 623.5M501 623.5L505 623.5M71 620.5L80 620.5M501 620.5L509 620.5M75 618.5L80 618.5M501 618.5L505 618.5M75 615.5L80 615.5M501 615.5L505 615.5M75 612.5L80 612.5M501 612.5L505 612.5M75 610.5L80 610.5M501 610.5L505 610.5M71 607.5L80 607.5M501 607.5L509 607.5M75 605.5L80 605.5M501 605.5L505 605.5M75 602.5L80 602.5M501 602.5L505 602.5M75 600.5L80 600.5M501 600.5L505 600.5M75 597.5L80 597.5M501 597.5L505 597.5M71 594.5L80 594.5M501 594.5L509 594.5M75 592.5L80 592.5M501 592.5L505 592.5M75 589.5L80 589.5M501 589.5L505 589.5M75 587.5L80 587.5M501 587.5L505 587.5M75 584.5L80 584.5M501 584.5L505 584.5M71 582.5L80 582.5M501 582.5L509 582.5M75 579.5L80 579.5M501 579.5L505 579.5M75 577.5L80 577.5M501 577.5L505 577.5M75 574.5L80 574.5M501 574.5L505 574.5M75 571.5L80 571.5M501 571.5L505 571.5M71 569.5L80 569.5M501 569.5L509 569.5M75 566.5L80 566.5M501 566.5L505 566.5M75 564.5L80 564.5M501 564.5L505 564.5M75 561.5L80 561.5M501 561.5L505 561.5M75 559.5L80 559.5M501 559.5L505 559.5M71 556.5L80 556.5M501 556.5L509 556.5M80.5 634L80.5 636M80.5 555L80.5 556M115.5 634L115.5 635M150.5 634L150.5 635M185.5 634L185.5 636M185.5 555L185.5 556M220.5 634L220.5 635M255.5 634L255.5 635M290.5 634L290.5 636M290.5 555L290.5 556M325.5 634L325.5 635M360.5 634L360.5 635M395.5 634L395.5 636M395.5 555L395.5 556M430.5 634L430.5 635M465.5 634L465.5 635M500.5 634L500.5 636M500.5 555L500.5 556" stroke="#000" stroke-width="1" fill="none" shape-rendering="crispEdges"/>
<rect x="580" y="57" width="21" height="78" fill="url(#g510)"/>
<rect x="580.5" y="57.5" width="20" height="77" fill="none" stroke="#000"/>
<rect x="580" y="153" width="21" height="78" fill="url(#g510)"/>
<rect x="580.5" y="153.5" width="20" height="77" fill="none" stroke="#000"/>
<rect x="580" y="249" width="21" height="78" fill="url(#g510)"/>
<rect x="580.5" y="249.5" width="20" height="77" fill="none" stroke="#000"/>
<rect x="580" y="364" width="21" height="78" fill="url(#g510)"/>
<rect x="580.5" y="364.5" width="20" height="77" fill="none" stroke="#000"/>
<rect x="580" y="460" width="21" height="78" fill="url(#g510)"/>
<rect x="580.5" y="460.5" width="20" height="77" fill="none" stroke="#000"/>
<rect x="580" y="556" width="21" height="78" fill="url(#g510)"/>
<rect x="580.5" y="556.5" width="20" height="77" fill="none" stroke="#000"/>
<path d="M576 57.5L580 57.5M601 57.5L605 57.5M578 70.5L580 70.5M601 70.5L603 70.5M578 67.5L580 67.5M601 67.5L603 67.5M578 65.5L580 65.5M601 65.5L603 65.5M578 63.5L580 63.5M601 63.5L603 63.5M578 61.5L580 61.5M601 61.5L603 61.5M578 60.5L580 60.5M601 60.5L603 60.5M578 59.5L580 59.5M601 59.5L603 59.5M578 58.5L580 58.5M601 58.5L603 58.5M576 76.5L580 76.5M601 76.5L605 76.5M578 90.5L580 90.5M601 90.5L603 90.5M578 86.5L580 86.5M601 86.5L603 86.5M578 84.5L580 84.5M601 84.5L603 84.5M578 82.5L580 82.5M601 82.5L603 82.5M578 81.5L580 81.5M601 81.5L603 81.5M578 79.5L580 79.5M601 79.5L603 79.5M578 78.5L580 78.5M601 78.5L603 78.5M578 77.5L580 77.5M601 77.5L603 77.5M576 96.5L580 96.5M601 96.5L605 96.5M578 109.5L580 109.5M601 109.5L603 109.5M578 106.5L580 106.5M601 106.5L603 106.5M578 103.5L580 103.5M601 103.5L603 103.5M578 101.5L580 101.5M601 101.5L603 101.5M578 100.5L580 100.5M601 100.5L603 100.5M578 98.5L580 98.5M601 98.5L603 98.5M578 97.5L580 97.5M601 97.5L603 97.5M578 96.5L580 96.5M601 96.5L603 96.5M576 115.5L580 115.5M601 115.5L605 115.5M578 128.5L580 128.5M601 128.5L603 128.5M578 125.5L580 125.5M601 125.5L603 125.5M578 122.5L580 122.5M601 122.5L603 122.5M578 121.5L580 121.5M601 121.5L603 121.5M578 119.5L580 119.5M601 119.5L603 119.5M578 118.5L580 118.5M601 118.5L603 118.5M578 117.5L580 117.5M601 117.5L603 117.5M578 116.5L580 116.5M601 116.5L603 116.5M576 134.5L580 134.5M601 134.5L605 134.5M576 153.5L580 153.5M601 153.5L605 153.5M578 166.5L580 166.5M601 166.5L603 166.5M578 163.5L580 163.5M601 163.5L603 163.5M578 161.5L580 161.5M601 161.5L603 161.5M578 159.5L580 159.5M601 159.5L603 159.5M578 157.5L580 157.5M601 157.5L603 157.5M578 156.5L580 156.5M601 156.5L603 156.5M578 155.5L580 155.5M601 155.5L603 155.5M578 154.5L580 154.5M601 154.5L603 154.5M576 172.5L580 172.5M601 172.5L605 172.5M578 186.5L580 186.5M601 186.5L603 186.5M578 182.5L580 182.5M601 182.5L603 182.5M578 180.5L580 180.5M601 180.5L603 180.5M578 178.5L580 178.5M601 178.5L603 178.5M578 177.5L580 177.5M601 177.5L603 177.5M578 175.5L580 175.5M601 175.5L603 175.5M578 174.5L580 174.5M601 174.5L603 174.5M578 173.5L580 173.5M601 173.5L603 173.5M576 192.5L580 192.5M601 192.5L605 192.5M578 205.5L580 205.5M601 205.5L603 205.5M578 202.5L580 202.5M601 202.5L603 202.5M578 199.5L580 199.5M601 199.5L603 199.5M578 197.5L580 197.5M601 197.5L603 197.5M578 196.5L580 196.5M601 196.5L603 196.5M578 194.5L580 194.5M601 194.5L603 194.5M578 193.5L580 193.5M601 193.5L603 193.5M578 192.5L580 192.5M601 192.5L603 192.5M576 211.5L580 211.5M601 211.5L605 211.5M578 224.5L580 224.5M601 224.5L603 224.5M578 221.5L580 221.5M601 221.5L603 221.5M578 218.5L580 218.5M601 218.5L603 218.5M578 217.5L580 217.5M601 217.5L603 217.5M578 215.5L580 215.5M601 215.5L603 215.5M578 214.5L580 214.5M601 214.5L603 214.5M578 213.5L580 213.5M601 213.5L603 213.5M578 212.5L580 212.5M601 212.5L603 212.5M576 230.5L580 230.5M601 230.5L605 230.5M576 249.5L580 249.5M601 249.5L605 249.5M578 267.5L580 267.5M601 267.5L603 267.5M578 262.5L580 262.5M601 262.5L603 262.5M578 259.5L580 259.5M601 259.5L603 259.5M578 257.5L580 257.5M601 257.5L603 257.5M578 255.5L580 255.5M601 255.5L603 255.5M578 253.5L580 253.5M601 253.5L603 253.5M578 251.5L580 251.5M601 251.5L603 251.5M578 250.5L580 250.5M601 250.5L603 250.5M576 275.5L580 275.5M601 275.5L605 275.5M578 293.5L580 293.5M601 293.5L603 293.5M578 288.5L580 288.5M601 288.5L603 288.5M578 285.5L580 285.5M601 285.5L603 285.5M578 282.5L580 282.5M601 282.5L603 282.5M578 280.5L580 280.5M601 280.5L603 280.5M578 279.5L580 279.5M601 279.5L603 279.5M578 277.5L580 277.5M601 277.5L603 277.5M578 276.5L580 276.5M601 276.5L603 276.5M576 300.5L580 300.5M601 300.5L605 300.5M578 318.5L580 318.5M601 318.5L603 318.5M578 314.5L580 314.5M601 314.5L603 314.5M578 311.5L580 311.5M601 311.5L603 311.5M578 308.5L580 308.5M601 308.5L603 308.5M578 306.5L580 306.5M601 306.5L603 306.5M578 304.5L580 304.5M601 304.5L603 304.5M578 303.5L580 303.5M601 303.5L603 303.5M578 302.5L580 302.5M601 302.5L603 302.5M576 326.5L580 326.5M601 326.5L605 326.5M576 364.5L580 364.5M601 364.5L605 364.5M578 375.5L580 375.5M601 375.5L603 375.5M578 372.5L580 372.5M601 372.5L603 372.5M578 370.5L580 370.5M601 370.5L603 370.5M578 369.5L580 369.5M601 369.5L603 369.5M578 367.5L580 367.5M601 367.5L603 367.5M578 366.5L580 366.5M601 366.5L603 366.5M578 365.5L580 365.5M601 365.5L603 365.5M578 365.5L580 365.5M601 365.5L603 365.5M576 379.5L580 379.5M601 379.5L605 379.5M578 390.5L580 390.5M601 390.5L603 390.5M578 387.5L580 387.5M601 387.5L603 387.5M578 386.5L580 386.5M601 386.5L603 386.5M578 384.5L580 384.5M601 384.5L603 384.5M578 383.5L580 383.5M601 383.5L603 383.5M578 382.5L580 382.5M601 382.5L603 382.5M578 381.5L580 381.5M601 381.5L603 381.5M578 380.5L580 380.5M601 380.5L603 380.5M576 395.5L580 395.5M601 395.5L605 395.5M578 406.5L580 406.5M601 406.5L603 406.5M578 403.5L580 403.5M601 403.5L603 403.5M578 401.5L580 401.5M601 401.5L603 401.5M578 399.5L580 399.5M601 399.5L603 399.5M578 398.5L580 398.5M601 398.5L603 398.5M578 397.5L580 397.5M601 397.5L603 397.5M578 396.5L580 396.5M601 396.5L603 396.5M578 396.5L580 396.5M601 396.5L603 396.5M576 410.5L580 410.5M601 410.5L605 410.5M578 421.5L580 421.5M601 421.5L603 421.5M578 418.5L580 418.5M601 418.5L603 418.5M578 416.5L580 416.5M601 416.5L603 416.5M578 415.5L580 415.5M601 415.5L603 415.5M578 414.5L580 414.5M601 414.5L603 414.5M578 413.5L580 413.5M601 413.5L603 413.5M578 412.5L580 412.5M601 412.5L603 412.5M578 411.5L580 411.5M601 411.5L603 411.5M576 426.5L580 426.5M601 426.5L605 426.5M578 436.5L580 436.5M601 436.5L603 436.5M578 434.5L580 434.5M601 434.5L603 434.5M578 432.5L580 432.5M601 432.5L603 432.5M578 430.5L580 430.5M601 430.5L603 430.5M578 429.5L580 429.5M601 429.5L603 429.5M578 428.5L580 428.5M601 428.5L603 428.5M578 427.5L580 427.5M601 427.5L603 427.5M578 426.5L580 426.5M601 426.5L603 426.5M576 441.5L580 441.5M601 441.5L605 441.5M576 460.5L580 460.5M601 460.5L605 460.5M578 471.5L580 471.5M601 471.5L603 471.5M578 468.5L580 468.5M601 468.5L603 468.5M578 466.5L580 466.5M601 466.5L603 466.5M578 465.5L580 465.5M601 465.5L603 465.5M578 463.5L580 463.5M601 463.5L603 463.5M578 462.5L580 462.5M601 462.5L603 462.5M578 461.5L580 461.5M601 461.5L603 461.5M578 461.5L580 461.5M601 461.5L603 461.5M576 475.5L580 475.5M601 475.5L605 475.5M578 486.5L580 486.5M601 486.5L603 486.5M578 483.5L580 483.5M601 483.5L603 483.5M578 482.5L580 482.5M601 482.5L603 482.5M578 480.5L580 480.5M601 480.5L603 480.5M578 479.5L580 479.5M601 479.5L603 479.5M578 478.5L580 478.5M601 478.5L603 478.5M578 477.5L580 477.5M601 477.5L603 477.5M578 476.5L580 476.5M601 476.5L603 476.5M576 491.5L580 491.5M601 491.5L605 491.5M578 502.5L580 502.5M601 502.5L603 502.5M578 499.5L580 499.5M601 499.5L603 499.5M578 497.5L580 497.5M601 497.5L603 497.5M578 495.5L580 495.5M601 495.5L603 495.5M578 494.5L580 494.5M601 494.5L603 494.5M578 493.5L580 493.5M601 493.5L603 493.5M578 492.5L580 492.5M601 492.5L603 492.5M578 492.5L580 492.5M601 492.5L603 492.5M576 506.5L580 506.5M601 506.5L605 506.5M578 517.5L580 517.5M601 517.5L603 517.5M578 514.5L580 514.5M601 514.5L603 514.5M578 512.5L580 512.5M601 512.5L603 512.5M578 511.5L580 511.5M601 511.5L603 511.5M578 510.5L580 510.5M601 510.5L603 510.5M578 509.5L580 509.5M601 509.5L603 509.5M578 508.5L580 508.5M601 508.5L603 508.5M578 507.5L580 507.5M601 507.5L603 507.5M576 522.5L580 522.5M601 522.5L605 522.5M578 532.5L580 532.5M601 532.5L603 532.5M578 530.5L580 530.5M601 530.5L603 530.5M578 528.5L580 528.5M601 528.5L603 528.5M578 526.5L580 526.5M601 526.5L603 526.5M578 525.5L580 525.5M601 525.5L603 525.5M578 524.5L580 524.5M601 524.5L603 524.5M578 523.5L580 523.5M601 523.5L603 523.5M578 522.5L580 522.5M601 522.5L603 522.5M576 537.5L580 537.5M601 537.5L605 537.5M576 556.5L580 556.5M601 556.5L605 556.5M578 567.5L580 567.5M601 567.5L603 567.5M578 564.5L580 564.5M601 564.5L603 564.5M578 562.5L580 562.5M601 562.5L603 562.5M578 561.5L580 561.5M601 561.5L603 561.5M578 559.5L580 559.5M601 559.5L603 559.5M578 558.5L580 558.5M601 558.5L603 558.5M578 557.5L580 557.5M601 557.5L603 557.5M578 557.5L580 557.5M601 557.5L603 557.5M576 571.5L580 571.5M601 571.5L605 571.5M578 582.5L580 582.5M601 582.5L603 582.5M578 579.5L580 579.5M601 579.5L603 579.5M578 578.5L580 578.5M601 578.5L603 578.5M578 576.5L580 576.5M601 576.5L603 576.5M578 575.5L580 575.5M601 575.5L603 575.5M578 574.5L580 574.5M601 574.5L603 574.5M578 573.5L580 573.5M601 573.5L603 573.5M578 572.5L580 572.5M601 572.5L603 572.5M576 587.5L580 587.5M601 587.5L605 587.5M578 598.5L580 598.5M601 598.5L603 598.5M578 595.5L580 595.5M601 595.5L603 595.5M578 593.5L580 593.5M601 593.5L603 593.5M578 591.5L580 591.5M601 591.5L603 591.5M578 590.5L580 590.5M601 590.5L603 590.5M578 589.5L580 589.5M601 589.5L603 589.5M578 588.5L580 588.5M601 588.5L603 588.5M578 588.5L580 588.5M601 588.5L603 588.5M576 602.5L580 602.5M601 602.5L605 602.5M578 613.5L580 613.5M601 613.5L603 613.5M578 610.5L580 610.5M601 610.5L603 610.5M578 608.5L580 608.5M601 608.5L603 608.5M578 607.5L580 607.5M601 607.5L603 607.5M578 606.5L580 606.5M601 606.5L603 606.5M578 605.5L580 605.5M601 605.5L603 605.5M578 604.5L580 604.5M601 604.5L603 604.5M578 603.5L580 603.5M601 603.5L603 603.5M576 618.5L580 618.5M601 618.5L605 618.5M578 628.5L580 628.5M601 628.5L603 628.5M578 626.5L580 626.5M601 626.5L603 626.5M578 624.5L580 624.5M601 624.5L603 624.5M578 622.5L580 622.5M601 622.5L603 622.5M578 621.5L580 621.5M601 621.5L603 621.5M578 620.5L580 620.5M601 620.5L603 620.5M578 619.5L580 619.5M601 619.5L603 619.5M578 618.5L580 618.5M601 618.5L603 618.5M576 633.5L580 633.5M601 633.5L605 633.5" stroke="#000" stroke-width="1" fill="none" shape-rendering="crispEdges"/>
<text x="121.2" y="32.5" font-size="15.78" textLength="337.4" lengthAdjust="spacingAndGlyphs">Polar PWI LFWR Channels 1 – 6 Despun</text>
<text x="562.1" y="36.8" font-size="8.66" textLength="55.8" lengthAdjust="spacingAndGlyphs" stroke="#000" stroke-width="0.3">(V/m)²/Hz</text>
<text x="572.4" y="343.8" font-size="8.66" textLength="34" lengthAdjust="spacingAndGlyphs" stroke="#000" stroke-width="0.3">nT²/Hz</text>
<text transform="translate(38.6 96.7) rotate(-90)" x="-42" y="0" font-size="12.57" textLength="84" lengthAdjust="spacingAndGlyphs">Ex' freq (Hz)</text>
<text x="59.5" y="134.5" font-size="12.57" textLength="7" lengthAdjust="spacingAndGlyphs">0</text>
<text x="59.5" y="126.17" font-size="12.57" textLength="7" lengthAdjust="spacingAndGlyphs">5</text>
<text x="50.7" y="113.33" font-size="12.57" textLength="15.8" lengthAdjust="spacingAndGlyphs">10</text>
<text x="50.7" y="100.5" font-size="12.57" textLength="15.8" lengthAdjust="spacingAndGlyphs">15</text>
<text x="50.7" y="87.67" font-size="12.57" textLength="15.8" lengthAdjust="spacingAndGlyphs">20</text>
<text x="50.7" y="74.83" font-size="12.57" textLength="15.8" lengthAdjust="spacingAndGlyphs">25</text>
<text x="50.7" y="66.3" font-size="12.57" textLength="15.8" lengthAdjust="spacingAndGlyphs">30</text>
<text transform="translate(38.6 192.7) rotate(-90)" x="-42" y="0" font-size="12.57" textLength="84" lengthAdjust="spacingAndGlyphs">Ey' freq (Hz)</text>
<text x="59.5" y="230.5" font-size="12.57" textLength="7" lengthAdjust="spacingAndGlyphs">0</text>
<text x="59.5" y="222.17" font-size="12.57" textLength="7" lengthAdjust="spacingAndGlyphs">5</text>
<text x="50.7" y="209.33" font-size="12.57" textLength="15.8" lengthAdjust="spacingAndGlyphs">10</text>
<text x="50.7" y="196.5" font-size="12.57" textLength="15.8" lengthAdjust="spacingAndGlyphs">15</text>
<text x="50.7" y="183.67" font-size="12.57" textLength="15.8" lengthAdjust="spacingAndGlyphs">20</text>
<text x="50.7" y="170.83" font-size="12.57" textLength="15.8" lengthAdjust="spacingAndGlyphs">25</text>
<text x="50.7" y="162.3" font-size="12.57" textLength="15.8" lengthAdjust="spacingAndGlyphs">30</text>
<text transform="translate(38.6 288.7) rotate(-90)" x="-41.25" y="0" font-size="12.57" textLength="82.5" lengthAdjust="spacingAndGlyphs">Ez freq (Hz)</text>
<text x="59.5" y="326.5" font-size="12.57" textLength="7" lengthAdjust="spacingAndGlyphs">0</text>
<text x="59.5" y="318.17" font-size="12.57" textLength="7" lengthAdjust="spacingAndGlyphs">5</text>
<text x="50.7" y="305.33" font-size="12.57" textLength="15.8" lengthAdjust="spacingAndGlyphs">10</text>
<text x="50.7" y="292.5" font-size="12.57" textLength="15.8" lengthAdjust="spacingAndGlyphs">15</text>
<text x="50.7" y="279.67" font-size="12.57" textLength="15.8" lengthAdjust="spacingAndGlyphs">20</text>
<text x="50.7" y="266.83" font-size="12.57" textLength="15.8" lengthAdjust="spacingAndGlyphs">25</text>
<text x="50.7" y="258.3" font-size="12.57" textLength="15.8" lengthAdjust="spacingAndGlyphs">30</text>
<text transform="translate(38.6 403.7) rotate(-90)" x="-42" y="0" font-size="12.57" textLength="84" lengthAdjust="spacingAndGlyphs">Bx' freq (Hz)</text>
<text x="59.5" y="441.5" font-size="12.57" textLength="7" lengthAdjust="spacingAndGlyphs">0</text>
<text x="59.5" y="433.17" font-size="12.57" textLength="7" lengthAdjust="spacingAndGlyphs">5</text>
<text x="50.7" y="420.33" font-size="12.57" textLength="15.8" lengthAdjust="spacingAndGlyphs">10</text>
<text x="50.7" y="407.5" font-size="12.57" textLength="15.8" lengthAdjust="spacingAndGlyphs">15</text>
<text x="50.7" y="394.67" font-size="12.57" textLength="15.8" lengthAdjust="spacingAndGlyphs">20</text>
<text x="50.7" y="381.83" font-size="12.57" textLength="15.8" lengthAdjust="spacingAndGlyphs">25</text>
<text x="50.7" y="373.3" font-size="12.57" textLength="15.8" lengthAdjust="spacingAndGlyphs">30</text>
<text transform="translate(38.6 499.7) rotate(-90)" x="-42" y="0" font-size="12.57" textLength="84" lengthAdjust="spacingAndGlyphs">By' freq (Hz)</text>
<text x="59.5" y="537.5" font-size="12.57" textLength="7" lengthAdjust="spacingAndGlyphs">0</text>
<text x="59.5" y="529.17" font-size="12.57" textLength="7" lengthAdjust="spacingAndGlyphs">5</text>
<text x="50.7" y="516.33" font-size="12.57" textLength="15.8" lengthAdjust="spacingAndGlyphs">10</text>
<text x="50.7" y="503.5" font-size="12.57" textLength="15.8" lengthAdjust="spacingAndGlyphs">15</text>
<text x="50.7" y="490.67" font-size="12.57" textLength="15.8" lengthAdjust="spacingAndGlyphs">20</text>
<text x="50.7" y="477.83" font-size="12.57" textLength="15.8" lengthAdjust="spacingAndGlyphs">25</text>
<text x="50.7" y="469.3" font-size="12.57" textLength="15.8" lengthAdjust="spacingAndGlyphs">30</text>
<text transform="translate(38.6 595.7) rotate(-90)" x="-41.25" y="0" font-size="12.57" textLength="82.5" lengthAdjust="spacingAndGlyphs">Bz freq (Hz)</text>
<text x="59.5" y="633.5" font-size="12.57" textLength="7" lengthAdjust="spacingAndGlyphs">0</text>
<text x="59.5" y="625.17" font-size="12.57" textLength="7" lengthAdjust="spacingAndGlyphs">5</text>
<text x="50.7" y="612.33" font-size="12.57" textLength="15.8" lengthAdjust="spacingAndGlyphs">10</text>
<text x="50.7" y="599.5" font-size="12.57" textLength="15.8" lengthAdjust="spacingAndGlyphs">15</text>
<text x="50.7" y="586.67" font-size="12.57" textLength="15.8" lengthAdjust="spacingAndGlyphs">20</text>
<text x="50.7" y="573.83" font-size="12.57" textLength="15.8" lengthAdjust="spacingAndGlyphs">25</text>
<text x="50.7" y="565.3" font-size="12.57" textLength="15.8" lengthAdjust="spacingAndGlyphs">30</text>
<text x="536" y="66.8" font-size="12.57" textLength="15.7" lengthAdjust="spacingAndGlyphs">10</text>
<text x="552.5" y="59.6" font-size="12.57" textLength="19.4" lengthAdjust="spacingAndGlyphs">−6</text>
<text x="536" y="81.75" font-size="12.57" textLength="15.7" lengthAdjust="spacingAndGlyphs">10</text>
<text x="552.5" y="74.55" font-size="12.57" textLength="19.4" lengthAdjust="spacingAndGlyphs">−7</text>
<text x="536" y="101" font-size="12.57" textLength="15.7" lengthAdjust="spacingAndGlyphs">10</text>
<text x="552.5" y="93.8" font-size="12.57" textLength="19.4" lengthAdjust="spacingAndGlyphs">−8</text>
<text x="536" y="120.25" font-size="12.57" textLength="15.7" lengthAdjust="spacingAndGlyphs">10</text>
<text x="552.5" y="113.05" font-size="12.57" textLength="19.4" lengthAdjust="spacingAndGlyphs">−9</text>
<text x="528.4" y="134.4" font-size="12.57" textLength="15.7" lengthAdjust="spacingAndGlyphs">10</text>
<text x="544.9" y="127.2" font-size="12.57" textLength="27" lengthAdjust="spacingAndGlyphs">−10</text>
<text x="536" y="162.8" font-size="12.57" textLength="15.7" lengthAdjust="spacingAndGlyphs">10</text>
<text x="552.5" y="155.6" font-size="12.57" textLength="19.4" lengthAdjust="spacingAndGlyphs">−6</text>
<text x="536" y="177.75" font-size="12.57" textLength="15.7" lengthAdjust="spacingAndGlyphs">10</text>
<text x="552.5" y="170.55" font-size="12.57" textLength="19.4" lengthAdjust="spacingAndGlyphs">−7</text>
<text x="536" y="197" font-size="12.57" textLength="15.7" lengthAdjust="spacingAndGlyphs">10</text>
<text x="552.5" y="189.8" font-size="12.57" textLength="19.4" lengthAdjust="spacingAndGlyphs">−8</text>
<text x="536" y="216.25" font-size="12.57" textLength="15.7" lengthAdjust="spacingAndGlyphs">10</text>
<text x="552.5" y="209.05" font-size="12.57" textLength="19.4" lengthAdjust="spacingAndGlyphs">−9</text>
<text x="528.4" y="230.4" font-size="12.57" textLength="15.7" lengthAdjust="spacingAndGlyphs">10</text>
<text x="544.9" y="223.2" font-size="12.57" textLength="27" lengthAdjust="spacingAndGlyphs">−10</text>
<text x="536" y="258.8" font-size="12.57" textLength="15.7" lengthAdjust="spacingAndGlyphs">10</text>
<text x="552.5" y="251.6" font-size="12.57" textLength="19.4" lengthAdjust="spacingAndGlyphs">−6</text>
<text x="536" y="280.17" font-size="12.57" textLength="15.7" lengthAdjust="spacingAndGlyphs">10</text>
<text x="552.5" y="272.97" font-size="12.57" textLength="19.4" lengthAdjust="spacingAndGlyphs">−7</text>
<text x="536" y="305.83" font-size="12.57" textLength="15.7" lengthAdjust="spacingAndGlyphs">10</text>
<text x="552.5" y="298.63" font-size="12.57" textLength="19.4" lengthAdjust="spacingAndGlyphs">−8</text>
<text x="536" y="326.4" font-size="12.57" textLength="15.7" lengthAdjust="spacingAndGlyphs">10</text>
<text x="552.5" y="319.2" font-size="12.57" textLength="19.4" lengthAdjust="spacingAndGlyphs">−9</text>
<text x="536" y="373.8" font-size="12.57" textLength="15.7" lengthAdjust="spacingAndGlyphs">10</text>
<text x="552.5" y="366.6" font-size="12.57" textLength="19.4" lengthAdjust="spacingAndGlyphs">−1</text>
<text x="536" y="384.9" font-size="12.57" textLength="15.7" lengthAdjust="spacingAndGlyphs">10</text>
<text x="552.5" y="377.7" font-size="12.57" textLength="19.4" lengthAdjust="spacingAndGlyphs">−2</text>
<text x="536" y="400.3" font-size="12.57" textLength="15.7" lengthAdjust="spacingAndGlyphs">10</text>
<text x="552.5" y="393.1" font-size="12.57" textLength="19.4" lengthAdjust="spacingAndGlyphs">−3</text>
<text x="536" y="415.7" font-size="12.57" textLength="15.7" lengthAdjust="spacingAndGlyphs">10</text>
<text x="552.5" y="408.5" font-size="12.57" textLength="19.4" lengthAdjust="spacingAndGlyphs">−4</text>
<text x="536" y="431.1" font-size="12.57" textLength="15.7" lengthAdjust="spacingAndGlyphs">10</text>
<text x="552.5" y="423.9" font-size="12.57" textLength="19.4" lengthAdjust="spacingAndGlyphs">−5</text>
<text x="536" y="441.4" font-size="12.57" textLength="15.7" lengthAdjust="spacingAndGlyphs">10</text>
<text x="552.5" y="434.2" font-size="12.57" textLength="19.4" lengthAdjust="spacingAndGlyphs">−6</text>
<text x="536" y="469.8" font-size="12.57" textLength="15.7" lengthAdjust="spacingAndGlyphs">10</text>
<text x="552.5" y="462.6" font-size="12.57" textLength="19.4" lengthAdjust="spacingAndGlyphs">−1</text>
<text x="536" y="480.9" font-size="12.57" textLength="15.7" lengthAdjust="spacingAndGlyphs">10</text>
<text x="552.5" y="473.7" font-size="12.57" textLength="19.4" lengthAdjust="spacingAndGlyphs">−2</text>
<text x="536" y="496.3" font-size="12.57" textLength="15.7" lengthAdjust="spacingAndGlyphs">10</text>
<text x="552.5" y="489.1" font-size="12.57" textLength="19.4" lengthAdjust="spacingAndGlyphs">−3</text>
<text x="536" y="511.7" font-size="12.57" textLength="15.7" lengthAdjust="spacingAndGlyphs">10</text>
<text x="552.5" y="504.5" font-size="12.57" textLength="19.4" lengthAdjust="spacingAndGlyphs">−4</text>
<text x="536" y="527.1" font-size="12.57" textLength="15.7" lengthAdjust="spacingAndGlyphs">10</text>
<text x="552.5" y="519.9" font-size="12.57" textLength="19.4" lengthAdjust="spacingAndGlyphs">−5</text>
<text x="536" y="537.4" font-size="12.57" textLength="15.7" lengthAdjust="spacingAndGlyphs">10</text>
<text x="552.5" y="530.2" font-size="12.57" textLength="19.4" lengthAdjust="spacingAndGlyphs">−6</text>
<text x="536" y="565.8" font-size="12.57" textLength="15.7" lengthAdjust="spacingAndGlyphs">10</text>
<text x="552.5" y="558.6" font-size="12.57" textLength="19.4" lengthAdjust="spacingAndGlyphs">−1</text>
<text x="536" y="576.9" font-size="12.57" textLength="15.7" lengthAdjust="spacingAndGlyphs">10</text>
<text x="552.5" y="569.7" font-size="12.57" textLength="19.4" lengthAdjust="spacingAndGlyphs">−2</text>
<text x="536" y="592.3" font-size="12.57" textLength="15.7" lengthAdjust="spacingAndGlyphs">10</text>
<text x="552.5" y="585.1" font-size="12.57" textLength="19.4" lengthAdjust="spacingAndGlyphs">−3</text>
<text x="536" y="607.7" font-size="12.57" textLength="15.7" lengthAdjust="spacingAndGlyphs">10</text>
<text x="552.5" y="600.5" font-size="12.57" textLength="19.4" lengthAdjust="spacingAndGlyphs">−4</text>
<text x="536" y="623.1" font-size="12.57" textLength="15.7" lengthAdjust="spacingAndGlyphs">10</text>
<text x="552.5" y="615.9" font-size="12.57" textLength="19.4" lengthAdjust="spacingAndGlyphs">−5</text>
<text x="536" y="633.4" font-size="12.57" textLength="15.7" lengthAdjust="spacingAndGlyphs">10</text>
<text x="552.5" y="626.2" font-size="12.57" textLength="19.4" lengthAdjust="spacingAndGlyphs">−6</text>
<text x="15.4" y="653.6" font-size="12.57" textLength="32.7" lengthAdjust="spacingAndGlyphs">SCET</text>
<text x="49.8" y="653.6" font-size="12.57" textLength="60.6" lengthAdjust="spacingAndGlyphs">00:00 16</text>
<text x="154.8" y="653.6" font-size="12.57" textLength="60.6" lengthAdjust="spacingAndGlyphs">06:00 16</text>
<text x="259.8" y="653.6" font-size="12.57" textLength="60.6" lengthAdjust="spacingAndGlyphs">12:00 16</text>
<text x="364.8" y="653.6" font-size="12.57" textLength="60.6" lengthAdjust="spacingAndGlyphs">18:00 16</text>
<text x="469.8" y="653.6" font-size="12.57" textLength="60.6" lengthAdjust="spacingAndGlyphs">00:00 17</text>
<text x="35.2" y="671.6" font-size="12.57" textLength="8.1" lengthAdjust="spacingAndGlyphs">R</text>
<text x="43" y="675.2" font-size="8.8" textLength="5.8" lengthAdjust="spacingAndGlyphs" stroke="#000" stroke-width="0.3">E</text>
<text x="71.59" y="671.6" font-size="12.57" textLength="29.61" lengthAdjust="spacingAndGlyphs">7.52</text>
<text x="176.59" y="671.6" font-size="12.57" textLength="29.61" lengthAdjust="spacingAndGlyphs">3.46</text>
<text x="281.59" y="671.6" font-size="12.57" textLength="29.61" lengthAdjust="spacingAndGlyphs">8.72</text>
<text x="386.59" y="671.6" font-size="12.57" textLength="29.61" lengthAdjust="spacingAndGlyphs">7.22</text>
<text x="491.59" y="671.6" font-size="12.57" textLength="29.61" lengthAdjust="spacingAndGlyphs">4.08</text>
<text x="32.6" y="689.6" font-size="12.57" textLength="7.2" lengthAdjust="spacingAndGlyphs">λ</text>
<text x="39.4" y="693.2" font-size="8.8" textLength="9" lengthAdjust="spacingAndGlyphs" stroke="#000" stroke-width="0.3">m</text>
<text x="63.02" y="689.6" font-size="12.57" textLength="38.18" lengthAdjust="spacingAndGlyphs">48.79</text>
<text x="169.62" y="689.6" font-size="12.57" textLength="36.58" lengthAdjust="spacingAndGlyphs">11.26</text>
<text x="273.02" y="689.6" font-size="12.57" textLength="38.18" lengthAdjust="spacingAndGlyphs">75.25</text>
<text x="378.02" y="689.6" font-size="12.57" textLength="38.18" lengthAdjust="spacingAndGlyphs">49.92</text>
<text x="483.02" y="689.6" font-size="12.57" textLength="38.18" lengthAdjust="spacingAndGlyphs">36.74</text>
<text x="23.8" y="707.6" font-size="12.57" textLength="24.8" lengthAdjust="spacingAndGlyphs">MLT</text>
<text x="71.59" y="707.6" font-size="12.57" textLength="29.61" lengthAdjust="spacingAndGlyphs">5.37</text>
<text x="169.62" y="707.6" font-size="12.57" textLength="36.58" lengthAdjust="spacingAndGlyphs">17.77</text>
<text x="274.62" y="707.6" font-size="12.57" textLength="36.58" lengthAdjust="spacingAndGlyphs">19.82</text>
<text x="386.59" y="707.6" font-size="12.57" textLength="29.61" lengthAdjust="spacingAndGlyphs">4.50</text>
<text x="484.62" y="707.6" font-size="12.57" textLength="36.58" lengthAdjust="spacingAndGlyphs">17.42</text>
<text x="41.4" y="725.6" font-size="12.57" textLength="7.2" lengthAdjust="spacingAndGlyphs">L</text>
<text x="64.62" y="725.6" font-size="12.57" textLength="36.58" lengthAdjust="spacingAndGlyphs">17.21</text>
<text x="176.59" y="725.6" font-size="12.57" textLength="29.61" lengthAdjust="spacingAndGlyphs">3.53</text>
<text x="266.05" y="725.6" font-size="12.57" textLength="45.15" lengthAdjust="spacingAndGlyphs">133.84</text>
<text x="379.62" y="725.6" font-size="12.57" textLength="36.58" lengthAdjust="spacingAndGlyphs">17.26</text>
<text x="491.59" y="725.6" font-size="12.57" textLength="29.61" lengthAdjust="spacingAndGlyphs">6.40</text>
<text x="147.4" y="743.5" font-size="12.57" textLength="287.2" lengthAdjust="spacingAndGlyphs">1997/01/16 00:00 to 1997/01/17 00:00</text>
<text x="569.9" y="766.3" font-size="8.38" textLength="66.7" lengthAdjust="spacingAndGlyphs" font-weight="bold" stroke="none">UIowa 19980803</text>
</svg>
</body></html>
